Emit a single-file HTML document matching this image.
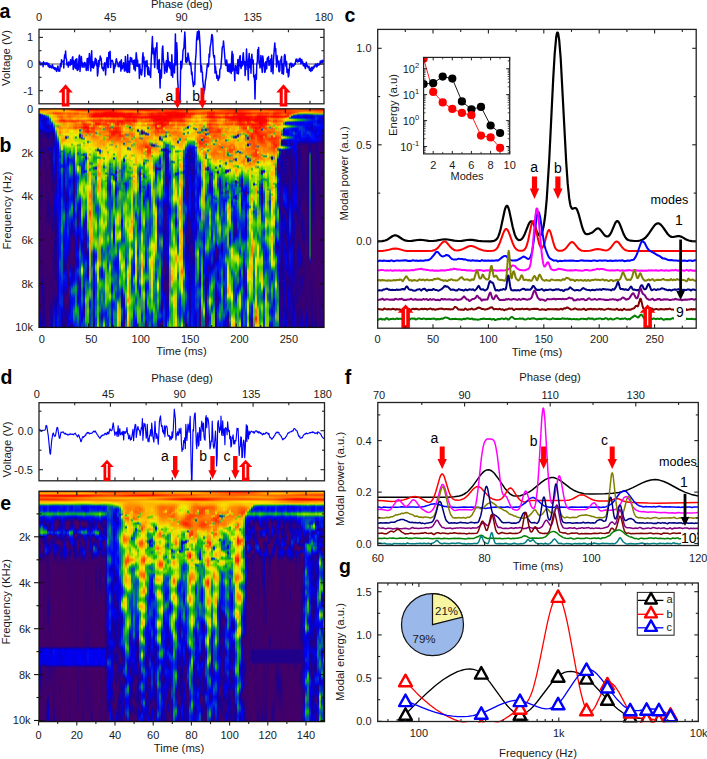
<!DOCTYPE html>
<html><head><meta charset="utf-8"><style>
html,body{margin:0;padding:0;background:#fff;width:707px;height:759px;overflow:hidden}
svg{position:absolute;left:0;top:0;font-family:"Liberation Sans", sans-serif}
.sb i{position:absolute;top:109px;height:218px;display:block}
.se i{position:absolute;top:491px;height:231px;display:block}
</style></head><body>
<div class="sb"><i style="left:39px;width:2px;background:linear-gradient(#ff7300 0,#ff6a00 1px,#fdca00 3px,#b2e200 4px,#011ddb 5px,#0e00b1 6px,#0300e2 7px,#0100f6 11px,#0018e9 14px,#000af3 19px,#0206ea 22px,#0500d8 23px,#240086 25px,#2f007b 34px,#30007a 38px,#150098 41px,#16009b 45px,#19009a 53px,#3f006b 66px,#310079 91px,#3a0070 107px,#3d006d 120px,#3a0070 147px,#3d006d 182px,#370073 197px,#0d00b4 212px,#0c00b8 218px)"></i><i style="left:41px;width:2px;background:linear-gradient(#ff7200 0,#ff6c00 1px,#fec500 3px,#febf00 4px,#50c80b 5px,#0205e6 6px,#0400e0 7px,#0100f2 9px,#0800c9 12px,#000af3 18px,#0200ef 20px,#12009d 23px,#260084 25px,#2f007b 33px,#190091 35px,#390071 37px,#3b006f 39px,#1a0092 41px,#3f006b 46px,#3e006c 73px,#2b007f 86px,#3f006b 110px,#370073 124px,#3d006d 140px,#340076 165px,#0f00aa 175px,#17009b 184px,#330077 197px,#170093 218px)"></i><i style="left:43px;width:2px;background:linear-gradient(#ff7100 0,#ff7100 1px,#fec500 3px,#ffb500 4px,#f0e200 5px,#006d91 6px,#0208e7 7px,#0e00b1 12px,#0b00bf 15px,#0c00b9 16px,#0005f6 19px,#0000fa 20px,#1b008f 24px,#3f006b 30px,#250085 43px,#460064 64px,#3f006b 135px,#3a0070 165px,#1e008c 202px,#0f00ae 218px)"></i><i style="left:45px;width:2px;background:linear-gradient(#ff6f00 0,#ff7800 1px,#fec200 3px,#ffa500 4px,#ffbb00 5px,#57cf00 6px,#0062a2 7px,#000eef 8px,#0a00bf 10px,#0104ef 13px,#0200ea 15px,#0b00be 18px,#0400e0 21px,#0900c4 23px,#1e008d 25px,#280082 29px,#3d006d 32px,#270083 40px,#370073 44px,#310079 95px,#330077 118px,#3d006d 129px,#380072 209px,#310079 218px)"></i><i style="left:47px;width:2px;background:linear-gradient(#ff6d00 0,#ff8000 1px,#ffa800 2px,#ffbb00 3px,#ff9700 4px,#ffae00 5px,#9fe000 6px,#12ad2a 7px,#006996 8px,#011ce3 9px,#0300e6 10px,#000ef0 12px,#0022e2 13px,#0108ef 15px,#0500db 16px,#0e00ae 17px,#170099 18px,#1200a2 19px,#0600d1 21px,#0b00bd 23px,#12009e 25px,#0f00ac 28px,#310079 32px,#330077 37px,#0d00b4 39px,#0d00b4 40px,#330077 43px,#3d006d 50px,#3e006c 82px,#170099 101px,#410069 119px,#3b006f 174px,#3e006c 209px,#350075 218px)"></i><i style="left:49px;width:2px;background:linear-gradient(#ff6c00 0,#ffad00 2px,#ffb000 3px,#ff8100 4px,#ff9000 5px,#f4ea00 6px,#b4e400 7px,#96dc00 8px,#4bbe23 9px,#098464 10px,#0048bb 12px,#0034d5 13px,#0027de 15px,#000cf1 16px,#0200eb 19px,#0300e4 21px,#12009e 24px,#190092 27px,#2f007b 31px,#30007a 37px,#0e00ae 39px,#0c00b8 40px,#290081 45px,#390071 81px,#3a0070 92px,#270083 102px,#3e006c 122px,#40006a 139px,#340076 186px,#21008e 200px,#1700b2 218px)"></i><i style="left:51px;width:2px;background:linear-gradient(#ff6b00 0,#ffb600 2px,#ffa500 3px,#ff6d00 4px,#ff8100 5px,#fad500 6px,#f8e100 7px,#fcce00 8px,#fad700 9px,#b9e400 11px,#7ad600 12px,#1a9e43 13px,#0057a9 14px,#0023e1 15px,#0002f6 16px,#0200ec 18px,#0200eb 21px,#0400db 22px,#150096 24px,#290081 26px,#230087 38px,#13009b 41px,#170093 56px,#380072 95px,#240089 111px,#1e008e 119px,#3e006c 131px,#310079 146px,#350075 187px,#0c00b7 211px,#0b00c0 218px)"></i><i style="left:53px;width:2px;background:linear-gradient(#ff6a00 0,#ffb900 2px,#ff8e00 3px,#ff4200 4px,#ff5c00 5px,#ffb700 6px,#fec000 7px,#ffae00 8px,#f9da00 10px,#fdbb00 12px,#d4d500 13px,#7ed600 14px,#40a448 16px,#0f7b6a 17px,#011edd 20px,#0400e4 22px,#1600b0 25px,#220088 30px,#0d00b6 34px,#0200ef 39px,#001ee5 49px,#0200e9 60px,#230087 74px,#2b007f 81px,#0700d3 93px,#0800ca 103px,#290081 120px,#3c006e 125px,#180096 136px,#2b007f 163px,#370073 182px,#200090 191px,#0805ce 201px,#0b28a7 218px)"></i><i style="left:55px;width:2px;background:linear-gradient(#ff6800 0,#ffc000 2px,#ff8f00 3px,#ff3b00 4px,#ff5100 5px,#ffa000 6px,#ffa300 8px,#f9da00 10px,#ff8c00 12px,#fdc800 14px,#dcd900 15px,#9ddd00 16px,#7ebe25 17px,#8dce00 18px,#f5c100 19px,#bad200 20px,#72d008 21px,#046989 25px,#0025df 28px,#0308df 33px,#0d00b3 43px,#1c0094 66px,#20008d 73px,#0d00b4 81px,#0200ed 88px,#0200ee 97px,#0b00be 103px,#1c008e 108px,#1a0091 135px,#240086 146px,#2a0080 156px,#230087 166px,#3b006f 179px,#0e00ae 196px,#0200ef 209px,#0003f8 218px)"></i><i style="left:57px;width:2px;background:linear-gradient(#ff6500 0,#fec400 2px,#ff9200 3px,#ff3a00 4px,#ff4600 5px,#ff8600 6px,#ff7700 8px,#febb00 10px,#ff6c00 12px,#ffb700 14px,#f3c800 15px,#a3ca00 16px,#809534 17px,#808d35 18px,#fbb200 19px,#ffac00 20px,#fbd000 21px,#fdb600 23px,#fbc600 24px,#bfdf00 26px,#89d900 27px,#50c21b 28px,#098d57 30px,#0054af 32px,#001be7 34px,#0200ee 36px,#000bf2 47px,#0900ca 192px,#0a0bc0 198px,#0c08c1 204px,#0729b2 210px,#0217d9 218px)"></i><i style="left:59px;width:2px;background:linear-gradient(#ff5f00 0,#fdc600 2px,#ff9800 3px,#ff4200 4px,#ff4c00 5px,#ff8100 6px,#ff5600 8px,#ff8500 10px,#ff4d00 11px,#ff2c00 12px,#ff9f00 14px,#dad000 15px,#d5bb00 16px,#ff9400 17px,#ff6c00 19px,#ffa800 21px,#ff7900 23px,#ff8100 24px,#ffa000 25px,#8eb700 26px,#fccc00 27px,#fdc500 28px,#f9dc00 29px,#8fd100 34px,#61a94a 37px,#367f6e 40px,#0a6579 42px,#0048af 43px,#0230c2 44px,#013cb6 45px,#0136be 46px,#061ec6 47px,#0621c2 48px,#013eb6 49px,#0043b7 52px,#0124dc 54px,#0311da 58px,#032fbe 61px,#0200ea 70px,#0400e0 77px,#0300e7 88px,#010eeb 108px,#0029d6 120px,#001ce6 133px,#0018e9 146px,#0032d1 150px,#0059a6 154px,#0037cc 163px,#0016ea 169px,#0016ea 177px,#0015eb 183px,#002dda 194px,#020be7 198px,#010ee8 218px)"></i><i style="left:61px;width:2px;background:linear-gradient(#ff5600 0,#fec500 2px,#ffa000 3px,#ff4f00 4px,#ff5800 5px,#ff8900 6px,#ff5100 8px,#ff6b00 10px,#ff2e00 11px,#ff1c00 12px,#ff9500 14px,#ecc400 15px,#a4bf00 16px,#ffbc00 17px,#ff8900 19px,#fdc100 21px,#ffa900 23px,#fccc00 25px,#a1d100 27px,#febd00 28px,#ffa800 30px,#ffa500 33px,#f8df00 36px,#d2e900 40px,#b4e400 41px,#098069 42px,#028075 43px,#26c007 44px,#07a43a 46px,#068b5e 49px,#07964d 51px,#048d5f 54px,#005bac 55px,#002bdb 56px,#0016ea 57px,#002adc 58px,#069f43 60px,#02876b 63px,#004cbb 67px,#0042cb 71px,#0037d3 77px,#0015eb 86px,#004cbd 91px,#005da9 94px,#0044c6 98px,#028a67 109px,#008a6b 115px,#09a734 120px,#059e46 122px,#0057b0 127px,#0057ac 132px,#028d64 138px,#0061a3 144px,#006498 160px,#0040cb 169px,#010de8 178px,#090ac6 183px,#012bcd 189px,#0028dd 196px,#0104ee 199px,#0d00b5 203px,#0e00b2 208px,#1b008f 212px,#1d009b 218px)"></i><i style="left:63px;width:2px;background:linear-gradient(#ff4a00 0,#ffc000 2px,#ffa200 3px,#ff5800 4px,#ff6200 5px,#ff9a00 6px,#ff7e00 8px,#ff8b00 9px,#ff8300 10px,#ff3a00 11px,#fe1800 12px,#ff4700 13px,#ff8d00 14px,#ff8e00 16px,#ffa900 17px,#ffa000 19px,#f9da00 21px,#fec300 23px,#f7e500 25px,#ffb300 28px,#fbb900 29px,#ff8d00 30px,#ff8d00 31px,#fec000 33px,#f8e000 34px,#d6ea00 35px,#a2e000 36px,#54ce00 37px,#52cd00 38px,#33c209 39px,#1aa33c 40px,#089849 41px,#0062a2 42px,#005ca6 43px,#0035d4 45px,#000cf2 51px,#0300e6 56px,#0800cd 57px,#0800d1 58px,#0918bc 60px,#050cd4 63px,#0b00c4 66px,#0b00bd 75px,#1f0097 81px,#0603d5 91px,#0026dd 99px,#00649d 103px,#049a4f 106px,#07a33c 108px,#028a67 111px,#004fb7 115px,#001de3 121px,#0100f1 129px,#0800cc 133px,#0406df 141px,#0e00b9 152px,#24008a 158px,#170098 161px,#0300e7 164px,#0106f2 165px,#0025df 168px,#0108ed 172px,#0900cb 180px,#3f006b 191px,#2e007c 197px,#1900aa 202px,#1b009c 207px,#280082 210px,#1b0092 218px)"></i><i style="left:65px;width:2px;background:linear-gradient(#ff3a00 0,#ff6f00 1px,#ffbd00 2px,#ffb000 3px,#ff7000 4px,#ff7300 5px,#ff9a00 6px,#ff7f00 8px,#ffa100 10px,#ff2900 12px,#ff5600 13px,#ff9d00 14px,#ff9900 16px,#ffaf00 17px,#ff9c00 19px,#fcce00 21px,#ffb300 23px,#f6e900 25px,#f6ec00 26px,#7c7d74 27px,#281998 28px,#2200a0 29px,#1db127 30px,#fdc300 31px,#f7e700 35px,#8bdb00 38px,#38c700 40px,#0aa731 43px,#00876f 47px,#0041ca 52px,#0014eb 57px,#031dd0 60px,#002dd0 62px,#013abb 66px,#0036c6 76px,#0418d3 79px,#0e00bc 83px,#1c008e 89px,#13009c 92px,#0600d2 95px,#0600d4 98px,#0c00bb 101px,#021bd7 107px,#0300e7 116px,#0007f3 121px,#0100f0 146px,#190099 157px,#1500a4 160px,#0406dd 164px,#0611ce 169px,#0303e3 177px,#2d007d 185px,#460064 191px,#370073 197px,#1800a6 202px,#15009e 207px,#270083 213px,#1c0098 218px)"></i><i style="left:67px;width:2px;background:linear-gradient(#ff2700 0,#ff5b00 1px,#ffb400 2px,#ffaa00 3px,#ff5f00 4px,#ff5700 5px,#ff7e00 6px,#ff6700 8px,#ffa900 10px,#ff3b00 12px,#ff6a00 13px,#ffb700 14px,#ffbe00 15px,#ffb200 16px,#ffc000 17px,#ffb200 18px,#ff8a00 19px,#ffbc00 21px,#feb700 23px,#f7e800 25px,#f6e900 26px,#7fc51c 27px,#33685a 28px,#749369 29px,#b2e300 30px,#f9de00 31px,#fbd000 33px,#eaee00 36px,#aae200 38px,#3cc702 40px,#46ca00 42px,#2ec205 43px,#0db11e 44px,#0050b4 45px,#0048c0 47px,#0021e2 48px,#0200ee 49px,#0900c5 51px,#0201ea 55px,#0026df 58px,#003fc9 60px,#011be1 70px,#0218db 76px,#0008f4 82px,#0200ed 84px,#0b00be 88px,#0800cc 91px,#0206e9 94px,#0318d6 101px,#003dbc 106px,#0028dc 116px,#0042c9 122px,#0105f2 132px,#0600d2 140px,#2d007d 149px,#440066 156px,#350075 164px,#280082 171px,#3f006b 188px,#2c007e 195px,#2e007c 200px,#1000a9 204px,#0500d9 208px,#0500db 218px)"></i><i style="left:69px;width:2px;background:linear-gradient(#fe1800 0,#ff4500 1px,#ffa500 2px,#ffa300 3px,#ff5a00 4px,#ff4c00 5px,#ff7400 6px,#ff5900 8px,#ff8f00 10px,#ff2600 12px,#ffa800 14px,#ffab00 15px,#ff9700 16px,#ffa000 17px,#ff7c00 19px,#fad800 21px,#ebe800 23px,#cde800 25px,#f8e300 27px,#fccf00 29px,#e0d800 31px,#fccc00 32px,#f7e800 36px,#c6e700 38px,#64d200 39px,#31c500 41px,#0dae24 42px,#026c8b 43px,#0060a4 44px,#048c60 45px,#006e92 46px,#0058b0 47px,#027f76 48px,#0027dc 50px,#0116e6 51px,#0040cc 54px,#039a4f 57px,#0fb416 59px,#0eab2c 62px,#005ba5 67px,#0025e0 69px,#0300e7 72px,#0115e4 77px,#0043c3 83px,#0017ea 90px,#0037d3 98px,#006d92 101px,#009062 103px,#018c66 105px,#002dd2 110px,#0f03c1 121px,#2000aa 127px,#1c009a 139px,#30007a 144px,#380072 153px,#1f0090 156px,#0402e0 160px,#0020e3 166px,#0000f8 169px,#0a00c0 174px,#0710ca 178px,#0520c8 182px,#0700d7 192px,#0900cd 197px,#0109ef 206px,#0017ea 210px,#0000f9 212px,#1700a0 216px,#1d0096 218px)"></i><i style="left:71px;width:2px;background:linear-gradient(#fc0d00 0,#ff2e00 1px,#ff9600 2px,#ffa800 3px,#ff6d00 4px,#ff5d00 5px,#ff8400 6px,#ff7300 8px,#ffa800 10px,#ff1e00 12px,#ff4b00 13px,#ff9b00 14px,#ffa000 15px,#ff9200 16px,#ff9f00 17px,#ff8100 19px,#f9db00 21px,#f1ed00 22px,#d7ea00 25px,#f7e700 27px,#fad600 33px,#f0e600 34px,#5fd100 35px,#3fc900 36px,#b6e400 37px,#7fd800 42px,#4bcb02 44px,#09885d 47px,#0045b6 49px,#0220d6 51px,#0124db 54px,#05747e 58px,#0a865f 60px,#077677 64px,#0030cf 68px,#0113e5 71px,#001de3 75px,#0137c0 80px,#010aeb 89px,#0019e6 92px,#002adc 93px,#017f77 96px,#08a636 98px,#0eb021 100px,#07994a 103px,#003bcf 108px,#0008f1 111px,#0900c6 115px,#160095 121px,#1d009e 125px,#3e006c 131px,#3e006c 155px,#1700a2 161px,#0800cb 166px,#0d00b5 171px,#000af3 176px,#0056b2 179px,#007883 181px,#007883 183px,#0028de 187px,#010aee 189px,#000bf2 196px,#0020e3 201px,#020ae3 212px,#250094 218px)"></i><i style="left:73px;width:2px;background:linear-gradient(#fa0200 0,#fe1b00 1px,#ff8700 2px,#ffa000 3px,#ff6400 4px,#ff4c00 5px,#ff7b00 6px,#ff8100 8px,#ffae00 9px,#fdc700 10px,#ff8000 11px,#ff2600 12px,#ff4600 13px,#ff8a00 14px,#ff7500 16px,#ff7e00 17px,#ff5600 19px,#ff8400 20px,#fdc500 21px,#f8e000 22px,#fad900 24px,#ebee00 26px,#b5e400 28px,#b4e400 30px,#f5ee00 34px,#efed00 35px,#a7e100 37px,#5fd100 39px,#29c008 42px,#09a13b 44px,#005aa7 46px,#052eb4 49px,#0f13b5 53px,#0202ee 59px,#0300e2 64px,#0a00c3 66px,#0700d0 68px,#250085 74px,#3e006c 84px,#17009c 92px,#0200ec 96px,#0104f1 100px,#0700cc 107px,#070ecb 111px,#0f19b1 115px,#0900c8 122px,#0a00c3 124px,#2b007f 128px,#310079 133px,#380072 154px,#260084 160px,#0c00ba 166px,#0107ee 172px,#0036d2 175px,#03866a 179px,#058e5c 181px,#006f90 184px,#0021e0 188px,#0118e0 194px,#0028dd 196px,#028969 202px,#03905d 205px,#007587 210px,#001be7 215px,#0003f8 218px)"></i><i style="left:75px;width:2px;background:linear-gradient(#fa0000 0,#fd1000 1px,#ff7900 2px,#ff9700 3px,#ff5800 4px,#ff4100 5px,#ff8000 6px,#ff9000 7px,#ff8900 8px,#febe00 10px,#ff2d00 12px,#ff8100 14px,#ff5b00 16px,#ff7000 17px,#ff3d00 19px,#ff6c00 20px,#ffb400 21px,#fbd300 22px,#fbd100 24px,#f3ed00 26px,#e2ec00 27px,#0ba337 28px,#0d8a59 29px,#a9e100 30px,#bae500 32px,#f1ef00 34px,#f8df00 36px,#a7e100 37px,#ece800 38px,#d6ea00 41px,#cce800 43px,#a1e000 46px,#b6e400 48px,#99de00 51px,#42c902 55px,#36ba1f 56px,#299a4e 60px,#0a8264 62px,#0047bc 65px,#0028dd 66px,#010dec 70px,#0128d1 85px,#006797 90px,#005ca9 95px,#00738b 100px,#0031d7 105px,#001ee3 107px,#045090 112px,#045198 115px,#0026df 120px,#0109ee 124px,#0100f3 131px,#0200eb 137px,#0006f5 143px,#0209e7 148px,#1300b1 153px,#1000ba 156px,#030edb 159px,#0025de 164px,#0017ea 170px,#0046c6 174px,#059f45 178px,#0aaa2d 180px,#027b7c 186px,#037a7b 193px,#05994c 196px,#16bb09 199px,#1ebf03 202px,#0cae24 204px,#0062a2 208px,#0039d1 212px,#0029dd 218px)"></i><i style="left:77px;width:2px;background:linear-gradient(#fa0000 0,#fb0700 1px,#ff6d00 2px,#ff9700 3px,#ff5d00 4px,#ff4500 5px,#ff8600 6px,#ff9500 7px,#ff8700 8px,#ffac00 10px,#ff2300 12px,#ff7800 13px,#fea200 14px,#ff6e00 15px,#ff6c00 16px,#ff8000 17px,#ff4d00 19px,#fea400 20px,#f3d700 21px,#fbd200 23px,#e1e300 24px,#eaee00 25px,#d4ea00 26px,#c6e700 28px,#aae200 30px,#d4ea00 34px,#d6ea00 35px,#259b4b 36px,#47c216 37px,#8ada00 38px,#4bcc00 40px,#25b12d 43px,#004db5 44px,#0059ad 45px,#008374 46px,#17b124 47px,#2ec303 50px,#24bf08 53px,#2b9851 55px,#38a740 56px,#92dd00 57px,#cfe900 58px,#eaec00 59px,#e1eb00 61px,#b7e400 62px,#71d500 63px,#26bb12 64px,#059355 65px,#00649f 66px,#002dd9 68px,#002cd8 70px,#067c73 76px,#1ba638 82px,#0aa92e 86px,#029754 89px,#0057b1 92px,#0021e2 94px,#0009f3 95px,#1000bf 101px,#15009e 106px,#2b007f 110px,#24008e 115px,#0300e7 120px,#0200e9 123px,#0700cd 125px,#140098 127px,#350075 133px,#26008c 137px,#0a04c6 141px,#0219db 146px,#0202e7 150px,#0800cb 154px,#0001f8 158px,#0044c3 161px,#0048ba 163px,#0124d8 165px,#1a00b4 169px,#200aab 174px,#191fa3 178px,#0208e5 185px,#0500dd 187px,#0d00b3 190px,#0a00c0 192px,#0200ee 194px,#000fef 195px,#017f79 199px,#079d45 202px,#049e48 206px,#007784 212px,#003dce 216px,#0037d2 218px)"></i><i style="left:79px;width:2px;background:linear-gradient(#fa0000 0,#fa0100 1px,#ff6900 2px,#ffaa00 3px,#ff6f00 5px,#ff9d00 6px,#ff9a00 7px,#ff8200 8px,#ffbf00 10px,#ff3c00 12px,#ff9a00 13px,#fdac00 14px,#ff7200 15px,#ff7600 17px,#ff4e00 18px,#ff4000 19px,#b1e300 20px,#0224d1 21px,#00896c 22px,#91db00 23px,#60d000 24px,#0056a7 25px,#281c96 26px,#2802a9 27px,#211f9a 28px,#2f687d 29px,#9fe000 30px,#9cdf00 31px,#c6e700 33px,#c9e800 34px,#83d900 35px,#619664 36px,#58be29 37px,#7ad700 38px,#23bf06 41px,#0eb21b 42px,#02915d 44px,#018f62 45px,#08a538 48px,#01896a 52px,#007f7a 54px,#004db1 55px,#0048b5 56px,#049c4b 57px,#40b82c 58px,#68c61d 61px,#4ac01d 64px,#09a536 67px,#049a4d 69px,#08a636 71px,#1dbf03 73px,#a1e000 77px,#c2e600 80px,#abe200 82px,#6ad400 84px,#39c700 85px,#10b514 86px,#004fb8 89px,#001ce6 91px,#0300e4 95px,#0b00c2 100px,#0715c5 106px,#010fe6 111px,#0021e2 116px,#0106ec 124px,#0104ed 131px,#0037c8 138px,#047e74 144px,#007c7e 147px,#0047c5 152px,#0049b8 156px,#097a6d 162px,#086c79 165px,#0621c2 170px,#1c00b1 173px,#1e00a4 181px,#0403de 186px,#0213dd 193px,#0101f2 204px,#0117e5 209px,#010ded 214px,#0212de 218px)"></i><i style="left:81px;width:2px;background:linear-gradient(#fa0000 0,#fa0000 1px,#ff6000 2px,#ffa600 3px,#ff5400 5px,#ff8500 6px,#ff8c00 7px,#ff7e00 8px,#fccb00 10px,#ff3b00 12px,#ff6800 14px,#ff4e00 15px,#ff6400 17px,#ff3300 18px,#ff2600 19px,#ff7200 20px,#769965 21px,#fbaa00 22px,#ff6d00 23px,#ff8500 24px,#c2bd00 25px,#81536f 26px,#855360 27px,#7c737a 28px,#0213e1 29px,#219b4a 30px,#a6e100 31px,#a2e000 32px,#f6e900 35px,#f4e900 37px,#70d500 44px,#0eb31a 45px,#024fa2 46px,#30c500 47px,#4fcd00 48px,#14b80f 50px,#02718a 53px,#002cd4 57px,#001fe4 61px,#0039d1 65px,#049357 69px,#0aaa2c 70px,#47cb00 72px,#94dd00 74px,#c2e600 77px,#cae800 84px,#a2e000 86px,#53cd00 88px,#199b47 91px,#1e9255 94px,#64c912 100px,#7bd600 103px,#76d500 106px,#0db020 113px,#008a6b 116px,#0054b2 118px,#0021e0 121px,#0022e2 129px,#0400e3 133px,#0c00b7 136px,#0b00bb 138px,#0100f5 142px,#0031d7 147px,#0040cd 152px,#0050ba 153px,#009062 155px,#0caf22 156px,#35c600 157px,#a7e100 159px,#d8ea00 161px,#c6e700 163px,#53ce00 166px,#26c300 167px,#09a831 169px,#069a4a 171px,#0ba13a 177px,#0061a3 182px,#00649f 185px,#007b7f 189px,#00659e 193px,#0027de 198px,#0401e3 205px,#0a00c1 209px,#0407db 212px,#0124d7 214px,#004cac 218px)"></i><i style="left:83px;width:2px;background:linear-gradient(#fa0000 0,#fa0000 1px,#ffa500 3px,#ff5d00 5px,#ff8900 6px,#ff8900 8px,#ffba00 9px,#fccd00 10px,#ff7b00 11px,#ff4300 12px,#ff6800 13px,#ff1f00 15px,#ff2b00 17px,#fc0d00 18px,#fb0800 19px,#ff5100 21px,#ff4e00 23px,#ff9200 25px,#ff8f00 27px,#ffa100 28px,#88c104 29px,#035998 30px,#bae500 31px,#ade200 32px,#bde500 33px,#35c600 34px,#9ddd00 35px,#cae000 36px,#97d700 37px,#eeef00 38px,#b9e500 41px,#7dd800 43px,#47b138 44px,#0041bf 45px,#0206ea 46px,#038f5f 47px,#09a733 48px,#0047c6 51px,#001ae5 54px,#0034cf 61px,#0700d0 62px,#0600d4 63px,#003ac8 64px,#017685 65px,#03915c 66px,#01955a 67px,#059f45 68px,#12ba08 69px,#6fd500 73px,#83da00 75px,#61d100 78px,#38c700 81px,#4dcc00 83px,#93dd00 86px,#93dd00 88px,#21bd0b 92px,#1fb61c 95px,#3bbd1b 99px,#279a4c 106px,#0b7e67 108px,#0048ab 110px,#0a20b2 112px,#1d00b5 115px,#1802b9 127px,#1e009a 133px,#270083 138px,#2000a3 143px,#0307e1 149px,#001ae7 154px,#004eb5 158px,#006c92 161px,#005da2 164px,#002cd4 167px,#0326c9 173px,#0222d6 177px,#0600d9 180px,#0f00ac 183px,#0b00be 185px,#0105ec 188px,#0022e2 192px,#0001f8 195px,#0700cf 197px,#1d008d 199px,#30007a 201px,#25008f 204px,#0a05c5 207px,#0424c7 209px,#014ca3 212px,#0040b9 215px,#002ecf 218px)"></i><i style="left:85px;width:2px;background:linear-gradient(#fa0000 0,#fa0000 1px,#ffa400 3px,#ff6700 5px,#ff9400 6px,#ff8800 8px,#ffb800 9px,#fdc700 10px,#ff7e00 11px,#ff5b00 12px,#ff9900 13px,#ff3000 15px,#ff1f00 17px,#fa0100 18px,#fa0000 19px,#fe3800 20px,#ff2600 22px,#ff2b00 23px,#ff5500 24px,#a7d500 25px,#57866e 26px,#caca00 27px,#ffb300 28px,#fbd400 29px,#f8e000 31px,#cde600 32px,#dceb00 33px,#f9dc00 34px,#fad500 37px,#f4ef00 39px,#cee900 42px,#b0e300 43px,#47c60e 44px,#004baf 45px,#07707a 46px,#004caf 47px,#0c00be 48px,#2d008d 49px,#0a00c4 50px,#005bac 51px,#008374 53px,#14b21f 55px,#35c504 57px,#17ba0d 60px,#05a043 61px,#0112e5 62px,#002fd2 63px,#049e49 64px,#059651 66px,#008572 67px,#028174 70px,#089d44 72px,#36c503 74px,#b0e300 77px,#c0e600 79px,#7ad700 84px,#67d300 87px,#31c404 89px,#08a13c 91px,#038370 93px,#048b62 95px,#0aaa2e 98px,#06a042 100px,#0051b4 104px,#001ce6 107px,#060ad3 110px,#2001b1 114px,#1513b0 121px,#0800ce 127px,#1f00a1 138px,#2e007c 141px,#1a0091 145px,#0200ea 149px,#0005f4 150px,#004ebc 154px,#0051b2 157px,#012ad4 164px,#0017ea 167px,#0030d1 170px,#086e79 174px,#0a8560 180px,#098463 184px,#21ab33 187px,#5dd000 190px,#6dd300 192px,#3c9d51 197px,#469e53 201px,#2dbb17 207px,#38c700 210px,#23c200 212px,#11b80e 213px,#007982 216px,#006a96 218px)"></i><i style="left:87px;width:2px;background:linear-gradient(#fa0000 0,#fa0000 1px,#ff9500 3px,#ff3f00 5px,#ff6f00 6px,#ff6b00 8px,#ffaa00 9px,#ffb800 10px,#ff6e00 11px,#ff5100 12px,#fdb400 13px,#fda400 14px,#ff4400 15px,#ff4000 17px,#fd1000 18px,#fb0500 19px,#ff1e00 21px,#fc0f00 22px,#fd1100 23px,#ff6500 25px,#ffa200 26px,#ff9700 27px,#ffb800 28px,#fdc700 29px,#ffb500 31px,#4ecd00 32px,#046689 33px,#56bc2c 34px,#fad600 35px,#f9dd00 38px,#e6ec00 41px,#eadf00 44px,#d3cc00 48px,#809247 49px,#80a630 50px,#9ade00 51px,#dde800 52px,#fad500 55px,#fcb300 59px,#fad900 60px,#92dc00 61px,#9adb00 62px,#cab400 63px,#9fab00 66px,#84be13 70px,#85cc06 72px,#a0de00 75px,#ede700 77px,#fdc800 83px,#f1c900 93px,#c4d600 99px,#add000 102px,#bdc400 107px,#8fda00 111px,#5ed000 114px,#5fd100 118px,#45c708 120px,#067975 125px,#0033ce 129px,#002bd9 131px,#016a91 136px,#005aa1 138px,#022acc 140px,#0800d0 143px,#0b00bc 149px,#0300e6 153px,#0700cf 156px,#170094 158px,#30007a 164px,#20008a 166px,#1100a3 167px,#0200ed 169px,#0011ee 170px,#0052b3 173px,#0061a2 178px,#0bac28 182px,#2fc00d 185px,#5ec223 190px,#64a550 194px,#5ba64c 197px,#71ce0d 202px,#16954e 218px)"></i><i style="left:89px;width:2px;background:linear-gradient(#fa0000 0,#fa0000 1px,#ff5000 2px,#ff8a00 3px,#ff4b00 4px,#ff2800 5px,#ff4500 6px,#ff2c00 7px,#ff3c00 8px,#ff9000 9px,#ff9e00 10px,#ff5500 11px,#ff4a00 12px,#fcb700 13px,#fbb800 14px,#ff3200 15px,#ff5b00 16px,#caa200 17px,#fa8c00 18px,#ff3f00 19px,#fe8800 21px,#ff3a00 22px,#ff3500 23px,#ff6d00 24px,#87a10b 25px,#7e9557 26px,#ffb300 27px,#ffa200 28px,#fdc600 32px,#5dc026 33px,#f5e700 34px,#f8e100 36px,#e5ed00 39px,#96de00 40px,#e3ed00 41px,#ebe600 44px,#65d200 45px,#49a050 46px,#d7e000 47px,#c7e400 49px,#54ce00 53px,#2d7a70 54px,#2e7c6f 55px,#56cf00 56px,#a1df00 58px,#76c623 59px,#08944f 60px,#00935e 61px,#26c202 62px,#c7dd00 63px,#e5bd00 64px,#debb00 65px,#fac200 66px,#e1ec00 74px,#bfe600 75px,#e9ec00 77px,#f9da00 80px,#ff7600 86px,#ff7b00 88px,#ffad00 92px,#ff8500 95px,#feb700 99px,#ffac00 100px,#ff4700 103px,#ff3a00 104px,#ff5900 106px,#ff7800 108px,#ff8700 110px,#ffb000 112px,#feb600 123px,#fba800 127px,#e3aa00 130px,#d89800 132px,#e6b400 137px,#d0ad00 141px,#89b502 147px,#7ab93b 155px,#6d9963 160px,#7db532 168px,#7cc426 170px,#40ad3b 173px,#0d8a5b 176px,#2c9c4b 179px,#5fbd2e 183px,#51ad40 187px,#0d776c 190px,#013eb6 192px,#061dc5 194px,#061cc6 197px,#0131c5 199px,#0056a3 202px,#023bb0 207px,#0639a0 214px,#04429e 218px)"></i><i style="left:91px;width:2px;background:linear-gradient(#fa0000 0,#fa0000 1px,#ff5000 2px,#ff8800 3px,#ff4700 4px,#ff2200 5px,#ff2400 6px,#fc0a00 7px,#fe1b00 8px,#ff8600 9px,#ff9c00 10px,#ff5700 11px,#ff3500 12px,#fcb800 14px,#ff8e00 16px,#f39f00 17px,#fe7500 18px,#fe1500 19px,#ff5600 21px,#ff3c00 22px,#ff3900 23px,#fe9c00 25px,#fba400 26px,#ff7300 27px,#febe00 32px,#e6d600 33px,#e4da00 34px,#fbd300 35px,#f9da00 37px,#e4ed00 39px,#b8e400 45px,#86da00 46px,#86d900 47px,#47ca03 51px,#42c804 53px,#0a934d 54px,#00679a 55px,#4ecc00 56px,#4bcc00 58px,#039a4e 59px,#10b612 60px,#4fcd00 61px,#52c90b 64px,#29b12f 65px,#45b92c 66px,#82d700 67px,#61ad44 71px,#609d5a 73px,#4a8f66 74px,#6ea750 78px,#80973e 85px,#809040 88px,#80a22f 92px,#98b100 95px,#b4b100 98px,#a2b900 103px,#c7c200 109px,#a9c700 115px,#e1ca00 121px,#dcbf00 125px,#f0a400 129px,#debb00 132px,#86d000 136px,#75ae49 140px,#4e7877 142px,#346972 143px,#155c50 145px,#0c5c6d 155px,#27687b 158px,#457875 161px,#326e79 169px,#096878 172px,#0048ac 175px,#034f9a 178px,#11617c 180px,#4c7579 184px,#437776 188px,#0e6d74 191px,#026393 194px,#045994 199px,#074c85 205px,#085a87 210px,#11617d 216px,#11617c 218px)"></i><i style="left:93px;width:2px;background:linear-gradient(#fa0000 0,#fa0000 1px,#ff4800 2px,#ff7000 3px,#ff2400 4px,#fc0b00 5px,#fa0000 7px,#fd0f00 8px,#ff7700 9px,#ff8200 10px,#ff3900 11px,#ff2000 12px,#ff8400 14px,#ff6a00 15px,#ff3400 16px,#ff5500 17px,#ff2300 19px,#ff5900 21px,#ff3f00 23px,#ff6b00 25px,#ff5f00 27px,#ff7c00 28px,#ffbc00 34px,#fec400 37px,#f4eb00 39px,#b8e400 42px,#2ec500 46px,#0aaa2d 48px,#049d49 50px,#0bac28 52px,#1fbb0d 53px,#86d900 56px,#83da00 57px,#098f55 58px,#031fd1 59px,#0148a6 60px,#08954d 61px,#3fc212 62px,#33c209 63px,#26b327 64px,#048071 65px,#0e9847 66px,#38bd1a 67px,#61c51b 69px,#65c129 70px,#56a44e 71px,#5cab46 72px,#379c50 74px,#0a796b 76px,#056589 79px,#14776d 83px,#096a79 87px,#056388 91px,#078467 94px,#0bac2a 97px,#0bac29 100px,#09a930 103px,#1dc000 106px,#80d800 110px,#81d800 113px,#23c005 124px,#2ec402 127px,#72d500 131px,#63d200 134px,#3ec705 136px,#16ad2d 138px,#079450 139px,#004fb2 141px,#002bd8 142px,#0800ce 146px,#0a00c0 150px,#0205e7 154px,#002bda 159px,#0205e7 163px,#0500da 166px,#0105f1 170px,#0104ed 175px,#0700d0 182px,#0b00bd 186px,#0204e9 191px,#0110e9 198px,#130bb7 203px,#090ec2 207px,#0500db 210px,#0c00ba 216px,#0d00ba 218px)"></i><i style="left:95px;width:2px;background:linear-gradient(#fa0000 0,#fa0000 1px,#ff4300 2px,#ff5a00 3px,#fc0d00 4px,#fa0000 7px,#fc0b00 8px,#ff7700 9px,#ff8500 10px,#ff4400 11px,#ff2700 12px,#ff3b00 13px,#fd1300 15px,#ff1c00 16px,#ff6200 17px,#ff7100 18px,#ff5d00 19px,#fda400 22px,#73b53f 23px,#206475 24px,#7aa555 25px,#fdba00 26px,#ff8d00 27px,#ff7e00 28px,#ffbb00 34px,#ffb300 36px,#fcce00 38px,#f6ea00 39px,#79cd12 40px,#658a6d 41px,#43aa41 42px,#a0e000 43px,#24c004 48px,#07717a 49px,#0eb21b 50px,#26c203 53px,#86da00 56px,#2dc400 57px,#004ea9 58px,#2102b0 59px,#2109ab 60px,#489164 61px,#3ac110 62px,#0fab2d 64px,#08a635 66px,#079a48 67px,#006c93 68px,#0061a0 69px,#027188 70px,#0eb31a 72px,#09a930 75px,#24b61e 78px,#44ca00 81px,#38c700 83px,#0bad26 86px,#049e47 89px,#049f46 92px,#007981 95px,#003ccb 98px,#0035d4 101px,#0056b3 103px,#0bac29 107px,#14ba0a 108px,#9cdf00 113px,#bbe500 116px,#ace200 119px,#6bd400 122px,#1fc100 125px,#18bd04 127px,#4ecc00 130px,#96dd00 133px,#a7e100 135px,#8fdc00 137px,#41c900 139px,#12b90a 140px,#0050ba 143px,#001ae8 145px,#020ce5 148px,#0130ca 151px,#076d7b 153px,#5bb834 156px,#76c91d 158px,#5ab636 161px,#086e78 165px,#0250a0 167px,#0224d4 177px,#004eae 187px,#005da6 191px,#0051b4 195px,#008572 204px,#006a96 207px,#003ac9 210px,#0039c5 213px,#00619a 218px)"></i><i style="left:97px;width:2px;background:linear-gradient(#fa0300 0,#fa0000 1px,#ff4000 2px,#ff5900 3px,#fd1100 4px,#fa0000 6px,#fc0a00 8px,#ff6d00 9px,#ff7900 10px,#ff4000 11px,#ff2f00 12px,#ff4600 13px,#fe1800 15px,#ff3000 16px,#ff7900 17px,#ff8800 18px,#ff6a00 19px,#ff7400 20px,#ffac00 22px,#c8b400 24px,#9fa500 25px,#c3e600 26px,#fbad00 27px,#ff7a00 28px,#ff9f00 30px,#ffab00 38px,#95bd00 39px,#175755 40px,#2d007d 41px,#00718d 42px,#f9dc00 43px,#f9dc00 46px,#ecec00 47px,#08a438 48px,#089849 49px,#d3ea00 50px,#ebdd00 52px,#fcc800 54px,#ff8d00 57px,#ff9700 59px,#ffb300 60px,#ff7c00 65px,#ff9b00 67px,#ffb900 68px,#e3dd00 69px,#eae500 70px,#fec100 71px,#ff8400 77px,#ff9c00 81px,#ffa300 82px,#f7e600 85px,#c3e600 87px,#1dbc0a 92px,#008374 95px,#004fb9 97px,#0036d3 99px,#004bbf 103px,#0060a2 107px,#006898 111px,#0aaa2e 117px,#07a539 119px,#007982 123px,#04767f 125px,#1a8565 127px,#5c9b5c 130px,#7bc32d 135px,#8aca00 139px,#88b708 143px,#84b01a 147px,#89b304 149px,#cec100 152px,#f5e000 154px,#f0e600 158px,#ade200 163px,#afe300 166px,#cee800 170px,#ade200 172px,#47c808 175px,#2cb030 178px,#4ccc00 184px,#4ccc00 187px,#17b027 193px,#43c313 199px,#2ec10a 207px,#6bd200 213px,#93db00 218px)"></i><i style="left:99px;width:2px;background:linear-gradient(#fb0700 0,#fa0100 1px,#ff4400 2px,#ff5d00 3px,#fe1500 4px,#fa0000 7px,#fc0b00 8px,#ff6500 9px,#ff6700 10px,#ff2500 11px,#ff1f00 12px,#ff3f00 13px,#ff3a00 14px,#ff1e00 15px,#ff3900 16px,#e7d700 17px,#edde00 18px,#ff6300 19px,#ff6700 20px,#ff8d00 21px,#ff8f00 22px,#ff7b00 23px,#ff7600 25px,#4ac414 26px,#e5b700 27px,#ff9b00 28px,#ffae00 29px,#ff9400 34px,#ffa700 37px,#fbd200 40px,#0025df 41px,#0800ce 42px,#045193 43px,#07598b 44px,#50c90a 45px,#ffb300 46px,#fec300 47px,#7cd800 48px,#039c4d 49px,#89db00 50px,#ffb100 51px,#febf00 54px,#ffac00 57px,#fbd000 61px,#ffb700 63px,#ff8500 65px,#ff9c00 67px,#fccf00 70px,#ffb800 71px,#fcb600 77px,#f7c300 80px,#b4e200 85px,#9fde00 89px,#98de00 93px,#4ccb03 96px,#088b5b 100px,#038172 102px,#049751 105px,#0db11d 107px,#36c600 109px,#7fd800 112px,#8ddb00 115px,#49cb00 119px,#2fc00d 121px,#40be1c 124px,#6cd007 126px,#a7d200 128px,#d7bf00 131px,#d1bf00 134px,#afd000 136px,#89bc00 138px,#83a51b 141px,#96a600 151px,#9abf00 154px,#8ac900 155px,#7ece14 156px,#097671 159px,#02579d 160px,#0236bc 162px,#0234bd 166px,#0046b2 168px,#06747c 170px,#1aa835 172px,#4acb03 175px,#47c01d 178px,#0a7c6a 182px,#03638f 185px,#026194 191px,#005d9c 194px,#138464 199px,#167a6c 202px,#0a6c74 203px,#034e97 205px,#093b91 209px,#156c76 218px)"></i><i style="left:101px;width:2px;background:linear-gradient(#fc0a00 0,#fb0300 1px,#ff4200 2px,#ff4e00 3px,#fc0b00 4px,#fa0000 7px,#fc0b00 8px,#ff7400 9px,#ff7800 10px,#ff3300 11px,#ff3200 12px,#ff6200 13px,#ff6600 14px,#ff3e00 15px,#ff5500 16px,#fea100 17px,#ffa000 18px,#fbb100 19px,#7cac44 20px,#82d10c 21px,#ff9500 22px,#ff7600 23px,#ff9c00 27px,#ffb400 28px,#ffa300 30px,#ff9300 32px,#ffb300 37px,#fad600 40px,#bdda00 41px,#7da940 42px,#83c114 43px,#b5d600 44px,#fcc400 45px,#fad100 47px,#d0e900 48px,#65d200 49px,#f6ec00 50px,#fbcf00 51px,#eddc00 53px,#b7e400 56px,#87d800 57px,#6dd300 60px,#aee200 66px,#98de00 69px,#3ac800 71px,#44ca00 72px,#1db61a 74px,#10a930 76px,#0caa2d 77px,#45ca00 80px,#7ed800 83px,#77d600 86px,#46ca00 91px,#62d100 93px,#ace200 96px,#bde500 98px,#8ada00 102px,#6ed400 105px,#8fdb00 108px,#cfe900 111px,#d7e100 115px,#87d500 121px,#6ec918 124px,#75d400 127px,#c4e600 130px,#d5e800 132px,#cee900 133px,#b3e300 134px,#47cb00 136px,#15b31c 137px,#006f8f 139px,#0055b0 140px,#0048c0 142px,#0063a0 146px,#0062a2 150px,#049f46 154px,#06a23e 155px,#059b4b 156px,#0062a1 158px,#0015eb 160px,#0500db 162px,#0a00c3 164px,#0300e5 167px,#0001f8 168px,#0044c8 170px,#029459 172px,#10b611 174px,#12b90b 176px,#007489 181px,#006e91 183px,#0c9051 187px,#169153 191px,#067c74 194px,#0123dd 202px,#1100c0 207px,#0c11b9 211px,#023db2 214px,#066386 218px)"></i><i style="left:103px;width:2px;background:linear-gradient(#fc0c00 0,#fb0500 1px,#ff3d00 2px,#ff3900 3px,#fa0000 4px,#fa0000 7px,#fe1c00 8px,#ff9800 9px,#ff9a00 10px,#ff4900 11px,#ff3800 12px,#ff6b00 13px,#ff2a00 15px,#ff4000 16px,#ff7d00 17px,#ff8800 18px,#d39c00 19px,#326979 20px,#7eaf2e 21px,#ff8000 22px,#ff6c00 23px,#ff8800 25px,#ff8500 27px,#86da00 28px,#24bf08 29px,#9dc600 30px,#899e01 31px,#fcb200 32px,#ff9900 33px,#ff9300 36px,#fdca00 39px,#eceb00 47px,#ddea00 48px,#42bc23 49px,#11b70f 50px,#d4ea00 51px,#a4e100 53px,#1dbf02 56px,#028272 57px,#0025df 58px,#038869 59px,#19b41e 60px,#55ce00 63px,#b7e400 67px,#c3e700 69px,#aae200 71px,#5bd000 72px,#47cb00 73px,#5dd000 74px,#54c711 76px,#67d005 78px,#b6e400 81px,#cfe900 86px,#9ddf00 90px,#69d300 93px,#70d500 95px,#cfe900 100px,#bbe500 103px,#53cb06 107px,#3cba25 110px,#60d000 113px,#bce500 116px,#c3e200 118px,#a0de00 120px,#5ecb0c 122px,#2aa83a 125px,#31b32f 129px,#45c60c 133px,#19bf00 137px,#079353 141px,#00659c 144px,#0058a8 147px,#07806c 150px,#5dc910 154px,#7bd500 156px,#6fce0d 158px,#137d69 162px,#0043b4 165px,#003ac3 168px,#049e48 176px,#06a33d 179px,#005ca9 184px,#004cb3 189px,#007883 197px,#0050af 201px,#0020e3 204px,#0022e2 207px,#0046c6 209px,#08a636 212px,#20bb0e 213px,#6dd400 215px,#94dc00 218px)"></i><i style="left:105px;width:2px;background:linear-gradient(#fc0d00 0,#fb0800 1px,#ff3800 2px,#fa0000 4px,#fa0000 7px,#fd1300 8px,#ff8a00 9px,#ff8f00 10px,#ff3b00 11px,#fe1a00 12px,#ff4300 13px,#ff4a00 14px,#ff3600 15px,#ff3600 16px,#ff6800 17px,#ff6a00 18px,#ff4300 19px,#ff4a00 20px,#ff6e00 21px,#ff6a00 23px,#ff8600 24px,#ff8d00 25px,#ff6800 27px,#cdcf00 28px,#ff9f00 29px,#ff8800 30px,#fea700 31px,#ff9700 32px,#fec300 37px,#d5d400 38px,#76d500 39px,#d6e700 40px,#fccc00 41px,#f7e600 48px,#ecee00 53px,#a1df00 57px,#6aa257 58px,#679b5f 59px,#83d800 60px,#a4e000 62px,#a0de00 63px,#0e924f 64px,#088b5c 65px,#ace200 66px,#a4e000 67px,#82d900 68px,#3bc409 69px,#83d900 70px,#52cd00 71px,#0fab2d 72px,#62d200 73px,#6fd500 74px,#3ec508 79px,#41c900 81px,#89db00 85px,#8cdb00 87px,#66d300 89px,#21be09 91px,#049e47 93px,#018d65 95px,#039458 96px,#1cb816 98px,#42c900 99px,#a2e000 101px,#c9e800 103px,#b6e400 105px,#76d600 108px,#79d600 110px,#b6e400 114px,#9ddf00 116px,#2ac300 119px,#10b514 120px,#029a51 122px,#058668 125px,#17a33a 131px,#0aa92f 134px,#017685 140px,#007982 144px,#049d49 148px,#10b21d 150px,#4dc219 154px,#50c611 158px,#36c700 162px,#60c814 167px,#85d800 173px,#aade00 178px,#9dda00 181px,#6ecb12 184px,#56c023 187px,#57cf00 192px,#4fcd00 194px,#20c100 196px,#0eb21b 197px,#003fcd 201px,#000af2 204px,#0121d8 210px,#0047b1 216px,#0047b0 218px)"></i><i style="left:107px;width:2px;background:linear-gradient(#fc0e00 0,#fc0a00 1px,#ff3700 2px,#fa0000 4px,#fb0900 8px,#ff7900 9px,#ff8e00 10px,#ff4900 11px,#ff2600 12px,#ff7900 14px,#ff7800 15px,#fe1e00 16px,#ff4800 17px,#ff4800 18px,#ff2a00 19px,#ff5b00 21px,#ff6000 23px,#ff8700 24px,#ff8d00 25px,#ff6900 26px,#ff5f00 27px,#aaab00 28px,#feac00 29px,#ff5b00 30px,#ffa700 33px,#fad600 35px,#f9dc00 40px,#fbd000 42px,#43ca00 43px,#79d600 44px,#fdc600 45px,#fbd200 48px,#dfec00 51px,#8fdb00 55px,#74d009 58px,#5c995e 63px,#448c67 64px,#0a766e 65px,#407d71 66px,#0a5f7c 69px,#0246a3 72px,#02469f 74px,#0927ac 79px,#0b5d71 86px,#05618c 91px,#0044bd 95px,#00619d 98px,#098660 100px,#3bb134 103px,#3bb927 106px,#1e9057 111px,#0d786c 116px,#005f9f 121px,#016d8e 123px,#0c924e 125px,#55cb07 128px,#72d500 130px,#4dcc00 132px,#12b024 134px,#005da7 137px,#0039d1 139px,#0042c9 142px,#027288 147px,#006e91 151px,#003fcb 156px,#0057b1 159px,#0ea535 163px,#46bb27 166px,#4bc415 173px,#72d400 176px,#99dc00 179px,#6cd300 185px,#5fd100 188px,#17ba0d 192px,#007785 197px,#0057b0 200px,#005e9f 205px,#0123da 211px,#031fcf 218px)"></i><i style="left:109px;width:2px;background:linear-gradient(#fc0e00 0,#fc0d00 1px,#ff3600 2px,#fa0000 4px,#fa0000 7px,#ff1c00 8px,#ff8600 9px,#ff8c00 10px,#ff3d00 11px,#fe1700 12px,#ff2900 13px,#ff6900 14px,#ff6a00 15px,#fe4e00 16px,#f39400 17px,#807e3e 18px,#80692b 19px,#ff3400 20px,#ff4600 21px,#ff2c00 22px,#ff2900 23px,#ff4d00 24px,#ff5b00 25px,#ff3400 28px,#ff3200 29px,#ff7100 31px,#fbca00 33px,#febe00 34px,#c3d400 35px,#7d9c4f 36px,#d1dd00 37px,#f8e000 38px,#f4ee00 39px,#d4ea00 40px,#c6e700 41px,#f6e900 43px,#fbd300 45px,#f7e300 47px,#d2e900 49px,#59cf00 52px,#0daf21 54px,#057e73 55px,#026592 56px,#00886d 57px,#004cbd 61px,#0044bc 65px,#0151a3 69px,#0234be 73px,#0412d4 76px,#0708d1 79px,#070ecc 83px,#0028db 87px,#0043ca 92px,#0040cc 102px,#00619e 110px,#025e97 119px,#037781 127px,#008a6a 131px,#0059ac 137px,#017487 140px,#068e5b 142px,#05905a 144px,#0052b8 148px,#0056b2 150px,#008473 152px,#0fb319 154px,#2ac302 155px,#72d500 157px,#91dc00 159px,#81d900 161px,#37c700 165px,#4ccc00 168px,#6ed400 171px,#3cc606 177px,#21ba12 181px,#38c700 183px,#9fe000 186px,#ace200 188px,#74d600 190px,#44ca00 191px,#09a239 193px,#027386 195px,#00639a 197px,#037a7b 200px,#088e57 203px,#00718c 210px,#037f75 213px,#149b45 216px,#1c9f42 218px)"></i><i style="left:111px;width:2px;background:linear-gradient(#fd1000 0,#fd1100 1px,#ff3200 2px,#fc0a00 3px,#fa0000 7px,#fc0900 8px,#ff6600 9px,#ff7800 10px,#ff3400 11px,#fe1500 12px,#ff2f00 13px,#fad800 15px,#b6e400 16px,#72d500 17px,#2f7f6d 18px,#467e72 19px,#ff7d00 20px,#ff6500 21px,#ff3200 22px,#fd1300 23px,#fe1a00 26px,#ff4a00 28px,#ff5f00 30px,#ff7a00 31px,#81b81f 32px,#91b100 33px,#fbc900 34px,#89b702 35px,#807f66 36px,#e8d700 37px,#fbd200 38px,#e3ed00 42px,#f0ef00 44px,#71d500 51px,#51cd00 54px,#1f9650 55px,#2f8e60 56px,#1db322 57px,#048d60 59px,#007587 61px,#007d7c 63px,#016b8f 64px,#040cd9 65px,#0033d6 66px,#11b70f 67px,#44ca00 68px,#29bc12 69px,#3bc800 70px,#9add00 71px,#93dc00 72px,#57ca0c 74px,#149351 77px,#16895f 80px,#1f9157 83px,#088268 86px,#0026db 94px,#0031d1 97px,#0a9051 102px,#1ca23e 106px,#0db11e 112px,#0d9d40 116px,#1c8c5d 119px,#42b433 122px,#63d100 124px,#8ddb00 126px,#85da00 128px,#25c104 132px,#05a043 136px,#068c5e 140px,#0cad26 146px,#058a62 149px,#006c94 151px,#00659d 153px,#047e75 157px,#005da6 161px,#0048c0 164px,#0058b0 166px,#029953 170px,#019160 172px,#003dce 175px,#0009f3 177px,#0200eb 181px,#0014eb 183px,#0050b9 185px,#008176 187px,#018570 188px,#00659d 190px,#002cdb 192px,#0208e4 195px,#011edc 203px,#0200e9 209px,#0500da 216px,#0500dc 218px)"></i><i style="left:113px;width:2px;background:linear-gradient(#fd1200 0,#fe1500 1px,#ff3d00 2px,#fd1300 3px,#fa0000 4px,#fb0500 8px,#ff6000 9px,#ff7900 10px,#ff3500 11px,#fe1500 12px,#ff5600 14px,#ff6800 15px,#fe8c00 16px,#ff8d00 17px,#ff2400 19px,#ff3d00 21px,#fe1800 22px,#fb0900 23px,#fe1900 26px,#ff5700 28px,#ff7100 32px,#fdc700 38px,#fbd400 42px,#f1ed00 44px,#12ba09 45px,#12ba09 46px,#deec00 47px,#94dd00 48px,#0017ea 49px,#0126d6 50px,#59ac44 51px,#a4e100 52px,#74d600 56px,#2dc109 59px,#16b123 61px,#029a52 62px,#059d49 63px,#029557 64px,#00708f 65px,#0012ed 66px,#0022e2 67px,#004cac 68px,#0146a7 70px,#097770 71px,#6fd300 72px,#cee900 73px,#c9e800 75px,#63d100 80px,#43ac3e 84px,#0f9e40 89px,#1fc100 95px,#63d200 102px,#4fcd00 104px,#16ba0c 106px,#008078 109px,#003dcc 114px,#010fea 116px,#0700d2 118px,#0a00c3 120px,#0001f7 125px,#000df0 133px,#003fcd 136px,#079253 140px,#139f3f 143px,#06984c 145px,#005aac 149px,#0023e1 152px,#0008f3 155px,#0028dd 160px,#02787f 170px,#00619c 176px,#078367 181px,#12bb07 186px,#20bb10 188px,#15b31d 189px,#07a33c 190px,#003dcf 193px,#0017e9 195px,#0024e0 198px,#00896c 204px,#018c67 207px,#037780 211px,#0ea337 218px)"></i><i style="left:115px;width:2px;background:linear-gradient(#fd1400 0,#fe1900 1px,#ff5100 2px,#ff3300 3px,#fa0000 4px,#fb0600 8px,#ff6700 9px,#ff8e00 10px,#ff2400 12px,#ff3a00 13px,#ff3800 14px,#fe1b00 15px,#ff5e00 17px,#ff4d00 18px,#ff1c00 19px,#ff1f00 21px,#fb0500 23px,#ff3100 25px,#ff5d00 29px,#ff5600 31px,#ffa500 34px,#ffaa00 36px,#51b239 37px,#4ac218 38px,#fdc700 39px,#f8df00 43px,#daeb00 45px,#a1e000 48px,#5fd100 50px,#42ca00 52px,#25a43e 56px,#036390 59px,#004baf 61px,#0100f2 62px,#330077 63px,#2c007e 64px,#0010ef 65px,#0040c1 66px,#003ec4 67px,#0111e6 68px,#23009d 69px,#2a0085 70px,#0800cd 71px,#0115e7 72px,#0043b6 73px,#005fa2 74px,#0036cc 77px,#0022e0 78px,#0500de 81px,#0700cf 82px,#0100f3 85px,#0026df 87px,#0058b0 90px,#0044c1 95px,#00619f 98px,#16b027 102px,#35c600 104px,#ade200 112px,#a9e100 114px,#57cd04 118px,#64cf03 121px,#93d900 124px,#7fd309 130px,#0eb21b 135px,#0caf22 137px,#41c707 142px,#2bb91c 144px,#13a832 145px,#0044bd 148px,#0022e1 149px,#0400e1 153px,#0109ec 160px,#0030d3 163px,#026d8b 166px,#056e83 169px,#014ea4 173px,#066187 176px,#118364 179px,#098167 181px,#003ebd 185px,#0041bc 188px,#006e91 192px,#004cba 199px,#005ea7 201px,#05984f 205px,#049456 208px,#008a6a 211px,#06a141 218px)"></i><i style="left:117px;width:2px;background:linear-gradient(#fe1700 0,#ff1e00 1px,#ff6000 2px,#ff5100 3px,#fb0500 4px,#fb0700 8px,#ff5600 9px,#ff7a00 10px,#ff3700 11px,#fd0f00 12px,#ff2200 14px,#fd1500 15px,#ff1b00 16px,#ff4c00 17px,#ff4d00 18px,#ff2200 19px,#ff3600 21px,#fd1400 23px,#ff4700 26px,#ff3400 27px,#ff5100 29px,#ff4f00 31px,#ff8a00 33px,#fec100 35px,#fccc00 42px,#fcb800 44px,#f2c500 48px,#dcc600 50px,#cde500 51px,#bbe200 52px,#a5cd00 53px,#82ca11 55px,#5b9663 59px,#5c9d5a 62px,#597779 63px,#577170 64px,#61a74d 65px,#43ae3b 71px,#34a345 72px,#248467 73px,#09796c 75px,#055793 78px,#003fba 79px,#022bc9 80px,#023caf 81px,#095d81 82px,#37915e 88px,#299752 92px,#128b5a 97px,#25a73b 100px,#66d200 103px,#b7e400 105px,#e9d600 108px,#efd100 112px,#d9e300 114px,#95de00 116px,#4ccc00 118px,#38c700 119px,#3dc605 121px,#6ad300 123px,#c1e600 126px,#cfe900 128px,#a0e000 130px,#2bc400 132px,#09a831 133px,#005fa6 135px,#0048c1 136px,#0042c6 138px,#0061a2 142px,#003cc8 145px,#0026dd 146px,#0911c0 151px,#000dee 157px,#0116e3 164px,#0032ce 167px,#044d92 173px,#0042ba 179px,#003cc6 182px,#0124d9 184px,#0227cb 187px,#0040b7 189px,#077972 191px,#39b72b 193px,#5cca0c 194px,#a6d900 196px,#eebe00 203px,#f9d000 209px,#c3d600 218px)"></i><i style="left:119px;width:2px;background:linear-gradient(#fe1a00 0,#ff2400 1px,#ff6400 2px,#ff5900 3px,#fb0600 4px,#fc0900 7px,#fe1800 8px,#ff7600 9px,#ff9000 10px,#ff3800 11px,#fb0500 12px,#fc0c00 13px,#ff4700 14px,#ff4d00 15px,#ff7200 16px,#ff7b00 17px,#ff6c00 18px,#ff4600 19px,#ff4400 20px,#ff5700 21px,#ff1f00 23px,#ff2a00 25px,#ff1b00 26px,#ff2200 27px,#ff4e00 29px,#ff8900 34px,#ffb000 37px,#fdbb00 43px,#fead00 47px,#f1d200 51px,#b6d800 55px,#9ad700 58px,#6eab4b 60px,#538e68 61px,#1e647d 62px,#508f67 63px,#478a69 67px,#378a66 68px,#38925e 70px,#30925b 71px,#27816a 72px,#1f8863 73px,#0a796b 74px,#08657f 75px,#14756f 76px,#0d8264 77px,#046f85 78px,#027188 79px,#098c57 81px,#3cab3c 82px,#52c31a 83px,#5dc31f 87px,#249356 93px,#29a046 97px,#67c818 104px,#94d100 107px,#9ebe00 110px,#88b806 112px,#6fb242 115px,#399f4c 117px,#22af2e 119px,#30be11 120px,#56ce00 121px,#c3e600 123px,#eaea00 124px,#f9dc00 127px,#c9e200 129px,#4fc909 131px,#1fb02c 132px,#079451 133px,#018076 134px,#007982 135px,#00935e 137px,#11b80d 139px,#7ed900 142px,#cee800 145px,#d6e700 148px,#b5e400 150px,#60d100 153px,#4dc219 155px,#3fa447 159px,#0a8f53 162px,#058b60 164px,#09a930 167px,#1cc000 169px,#54ce00 172px,#4bcc00 174px,#26bc11 176px,#089f40 178px,#006499 181px,#003fb9 184px,#035499 187px,#157570 189px,#77a259 196px,#85bd10 199px,#abbf00 201px,#c0c100 204px,#a6d300 211px,#85d103 213px,#72b242 216px,#6fab4c 218px)"></i><i style="left:121px;width:2px;background:linear-gradient(#ff1c00 0,#ff2a00 1px,#ff6900 2px,#ff6600 3px,#fc0a00 4px,#fb0400 6px,#fe1500 8px,#ff6b00 9px,#ff8800 10px,#ff3300 11px,#fb0400 12px,#ff1e00 14px,#ff3d00 15px,#ff4700 16px,#ff7b00 17px,#ff9a00 18px,#ff7f00 19px,#ff8200 20px,#ff9e00 21px,#ff6900 23px,#c69900 24px,#fc9600 25px,#ff4100 26px,#ff3900 27px,#ff4b00 28px,#fd9800 29px,#63c61b 30px,#fcaa00 31px,#ff8100 32px,#ff8300 34px,#fcb600 35px,#fad700 38px,#fccf00 39px,#efe600 42px,#b6e400 43px,#f0e800 44px,#f7e600 48px,#e6eb00 49px,#82d900 51px,#43ca00 52px,#1cb912 53px,#059454 55px,#004fb9 62px,#003fc5 66px,#0058ac 69px,#007a80 71px,#046c88 72px,#07964d 73px,#15a834 75px,#1baf2b 78px,#0e934f 81px,#119c42 82px,#28b71f 83px,#25b12d 87px,#179055 92px,#098561 97px,#01708c 101px,#006e91 106px,#0030d8 110px,#0006f6 112px,#0107eb 117px,#001ce6 119px,#0051aa 124px,#0050a8 127px,#0030d7 131px,#0040cc 133px,#079f41 137px,#13b41a 139px,#2dc400 143px,#60d100 147px,#6cd400 152px,#e7ed00 157px,#dceb00 159px,#3fc900 164px,#14b90c 168px,#0cad26 174px,#01876d 177px,#0027de 180px,#0600da 182px,#1000a8 185px,#1e0095 194px,#0e00ba 196px,#0602d9 197px,#002cd6 199px,#006399 201px,#036d89 203px,#012acf 211px,#0a02c8 214px,#1e00a3 218px)"></i><i style="left:123px;width:2px;background:linear-gradient(#ff1d00 0,#ff2d00 1px,#ff7200 2px,#ff8300 3px,#ff2200 4px,#fa0100 5px,#fc0a00 6px,#fa0100 8px,#ff6500 10px,#ff2c00 11px,#fe1700 12px,#ff3b00 13px,#ff4300 14px,#ff3400 15px,#ff7100 16px,#ff9b00 17px,#fbd300 20px,#fad900 21px,#ff9e00 23px,#fead00 24px,#ff6100 26px,#ff4f00 27px,#ff6100 28px,#ff6400 30px,#ff7900 32px,#fab800 33px,#148166 34px,#0046af 35px,#82ac20 36px,#ffb900 37px,#f7e800 39px,#e5ed00 41px,#e8ea00 44px,#d6ea00 46px,#98dd00 47px,#63c225 48px,#0cae24 49px,#0028de 50px,#0900c8 51px,#0800cf 52px,#0044b7 53px,#09a03d 54px,#00669c 56px,#003ec8 58px,#0043c4 60px,#068d5c 65px,#09a338 70px,#07a43a 72px,#06994b 73px,#045397 74px,#042fb9 75px,#03678e 76px,#0c8363 77px,#198b5d 82px,#28ac35 85px,#0b895a 90px,#29a73b 93px,#5acf00 96px,#80d800 99px,#7ad800 102px,#1bbc09 107px,#1db127 110px,#39b331 115px,#09934f 121px,#037284 126px,#0040c6 130px,#0045c5 132px,#006e90 134px,#0eb21c 137px,#1dbe06 140px,#0aab2b 143px,#069b48 146px,#23b12b 149px,#6ad200 152px,#9ede00 154px,#aae000 156px,#5fd000 161px,#96dd00 166px,#7ed800 169px,#32c208 173px,#17bc08 178px,#15bb08 180px,#09954b 183px,#003dba 186px,#071bc4 188px,#1e00b2 192px,#1800b9 196px,#0300e8 200px,#0600d5 203px,#190097 208px,#320078 216px,#330077 218px)"></i><i style="left:125px;width:2px;background:linear-gradient(#ff1c00 0,#ff2c00 1px,#ff7800 2px,#ff9300 3px,#ff3500 4px,#fb0700 5px,#fe1900 6px,#fa0000 8px,#ff3600 10px,#fd1400 11px,#fc0b00 12px,#ff5900 14px,#ff5f00 15px,#f7e200 16px,#57c810 17px,#aae000 18px,#ffaa00 19px,#ff9f00 20px,#fec500 21px,#ffba00 22px,#ff9100 23px,#f3b900 24px,#707677 25px,#7c7777 26px,#649863 27px,#aee200 28px,#ff6600 29px,#ff9700 36px,#f8df00 39px,#f7e600 42px,#eaec00 45px,#79d208 46px,#79a25a 47px,#8cd900 48px,#f2e600 49px,#c1e600 50px,#5fc912 51px,#5bd000 52px,#73d600 53px,#28c105 55px,#0bac28 57px,#09a831 58px,#11b70f 60px,#27c300 61px,#26c007 62px,#38c10f 63px,#69d300 64px,#7ed800 65px,#5fce05 68px,#19a13e 71px,#00639d 73px,#001ae8 74px,#0109ed 75px,#001be7 79px,#0058aa 82px,#059159 84px,#11a733 88px,#26b12c 91px,#5ed000 94px,#8bda00 96px,#8cda00 99px,#6cd300 104px,#d1e900 115px,#bce500 118px,#16bd03 125px,#09a733 130px,#018f62 136px,#00659a 141px,#0054b4 147px,#002adc 151px,#0040ba 155px,#007a80 161px,#0aab2b 165px,#0aab2b 167px,#006d92 172px,#017a7e 175px,#17b220 180px,#4acc00 183px,#62c912 186px,#63b13f 190px,#3aae39 196px,#0c8560 199px,#004ba9 202px,#0b2e9f 207px,#0f6679 213px,#278964 218px)"></i><i style="left:127px;width:2px;background:linear-gradient(#fe1a00 0,#ff2900 1px,#ff7500 2px,#ff8a00 3px,#ff2000 4px,#fa0000 5px,#fd1200 6px,#fa0000 8px,#ff2d00 10px,#fc0f00 11px,#fb0500 12px,#ff5300 14px,#ff4f00 15px,#ff8600 16px,#70d202 17px,#64d200 18px,#ff9a00 19px,#ff9d00 20px,#fec400 21px,#ffbe00 22px,#ff9700 23px,#fdad00 24px,#808834 25px,#818a24 26px,#818a27 27px,#d5cf00 28px,#ff7800 29px,#ff7c00 32px,#829320 33px,#d3bb00 34px,#ffaa00 35px,#febc00 37px,#79d600 38px,#0042c0 39px,#0f5c5f 40px,#7cad3f 41px,#f9de00 42px,#f8e100 48px,#f8e000 49px,#a5e000 50px,#cde200 51px,#cfe500 52px,#b7e400 53px,#88d900 54px,#58cf00 58px,#61d100 61px,#2cac36 62px,#079a49 63px,#17b90f 64px,#3bc800 65px,#089351 70px,#0054ad 73px,#003dc6 76px,#0056ad 78px,#028b65 80px,#16bc07 82px,#80d900 85px,#8cdc00 87px,#63d200 89px,#25c103 91px,#1fb02a 94px,#4dbf20 98px,#2eb32d 104px,#62d100 107px,#97dd00 109px,#9bde00 111px,#60d100 115px,#77d600 117px,#bfe600 120px,#cbe800 122px,#44ca00 131px,#0cae23 134px,#049258 137px,#037f74 142px,#0ba534 147px,#0c9051 151px,#1a8c5c 154px,#56bd2b 157px,#8fd800 159px,#eee500 163px,#fdbe00 166px,#f5e400 171px,#d2e900 175px,#fbcc00 181px,#fdbe00 182px,#f8e300 185px,#fccf00 188px,#ff8c00 191px,#ff8800 192px,#f9db00 195px,#e7eb00 196px,#a1e000 198px,#8fdd00 200px,#e6e400 205px,#fbd400 210px,#ffad00 216px,#ffb500 218px)"></i><i style="left:129px;width:2px;background:linear-gradient(#fe1600 0,#ff2200 1px,#ff7200 2px,#ff8400 3px,#fe1600 4px,#fa0000 5px,#fc0e00 6px,#fa0000 8px,#fd1000 9px,#ff3300 10px,#fc0a00 12px,#ff4e00 14px,#ff4600 16px,#e2d300 17px,#004fb2 18px,#005da2 19px,#9aae00 20px,#b1bc00 22px,#ff8700 23px,#ff6a00 24px,#ff8000 27px,#fcb500 30px,#ff9800 31px,#bfc100 32px,#807866 33px,#ffac00 34px,#fcc700 38px,#7f9253 39px,#676d2f 40px,#64735c 41px,#d7ea00 42px,#f6eb00 43px,#fbd100 47px,#fec500 49px,#fccc00 50px,#c4d900 51px,#97d200 52px,#e8e900 53px,#97dd00 57px,#5ac519 58px,#357a72 59px,#51ca09 60px,#5dd000 61px,#4ccc00 62px,#0aaa2d 63px,#26c104 64px,#3ac604 66px,#3dc800 67px,#0eb319 68px,#026292 69px,#199f41 71px,#11b417 72px,#06a23e 75px,#16b617 78px,#4dcc00 81px,#6fd500 83px,#3ec800 90px,#16bc05 93px,#039c4c 97px,#06a33e 99px,#20be08 102px,#bae500 112px,#d2de00 117px,#fbc900 120px,#ffb200 122px,#f3ef00 126px,#f7e600 127px,#fdc600 128px,#f7e500 130px,#b3e300 132px,#67d300 134px,#4ccc00 136px,#6bd400 138px,#d1e900 142px,#e3ec00 148px,#8edb00 153px,#98dd00 155px,#c8da00 158px,#ccd100 162px,#a3c200 166px,#84c80a 168px,#67c02c 170px,#3dad3b 173px,#4bbc27 177px,#5fa84b 184px,#7cc329 187px,#8bcb00 189px,#b6d700 192px,#a3df00 194px,#4bcc00 197px,#41c804 199px,#68d200 204px,#4ac60d 210px,#499165 216px,#498e67 218px)"></i><i style="left:131px;width:2px;background:linear-gradient(#fd1100 0,#ff1b00 1px,#ff7200 2px,#ff8d00 3px,#ff1e00 4px,#fa0200 5px,#fe1a00 6px,#fa0000 8px,#fe1700 9px,#ff4300 10px,#ff2000 11px,#fd1100 12px,#ff6600 14px,#ff6d00 15px,#ff5400 16px,#ffa100 18px,#bea700 19px,#88ab06 21px,#88b009 22px,#fda600 23px,#ff6800 24px,#ff5e00 27px,#ff7300 28px,#c3cf00 29px,#0aa13a 30px,#ffa900 31px,#ffa000 32px,#ffbd00 34px,#c3c900 35px,#7d856c 36px,#48b730 37px,#ffb400 38px,#fccf00 42px,#f8e000 45px,#7dc721 46px,#7dbf27 47px,#f8e100 48px,#f5ef00 51px,#a6e000 52px,#b4e300 53px,#dde900 54px,#b0e200 58px,#83d406 59px,#7bbd35 60px,#75ca19 61px,#73be32 62px,#479d54 63px,#2cb12f 64px,#59cf00 65px,#c9e400 66px,#d4ac00 67px,#bea900 68px,#64a64f 69px,#3c9c51 70px,#9cbd00 71px,#baad00 72px,#8bb700 76px,#afc100 80px,#d2d100 84px,#b7de00 93px,#8ada00 97px,#9fde00 100px,#c7db00 104px,#e7c900 108px,#fcbc00 110px,#ff8b00 113px,#ffb700 115px,#febd00 116px,#ff9d00 118px,#f6bd00 122px,#e4e500 126px,#e8da00 128px,#c5e700 130px,#4ecc00 132px,#15b90e 133px,#01876e 135px,#007a81 136px,#007d7b 137px,#0aa830 139px,#56ce00 141px,#81d900 142px,#9ade00 143px,#9edf00 144px,#6ad300 146px,#45c60b 147px,#129a46 149px,#005aa4 152px,#003ec5 155px,#0031d7 165px,#0025e0 175px,#0043c4 180px,#037185 184px,#1dae2e 187px,#3ec900 189px,#5ad000 191px,#3dc607 194px,#1ab028 198px,#2cc204 202px,#4acb00 205px,#31bd16 208px,#079353 211px,#007a81 213px,#007489 218px)"></i><i style="left:133px;width:2px;background:linear-gradient(#fc0c00 0,#fe1600 1px,#ff6d00 2px,#ff9400 3px,#ff3200 4px,#fd0f00 5px,#ff2c00 6px,#fa0000 8px,#ff2200 10px,#fb0300 12px,#ff2200 13px,#ff7000 14px,#ff8a00 15px,#ff6800 16px,#ffb400 18px,#ff9500 19px,#ff8b00 20px,#ffb300 21px,#feba00 22px,#ff9600 24px,#ff9600 25px,#ff8200 26px,#83b11d 27px,#53a947 28px,#4ac80a 29px,#b7d100 30px,#ff8c00 31px,#ff9600 32px,#fcc700 33px,#7dcc18 34px,#3fb136 35px,#84b418 36px,#8ccf00 37px,#a0d100 38px,#fdc200 39px,#ffb600 40px,#fdc700 44px,#fad900 45px,#8dd800 46px,#73cc14 47px,#deec00 48px,#ebec00 54px,#7fc31e 55px,#7eba29 56px,#fad700 57px,#feb900 62px,#fdbb00 63px,#fad600 64px,#e2dc00 65px,#febc00 66px,#ff9900 67px,#ff8e00 68px,#febe00 69px,#e8ec00 70px,#f0ba00 71px,#fba300 72px,#e0c900 74px,#b1e000 80px,#7bd600 82px,#3e8a67 86px,#0e607c 90px,#035b95 94px,#07826a 97px,#139d42 99px,#2a9851 102px,#4a8a69 105px,#669c5e 108px,#6fc91a 112px,#4bc219 115px,#089f40 118px,#007a81 121px,#007389 124px,#049f47 131px,#058b61 134px,#016b91 138px,#006d92 143px,#0040cc 147px,#0035d0 152px,#0106ee 156px,#0400df 160px,#0100f6 163px,#0028dd 165px,#0047c6 166px,#049a4e 168px,#13b31c 169px,#3bc508 171px,#2ab81d 173px,#069156 175px,#0060a4 177px,#0046c7 179px,#0059aa 182px,#0b954a 186px,#1eb225 190px,#0daf21 192px,#006899 198px,#001fe4 206px,#000af3 213px,#0300e6 218px)"></i><i style="left:135px;width:2px;background:linear-gradient(#fb0600 0,#fd1000 1px,#ff6900 2px,#ff9c00 3px,#ff3c00 4px,#fd1000 5px,#ff2e00 6px,#fb0400 8px,#fe1600 9px,#ff4200 10px,#fd1300 12px,#ff4800 13px,#ffa000 14px,#ffaf00 15px,#ff9f00 16px,#f8e300 18px,#fec100 20px,#c0d800 21px,#94d600 22px,#fbd200 23px,#fbd000 25px,#fec100 26px,#fad000 27px,#fcbe00 28px,#ff8a00 29px,#ff7400 32px,#ff7f00 33px,#e7b400 34px,#ff8600 35px,#ff9000 37px,#fbb100 38px,#ff9400 39px,#ffbb00 42px,#fec100 45px,#fccd00 47px,#ffa300 51px,#ffad00 54px,#d2c800 55px,#88c003 56px,#fad700 57px,#f7e500 58px,#a2e000 62px,#b8e400 64px,#f4ee00 66px,#fdc700 69px,#fccd00 71px,#fec300 74px,#f9da00 80px,#f6e500 81px,#dde900 82px,#4aca04 85px,#25a938 88px,#30b821 95px,#37c012 98px,#1bb223 100px,#09a03c 101px,#006799 103px,#002ed5 106px,#003acd 108px,#00659e 110px,#06a33d 113px,#15b122 115px,#30bf10 120px,#27c300 125px,#50cd00 128px,#c7e700 133px,#d9eb00 137px,#bee600 145px,#f6e200 149px,#eee000 153px,#a7d700 157px,#b4c500 161px,#d7da00 166px,#e4ed00 168px,#b1e300 171px,#59cf00 175px,#57cf00 179px,#56ce00 182px,#27b620 185px,#0aaa2e 186px,#0062a1 189px,#0048bd 191px,#0056af 194px,#07a43a 198px,#0bac27 200px,#008374 204px,#0033d6 209px,#0000f7 212px,#0400dc 218px)"></i><i style="left:137px;width:2px;background:linear-gradient(#fa0100 0,#fc0a00 1px,#ff5f00 2px,#ff9600 3px,#ff2f00 4px,#fb0500 5px,#ff2900 6px,#ff2a00 7px,#fc0d00 8px,#ff2000 9px,#ff6d00 10px,#ff7000 11px,#ff5a00 12px,#ff9200 13px,#e6de00 14px,#d0dd00 15px,#ffbd00 16px,#f2ed00 18px,#f8df00 19px,#9acd00 20px,#0900c7 21px,#1000a7 22px,#4bbd25 23px,#f9dc00 24px,#fccb00 26px,#ff9c00 29px,#ff7900 37px,#ff8500 38px,#ff7400 39px,#ffa900 42px,#f9db00 48px,#f3e200 51px,#ead700 53px,#9bdd00 56px,#6cd300 57px,#4bc315 58px,#2d9654 59px,#0a8f52 62px,#0e627c 63px,#1d625c 64px,#27667d 66px,#2c905d 67px,#389856 70px,#49b03a 72px,#53aa46 73px,#61c718 74px,#73d203 77px,#51bc2c 79px,#3dbb21 80px,#40b432 81px,#088760 84px,#04767f 85px,#057b76 87px,#0059aa 94px,#006d92 96px,#0db020 100px,#16ba0c 102px,#0eb21b 104px,#008177 107px,#005aac 109px,#004eb9 112px,#0046c2 116px,#002bda 121px,#006d92 127px,#038074 130px,#005ba3 139px,#002cd4 143px,#0043b9 146px,#087971 150px,#20786f 155px,#426d77 160px,#176158 164px,#012ecc 172px,#0123d9 176px,#003bbf 179px,#128760 183px,#0ba337 186px,#099f3e 190px,#24b12d 195px,#58ce00 200px,#63cd09 205px,#4dc414 211px,#08a03d 216px,#079a49 218px)"></i><i style="left:139px;width:2px;background:linear-gradient(#fa0000 0,#fb0500 1px,#ff8f00 3px,#ff3600 4px,#fc0d00 5px,#ff4200 6px,#ff4500 7px,#fd1000 8px,#fe1600 9px,#ff6100 10px,#ff7b00 11px,#ff6f00 12px,#ff9f00 13px,#f7e600 14px,#f7e700 15px,#ffb800 16px,#fec200 17px,#f7e600 18px,#fdca00 20px,#f8e300 21px,#4dbc29 22px,#5b7b77 23px,#788672 24px,#2b677d 25px,#57bf26 26px,#cbd200 27px,#83c112 28px,#72754e 29px,#927736 30px,#e6bd00 31px,#ff9300 32px,#ff6400 38px,#ffb000 44px,#f9dc00 47px,#dee800 53px,#b7e400 54px,#38c700 56px,#0db020 57px,#006899 59px,#004cbe 60px,#021cd8 63px,#3f006b 64px,#50005a 65px,#4f005b 66px,#1a00aa 67px,#010de8 68px,#0117e5 70px,#0200ee 74px,#0600d8 76px,#0e00b0 78px,#0800cb 80px,#0a00c6 81px,#0100f5 83px,#0039cb 88px,#005d9f 91px,#006d93 99px,#0027dd 106px,#0300e7 116px,#0001f7 119px,#003fc2 123px,#017a7e 129px,#058a62 134px,#189d44 137px,#46a647 143px,#4cc21a 150px,#48b336 153px,#2c7e6d 157px,#286679 163px,#2d6f78 167px,#5ea54f 172px,#459958 174px,#087176 176px,#0032ce 178px,#0109ec 181px,#0003f8 183px,#0031d5 186px,#077a73 189px,#279455 191px,#31925b 194px,#33925c 197px,#6cc02e 202px,#49b435 212px,#0b8f53 218px)"></i><i style="left:141px;width:2px;background:linear-gradient(#fa0000 0,#fa0100 1px,#ff9a00 3px,#ff2700 5px,#ff5900 6px,#ff4700 7px,#fc0c00 8px,#fd1100 9px,#ff5700 10px,#ff7200 11px,#ff5800 12px,#ff7800 13px,#febd00 14px,#febe00 15px,#ff8c00 16px,#ffa400 17px,#fad600 18px,#fec100 20px,#567e74 21px,#50005a 22px,#50005a 24px,#230099 25px,#7ec221 26px,#eec800 27px,#c6c400 28px,#807261 29px,#805e69 30px,#ff8400 31px,#ff9a00 33px,#ff7300 35px,#ff5800 36px,#ff6900 41px,#ff9c00 45px,#fdc900 46px,#ffb000 47px,#f3db00 53px,#d3e900 55px,#90dc00 57px,#06a33d 58px,#008078 59px,#16b122 60px,#57cf00 61px,#69d300 63px,#5bcf00 64px,#307376 65px,#62cb0e 66px,#a7e100 67px,#59cb09 68px,#40b234 69px,#52cd00 70px,#56ce00 71px,#11b121 72px,#099946 73px,#0db020 74px,#058a62 77px,#00728c 78px,#068c5d 79px,#08974a 80px,#0e8e54 81px,#077b73 82px,#08964c 83px,#21b61c 84px,#30c207 85px,#18be02 88px,#33bc1a 93px,#28c300 100px,#68d003 106px,#4ab336 114px,#179b46 118px,#0aa92f 120px,#21c100 122px,#92dd00 125px,#c4e700 128px,#abe200 132px,#60d100 140px,#6cd400 142px,#f6ec00 147px,#ff9700 157px,#fbd200 163px,#cbe800 167px,#d5ea00 169px,#f7e600 172px,#e9ee00 174px,#37c700 178px,#39bc1e 180px,#67bd30 184px,#398e64 193px,#398967 199px,#0f7a6a 202px,#0037c9 206px,#0030d3 209px,#09796d 215px,#148067 218px)"></i><i style="left:143px;width:2px;background:linear-gradient(#fa0000 0,#fa0000 1px,#ffa400 3px,#ff3500 5px,#ff5e00 6px,#ff4800 7px,#fd0f00 8px,#fe1b00 9px,#ff7100 10px,#ff8400 11px,#ff6000 12px,#ff7300 13px,#ffaf00 14px,#ffaa00 15px,#ff7d00 16px,#ffa300 17px,#f8df00 18px,#fbd100 20px,#bfe500 21px,#a2762e 22px,#2a5050 23px,#2900a0 24px,#006a96 25px,#ffa200 26px,#ffa300 28px,#ff7e00 30px,#ff8400 31px,#ff4e00 36px,#ff5600 38px,#ff7000 39px,#fca100 40px,#fda200 41px,#faba00 42px,#b8c700 43px,#7cb535 44px,#83c013 45px,#fcce00 46px,#ebee00 48px,#46ca00 51px,#0eb11c 53px,#06558d 54px,#0534ab 55px,#05a044 56px,#0fb415 58px,#10b710 59px,#07a539 60px,#0db01f 61px,#0aa534 64px,#00649f 65px,#0053b3 66px,#0014ec 67px,#0027de 68px,#007d7c 69px,#06a141 70px,#07a43b 71px,#048767 73px,#029853 74px,#008473 76px,#0026df 78px,#002fd8 79px,#00659c 80px,#00728b 81px,#005ea0 83px,#03688d 85px,#0135c1 88px,#0616ca 92px,#002fd2 96px,#006a97 98px,#10b31b 101px,#47cb00 104px,#a0e000 111px,#b7e400 113px,#a3e000 115px,#12bb07 119px,#02925b 122px,#018f62 125px,#029a51 129px,#038769 133px,#14b025 136px,#3ec900 138px,#60d100 140px,#3fc900 143px,#30bf0f 145px,#5eca0e 149px,#83d505 153px,#75c428 156px,#428e65 159px,#117d69 162px,#19ae2d 165px,#38c505 167px,#63d100 170px,#59cb0a 173px,#1aa934 177px,#1baa32 179px,#5fcf03 182px,#a6df00 184px,#b1dc00 187px,#78d403 190px,#51a848 194px,#3f9c53 199px,#068f58 204px,#039d4b 207px,#0bab2a 210px,#08a439 212px,#086c79 215px,#07588a 218px)"></i><i style="left:145px;width:2px;background:linear-gradient(#fa0000 0,#fa0000 1px,#ff3f00 2px,#ff9500 3px,#ff3300 5px,#ff5a00 6px,#fb0400 8px,#fd1200 9px,#ff5f00 10px,#ff6a00 11px,#ff4800 12px,#ff6e00 13px,#fec300 14px,#f7e700 15px,#ff8900 16px,#ffa000 17px,#f9de00 18px,#fccb00 20px,#f8df00 21px,#f9da00 22px,#febe00 23px,#0031d5 24px,#3d006d 25px,#23657d 26px,#ff9d00 27px,#ff8c00 29px,#ff9d00 32px,#ff2600 37px,#ff2700 39px,#f6ed00 40px,#fccf00 41px,#ff5a00 42px,#ff6500 43px,#fca300 44px,#cea900 45px,#ff8300 46px,#fdb100 49px,#f0ef00 50px,#005ca2 51px,#019658 52px,#6bc229 53px,#548270 54px,#7ece13 55px,#d3ea00 56px,#bde500 58px,#31c500 62px,#1abe03 63px,#1cba10 65px,#25bf09 66px,#0db020 67px,#00896c 68px,#00876f 69px,#019855 70px,#41c900 71px,#0da03c 75px,#0060a0 79px,#001fe4 83px,#000cf0 87px,#012dce 90px,#035b94 94px,#006d92 98px,#059d49 104px,#05846b 108px,#0033c8 117px,#0047b8 120px,#036390 125px,#04628d 129px,#0047b8 134px,#0053a7 139px,#0124d6 145px,#0025dc 151px,#000af1 157px,#0029d5 162px,#00629b 164px,#0f9b44 166px,#2db22e 168px,#21a53b 170px,#0b944b 171px,#0037cf 174px,#0109f0 176px,#0100f6 180px,#004ac1 186px,#0040c4 189px,#021fd7 192px,#0707d2 196px,#0400df 201px,#0206e8 205px,#0029da 209px,#0404e0 212px,#1f0091 214px,#360074 215px,#410069 218px)"></i><i style="left:147px;width:2px;background:linear-gradient(#fb0600 0,#fa0200 1px,#ff3700 2px,#ff8100 3px,#ff4300 4px,#ff1f00 5px,#ff4f00 6px,#fb0600 8px,#ff1d00 9px,#ff6c00 10px,#ff6300 11px,#ff4300 12px,#ffa800 14px,#ff5200 16px,#fdab00 17px,#4bbf21 18px,#055b90 19px,#25be0a 20px,#ffb800 21px,#ffb400 22px,#ff9900 23px,#76d109 24px,#2800aa 25px,#014ca3 26px,#ffa900 27px,#ff8900 29px,#ffba00 32px,#ff9100 34px,#ff2600 38px,#fe1900 39px,#fe4000 40px,#fe2200 41px,#ff3100 44px,#ff8200 49px,#ffa300 50px,#6c9268 51px,#0f954b 52px,#91dc00 53px,#98de00 54px,#f7e500 55px,#e2d800 56px,#83d800 59px,#5fcf03 61px,#65d200 65px,#59cf00 66px,#27b91a 67px,#40ba28 68px,#34c502 70px,#0aaa2e 72px,#004bbe 75px,#010ceb 76px,#0100f1 78px,#0800cb 80px,#0700d1 83px,#0600d9 86px,#001fe4 89px,#0a9d3e 93px,#1eb719 96px,#12ba0a 101px,#0bac2a 107px,#006a96 113px,#0056b2 116px,#0060a4 121px,#002bdb 127px,#003bce 135px,#027289 138px,#088564 139px,#229453 141px,#05727e 146px,#1b8a5f 152px,#078c5c 155px,#006995 161px,#067b74 164px,#1d9a4a 166px,#3da348 169px,#248268 171px,#0a6d73 172px,#03529b 173px,#021fd4 176px,#0019e8 179px,#0060a4 183px,#0db020 189px,#2fc500 192px,#3bc800 194px,#23bd0c 196px,#08984a 198px,#005f9e 200px,#0032ca 202px,#0024df 207px,#0236b7 214px,#08369c 218px)"></i><i style="left:149px;width:2px;background:linear-gradient(#fc0e00 0,#fb0700 1px,#ff3900 2px,#ff7f00 3px,#ff3600 4px,#fd1100 5px,#ff2500 6px,#fa0000 8px,#fd1100 9px,#ff5b00 10px,#ff3200 12px,#ff9c00 14px,#ff8900 15px,#ff4300 16px,#ff7d00 17px,#ff9f00 18px,#ff7500 19px,#ff8200 20px,#bcba00 21px,#e9d000 22px,#ff9300 23px,#ffa400 25px,#ff9600 29px,#feb000 30px,#a6e100 31px,#a5e000 32px,#86cf00 33px,#66a94b 34px,#3b6b70 35px,#83871c 37px,#ff4b00 38px,#fd1b00 42px,#fd1b00 43px,#ff5000 45px,#fe9e00 48px,#e8c400 52px,#fcc600 55px,#fdca00 60px,#f0ee00 64px,#d7ea00 65px,#76d600 66px,#86da00 68px,#21c100 71px,#05a044 73px,#0050b7 76px,#0029db 79px,#002ed2 84px,#000ef0 91px,#002ed7 98px,#006898 104px,#00649d 107px,#0035d4 113px,#0033d6 124px,#004dba 126px,#159a46 130px,#5ec714 135px,#7fd700 137px,#94dd00 139px,#74d600 141px,#1ebd08 144px,#16be03 146px,#30c500 147px,#bfe600 150px,#dfe700 151px,#f0d700 154px,#aed600 158px,#85d500 160px,#69c51f 164px,#58bd2d 169px,#7b9f59 173px,#7b9367 176px,#509165 179px,#319458 182px,#43ac3d 187px,#089d42 191px,#05a043 193px,#1cb814 196px,#29bd10 199px,#0db01f 201px,#0062a1 205px,#0034cf 208px,#0038cc 211px,#04767f 216px,#057a77 218px)"></i><i style="left:151px;width:2px;background:linear-gradient(#fe1800 0,#fc0d00 1px,#ff7000 3px,#ff2400 4px,#fc0b00 5px,#fd1400 6px,#fa0000 7px,#fa0000 9px,#ff2a00 10px,#fe1f00 12px,#ff7100 13px,#ff9b00 14px,#ff8900 15px,#ff3c00 16px,#ff7200 18px,#ff4d00 19px,#ff9300 21px,#ff9600 22px,#ff7c00 23px,#ffa800 29px,#ffa700 31px,#e7ed00 32px,#d6c600 33px,#85a916 34px,#276246 35px,#330077 36px,#002dd9 37px,#ff5f00 38px,#ff6600 39px,#ffa900 40px,#81d900 41px,#fad000 42px,#ff8d00 43px,#fcc800 45px,#beda00 46px,#1da23e 47px,#7ad600 48px,#a6e100 49px,#9edf00 51px,#c7e700 53px,#edef00 54px,#fec400 58px,#f9da00 61px,#e1e400 62px,#f6ec00 63px,#e8e700 70px,#c2e600 73px,#a7e000 75px,#91db00 78px,#aade00 81px,#94d600 84px,#7dcc18 86px,#46945f 91px,#208467 97px,#219f44 103px,#099152 106px,#0061a1 111px,#00619d 115px,#038965 120px,#04905b 124px,#1ac000 128px,#deec00 135px,#f0e800 137px,#cfe500 140px,#8ada00 143px,#90dc00 145px,#f0e800 148px,#ddeb00 150px,#f7e500 151px,#ffbc00 153px,#f8e000 161px,#fad800 168px,#f1db00 172px,#ddd800 177px,#b8e400 180px,#a7e100 182px,#bce500 186px,#94de00 189px,#5bd000 192px,#5fd100 197px,#34c600 199px,#14ba09 200px,#008571 202px,#005ca9 203px,#001fe4 205px,#0224ce 209px,#0131c7 212px,#0106f0 218px)"></i><i style="left:153px;width:2px;background:linear-gradient(#ff2700 0,#fd1400 1px,#ff6c00 3px,#ff2d00 4px,#fe1a00 5px,#ff2200 6px,#fa0000 7px,#fa0000 9px,#fd1200 10px,#fa0300 12px,#ff6700 14px,#ff3200 15px,#fe2b00 16px,#fc9000 20px,#ff5d00 23px,#fbd000 28px,#fad700 29px,#fad000 31px,#81d504 32px,#f0e500 33px,#ebc500 34px,#6e9368 35px,#2100ac 36px,#2300a6 37px,#378768 38px,#ffa300 39px,#ff9500 40px,#f7e400 45px,#deec00 46px,#91dc00 48px,#55ce00 51px,#36a740 54px,#37816d 56px,#3d8b67 57px,#476e7c 58px,#617046 59px,#5d7271 60px,#33ac38 61px,#1abd07 62px,#77d500 63px,#97dc00 64px,#91da00 66px,#74ce0e 68px,#3a9c51 72px,#1e8c5d 74px,#2f9655 78px,#7ac821 82px,#8dc600 85px,#88d900 93px,#d4e800 98px,#d2d700 102px,#a3db00 105px,#6bcf08 107px,#5dbf28 110px,#72ca18 114px,#51c11e 120px,#5bd000 130px,#70d500 132px,#e9e600 136px,#fbd100 138px,#fccc00 141px,#e7eb00 145px,#aee300 148px,#87d900 153px,#5cce03 156px,#5bc41b 161px,#469e52 165px,#41a842 169px,#13a03e 172px,#058a62 176px,#059356 181px,#026b8e 188px,#087971 192px,#42c804 198px,#5ed100 200px,#50cd00 202px,#0caf22 206px,#1cb41e 211px,#09a438 213px,#00649e 216px,#0058af 218px)"></i><i style="left:155px;width:2px;background:linear-gradient(#ff3d00 0,#fe1b00 1px,#ff6500 3px,#ff2e00 4px,#ff1e00 6px,#fa0000 7px,#fa0000 12px,#ff3100 14px,#fc0d00 15px,#fb0700 16px,#ff2100 17px,#fc0c00 19px,#fe1f00 20px,#ff4f00 21px,#ff3e00 23px,#ff6c00 26px,#ffb100 28px,#fdc400 29px,#ffb100 31px,#ff9c00 32px,#fad500 33px,#6dd300 34px,#7e8a63 35px,#7d7370 36px,#175953 37px,#5ca54f 38px,#ff9500 39px,#ff9b00 41px,#fad900 45px,#a8e100 48px,#53ce00 50px,#14a932 52px,#016d8f 54px,#0034ce 56px,#011ddb 57px,#1b0fac 58px,#4d005d 59px,#50005a 60px,#0a00c4 61px,#0004f5 62px,#003acb 68px,#0040bf 72px,#036d89 75px,#1a8d5a 77px,#52a34f 81px,#42a14c 85px,#0a8e55 88px,#005caa 91px,#0052b5 92px,#006299 94px,#1d8c5c 96px,#8ed600 99px,#cdce00 101px,#ddc900 102px,#e8e300 105px,#eec500 113px,#aad800 119px,#f6dc00 125px,#ece500 129px,#b4e300 133px,#bcd100 139px,#85d500 142px,#37ae37 146px,#0a954a 149px,#026394 153px,#0053ab 156px,#00718c 161px,#0032d6 165px,#0027de 168px,#003fcd 170px,#048c61 174px,#079c46 177px,#018472 181px,#004bc0 186px,#005da8 190px,#006f90 194px,#00669b 198px,#15954e 203px,#28b622 207px,#12af25 210px,#005aac 216px,#0053b4 218px)"></i><i style="left:157px;width:2px;background:linear-gradient(#ff5000 0,#ff2400 1px,#ff5000 3px,#fe1700 4px,#fe1600 6px,#fa0000 7px,#fa0000 12px,#ff2900 13px,#ff2900 14px,#fa0200 15px,#fe4f00 16px,#fab600 17px,#fda800 18px,#fd1500 19px,#fd1300 20px,#ff3b00 21px,#ff3600 23px,#ff6500 25px,#ff7e00 27px,#ffa100 28px,#c5c800 29px,#c9d000 30px,#fccd00 31px,#ffb200 35px,#ffba00 36px,#15895e 37px,#4fa846 38px,#ffae00 39px,#feb300 43px,#f4d700 45px,#b0e100 47px,#71d400 48px,#0f8a5b 51px,#016595 53px,#0056b3 57px,#0058b0 58px,#0900c9 59px,#2e007c 60px,#001ae7 61px,#00649f 62px,#0060a0 63px,#06a23f 66px,#1cbf02 68px,#43ca00 70px,#3cc800 75px,#7ad700 80px,#5bcc09 83px,#0f8b59 87px,#002dd2 90px,#0409db 92px,#0c00bf 95px,#0612ce 98px,#012ec7 100px,#0047af 104px,#071ec2 111px,#191aa6 122px,#093a93 127px,#0335b3 134px,#023baf 139px,#0045b9 142px,#00649f 144px,#009062 147px,#008571 149px,#004fb8 152px,#004fb4 155px,#049358 160px,#15a637 167px,#3dc801 170px,#ebec00 175px,#f4e700 178px,#d2e900 180px,#2ac300 184px,#16b615 186px,#4fcd00 192px,#09a536 199px,#0059ad 204px,#003dcf 209px,#0007f2 212px,#0300e8 213px,#1a00a2 216px,#1b009c 218px)"></i><i style="left:159px;width:2px;background:linear-gradient(#ff5e00 0,#ff2f00 1px,#ff4700 2px,#ff4300 3px,#fc0b00 4px,#fc0e00 6px,#fa0000 8px,#fa0000 12px,#fe1c00 13px,#fa0000 15px,#fe4d00 16px,#fe7300 17px,#ff5600 18px,#fd1400 19px,#ff3800 20px,#ff7400 21px,#ff5400 23px,#ff8300 25px,#e9b600 26px,#808148 27px,#1d446f 28px,#430067 29px,#27008b 30px,#0146ab 31px,#b7d900 32px,#fbd400 33px,#fbd100 36px,#b1d400 37px,#5bc519 38px,#c5e700 39px,#d9d500 40px,#94c700 41px,#63b836 42px,#8ad000 43px,#bbe500 44px,#76d600 45px,#38bf13 46px,#0aa03b 47px,#017585 48px,#002adc 50px,#010eec 52px,#0010ef 54px,#0052b1 58px,#0900c7 59px,#180092 60px,#000af1 61px,#005f9f 62px,#007d7d 64px,#007687 67px,#02925c 69px,#10b710 71px,#54ce00 73px,#8cdc00 75px,#9ddf00 78px,#7bd700 86px,#42c50c 88px,#079253 90px,#006e91 91px,#0037cd 93px,#002bd8 95px,#026d8a 101px,#005aa5 104px,#0038ca 107px,#0053a7 113px,#0225d0 117px,#090bc3 121px,#0231bf 125px,#096979 128px,#3a816e 132px,#357078 136px,#0a5e7e 139px,#004fab 142px,#0055b3 145px,#05984e 154px,#0db020 160px,#22ba13 163px,#10a438 167px,#037483 171px,#0e796b 177px,#006d93 183px,#057a79 189px,#04618d 193px,#023ead 196px,#081bbf 200px,#001de5 203px,#0057af 206px,#0055b1 208px,#000bf2 211px,#0200ea 212px,#230087 215px,#2e007c 218px)"></i><i style="left:161px;width:2px;background:linear-gradient(#ff6700 0,#ff3500 1px,#ff4f00 2px,#ff4800 3px,#fc0f00 4px,#fe1900 6px,#fa0000 7px,#fc0b00 14px,#fa0000 16px,#ff2300 18px,#fe1b00 19px,#ff6000 21px,#ff3c00 23px,#ff7900 25px,#f3c500 26px,#71c620 27px,#7cac40 28px,#759965 29px,#2e6765 30px,#106064 31px,#2baf32 32px,#afdd00 33px,#f6ea00 34px,#b9e500 37px,#b6e400 38px,#96de00 39px,#0049c0 40px,#0214dd 41px,#007587 42px,#5ed000 43px,#6bd300 44px,#51cd01 45px,#41945e 49px,#469164 53px,#499959 54px,#4c9461 55px,#356c7b 56px,#3e6c79 59px,#4d7976 60px,#5c9e58 61px,#68b936 63px,#7cd501 64px,#5cc714 67px,#5dcc09 68px,#c2e600 72px,#bce500 74px,#4ccb04 78px,#1ab124 84px,#099a44 86px,#0045be 90px,#0025e0 92px,#0024e0 98px,#0042c4 106px,#001be5 111px,#0413d6 118px,#0b0bbf 122px,#023bb2 126px,#066286 128px,#258963 130px,#4aa34c 133px,#479361 136px,#0f6778 139px,#052bb8 143px,#0a13ba 147px,#0634aa 154px,#1f13a5 161px,#0600db 170px,#1200b5 180px,#020ae6 184px,#0105f1 188px,#0600d3 190px,#240086 194px,#310079 198px,#1e00a1 201px,#0207ea 204px,#0025e0 207px,#0005f3 209px,#0400e0 210px,#24008b 212px,#410069 215px,#430067 218px)"></i><i style="left:163px;width:2px;background:linear-gradient(#ff6900 0,#ff3800 1px,#ff4f00 2px,#ff3f00 3px,#fc0f00 4px,#ff2d00 6px,#fa0100 7px,#fa0000 12px,#ff2900 14px,#fc0c00 15px,#fc0a00 16px,#ff2e00 17px,#ff3900 18px,#cad900 19px,#fcc200 20px,#ff6c00 21px,#ff4a00 23px,#ff8f00 25px,#ff9f00 26px,#80c01d 27px,#4f707c 28px,#a3df00 29px,#e5e900 30px,#c9e800 32px,#1dbc0a 33px,#1c974e 34px,#4da24e 35px,#3dbd1e 36px,#25aa37 38px,#1a964d 39px,#0116e4 40px,#270083 41px,#090cc5 42px,#0249a2 43px,#05409f 47px,#065690 50px,#177e69 53px,#328966 60px,#186e75 64px,#045395 67px,#065d8a 73px,#0024df 79px,#004abe 85px,#0006f2 91px,#0500dc 93px,#1e009a 97px,#240094 101px,#2100a5 108px,#350075 115px,#0f00ad 125px,#0500d8 133px,#0900c5 141px,#2d007d 152px,#410069 164px,#20008a 170px,#390071 176px,#250085 182px,#190094 183px,#0200ea 186px,#0006f3 191px,#0016ea 198px,#0039d0 203px,#0025df 212px,#0036d3 218px)"></i><i style="left:165px;width:2px;background:linear-gradient(#ff6400 0,#ff3600 1px,#ff4900 2px,#fa0000 4px,#ff1c00 6px,#fa0000 7px,#fa0000 12px,#ff4000 14px,#fe1800 15px,#fd1500 16px,#ff4f00 17px,#ff6600 18px,#ff5a00 19px,#fccb00 22px,#095a80 23px,#5d7978 24px,#81c418 25px,#28c300 26px,#024b9a 27px,#18545b 28px,#d7e300 29px,#e3ec00 30px,#a7e100 32px,#7bd800 33px,#3ac700 34px,#078466 35px,#004dbf 36px,#00679a 37px,#0044c9 38px,#001fe4 39px,#0a00c2 40px,#2e007c 41px,#1b0092 42px,#0800cc 43px,#1a009a 46px,#1d008d 50px,#1000b6 56px,#0c00b8 63px,#320078 70px,#290081 74px,#0400df 80px,#010eec 87px,#0300e7 91px,#1a009b 97px,#250092 110px,#1a00aa 115px,#1700a5 122px,#0a00c5 134px,#0b00c0 141px,#0900ca 146px,#2d007d 159px,#1c008e 164px,#140099 168px,#340076 173px,#24008a 185px,#1300b3 192px,#0b00bd 200px,#0200e9 216px,#0200ea 218px)"></i><i style="left:167px;width:2px;background:linear-gradient(#ff5900 0,#ff3000 1px,#ff4b00 2px,#fa0000 4px,#fc0c00 6px,#fa0000 9px,#fd1400 10px,#fa0000 12px,#ff3f00 14px,#ff1d00 15px,#ff3000 16px,#ff6800 17px,#ff7d00 18px,#ff6300 19px,#ff9600 20px,#ff9200 22px,#858f15 23px,#8d9f00 24px,#fbd100 25px,#e7c300 26px,#fdc200 27px,#edeb00 31px,#d8ea00 32px,#79d700 34px,#37c700 35px,#0020e3 36px,#0053b2 37px,#006f8f 38px,#0032d2 40px,#021adb 41px,#0700ce 42px,#0800cc 43px,#0300e5 44px,#0018e6 46px,#050bd7 48px,#1100b4 49px,#0402e0 51px,#0d00b9 55px,#0800cd 59px,#0207e9 62px,#0300e7 67px,#1000b5 71px,#0b00bd 78px,#0300e5 85px,#0800cb 95px,#0900c7 98px,#0000f9 103px,#000af3 107px,#0400df 123px,#0a00c4 130px,#0205ea 142px,#0200ed 151px,#0b00bc 156px,#1f008b 160px,#30007a 171px,#40006a 178px,#230091 185px,#1d00a1 191px,#0200ea 201px,#0009f4 208px,#0034d5 211px,#058f5b 215px,#0aa238 218px)"></i><i style="left:169px;width:2px;background:linear-gradient(#ff4900 0,#ff2700 1px,#ff4600 2px,#fe1900 3px,#fa0000 4px,#fa0000 9px,#fe1600 10px,#fc0900 12px,#feb500 14px,#ff9900 15px,#ff3400 16px,#ff6400 17px,#ff7c00 18px,#ff5600 19px,#fe9800 20px,#ff8900 22px,#ff6e00 23px,#ff6e00 24px,#edb600 25px,#7e9b4f 26px,#87a50d 27px,#fec500 28px,#e9ec00 30px,#8adb00 33px,#43ca00 35px,#0cae23 38px,#04905a 41px,#0035ca 42px,#0228cd 43px,#2c7b6f 44px,#45bc25 45px,#5fc224 47px,#46a24d 50px,#0a7171 53px,#04618e 56px,#016794 60px,#0015eb 65px,#0104ed 68px,#0132c3 76px,#045299 80px,#0049b2 86px,#016198 91px,#0121dd 95px,#0200ea 100px,#0007f5 104px,#035799 114px,#02559c 118px,#0048ad 122px,#0b607c 129px,#076680 134px,#148166 136px,#7cca1c 140px,#82c911 143px,#7eca1d 144px,#2a9259 148px,#2b905c 150px,#64ac46 155px,#719269 160px,#807559 167px,#806e64 171px,#74777d 176px,#377d70 181px,#57ba30 188px,#2bba19 196px,#09a733 199px,#007981 203px,#04777d 206px,#2eb723 212px,#44c901 214px,#74d600 218px)"></i><i style="left:171px;width:2px;background:linear-gradient(#ff3700 0,#ff1d00 1px,#ff3c00 2px,#fc0c00 3px,#fa0000 7px,#fc0a00 9px,#ff2600 10px,#fd1500 12px,#ff6400 13px,#ff9800 14px,#ff3700 16px,#ff6c00 17px,#ff8400 18px,#ff6500 19px,#ff7500 20px,#ffa300 21px,#ffa000 22px,#ff7900 23px,#ff7000 24px,#ff9c00 27px,#febf00 29px,#fccc00 32px,#e6e300 34px,#dde200 35px,#9fe000 36px,#326e79 37px,#3ca04b 38px,#4dcc00 39px,#39c700 40px,#59cf00 41px,#4ccc00 42px,#67d300 44px,#a2e000 47px,#a5e100 50px,#96de00 51px,#116e73 52px,#064297 53px,#04836e 54px,#18ba0c 55px,#07a539 56px,#049e47 58px,#007b7f 61px,#067976 68px,#08a735 76px,#039a4f 79px,#00738a 82px,#00728c 84px,#08a635 87px,#15b31e 88px,#2eba1c 90px,#098c59 96px,#004eb0 101px,#0058a6 104px,#10b611 110px,#38c700 112px,#90dc00 115px,#a6e100 117px,#7cd800 120px,#39c700 124px,#32bd15 130px,#08a538 134px,#09a92f 136px,#10b513 137px,#2bc400 138px,#bae500 141px,#d7ea00 142px,#e5eb00 144px,#c5e700 146px,#70d500 149px,#61d100 151px,#a8e000 156px,#f9db00 160px,#fdb600 162px,#fdc800 164px,#ff9c00 168px,#fd9d00 171px,#eac500 173px,#7ed600 177px,#149849 181px,#08895e 183px,#15a636 185px,#52cd00 187px,#a0e000 189px,#a8e100 191px,#2ac009 196px,#0cae24 199px,#0aa92f 202px,#1abd06 206px,#1db129 210px,#1cac30 213px,#3ec802 218px)"></i><i style="left:173px;width:2px;background:linear-gradient(#ff2300 0,#fe1800 1px,#ff3900 2px,#fc0c00 3px,#fa0000 7px,#fc0d00 9px,#ff3500 10px,#ff1d00 12px,#ff9700 14px,#ff4c00 16px,#ff8a00 17px,#ffac00 18px,#ff8900 19px,#ff8600 20px,#ffa000 21px,#ff8e00 22px,#ff6500 23px,#ff8000 26px,#fabf00 28px,#ff9a00 29px,#ff8d00 30px,#fccd00 34px,#fdc900 36px,#7eac36 37px,#659b5f 38px,#7eca1e 39px,#addc00 40px,#f6ec00 41px,#e7ec00 44px,#f7e800 47px,#fbd200 51px,#8dcf00 52px,#0059a2 53px,#0fb318 54px,#cee900 55px,#cde800 57px,#50cd00 64px,#2daa39 65px,#328668 66px,#3ba348 67px,#2fbb1a 68px,#50cd00 69px,#b7e400 70px,#eaeb00 72px,#dad500 77px,#c1e300 79px,#97dc00 83px,#abe100 85px,#f0ec00 88px,#f5e600 90px,#b6e000 93px,#8eda00 94px,#52b634 96px,#278765 98px,#086e77 100px,#056e82 102px,#067978 103px,#13af26 106px,#1ab41c 108px,#079154 112px,#14a23b 115px,#48c50e 119px,#48ca04 124px,#a6e100 129px,#a2e000 132px,#71d500 137px,#83da00 140px,#d7ea00 144px,#d3de00 147px,#8ad800 153px,#8dda00 156px,#cfe900 161px,#bfe600 167px,#c0e600 170px,#7fd900 173px,#4bcc00 175px,#40c900 178px,#68d200 183px,#e6de00 188px,#fbd200 190px,#fcc500 194px,#fad700 196px,#98dd00 201px,#94db00 204px,#a0d400 209px,#98d900 215px,#9fda00 218px)"></i><i style="left:175px;width:2px;background:linear-gradient(#fe1700 0,#fd1300 1px,#ff3a00 2px,#fd1200 3px,#fa0000 5px,#fc0900 9px,#ff3400 10px,#ff2d00 12px,#ffaf00 14px,#ff7b00 16px,#ffae00 17px,#fec000 18px,#ff9300 19px,#ffa500 21px,#ff6100 23px,#ff8000 25px,#ff7800 26px,#fe9900 27px,#e7c000 28px,#ff7c00 29px,#ffb300 33px,#b2c400 34px,#ffb100 35px,#f6ed00 39px,#d1e900 41px,#1fa43c 42px,#079351 43px,#c8e700 44px,#aae200 47px,#bae500 52px,#56cc06 60px,#2abc12 63px,#0056a6 64px,#0100f0 65px,#012bce 66px,#057a78 67px,#07a539 68px,#0daf21 69px,#6ccc10 75px,#bbd700 79px,#fad700 83px,#fbd000 88px,#f4e200 90px,#b5e300 92px,#76d500 93px,#0f7f67 96px,#0046af 98px,#021fd8 101px,#001ee4 103px,#0046c7 106px,#0033d6 108px,#0106ed 110px,#0c00b9 113px,#0700d0 115px,#000cf2 117px,#006d93 120px,#008373 122px,#028969 126px,#0a9747 128px,#27a63c 132px,#3ec606 135px,#ade200 139px,#f3e900 143px,#ff8a00 149px,#ffa000 152px,#f6ed00 157px,#f1ee00 167px,#bce500 170px,#4ccc01 174px,#39c700 177px,#ace200 186px,#cbd800 193px,#b3e300 198px,#91dc00 201px,#a0df00 204px,#e1e500 211px,#fbcb00 216px,#fbc600 218px)"></i><i style="left:177px;width:2px;background:linear-gradient(#fc0f00 0,#fd0f00 1px,#ff4200 2px,#fa0000 4px,#fa0000 8px,#ff3700 10px,#fe1700 12px,#ff8800 14px,#ff5200 16px,#feb100 18px,#ff6700 19px,#ff6800 20px,#ff9300 21px,#ff9500 22px,#ff7800 23px,#ff8500 25px,#ff6c00 27px,#ff9600 28px,#c0bb00 29px,#d8bf00 30px,#a6e000 31px,#03668d 32px,#0109eb 33px,#0049b3 34px,#fcc200 35px,#ffb000 36px,#f6ed00 39px,#b6e400 41px,#029b4f 42px,#14b613 43px,#98de00 44px,#4acb00 50px,#31c306 51px,#1db127 52px,#2fc500 53px,#34c503 54px,#40b929 56px,#42bc22 57px,#148d59 60px,#05767c 61px,#027584 62px,#00649e 63px,#030fdd 64px,#0704d1 65px,#0047c4 66px,#005aac 69px,#13944f 73px,#3cae39 77px,#1cbe06 84px,#42ca00 86px,#ace200 90px,#bce500 93px,#8bda00 96px,#5dcf02 98px,#4fb733 102px,#5fb33c 107px,#317e6e 111px,#0a637b 114px,#178b5d 118px,#28a242 121px,#097a6d 124px,#003bbf 127px,#011cde 131px,#0028de 134px,#0060a4 139px,#007982 142px,#09a831 144px,#1ec000 145px,#90dc00 147px,#b7e400 148px,#cae200 150px,#bce400 152px,#67d200 156px,#3aba22 162px,#088a5c 165px,#036e88 167px,#047281 169px,#24b229 173px,#22b71a 176px,#069c47 179px,#02866d 182px,#027584 187px,#003bc3 194px,#0040bd 204px,#097172 208px,#2e9a50 212px,#2bb71f 216px,#29b91b 218px)"></i><i style="left:179px;width:2px;background:linear-gradient(#fb0900 0,#fc0d00 1px,#ff4900 2px,#ff3600 3px,#fa0000 4px,#fa0000 8px,#ff2e00 10px,#fd0f00 12px,#ff8100 14px,#ff5200 16px,#fdb400 18px,#ff8d00 20px,#ffb500 21px,#ffb000 22px,#ff8700 23px,#ff7f00 24px,#ff8a00 26px,#ff8500 28px,#81b422 29px,#016d8f 30px,#008078 31px,#96be00 32px,#febd00 33px,#ffa300 35px,#ffb400 38px,#f8e000 41px,#15b712 42px,#a8e000 43px,#edda00 44px,#e2d000 46px,#eae600 49px,#e0ec00 50px,#36c600 51px,#f8df00 52px,#fe9200 57px,#ecce00 60px,#d0d700 61px,#75d400 62px,#35c600 63px,#22c004 64px,#7ad500 66px,#f0c300 72px,#fdb900 74px,#ff9c00 76px,#ede700 81px,#e3e600 84px,#fdc500 87px,#ff8600 92px,#ff7d00 94px,#ff9f00 96px,#fec500 98px,#fdc100 100px,#ff9f00 103px,#ffa400 109px,#f3e500 114px,#f4e400 117px,#ffa900 122px,#fcc000 126px,#e1c600 129px,#d8bb00 133px,#fbd000 137px,#ffb000 142px,#fccc00 145px,#ffa500 149px,#ffb800 151px,#f7e700 155px,#f6c800 161px,#debd00 165px,#d6d100 166px,#c5d300 169px,#b0e300 173px,#7dd700 179px,#29bf0c 182px,#0caf22 183px,#005aac 186px,#0041cc 187px,#0013ed 191px,#0014ec 197px,#0015eb 206px,#0037d2 209px,#049357 215px,#059d47 218px)"></i><i style="left:181px;width:2px;background:linear-gradient(#fb0500 0,#fc0d00 1px,#ff4d00 2px,#ff3e00 3px,#fa0000 4px,#fa0000 8px,#fd1200 9px,#ff3a00 10px,#fd1000 12px,#ff8700 14px,#ff5600 16px,#ff9100 17px,#ffb700 18px,#ddc900 19px,#fbd000 20px,#fccb00 22px,#ffa700 23px,#ceb600 24px,#9bab00 25px,#fea800 26px,#ff8800 27px,#ff9c00 32px,#ffa600 34px,#9ade00 35px,#ffa500 36px,#fbd200 40px,#fccb00 41px,#8cdc00 42px,#a9d800 43px,#f8d000 44px,#b5d400 48px,#abde00 50px,#96dd00 51px,#c2d800 52px,#fabb00 56px,#fba800 58px,#e0bc00 61px,#8cb500 62px,#467b74 63px,#237274 64px,#5bb23c 65px,#9cc900 66px,#b3b300 69px,#e4c300 73px,#dab600 76px,#c8aa00 77px,#90bb00 79px,#7bb73b 82px,#7fa737 86px,#809b36 91px,#7c8f67 97px,#7e9650 102px,#82cf0c 110px,#87c801 118px,#e6a300 123px,#fbac00 125px,#fbbf00 132px,#f3b000 135px,#b2ca00 144px,#cfb800 149px,#efdb00 154px,#fcc000 157px,#ff5600 163px,#ffa500 166px,#f6c900 171px,#e1da00 174px,#f7e800 181px,#efef00 182px,#45c805 187px,#18ae2b 190px,#0aa633 194px,#017e79 197px,#0058ac 199px,#0045bf 202px,#005da9 206px,#008c68 209px,#0daf21 211px,#22bf06 212px,#97de00 215px,#bbe500 218px)"></i><i style="left:183px;width:2px;background:linear-gradient(#fb0300 0,#fc0e00 1px,#ff5300 2px,#ff4900 3px,#fb0400 4px,#fb0600 8px,#ff6300 10px,#fe2100 12px,#ff9000 14px,#ff4700 16px,#ffb600 18px,#ffb000 19px,#7ba951 20px,#33c20a 21px,#f9db00 22px,#fec400 23px,#56bf25 24px,#0132c4 25px,#86d500 26px,#ffa600 27px,#ff9e00 29px,#ff8900 31px,#f9da00 36px,#cfe200 39px,#a8db00 40px,#60876f 41px,#1b796e 42px,#058667 43px,#027088 44px,#116c75 45px,#087870 46px,#027189 47px,#0046bc 49px,#0043c0 52px,#0033d6 53px,#003dcd 54px,#00649b 55px,#0032ce 56px,#081dbe 57px,#0048ad 58px,#0056a9 59px,#0037cc 61px,#0017ea 62px,#0205e7 63px,#000af3 64px,#002bda 65px,#0042b4 68px,#087177 72px,#05707f 75px,#0031d2 79px,#0019e6 81px,#0009f4 91px,#003cca 95px,#0059a4 98px,#0055b3 103px,#06984d 108px,#059355 110px,#003cc9 115px,#001ae5 117px,#0213dd 121px,#0130c5 124px,#06548d 129px,#02579d 135px,#0021e2 141px,#041ecc 148px,#0a6678 156px,#449064 160px,#77c91c 164px,#6dd006 167px,#2cae33 170px,#098463 172px,#056885 174px,#07677f 177px,#45a548 184px,#33b52a 189px,#099a45 195px,#00649c 202px,#0128d1 205px,#100abb 209px,#122c9a 213px,#185061 216px,#1a5459 218px)"></i><i style="left:185px;width:2px;background:linear-gradient(#fb0400 0,#fd1200 1px,#ff5b00 2px,#ff5500 3px,#fc0e00 4px,#fb0400 5px,#ff2400 6px,#fe1900 8px,#ff8c00 10px,#ff7b00 11px,#ff5100 12px,#febb00 14px,#ff7800 16px,#ffae00 17px,#97cb00 18px,#289b4c 19px,#55c810 20px,#fcce00 21px,#fbd400 22px,#fec300 23px,#d4e100 24px,#f5da00 25px,#ffa200 27px,#ffaa00 29px,#49c907 30px,#3fc30f 31px,#fad800 32px,#bfe600 34px,#36c30a 37px,#1b8f58 38px,#002ed9 39px,#0046bd 40px,#002ed9 41px,#002ed9 42px,#003fbe 43px,#0126d8 44px,#0200ea 46px,#0900cc 47px,#0b00c3 48px,#0300e5 49px,#0100f0 56px,#0800cb 57px,#0500da 60px,#0b00be 66px,#310079 72px,#20008a 79px,#3e006c 84px,#280082 89px,#0405df 94px,#0020e0 96px,#0057a9 99px,#0047be 102px,#0018e6 105px,#0801d1 112px,#0800cc 118px,#290081 129px,#19009b 133px,#0d00b6 137px,#17009b 144px,#0f00ab 149px,#0300e6 155px,#0108ed 161px,#0124d7 168px,#0004f7 177px,#0042c9 182px,#007d7c 186px,#007686 189px,#0027de 195px,#0005f4 203px,#0615cb 209px,#1e00ae 213px,#260094 218px)"></i><i style="left:187px;width:2px;background:linear-gradient(#fb0800 0,#fe1700 1px,#ff6600 2px,#ff6a00 3px,#ff1e00 4px,#fc0e00 5px,#ff3500 6px,#ff3700 7px,#ff1f00 8px,#ff5400 9px,#ff9c00 10px,#ff9700 11px,#ff6700 12px,#ff8500 13px,#febe00 14px,#ffa200 15px,#fbb100 16px,#729965 17px,#0600d7 18px,#090ac6 19px,#8bd300 20px,#efe800 21px,#e5ea00 22px,#4fbf21 23px,#00669c 24px,#93db00 25px,#fec300 26px,#febf00 27px,#e8ec00 30px,#44ca00 33px,#099f3e 35px,#005caa 36px,#004db6 37px,#002cd8 38px,#0500df 41px,#0c00b7 44px,#0e00af 46px,#170096 47px,#190091 48px,#0d00b4 51px,#0b00bd 55px,#1200a1 62px,#0600d2 69px,#1200a9 76px,#1e009f 88px,#0800cb 94px,#0200e9 98px,#0600d8 102px,#1c008e 108px,#250085 113px,#1f008b 119px,#270083 125px,#12009d 137px,#0e00b1 144px,#0101ef 157px,#0700cf 165px,#0105ee 172px,#0400e0 180px,#050dd4 187px,#0015ea 200px,#0039cb 203px,#005aa5 206px,#0046b9 210px,#0022e0 215px,#011fe0 218px)"></i><i style="left:189px;width:2px;background:linear-gradient(#fc0d00 0,#ff1e00 1px,#ff6e00 2px,#ff7300 3px,#ff2a00 4px,#fd0f00 5px,#ff2e00 6px,#ff3500 7px,#fe1d00 8px,#ff4d00 9px,#ffa600 10px,#ffb000 11px,#ff7b00 12px,#ff9b00 13px,#f9dc00 14px,#fccb00 15px,#b3e300 16px,#5a9e58 17px,#c6d200 18px,#fec500 19px,#fbd300 20px,#e1ec00 21px,#cbe800 22px,#f6e900 23px,#fec400 27px,#fad700 29px,#eeec00 30px,#2bc108 33px,#0aa92f 34px,#004eb7 36px,#001be7 37px,#0200ed 38px,#1500a1 41px,#180099 44px,#1100a9 50px,#0c00b9 62px,#0200ed 68px,#000fef 92px,#0011ee 99px,#0300e3 106px,#1300a4 112px,#320078 122px,#12009d 129px,#270085 140px,#1200a5 148px,#1200a0 154px,#0f00ae 160px,#1400a1 169px,#0d00b4 178px,#160096 184px,#13009c 191px,#1200a0 200px,#0400de 208px,#0b00be 218px)"></i><i style="left:191px;width:2px;background:linear-gradient(#fd1300 0,#ff2c00 1px,#ff7500 2px,#ff7100 3px,#ff2800 4px,#fd1100 5px,#ff7700 7px,#ff6500 8px,#ff8300 9px,#fdc700 10px,#fdc700 11px,#ff8b00 12px,#ffb400 13px,#dfeb00 14px,#d1e600 15px,#f8e300 16px,#ffb400 17px,#fbd400 18px,#fbd000 20px,#f6ec00 21px,#e3ed00 22px,#f6e100 23px,#feba00 24px,#fdc600 28px,#eaee00 30px,#b5e400 31px,#5acf00 32px,#349f4a 33px,#0aa534 34px,#069d47 35px,#0062a0 36px,#002fd9 37px,#0000f7 39px,#0a00c3 43px,#0a00c1 54px,#22008c 61px,#0d00b7 71px,#0700cf 79px,#180099 86px,#0e00b0 92px,#0800ca 98px,#0c00b9 109px,#0500dd 117px,#0e00ae 125px,#1200a0 131px,#30007a 141px,#13009f 150px,#0c00b9 155px,#0800cb 160px,#0900c6 168px,#0300e6 176px,#020ee3 185px,#020ae2 197px,#0020e3 211px,#001fe4 218px)"></i><i style="left:193px;width:2px;background:linear-gradient(#fe1b00 0,#ff3c00 1px,#ff7b00 2px,#ff7100 3px,#ff2e00 4px,#fe1900 5px,#ff6e00 6px,#ffa400 7px,#ff8d00 8px,#ff9900 9px,#fad800 10px,#f9de00 11px,#ffa000 12px,#ffb500 13px,#d1e600 14px,#a1cd00 15px,#e3c100 16px,#fdc600 17px,#e3e500 18px,#09a437 19px,#108e56 20px,#fad500 21px,#fbd000 22px,#ffb600 23px,#ffb300 24px,#fccf00 27px,#f1ea00 30px,#d2e900 31px,#63c323 32px,#067d72 33px,#07a43c 34px,#08a734 35px,#016e8f 36px,#000bf0 38px,#0100f5 39px,#0110e8 40px,#0900c9 46px,#0a00c2 49px,#0c00bb 57px,#0b00c3 67px,#0108ea 77px,#0400e2 81px,#0800d1 86px,#0300e4 93px,#0e00af 107px,#0000f7 117px,#0800ce 126px,#0d00c4 142px,#220088 150px,#13009a 154px,#0800c9 159px,#010bef 188px,#0207e8 201px,#0403df 211px,#010bec 218px)"></i><i style="left:195px;width:2px;background:linear-gradient(#ff2700 0,#ff4c00 1px,#ff8400 2px,#ff7d00 3px,#ff4600 4px,#ff3b00 5px,#ff9f00 6px,#fbd300 7px,#ff8900 9px,#ffb700 10px,#fec100 11px,#ff8500 12px,#ff9700 13px,#fccf00 14px,#ff9200 16px,#ffbc00 17px,#fad500 18px,#d0c700 19px,#001ee5 20px,#678d6b 21px,#ffa300 22px,#ff9500 23px,#fdca00 25px,#ffb200 28px,#ffa300 30px,#fbc900 33px,#84d007 34px,#3bb62d 35px,#a8e100 36px,#7dd700 37px,#048072 38px,#0130cb 39px,#327972 40px,#0d8165 41px,#003dc1 44px,#002bd8 47px,#0049bd 52px,#0033d3 53px,#0041c8 55px,#000cf1 63px,#0036d3 72px,#0015eb 78px,#003dcf 84px,#000df1 90px,#002adc 96px,#0007f5 102px,#001ae7 108px,#0100f5 112px,#0d00bf 119px,#0c00be 125px,#0213e2 129px,#001de5 130px,#00718d 134px,#018470 139px,#10a339 142px,#2ca63e 145px,#0f6f72 150px,#046788 163px,#078367 171px,#0057a8 175px,#002adc 178px,#0029d9 182px,#0045b8 187px,#0130c9 192px,#013cb7 197px,#0212dd 202px,#1100bc 207px,#0800d1 214px,#0503dc 218px)"></i><i style="left:197px;width:2px;background:linear-gradient(#ff3700 0,#ff8a00 2px,#ff8000 3px,#ff4d00 4px,#ff4400 5px,#ffa500 6px,#fad800 7px,#ff9f00 9px,#fccc00 10px,#fccd00 11px,#ff9e00 12px,#ffa000 13px,#f9da00 14px,#ffa100 16px,#fec300 17px,#fbd000 18px,#ffac00 19px,#ff9d00 20px,#d5c200 21px,#d0b900 22px,#278f5c 23px,#48727b 24px,#ffae00 25px,#ff6b00 30px,#ff6700 33px,#ff7800 35px,#feb400 36px,#f0a600 37px,#ff8100 38px,#fad400 41px,#a6e000 44px,#56cb09 46px,#46c216 47px,#13b31c 48px,#31b822 49px,#089f40 51px,#006998 53px,#004ac0 55px,#0059ad 58px,#00708e 61px,#0058ad 64px,#003dce 65px,#0006f4 70px,#0015eb 75px,#0100f4 78px,#0600d8 81px,#0005f5 91px,#0103f2 99px,#002adb 105px,#00649e 109px,#0063a1 111px,#011ee0 115px,#0217dd 119px,#0039c3 123px,#01896b 134px,#008f63 137px,#09a930 139px,#1aba0d 140px,#8edc00 143px,#a0e000 145px,#3fc607 150px,#43c311 154px,#3ac507 159px,#0e934e 166px,#098464 169px,#002fce 175px,#0026de 177px,#0053b6 180px,#007d7c 183px,#0060a0 187px,#003fc0 191px,#00629d 197px,#001fe2 201px,#021cd8 206px,#082aad 218px)"></i><i style="left:199px;width:2px;background:linear-gradient(#ff4500 0,#ff8f00 2px,#ff8400 3px,#ff5400 4px,#ff4b00 5px,#ffa200 6px,#fccc00 7px,#ffaa00 8px,#ffa900 9px,#f7e400 10px,#f6ea00 11px,#ffad00 12px,#f9de00 14px,#ff7a00 16px,#ffb600 18px,#ff9600 19px,#ff8f00 20px,#ff9b00 21px,#ff9100 22px,#1ba934 23px,#077774 24px,#ff9000 25px,#ff6d00 26px,#ff6100 27px,#ff6e00 29px,#858a13 30px,#b99400 31px,#ff2c00 32px,#ff2500 34px,#ff7200 39px,#fbb700 40px,#ff9000 41px,#f1ee00 45px,#aee200 47px,#80d900 49px,#22c101 51px,#07a43b 52px,#0047c7 54px,#0018e9 56px,#0019e8 59px,#004abe 63px,#0034d5 66px,#0004f4 69px,#0500d5 77px,#0c00ba 79px,#050bd6 82px,#0026db 85px,#037582 88px,#088d58 89px,#2bb22d 92px,#23b521 95px,#09a92f 97px,#005aad 100px,#003bd0 101px,#0007f5 104px,#000fef 107px,#0042c5 110px,#049751 114px,#06a33d 117px,#018a69 120px,#0041ba 124px,#0139bc 129px,#0055a8 131px,#009160 134px,#008d66 136px,#004ebd 139px,#002cd9 142px,#0040c7 150px,#0035d0 156px,#003ac9 160px,#011cdc 163px,#0b00c2 167px,#1e009c 172px,#0f00c2 176px,#012ad1 179px,#016991 182px,#026692 185px,#0130c9 189px,#0201eb 196px,#0500db 197px,#1f008b 199px,#390071 200px,#450065 218px)"></i><i style="left:201px;width:2px;background:linear-gradient(#ff5100 0,#ff8d00 2px,#ff7800 3px,#ff4200 4px,#ff3d00 5px,#ff9000 6px,#ffae00 7px,#ff7f00 8px,#ff8200 9px,#fec000 10px,#febb00 11px,#ff8800 12px,#febd00 13px,#fbd100 14px,#ff9400 15px,#ff8400 16px,#fbb700 17px,#bac000 18px,#829c23 19px,#778970 20px,#074290 21px,#006f8f 22px,#89c500 23px,#8a9600 24px,#fba700 25px,#ff5600 26px,#ff6000 28px,#edd300 29px,#0a5776 30px,#062cb3 31px,#048964 32px,#ff8400 33px,#fd1400 34px,#ff5400 37px,#ff5c00 38px,#f8e000 39px,#38a445 40px,#98de00 41px,#e8e600 42px,#e7ed00 43px,#ffa700 44px,#fad300 46px,#cae000 50px,#99d600 51px,#9fd700 52px,#74cf0d 53px,#46ca00 54px,#84d007 55px,#7bbe2d 60px,#7fce13 66px,#32a93c 70px,#18895f 72px,#07677f 73px,#107e68 74px,#0b8165 76px,#1f8169 77px,#49ae3d 79px,#80cb16 83px,#90cb00 86px,#dfd100 91px,#d6d400 94px,#83d308 98px,#5cad43 101px,#7ca252 107px,#7aa25a 109px,#2d8d61 113px,#1f9f44 117px,#0a8a5a 120px,#0040bb 124px,#0025e0 130px,#0052b7 133px,#007d7d 136px,#006c94 139px,#0051b7 142px,#0058af 144px,#09a03b 149px,#43be1e 160px,#2dbc14 164px,#28c300 167px,#35c405 171px,#1fc100 175px,#66d300 181px,#53ce00 187px,#7cd700 192px,#66d101 195px,#589266 200px,#356a7a 204px,#09677a 209px,#066f7f 214px,#026094 218px)"></i><i style="left:203px;width:2px;background:linear-gradient(#ff5c00 0,#ff8700 2px,#ff6900 3px,#ff3600 4px,#ff3f00 5px,#ff9100 6px,#ff9c00 7px,#ff6d00 8px,#ff8200 9px,#ffba00 10px,#ff9800 11px,#ff6400 12px,#fccb00 13px,#d7ea00 14px,#d9eb00 15px,#75d600 16px,#5dc026 17px,#639665 18px,#7bab4a 19px,#69c02c 20px,#003ccf 21px,#64d100 22px,#ff5c00 23px,#ff5a00 24px,#ff8b00 26px,#ff4b00 27px,#ff2800 30px,#ff5700 31px,#ff4800 32px,#fe1800 33px,#fe4500 34px,#ad7400 35px,#f78c00 36px,#ff3d00 37px,#ff6700 39px,#fec300 40px,#e9ee00 41px,#ff9000 42px,#ff7700 43px,#ff8800 46px,#ffaa00 47px,#d1c100 48px,#8ab700 49px,#f9d300 50px,#ffb100 52px,#ffa700 53px,#eeca00 54px,#ff9600 56px,#fbbb00 63px,#e6ce00 66px,#dfe100 72px,#bfd900 76px,#f1c800 82px,#cebe00 86px,#a6bc00 90px,#c2c600 96px,#88d200 99px,#54a54c 102px,#56886c 105px,#6a8373 109px,#296c79 113px,#06578d 116px,#021cd7 123px,#0400e0 129px,#0300e8 134px,#0005f5 136px,#001be7 139px,#0205e7 142px,#0f00bb 145px,#0c00c3 148px,#0111e9 153px,#0206ea 163px,#0026df 166px,#003bc3 168px,#090ec2 175px,#0221d4 178px,#0041bb 184px,#01559f 189px,#13786d 192px,#43ad3d 195px,#6ed300 198px,#b2e000 201px,#b8e200 203px,#8ad900 205px,#60cf01 206px,#159153 209px,#056985 212px,#05608c 218px)"></i><i style="left:205px;width:2px;background:linear-gradient(#ff6300 0,#ff7d00 1px,#ff8400 2px,#ff3700 4px,#ff4d00 5px,#ff9500 6px,#ff7b00 7px,#ff3600 8px,#ff6200 9px,#ffad00 10px,#ff9a00 11px,#ff7000 12px,#febd00 13px,#f2da00 14px,#fcac00 15px,#feb400 18px,#63b140 19px,#284563 20px,#2f007e 21px,#036f86 22px,#fbc400 23px,#7fa439 24px,#024b99 25px,#0023e1 26px,#fbbc00 27px,#ff3f00 28px,#ff3d00 29px,#ff7d00 30px,#ff4700 32px,#ff3f00 33px,#fa9f00 34px,#338e62 35px,#22ba15 36px,#ff6000 37px,#ff7a00 38px,#fcc000 39px,#f8e000 40px,#fbd200 41px,#f5af00 42px,#b0a500 43px,#808b33 44px,#7a9e60 45px,#00708e 46px,#0c9f3d 47px,#0a954a 48px,#0052af 49px,#4ccc00 50px,#d8e900 51px,#c2e500 57px,#779b64 58px,#5d6a2e 59px,#24179d 60px,#00599f 61px,#55ce00 62px,#13bb08 65px,#18bd04 68px,#43ca00 72px,#35b923 76px,#0fb318 81px,#029b50 84px,#0054b5 87px,#003fc8 89px,#004eb6 91px,#069354 95px,#099c41 98px,#068369 105px,#0052b1 110px,#0044bf 116px,#006797 123px,#006b95 129px,#078664 133px,#19a23d 135px,#4fc610 138px,#4ec319 140px,#087376 144px,#0038c1 147px,#0106ee 152px,#0200ee 165px,#0900c7 167px,#12009e 168px,#290081 178px,#1100a1 183px,#390071 189px,#270083 192px,#0500db 196px,#0507d9 198px,#23009d 205px,#370073 208px,#380072 218px)"></i><i style="left:207px;width:2px;background:linear-gradient(#ff6900 0,#ff7e00 1px,#ff7900 2px,#fe1500 4px,#fe1b00 5px,#ff4d00 6px,#fb0600 8px,#ff3600 9px,#ff9200 10px,#ff8200 11px,#ff5d00 12px,#ff8a00 13px,#ff8600 14px,#ff3c00 15px,#ff3700 16px,#ff6800 17px,#ff6600 18px,#8e7b00 19px,#984e3c 20px,#803f70 21px,#ff7600 22px,#fc9400 23px,#2d6f78 24px,#296672 25px,#7fb328 26px,#febc00 27px,#ff7000 28px,#ff6200 30px,#ff5c00 34px,#cce600 35px,#d6ae00 36px,#ff8100 37px,#ff9d00 39px,#e3eb00 40px,#06777a 41px,#0aa92e 42px,#b4ba00 43px,#d3c300 44px,#ded100 46px,#fccf00 47px,#f9dc00 48px,#d2e500 49px,#3ac111 50px,#3eac3c 51px,#48cb00 52px,#2ac300 53px,#1eb815 57px,#0a2fa0 58px,#380072 59px,#40006a 60px,#0800d1 61px,#005aad 62px,#058f5b 63px,#07a33c 66px,#12ba08 67px,#37c407 71px,#23a739 74px,#0d8166 75px,#003fbf 76px,#04688a 77px,#0135c3 80px,#0024df 83px,#004dbb 86px,#029b50 90px,#0fb318 93px,#0daf21 97px,#007d7c 103px,#0039d0 108px,#002adc 112px,#0054ae 118px,#03846d 122px,#059158 127px,#1eb815 130px,#41c900 132px,#61d100 136px,#57cf00 139px,#2ac00b 141px,#07974d 143px,#005ea1 145px,#0024e0 148px,#0100f3 153px,#0b00be 156px,#25008b 159px,#1d009d 162px,#0400e0 166px,#0600d7 169px,#0d00b8 171px,#0900cb 177px,#0014e9 182px,#0029d8 185px,#0a5e7e 189px,#347178 192px,#1a6c77 195px,#03509a 198px,#1113b3 205px,#2100a8 208px,#2000a9 212px,#130ab8 214px,#082aaf 218px)"></i><i style="left:209px;width:2px;background:linear-gradient(#ff6c00 0,#ff7b00 1px,#ff7200 2px,#fc0e00 4px,#fd1200 5px,#ff3200 6px,#fc0c00 7px,#fa0000 8px,#ff1f00 9px,#ff7500 10px,#ff3000 12px,#ff6600 13px,#ff6700 14px,#ff2100 15px,#ff2000 16px,#ff4900 17px,#ff3f00 18px,#ff1f00 19px,#ff4700 21px,#ff2300 23px,#ff6b00 25px,#ff7000 26px,#ffb500 27px,#ddeb00 28px,#ff8f00 29px,#ff6e00 32px,#ff9600 33px,#bfae00 34px,#ff9e00 35px,#ff8500 39px,#ff8600 40px,#93a700 41px,#fbbc00 42px,#ff9500 43px,#ff9200 45px,#ff9e00 46px,#f8df00 47px,#e3e000 48px,#fad800 49px,#87bc0a 50px,#82c413 51px,#b3e300 52px,#5fd100 54px,#40c900 55px,#0cae25 56px,#07a439 57px,#07a43a 58px,#00649f 61px,#0027db 64px,#0411d6 65px,#1d00b3 66px,#22298f 68px,#1a1ea2 70px,#0819bd 71px,#1500b6 74px,#200093 75px,#260088 76px,#21009f 77px,#1500aa 80px,#0108ea 83px,#0018e9 84px,#006b95 87px,#027f75 89px,#0052a9 94px,#0059a3 96px,#057f72 98px,#1eb420 100px,#38c604 101px,#6fd500 103px,#6ed500 105px,#46ca00 108px,#5dd000 111px,#75d600 113px,#62d200 115px,#29c300 117px,#1fb323 119px,#32bf12 122px,#47cb00 124px,#46ca00 126px,#1fc002 128px,#049652 132px,#038d61 138px,#0061a2 141px,#0031d7 143px,#0113e5 145px,#0713c8 149px,#0800d2 156px,#0d00bf 160px,#0012ea 166px,#0023e1 171px,#0055b2 174px,#07a13f 178px,#10af25 181px,#09a832 185px,#1abc0a 187px,#a8e100 190px,#c5e200 191px,#cadd00 193px,#a4df00 195px,#76d500 196px,#2ba440 199px,#06826b 202px,#003ecd 206px,#001de5 209px,#003ecc 213px,#006f90 218px)"></i><i style="left:211px;width:2px;background:linear-gradient(#ff6e00 0,#ff7700 1px,#ff6b00 2px,#fb0500 4px,#fc0d00 5px,#ff3500 6px,#fc0d00 7px,#fa0000 8px,#fd1300 9px,#ff5b00 10px,#ff2800 12px,#ff6a00 13px,#ff7500 14px,#ff3c00 15px,#ff4200 16px,#ff6c00 17px,#ff5e00 18px,#ff3400 19px,#ff4d00 21px,#ff3a00 23px,#ff7600 25px,#ff6900 27px,#ff8200 30px,#9fda00 31px,#56aa45 32px,#c6d900 33px,#b8bf00 34px,#dce100 35px,#ff9c00 36px,#ff8d00 42px,#ff6400 45px,#f7e800 53px,#abe200 55px,#81d800 58px,#37c408 60px,#16b024 61px,#079352 62px,#012ecd 64px,#021bdb 65px,#0516ce 66px,#0433b2 67px,#0431b4 68px,#0d3692 70px,#0138bb 71px,#051fc8 76px,#0b00c3 80px,#000fed 86px,#001de5 90px,#001fe4 95px,#0056b1 102px,#0047ba 108px,#03658f 114px,#0052b5 118px,#0036d4 122px,#001de5 129px,#004dbb 133px,#00679a 136px,#0039d1 141px,#0022e0 144px,#014aa6 150px,#0428c2 154px,#0e00c4 157px,#0e00ba 159px,#0008f4 163px,#0063a1 168px,#06984c 172px,#20b51f 174px,#57cf00 177px,#58cf00 179px,#16b617 182px,#009062 185px,#019856 187px,#1fc100 190px,#36c700 191px,#3ac700 192px,#10b612 194px,#0057b0 197px,#0031d7 199px,#0041c1 201px,#067d73 203px,#199d44 204px,#53c417 206px,#65ce06 208px,#5cca0e 212px,#8bd200 216px,#8ecf00 218px)"></i><i style="left:213px;width:2px;background:linear-gradient(#ff6f00 0,#ff6900 2px,#fc0a00 4px,#fc0f00 5px,#ff3d00 6px,#fa0000 8px,#fd1500 9px,#ff5a00 10px,#ff2700 12px,#ff6e00 13px,#ff8400 14px,#ff4d00 15px,#ff4f00 16px,#ff7c00 17px,#ff7800 18px,#ff5000 19px,#ff6200 21px,#ff3e00 23px,#ff6400 25px,#ff4700 27px,#ff7d00 30px,#ff8100 31px,#cee900 32px,#feae00 33px,#e7d300 34px,#005ca2 35px,#3fb136 36px,#ff9600 37px,#ff5d00 44px,#ff6d00 45px,#ff6000 46px,#fcc700 53px,#e3e600 55px,#c2e600 56px,#64d100 57px,#85da00 58px,#46ca01 60px,#1fb915 63px,#27b919 66px,#09a338 67px,#11b710 68px,#18b812 70px,#79d600 71px,#97dc00 72px,#95db00 74px,#6cce0b 76px,#09895c 81px,#039c4c 85px,#006299 87px,#0028dd 88px,#0025df 89px,#005aac 90px,#006b95 91px,#0044c6 94px,#0129d2 98px,#003ad1 105px,#0033d3 110px,#007e7a 119px,#069157 124px,#27a83a 127px,#3fb432 130px,#0fa733 133px,#005aac 137px,#0003f8 143px,#1100aa 151px,#1102bf 158px,#012ad2 162px,#004bbf 166px,#0063a0 169px,#079d44 173px,#1a9f41 175px,#1e8268 178px,#014ba3 182px,#0038c2 186px,#00669b 196px,#07a43b 200px,#1dbb0e 202px,#51c21c 205px,#62bc31 209px,#81c915 213px,#86b70f 218px)"></i><i style="left:215px;width:2px;background:linear-gradient(#ff6e00 0,#ff6c00 2px,#ff5500 3px,#ff2100 4px,#ff3300 5px,#ff7a00 6px,#ff4e00 7px,#fc0d00 8px,#ff2400 9px,#ff7000 10px,#ff3c00 12px,#ff7b00 13px,#ff9000 14px,#ff5000 15px,#ff3f00 16px,#ff7100 17px,#ff7e00 18px,#ff5800 19px,#ff4c00 20px,#ff5700 21px,#ff3700 23px,#ff6200 25px,#ff5900 27px,#ff7a00 30px,#2fbd15 31px,#075f87 32px,#b2bb00 33px,#e0c600 34px,#829e22 35px,#c8b300 36px,#ff8700 37px,#ff6400 44px,#ff8d00 47px,#ff9300 51px,#feb200 52px,#f9da00 55px,#e3e500 56px,#adde00 57px,#1f9c48 58px,#0020e3 59px,#4dcc00 60px,#c2e600 61px,#5dc715 62px,#3f7875 63px,#5ed000 64px,#98de00 65px,#d7ea00 69px,#cfe900 70px,#dbd900 72px,#bad200 75px,#8ecd00 76px,#aadd00 77px,#50cd00 81px,#49cb00 84px,#4fcc01 85px,#369a52 86px,#2b8667 87px,#2e8568 88px,#0155a0 89px,#0025e0 90px,#00708e 91px,#008275 92px,#0039d2 94px,#0011eb 96px,#0119e0 100px,#0022e2 101px,#0060a4 103px,#07a13f 105px,#16b31d 106px,#37c20c 109px,#10ae26 112px,#0063a0 116px,#004ac3 119px,#0047b9 125px,#026193 130px,#004faf 132px,#001ce6 134px,#0104f1 135px,#0400dd 136px,#1f008b 138px,#3b006f 140px,#30007a 148px,#13009c 151px,#0200ee 155px,#0021e3 158px,#0036d1 161px,#0118e3 168px,#0023e1 173px,#0002f5 176px,#2a0080 186px,#330077 192px,#1f0096 197px,#0700d3 201px,#0c00b9 204px,#2d007d 208px,#1c0091 212px,#0b00bc 216px,#0b00be 218px)"></i><i style="left:217px;width:2px;background:linear-gradient(#ff6c00 0,#ff5c00 1px,#ff6900 2px,#ff6000 3px,#ff2500 4px,#ff2d00 5px,#ff7c00 6px,#ff5f00 7px,#fe1600 8px,#ff3a00 9px,#ff9600 10px,#ff9300 11px,#ff7000 12px,#ffa100 13px,#ffb200 14px,#ff6b00 15px,#ff4c00 16px,#ff7f00 17px,#ff9400 18px,#ff3a00 20px,#ff2800 23px,#ff6e00 25px,#ff6300 27px,#ff7400 29px,#ffaf00 30px,#fdab00 31px,#ff8f00 32px,#ff9b00 34px,#ff6e00 37px,#ff8000 42px,#feab00 43px,#ff6500 44px,#ff8b00 48px,#ff9500 50px,#f7e600 51px,#f8df00 55px,#ebeb00 56px,#91db00 57px,#abe200 58px,#68d300 60px,#59cf00 61px,#088268 62px,#2100a4 63px,#0100f0 64px,#1b9e43 65px,#1fb323 66px,#23a838 68px,#217571 69px,#1e6369 70px,#117370 71px,#004ea8 75px,#0146a9 76px,#006499 78px,#069255 80px,#0eab2c 81px,#43c806 83px,#5dd000 85px,#34bc1b 88px,#1cb029 89px,#039852 90px,#008a6b 93px,#029952 95px,#11b80e 98px,#14bc04 99px,#68d300 105px,#99df00 107px,#a1e000 109px,#68d300 112px,#3fc704 114px,#4fb436 121px,#158266 126px,#098363 129px,#0ba03c 133px,#079450 134px,#005da6 136px,#0037ce 137px,#0119e3 138px,#1600b4 141px,#240097 144px,#0c00b7 149px,#0200ed 153px,#0016eb 159px,#0003f8 161px,#0700cd 164px,#1000a6 166px,#0f00ae 168px,#0105ec 171px,#0028dd 173px,#004abe 176px,#0027de 180px,#0100f3 184px,#0800ce 188px,#1100ab 191px,#0a00c6 195px,#0203ec 197px,#0017e9 199px,#0050b2 205px,#0041bc 209px,#0025df 213px,#001be7 218px)"></i><i style="left:219px;width:2px;background:linear-gradient(#ff6a00 0,#ff5100 1px,#ff6200 2px,#ff5e00 3px,#ff2700 4px,#ff3600 5px,#ff8c00 6px,#ff7200 7px,#fe1a00 8px,#ff3300 9px,#ff9200 10px,#ff9b00 11px,#ff7d00 12px,#ffa800 13px,#ffbe00 14px,#ff8400 15px,#ff7200 16px,#feb200 17px,#bed100 18px,#ff9700 19px,#ff4b00 20px,#ff2e00 23px,#ff7300 25px,#ff6600 29px,#ff9400 33px,#ff9000 34px,#fda800 35px,#ffa900 36px,#ff4d00 37px,#ff7200 41px,#ff9d00 42px,#a6e100 43px,#ff7c00 44px,#ff9200 50px,#f9dd00 51px,#48cb00 52px,#f1e400 54px,#f6eb00 55px,#32a049 56px,#0823b6 57px,#026a8d 58px,#9edf00 59px,#70d500 61px,#5ed100 63px,#1cbd07 65px,#008a6b 67px,#003bd0 69px,#0211e2 70px,#0007f5 71px,#0b00bc 75px,#220088 76px,#1e008c 77px,#1400b7 78px,#0134c5 87px,#0026de 96px,#003fbe 105px,#0d8066 109px,#35b32f 114px,#6ad200 117px,#97dc00 120px,#7bd402 123px,#16974b 129px,#036e88 133px,#002dd3 136px,#020fdf 141px,#0015eb 144px,#0034d5 148px,#0012ed 156px,#0034ca 164px,#041bcf 170px,#001ae8 173px,#0054af 177px,#004cac 180px,#0116e7 187px,#0111e5 191px,#0026dd 193px,#046c86 196px,#097e68 199px,#0a8f52 202px,#19b716 206px,#0eb11d 208px,#007687 211px,#003eca 213px,#0018e9 215px,#0110e8 218px)"></i><i style="left:221px;width:2px;background:linear-gradient(#ff6800 0,#ff4700 1px,#ff5800 3px,#ff2500 4px,#ff3700 5px,#ff9300 6px,#ff8000 7px,#ff2e00 8px,#ff5400 9px,#ffb200 10px,#ffb600 11px,#ff8b00 12px,#ffb600 14px,#ff8300 15px,#ff7000 16px,#ff9e00 17px,#ffac00 18px,#ff7800 19px,#ff6500 20px,#ff8400 21px,#ff8c00 22px,#ff7f00 23px,#ff9b00 25px,#5db834 26px,#bcae00 27px,#ff8200 28px,#ff8c00 30px,#ffa400 32px,#ff6e00 36px,#fda200 37px,#00659e 38px,#08a636 39px,#ff8000 40px,#ff6e00 41px,#ff9a00 43px,#ff8000 45px,#ff9f00 51px,#dacb00 52px,#fad500 53px,#f8e200 54px,#e0ec00 55px,#2cc400 60px,#1ec100 61px,#07a43b 66px,#077676 71px,#024c9e 75px,#073e97 80px,#054893 82px,#0a1ab6 83px,#0605d5 84px,#022fc3 85px,#0145a7 86px,#002fcd 89px,#0219d8 90px,#0030d7 93px,#0051b1 99px,#0c7b69 104px,#09786f 106px,#003dc8 111px,#003ccd 114px,#00718d 119px,#0047bc 125px,#016794 130px,#0056a9 132px,#001fe4 134px,#0109ec 135px,#0500dd 136px,#1700a0 138px,#1e0093 140px,#0e00b1 142px,#0100f6 145px,#0024e1 149px,#002dda 157px,#005da9 160px,#009161 163px,#028d63 165px,#006d93 169px,#007785 173px,#029a51 176px,#10b21d 178px,#3fc509 181px,#3ec800 184px,#1cbf02 186px,#007f7a 191px,#008276 194px,#099f3e 198px,#059d47 201px,#0052b7 209px,#0027de 214px,#0024e0 218px)"></i><i style="left:223px;width:2px;background:linear-gradient(#ff6500 0,#ff3d00 1px,#ff6400 3px,#ff3000 4px,#ff3100 5px,#ff7d00 6px,#ff5e00 7px,#fe1800 8px,#ff4200 9px,#ffa300 10px,#ffa100 11px,#ff7300 12px,#ff9100 14px,#ff6300 15px,#ff6100 16px,#ff9900 17px,#ffb200 18px,#ff9100 19px,#fbbf00 21px,#ff9700 22px,#ff8900 23px,#fdb300 24px,#8ddb00 25px,#a3b500 26px,#ff8700 27px,#ff8100 29px,#ff8e00 30px,#ffb300 31px,#ff6200 38px,#ff6300 39px,#ff8700 40px,#ff7000 41px,#ff6f00 48px,#ffa200 52px,#e8cd00 53px,#99c400 54px,#a1d000 55px,#e6ec00 57px,#66d300 60px,#3dc800 62px,#26b71d 63px,#037e76 64px,#15bd04 65px,#29c009 66px,#13a635 70px,#099053 76px,#077378 78px,#10a339 82px,#039557 83px,#006e92 84px,#04836e 86px,#0039ce 89px,#0015ea 91px,#040ed9 92px,#0003f8 94px,#0104f2 99px,#003eba 105px,#001fe4 110px,#0039d1 113px,#008473 117px,#08a538 126px,#078763 129px,#0039ce 134px,#0027de 140px,#0025df 147px,#0051b9 152px,#0018e9 156px,#0b00c0 167px,#000fee 171px,#0045c4 174px,#0039cd 176px,#0027de 177px,#0817be 182px,#0519cc 190px,#0011ee 199px,#0040c6 202px,#007685 206px,#0062a0 208px,#002cdb 210px,#0205ea 212px,#0a00c1 218px)"></i><i style="left:225px;width:2px;background:linear-gradient(#ff6200 0,#ff3400 1px,#ff5a00 3px,#fe1b00 4px,#fe1900 5px,#ff5f00 6px,#fa0000 8px,#fc0e00 9px,#ff6200 10px,#ff6400 11px,#ff4500 12px,#ff6600 13px,#ff6e00 14px,#ff3d00 15px,#ff5100 16px,#ff9d00 17px,#febd00 18px,#ffa800 19px,#90ab00 20px,#e7b600 21px,#ff7f00 22px,#ff7700 23px,#ffb200 25px,#ffa900 27px,#ff9400 28px,#ff9d00 29px,#9fdf00 30px,#006a97 31px,#239158 32px,#ff8800 33px,#ff8c00 35px,#ff7000 38px,#83c710 39px,#e5de00 40px,#ff8000 41px,#feb200 42px,#83c711 43px,#c3b000 44px,#cbb200 45px,#97ba00 46px,#fba600 47px,#ff7500 48px,#ffb600 51px,#ffbc00 52px,#4cc11b 53px,#004cae 54px,#127172 55px,#87bb09 56px,#fbd300 57px,#e0e600 60px,#0231c0 61px,#2800a9 62px,#2b007f 63px,#0423cb 64px,#7bc12e 65px,#8edb00 66px,#2fbf10 68px,#0caf23 69px,#018c66 71px,#0060a4 73px,#0417d2 74px,#061bc8 75px,#0203e8 76px,#020ee5 77px,#0041c5 78px,#0060a4 80px,#00689a 81px,#053ca4 82px,#281c96 83px,#271e96 84px,#003bbe 85px,#0047be 86px,#0034d5 89px,#002dda 90px,#0100f4 91px,#020ae3 92px,#0043c5 93px,#007588 95px,#149c44 98px,#289b4c 100px,#076e7a 104px,#066d80 110px,#005ea1 114px,#03787d 116px,#1da23e 118px,#55c21f 121px,#4abb2b 124px,#09766f 128px,#03549a 130px,#055791 136px,#012ad2 142px,#003ac5 144px,#026b8e 146px,#1a9f42 148px,#40bc21 150px,#39b828 152px,#0c9052 154px,#005d9d 156px,#0036c5 159px,#023dad 167px,#003ec4 172px,#0140b3 177px,#0b3e89 180px,#0d3f86 184px,#0f6078 188px,#17657b 190px,#06588d 192px,#0131c5 196px,#003ac2 198px,#005aa4 201px,#0028dd 206px,#0007f5 208px,#0b00bf 212px,#0401df 218px)"></i><i style="left:227px;width:2px;background:linear-gradient(#ff5f00 0,#ff2c00 1px,#ff4400 2px,#ff4900 3px,#fd1000 4px,#fd1500 5px,#ff6d00 6px,#fa0000 8px,#fc0b00 9px,#ff4a00 10px,#ff5b00 12px,#ff7900 13px,#ff7400 14px,#ff3c00 15px,#ff4900 16px,#ff8e00 17px,#ffa700 18px,#ff8400 19px,#ff7300 20px,#e7b800 21px,#e7bb00 22px,#ff8d00 23px,#ffa800 25px,#ffa200 26px,#e8db00 27px,#ff9d00 29px,#f4ec00 30px,#2ac300 31px,#add700 32px,#ffa200 33px,#ff9800 35px,#ff7500 37px,#ff7200 38px,#ff8700 39px,#ff5c00 42px,#a49700 43px,#369d4f 44px,#027b7b 45px,#007c7e 46px,#0fb318 47px,#ff7b00 48px,#ff9300 50px,#ffb300 51px,#ffb300 53px,#f0ea00 59px,#e8e900 60px,#0200ee 61px,#50005a 62px,#0800cf 63px,#cce000 64px,#b8e200 65px,#58cf00 67px,#21b915 69px,#16bc07 73px,#128166 74px,#0061a2 75px,#13bb08 76px,#13b613 78px,#099a46 81px,#0b3a8f 82px,#283d6d 83px,#1b5457 84px,#03678e 85px,#015f9a 87px,#0036d4 88px,#003fc5 89px,#06767a 90px,#1ea738 92px,#62d000 94px,#a3df00 95px,#f0d600 97px,#fead00 100px,#ece000 106px,#ddeb00 109px,#5cd000 114px,#56ce00 116px,#77d500 120px,#63aa4a 125px,#71b63c 133px,#6aad47 136px,#219255 139px,#088367 140px,#005ca5 142px,#004db6 144px,#006599 146px,#098f54 148px,#45c709 152px,#c7e700 159px,#e6e500 167px,#cfe900 172px,#fbd000 176px,#fec300 178px,#ff9700 181px,#ffa800 184px,#f6ec00 187px,#4ecc00 190px,#11ab2e 192px,#038f60 195px,#02866d 199px,#0058ad 201px,#0011ee 203px,#0200ec 204px,#1b008f 207px,#390071 211px,#330077 218px)"></i><i style="left:229px;width:2px;background:linear-gradient(#ff5c00 0,#ff2600 1px,#ff5200 3px,#fe1d00 4px,#ff3400 5px,#ff9000 6px,#fa0100 8px,#fc0c00 9px,#ff3600 10px,#ff3100 12px,#ff6a00 13px,#ff7000 14px,#ff4300 15px,#ff5b00 16px,#ff9f00 17px,#ffb300 18px,#ff9000 19px,#e6e100 20px,#ddc000 21px,#fcbc00 22px,#ffa400 24px,#ffb700 25px,#ffb700 26px,#89d900 27px,#e4d900 28px,#fec500 29px,#b9e500 30px,#d3cc00 31px,#ffae00 32px,#ff8500 35px,#ff6b00 37px,#ff4e00 40px,#ff3a00 42px,#ff4c00 44px,#f3ef00 45px,#178564 46px,#50b03d 47px,#ff7200 48px,#ff7e00 50px,#57cf00 51px,#436d74 52px,#87b50b 53px,#feb900 54px,#fccd00 58px,#fad800 59px,#4ecc00 60px,#0f637b 61px,#79764a 62px,#7fc51d 63px,#c7e500 64px,#4ccc00 71px,#12b90b 73px,#08a734 74px,#0043c7 76px,#006c94 77px,#006796 79px,#067f6f 81px,#16a13d 83px,#37c308 87px,#11b90c 88px,#10af24 89px,#3fc608 90px,#48c11a 92px,#4db632 93px,#7fc81a 97px,#7ebc26 98px,#87c602 99px,#b9cb00 101px,#cbcd00 105px,#add000 108px,#bee400 113px,#a2e000 115px,#3cc800 118px,#1cb814 119px,#008572 121px,#003bd0 123px,#000ef0 125px,#0111e6 134px,#001ce3 135px,#0037cb 136px,#098365 138px,#4bb633 140px,#65c129 142px,#4fab42 146px,#48c218 152px,#0daf21 156px,#079d44 159px,#28ae31 162px,#58cf00 166px,#64d200 172px,#d5e800 180px,#e2ec00 185px,#a6e100 188px,#37c20c 191px,#06a141 193px,#007e7a 195px,#007c7e 197px,#089c45 201px,#06707e 205px,#147172 208px,#3f7f70 211px,#286a7b 213px,#0c5f74 214px,#0c3692 218px)"></i><i style="left:231px;width:2px;background:linear-gradient(#ff5900 0,#ff2000 1px,#ff5000 3px,#fe1c00 4px,#ff3100 5px,#ff7d00 6px,#ff2c00 7px,#fa0000 8px,#fa0100 9px,#ff1b00 10px,#ff1d00 11px,#ff3200 12px,#ff6d00 13px,#ff6800 14px,#ff3500 15px,#ff5200 16px,#ffa200 17px,#fec500 18px,#ffa800 20px,#ffba00 21px,#ffb500 22px,#ff9d00 23px,#ff9e00 24px,#fad700 26px,#49b238 27px,#6eab4b 28px,#bdd400 29px,#fec500 30px,#ff9f00 34px,#ff6600 36px,#ff8100 38px,#ffa300 39px,#ff5000 40px,#ff3f00 42px,#ff7100 44px,#fabd00 45px,#807f4c 46px,#849e19 47px,#ff8300 48px,#ff8d00 51px,#80755b 52px,#7f9e3f 53px,#d7ea00 54px,#ffac00 55px,#fec300 59px,#fad800 60px,#f7e400 62px,#b5e400 66px,#52cc04 69px,#089c43 72px,#0061a3 74px,#0033d6 76px,#0033d5 80px,#006a96 86px,#0041cc 90px,#002adc 92px,#0208e3 93px,#0019e8 95px,#0038d1 98px,#007982 100px,#048669 101px,#028075 102px,#0046be 103px,#004abe 105px,#002fd8 108px,#0039ce 111px,#007884 114px,#05984e 116px,#06a041 118px,#006899 124px,#00669c 129px,#0050ba 132px,#00679a 134px,#07a43b 136px,#1abf00 137px,#97de00 139px,#eaeb00 141px,#fbd400 144px,#f7e400 147px,#abe200 150px,#79d600 152px,#56ce00 157px,#20ba11 159px,#038d61 161px,#0060a4 163px,#005aad 164px,#007389 166px,#0eb21b 169px,#36c601 172px,#39be17 178px,#42ca00 181px,#f1ef00 186px,#f6eb00 189px,#e6ed00 190px,#61d100 194px,#53ce00 197px,#41c900 200px,#1ec000 203px,#34c600 205px,#e8ee00 210px,#f7e400 213px,#d8d900 218px)"></i><i style="left:233px;width:2px;background:linear-gradient(#ff5500 0,#ff1d00 1px,#ff4700 3px,#fc0d00 4px,#fc0e00 5px,#ff3e00 6px,#fc0a00 7px,#fa0000 9px,#fd1500 10px,#fe1700 11px,#ff3600 12px,#ff7800 13px,#ff7c00 14px,#ff6700 15px,#ff8c00 16px,#fcb400 19px,#ff9400 20px,#ffb200 21px,#ffb500 22px,#ff9e00 23px,#ff9900 24px,#ffae00 26px,#14ae29 27px,#0331bc 28px,#045498 29px,#ffbe00 30px,#ff9b00 32px,#ffa000 35px,#ff5c00 38px,#ff6200 41px,#fcac00 42px,#ccbb00 43px,#ff9d00 44px,#ff9100 45px,#feba00 48px,#b1c200 49px,#805879 50px,#806a6d 51px,#ffac00 52px,#fec200 54px,#f6e700 55px,#accf00 56px,#86c704 57px,#8ecd00 58px,#f9da00 59px,#ece200 62px,#97dd00 65px,#53cc03 67px,#3bb42f 71px,#007b80 72px,#005ea5 73px,#058e5c 74px,#038171 75px,#0044c0 76px,#016f8c 77px,#002fd8 81px,#0020e3 85px,#002adc 86px,#010bee 87px,#0900c6 88px,#0300e4 89px,#0054b5 90px,#00728c 91px,#0063a0 93px,#0020e3 97px,#0100f2 98px,#0014eb 99px,#0501de 111px,#1b0baf 118px,#20009e 126px,#0800cc 129px,#0000f7 131px,#0051b9 134px,#09a930 137px,#3ebd1d 140px,#5bc90e 144px,#81d800 146px,#afe300 148px,#b6e400 150px,#74d600 153px,#42c900 155px,#24bb13 160px,#11b419 161px,#007488 165px,#005f9f 168px,#022ac7 177px,#0234ba 181px,#0a5979 186px,#026691 194px,#04777e 196px,#13bd03 201px,#66d200 207px,#c7e700 211px,#eaee00 212px,#ffac00 216px,#ffa200 218px)"></i><i style="left:235px;width:2px;background:linear-gradient(#ff5100 0,#ff1c00 1px,#ff4a00 3px,#fd1100 4px,#fe1500 5px,#ff5100 6px,#fd1200 7px,#fa0000 8px,#ff1d00 10px,#fe1a00 11px,#ff3200 12px,#ff6c00 13px,#ff6600 14px,#ff3600 15px,#ff4e00 16px,#ff9600 17px,#feb900 18px,#feb400 20px,#fccb00 21px,#fdc600 22px,#ffab00 23px,#ffaa00 26px,#0216df 27px,#480062 28px,#1310b3 29px,#f9dd00 30px,#ffb800 31px,#fec300 36px,#ff8900 40px,#ff8300 41px,#fdae00 42px,#07816c 43px,#41c311 44px,#ff9900 45px,#ffbf00 47px,#c5e100 48px,#6b9d5d 49px,#20456a 50px,#2100ad 51px,#0cae23 52px,#fec300 53px,#fec300 55px,#c9d000 56px,#36c700 57px,#87da00 58px,#fccc00 59px,#ffa900 60px,#ff9900 62px,#f8df00 67px,#89d400 68px,#7ed208 69px,#a8e100 70px,#51cd00 71px,#1300b2 72px,#4e005c 73px,#2103af 74px,#003dba 75px,#021bdc 76px,#0115e4 77px,#0061a3 78px,#008c68 84px,#008a6a 85px,#0044c1 86px,#0700d1 87px,#0e00af 89px,#0e00bd 90px,#0046b8 91px,#005da9 92px,#020ee5 94px,#003dce 95px,#010cea 109px,#1a00b4 115px,#2a0083 123px,#1000b7 126px,#020de3 128px,#001ce6 129px,#006997 132px,#00876f 135px,#07a33d 140px,#15b518 142px,#45ca02 144px,#bee400 147px,#d7de00 149px,#cbe200 151px,#afe200 152px,#46ca01 154px,#0bab2a 156px,#069f44 158px,#1bb814 161px,#32c10b 164px,#129e41 167px,#09786e 169px,#0c5f7a 173px,#03519e 176px,#0022e2 181px,#0214dc 189px,#0024e0 192px,#005caa 196px,#09a733 200px,#0aab2b 202px,#057e73 206px,#077a74 208px,#309d4c 212px,#58bd2d 218px)"></i><i style="left:237px;width:2px;background:linear-gradient(#ff4d00 0,#ff1b00 1px,#ff4000 3px,#fb0600 4px,#fb0500 5px,#fe2200 6px,#fa0000 7px,#fa0000 9px,#fc0e00 10px,#fd1300 12px,#ff4100 13px,#ff4200 14px,#fe1f00 15px,#ff3b00 16px,#ff9200 17px,#fdca00 18px,#a0de00 19px,#d8d800 20px,#fdc700 21px,#ff8800 23px,#ff8500 24px,#88a608 25px,#2800aa 26px,#50005a 27px,#0a5f7d 28px,#ffbc00 29px,#f7d800 30px,#59b438 31px,#69d300 32px,#fec300 33px,#ffbc00 36px,#ffbf00 39px,#ff9f00 41px,#038d61 42px,#0030d6 43px,#facf00 44px,#ffaf00 45px,#fdbb00 47px,#c5df00 48px,#ffa500 49px,#fec300 53px,#fbd200 56px,#22b12b 57px,#00955c 58px,#82d800 59px,#b0e300 60px,#fdc700 61px,#f0e100 64px,#b0e300 67px,#4fcd00 68px,#1ca041 69px,#2cb429 70px,#35c600 71px,#25c005 72px,#0b5971 73px,#055d8e 74px,#06a23f 75px,#019060 78px,#00955c 82px,#007587 84px,#007c7e 85px,#006b93 86px,#03678e 87px,#067e70 88px,#10607a 90px,#149c44 91px,#14ab2f 92px,#07a33b 96px,#0045c8 104px,#002bdb 111px,#0050b3 115px,#0041c9 118px,#0015e8 122px,#0014ec 127px,#0042cb 130px,#00738a 133px,#007b7f 136px,#006e90 140px,#078368 142px,#31b22f 144px,#58ca0c 145px,#c4de00 147px,#f5d500 149px,#f9d700 151px,#c5e700 154px,#62d200 157px,#37c505 159px,#0c8066 164px,#077675 167px,#188860 171px,#08687e 174px,#0224cf 177px,#0503db 180px,#0105f0 182px,#0037d3 184px,#06816c 186px,#3aac3b 188px,#5bc617 191px,#2bb91b 198px,#33c600 202px,#26bd0e 205px,#34a542 211px,#5bbe2c 218px)"></i><i style="left:239px;width:2px;background:linear-gradient(#ff4900 0,#ff1c00 1px,#ff3c00 3px,#fa0100 4px,#fa0000 5px,#fe1700 6px,#fa0000 7px,#fa0000 12px,#fe3100 14px,#fe1700 15px,#fe1800 16px,#ff6000 17px,#ff8300 18px,#ff7b00 19px,#ff9a00 21px,#ff8800 23px,#ff9700 24px,#4fa847 25px,#80716e 26px,#94ba00 27px,#ffb500 28px,#ffbf00 29px,#b1d200 30px,#cad700 31px,#fdca00 32px,#ffa500 35px,#ffb000 38px,#ff9000 41px,#e4e800 42px,#0119e4 43px,#28655f 44px,#9cb800 45px,#ff9c00 46px,#ffa200 49px,#febc00 52px,#ffb000 54px,#f6e900 57px,#aae000 58px,#95d800 59px,#f8df00 60px,#ede800 62px,#93dc00 64px,#58cf00 65px,#0b9f3c 67px,#0046bb 70px,#004dac 71px,#0045b3 74px,#054696 75px,#0e22ac 76px,#0714c5 77px,#06727d 78px,#0d954b 80px,#138265 81px,#056588 82px,#01718c 83px,#1ab124 84px,#6fcf0b 90px,#77d108 93px,#61bb31 96px,#5bcb0a 98px,#38c309 102px,#0aa830 105px,#005fa5 109px,#0037d3 112px,#001ee2 117px,#02698e 126px,#037d78 129px,#089f3f 133px,#059c4a 135px,#005aac 139px,#002dda 142px,#0032d6 144px,#0044c6 145px,#038a65 147px,#0bab2a 148px,#47cb00 150px,#5ad000 151px,#4ccc00 153px,#1aba0e 155px,#008276 158px,#0046c7 160px,#0013ed 162px,#0200ea 165px,#0000f9 167px,#002adc 170px,#001ce6 173px,#0104f3 176px,#001fe1 179px,#005ba3 181px,#0aa92f 183px,#26c201 184px,#84d900 186px,#b6e300 188px,#d0e900 194px,#b2e300 198px,#71d500 200px,#38c700 201px,#0eb11c 202px,#00738a 204px,#0060a1 205px,#006696 207px,#05777c 208px,#0b9051 209px,#5fcf01 212px,#abe100 214px,#c2d800 218px)"></i><i style="left:241px;width:2px;background:linear-gradient(#ff4500 0,#ff1c00 1px,#ff3a00 2px,#ff4500 3px,#fb0500 4px,#fa0000 5px,#fe1a00 6px,#fa0000 7px,#fb0700 12px,#ff2f00 13px,#ff3200 14px,#fc0c00 15px,#fd1400 16px,#ff4700 17px,#ff6600 18px,#ff4500 19px,#ff8500 21px,#ff9800 23px,#ead900 24px,#53a34f 25px,#fccd00 26px,#fec500 32px,#ffac00 34px,#febe00 37px,#ff9c00 40px,#ff9d00 41px,#feb600 42px,#9db300 43px,#80814e 44px,#829e21 45px,#f5e200 46px,#ffac00 47px,#ffae00 50px,#ff7800 53px,#f4d500 55px,#fccc00 56px,#efef00 57px,#bae500 58px,#81d900 61px,#1fbe08 63px,#019757 65px,#0051b9 67px,#0015eb 69px,#0102f4 70px,#0a00c1 73px,#22009d 74px,#470063 75px,#480062 76px,#310079 77px,#0500d7 78px,#0200eb 79px,#0301e6 80px,#0f00ab 81px,#0700cf 82px,#0119e3 83px,#002cd4 84px,#0128d1 86px,#0100f2 94px,#0009f3 97px,#0059ae 103px,#003ecd 104px,#005da8 106px,#004eb6 110px,#001ee5 115px,#0300e6 125px,#0006f6 128px,#0047c6 132px,#0cae25 138px,#1cb41e 140px,#058a62 145px,#049652 147px,#11b80e 150px,#14bb09 152px,#09a733 154px,#02797f 157px,#03787f 159px,#08a23b 163px,#059c48 165px,#004eba 170px,#0031d7 173px,#0041ca 176px,#03925a 180px,#049e49 182px,#005aad 187px,#005ca7 190px,#027583 194px,#005ca0 198px,#0128d3 201px,#0600db 204px,#0800cc 207px,#0201ec 211px,#0203ea 218px)"></i><i style="left:243px;width:2px;background:linear-gradient(#ff4200 0,#ff1f00 1px,#ff3e00 2px,#ff4700 3px,#fb0700 4px,#fa0000 5px,#ff2000 6px,#fb0400 7px,#fd0f00 12px,#ff3d00 13px,#ff4500 14px,#fe1900 15px,#ff1c00 16px,#ff4400 17px,#ff3f00 18px,#ff2100 19px,#ff3500 20px,#ff6500 21px,#ff9e00 24px,#2cbd12 25px,#c3cc00 26px,#f1d200 27px,#fbcf00 28px,#ffa700 29px,#ffb300 33px,#fccb00 38px,#ff9000 43px,#ffb500 47px,#ff7a00 52px,#ff8100 54px,#fbd400 58px,#d7e500 61px,#43ca00 67px,#0da732 70px,#008078 75px,#0050af 76px,#0050ba 77px,#000bf2 80px,#0200ed 82px,#0400e1 83px,#190095 84px,#1000a8 85px,#0200eb 86px,#0020e3 94px,#0031d7 99px,#007488 105px,#006a97 108px,#0025e0 114px,#030fdd 120px,#0200eb 128px,#000af3 130px,#0053b6 133px,#029755 136px,#079c46 138px,#058469 140px,#0026de 145px,#0026df 149px,#002dd8 152px,#0207e9 155px,#1400ae 159px,#2200a2 167px,#0800ce 172px,#110aba 178px,#0921b5 182px,#010fea 188px,#0025df 195px,#004ab6 202px,#017487 209px,#0051b3 216px,#0050b4 218px)"></i><i style="left:245px;width:2px;background:linear-gradient(#ff3e00 0,#ff2300 1px,#ff4900 2px,#ff5400 3px,#fd1100 4px,#fc0e00 5px,#ff4800 6px,#fe1700 7px,#fa0000 8px,#fc0f00 12px,#ff7200 13px,#ff8000 14px,#ff2000 15px,#ff3100 16px,#ff5c00 17px,#ff4b00 18px,#ff2200 19px,#ff3100 20px,#ff5b00 21px,#ff7d00 24px,#edb700 25px,#0aaa2d 26px,#0a8066 27px,#5a8470 28px,#7c7975 29px,#747d78 30px,#56a947 31px,#ff9a00 32px,#ffb800 34px,#ffb500 35px,#88b507 36px,#b3c000 37px,#ff9700 38px,#ff8200 41px,#ff9d00 45px,#a6bf00 46px,#3d7874 47px,#0a6d74 48px,#55bd2b 49px,#aeb900 50px,#d7b200 51px,#deb200 52px,#fbb100 53px,#fbb600 54px,#f9db00 55px,#ff9900 56px,#fad800 61px,#f5ee00 62px,#28c300 68px,#0cae25 70px,#006f90 74px,#0038d2 76px,#0007f3 78px,#0b00bd 82px,#1a0090 83px,#50005a 84px,#4a0060 85px,#0e00b0 86px,#0401e1 87px,#000ff0 93px,#0300e7 97px,#0500d6 100px,#0102f4 104px,#0018e9 106px,#0000f7 109px,#0f00ad 116px,#1600a8 122px,#0800cb 127px,#0200ef 129px,#000af2 130px,#0061a2 134px,#00689a 138px,#00639c 144px,#005aaa 148px,#088b5a 153px,#076e7c 156px,#014aa4 158px,#2015a3 163px,#1418ad 169px,#080cca 174px,#1c00a8 180px,#1600b0 184px,#0308e0 187px,#0022df 189px,#066e7f 193px,#098265 196px,#006598 200px,#0035d3 204px,#002cdb 218px)"></i><i style="left:247px;width:2px;background:linear-gradient(#ff3b00 0,#ff2800 1px,#ff5500 2px,#ff5f00 3px,#fe1600 4px,#fe1600 5px,#ff6300 6px,#fa0000 8px,#fa0000 12px,#fe1e00 13px,#ff2800 14px,#fd1200 15px,#ff2300 16px,#ff8100 17px,#fccd00 18px,#eee200 19px,#9ecb00 20px,#d2a000 21px,#ff5100 22px,#ff4200 23px,#ff6900 25px,#dca400 26px,#84801a 27px,#3e6a58 28px,#480062 29px,#490061 30px,#4fa052 31px,#ff7000 32px,#ff7800 33px,#ff9f00 34px,#2a009c 35px,#50005a 36px,#190093 37px,#cfe900 38px,#ff6f00 39px,#ff7000 41px,#ff8e00 45px,#ff8d00 46px,#8fda00 48px,#003fbb 49px,#330077 50px,#50005a 51px,#30007a 52px,#01886c 53px,#e2b700 54px,#ff8600 55px,#fbd300 59px,#a7e000 61px,#76d600 62px,#a4e100 63px,#34c503 68px,#0aaa2d 70px,#007884 73px,#002fd9 79px,#0028dd 82px,#0308df 83px,#101ead 84px,#022bca 85px,#00659e 86px,#029756 89px,#00925f 91px,#008078 92px,#005baa 93px,#0037d2 95px,#0011ee 97px,#0015eb 98px,#006399 101px,#1d9352 103px,#109250 104px,#39ad39 106px,#48a04f 108px,#197d6a 111px,#0a7b69 114px,#268865 119px,#077476 123px,#036b8b 126px,#057c76 128px,#0da437 130px,#33c503 132px,#64d200 134px,#6ad300 136px,#20c003 141px,#0bad27 143px,#019954 145px,#03925a 147px,#18b025 150px,#2fc208 153px,#34c600 156px,#74d600 159px,#d0e800 162px,#fbc800 166px,#f7e000 169px,#bbe500 172px,#61d100 174px,#40be1d 176px,#289b4c 182px,#088563 186px,#23b12a 189px,#64d200 191px,#aae200 193px,#c5e700 196px,#d2e900 202px,#9bdf00 205px,#5bd000 208px,#5acf00 210px,#bde500 216px,#c4e700 218px)"></i><i style="left:249px;width:2px;background:linear-gradient(#ff3700 0,#ff2d00 1px,#ff6000 2px,#ff6d00 3px,#ff1e00 4px,#fe1800 5px,#ff5600 6px,#fb0400 8px,#fd1100 10px,#fb0400 11px,#fd1500 12px,#ff4600 13px,#fd1200 15px,#fe1800 16px,#ff5700 17px,#ff6000 18px,#ff4500 19px,#c1b400 20px,#45ca00 21px,#92bf00 22px,#fd8900 23px,#ff4600 24px,#ff5200 25px,#ff3700 27px,#ff3f00 28px,#a17b00 29px,#9f8a00 30px,#ff6100 31px,#ff5500 34px,#824969 35px,#865e5b 36px,#cbb200 37px,#ff8300 38px,#ff6d00 40px,#ff8900 44px,#ff8700 45px,#87a30b 46px,#6fcb14 47px,#bcd600 48px,#807f43 49px,#6d6f32 50px,#282f80 51px,#043aa9 52px,#bae500 53px,#ff5b00 54px,#ffb500 58px,#b1c900 59px,#dbd600 60px,#fec400 61px,#eee100 68px,#c2e600 70px,#82d800 72px,#4dcc00 76px,#2eb42b 82px,#129947 83px,#3ab72a 84px,#7dd600 87px,#a6d100 89px,#99c900 92px,#7fc91a 95px,#7bc821 96px,#348967 97px,#056d83 98px,#27b12e 99px,#b8d900 100px,#f3d800 102px,#f9dc00 103px,#e0ec00 104px,#f8e300 107px,#f6e900 108px,#ffb700 110px,#fbd000 112px,#e6ed00 114px,#bfe600 116px,#d7ea00 121px,#73d400 126px,#52c418 135px,#78d109 142px,#8ad200 146px,#dfc700 150px,#f7e000 153px,#efbf00 157px,#fdca00 165px,#fbd100 168px,#f6ed00 170px,#ade200 173px,#b6e400 176px,#d8ea00 180px,#b8e400 183px,#3dc800 190px,#14ab30 193px,#016a92 196px,#0054a8 198px,#04608f 202px,#042dbc 206px,#200da9 210px,#242c88 218px)"></i><i style="left:251px;width:2px;background:linear-gradient(#ff3300 0,#ff3200 1px,#ff6d00 2px,#ff7900 3px,#ff2e00 4px,#ff3200 5px,#ff7600 6px,#ff3700 7px,#fc0b00 8px,#ff1c00 10px,#fc0e00 11px,#ff2c00 12px,#ff8800 13px,#fd1100 15px,#fc0e00 16px,#ff2d00 17px,#ff3900 18px,#ff2a00 19px,#ff5e00 20px,#b8cc00 21px,#82ac21 22px,#d1d800 23px,#ff3000 24px,#fc0e00 28px,#ff3000 30px,#ff5000 32px,#ff5900 35px,#ff6000 38px,#ff5e00 40px,#ff7c00 42px,#ff6100 44px,#ff4b00 45px,#ff4d00 46px,#ff8200 48px,#ff8500 49px,#ff7600 50px,#fca000 51px,#cba200 53px,#fda400 54px,#ff8700 55px,#fccc00 58px,#7ad600 59px,#0bab2a 60px,#6cd400 61px,#d8de00 63px,#c3e000 65px,#7fd900 66px,#2bb622 67px,#64d200 68px,#8eda00 69px,#b5e400 76px,#a4e000 79px,#92dc00 80px,#42c803 82px,#68d200 83px,#78d600 84px,#c5e400 86px,#eede00 87px,#feae00 89px,#ffa100 91px,#fad800 94px,#dbe600 97px,#ace200 98px,#cee900 99px,#dcde00 100px,#c0d600 101px,#5bcc07 103px,#6dd400 105px,#b6e400 107px,#b5e400 113px,#57cf00 117px,#52cd00 119px,#a9e100 122px,#e8ee00 124px,#fad600 127px,#fccd00 130px,#ffaf00 132px,#ffbc00 134px,#ff7f00 138px,#ff7400 141px,#ff8b00 146px,#f5ca00 150px,#dbdb00 153px,#f4cb00 156px,#fab500 158px,#ddc300 161px,#b3d400 164px,#c7e500 172px,#81d800 180px,#44c50d 186px,#24bb13 190px,#12b31a 191px,#009061 193px,#004ebd 195px,#0010ee 198px,#0012eb 203px,#0218d8 207px,#1700b3 210px,#200093 212px,#1f0098 218px)"></i><i style="left:253px;width:2px;background:linear-gradient(#ff2e00 0,#ff3600 1px,#ff7400 2px,#ff7c00 3px,#ff2e00 4px,#ff3900 5px,#ff8400 6px,#fd1500 8px,#ff2700 9px,#fa0200 11px,#fb0500 12px,#ff5400 13px,#ff7500 14px,#fe1800 15px,#fb0800 16px,#ff2800 17px,#ff2f00 18px,#fe1900 19px,#ff3f00 20px,#ff2700 23px,#ff4400 26px,#ff3800 30px,#ff5400 31px,#ff4600 40px,#ff8a00 42px,#ff5200 43px,#ff3200 46px,#ff5600 48px,#c1a500 49px,#d5dc00 50px,#ff6800 51px,#ff6e00 53px,#f9dd00 59px,#d0e400 60px,#f7e400 61px,#cae600 65px,#a3df00 67px,#81d800 68px,#99dc00 69px,#8bd900 73px,#0ba731 74px,#0200e9 75px,#0211e3 76px,#84d800 77px,#9ddb00 78px,#83d209 84px,#99dc00 86px,#b9e400 88px,#a9e200 90px,#5cd000 92px,#29c300 93px,#0eb31a 94px,#008473 97px,#0061a2 98px,#02866d 100px,#007785 101px,#004dbd 102px,#002ed9 103px,#006c93 105px,#0e8d56 108px,#51c611 112px,#59cf00 115px,#25bc11 119px,#08954d 126px,#0e9f3e 128px,#45c01b 130px,#6dd300 131px,#a4da00 132px,#d7d000 134px,#dcbe00 137px,#9abe00 140px,#6cb838 143px,#2a9f47 146px,#039a50 149px,#048f5d 152px,#0eb21c 158px,#09a930 160px,#006d92 164px,#005fa5 167px,#006e91 173px,#00659d 177px,#018c65 182px,#006a96 188px,#017a7f 190px,#169a47 192px,#66c51f 195px,#7ace12 198px,#5eb933 202px,#83c212 206px,#87a70a 209px,#807959 215px,#807860 218px)"></i><i style="left:255px;width:2px;background:linear-gradient(#ff2900 0,#ff3800 1px,#ff7800 2px,#ff7900 3px,#ff2d00 4px,#ff3f00 5px,#ff7a00 6px,#fe2800 7px,#fb0500 8px,#fd0f00 9px,#fa0000 12px,#fe1500 13px,#ff4000 14px,#fd1000 15px,#fd1100 16px,#ff3400 17px,#fc0a00 19px,#fe1a00 21px,#fb0800 23px,#ff3900 26px,#ff7600 29px,#ff5e00 30px,#ff7500 33px,#ff5b00 36px,#827524 37px,#806b73 38px,#f39b00 39px,#ff4600 40px,#ff2f00 42px,#ff3500 45px,#ff2a00 47px,#ff4600 48px,#fc8a00 49px,#ff5700 50px,#ff8800 52px,#87a109 53px,#b7c700 54px,#fcc900 55px,#e0d700 56px,#80ba21 57px,#7d8f65 58px,#89d000 59px,#f8e300 60px,#ebed00 63px,#90da00 64px,#e5ec00 65px,#c5e700 69px,#dde600 74px,#70c81c 75px,#19a23d 76px,#daeb00 77px,#fdbe00 78px,#ff8c00 81px,#ff8e00 82px,#fcaa00 83px,#ffa400 84px,#edd200 87px,#d1da00 90px,#d6ea00 93px,#9edf00 95px,#32c306 97px,#12ac2d 98px,#037285 100px,#0045bc 104px,#004abd 106px,#007a80 109px,#10b611 112px,#36c600 114px,#37c700 116px,#0cae25 119px,#059d47 121px,#07a43b 123px,#20c100 127px,#7cd800 133px,#65d200 137px,#4fc610 141px,#43bb25 144px,#4cc511 146px,#60d100 147px,#e2ec00 150px,#f7e600 152px,#e8ed00 155px,#cfe900 157px,#f6ea00 161px,#f0e400 164px,#d5ea00 166px,#92dd00 169px,#91dc00 175px,#56ce00 180px,#58cf00 184px,#9bde00 188px,#c2e300 190px,#fcc700 197px,#ffae00 199px,#ff6f00 202px,#ff8b00 205px,#ff7100 207px,#fe2a00 209px,#fe2400 210px,#ff5400 212px,#fcc900 216px,#fbd200 218px)"></i><i style="left:257px;width:2px;background:linear-gradient(#ff2400 0,#ff3900 1px,#ff7b00 2px,#ff7800 3px,#ff2600 4px,#ff2e00 5px,#ff4a00 6px,#fa0100 7px,#fa0000 12px,#ff3300 14px,#fc0e00 15px,#fd1400 16px,#ff4200 17px,#fc0c00 19px,#fe1b00 20px,#ff4000 21px,#ff3400 22px,#fe1700 23px,#ff2200 27px,#ff4300 32px,#ff6a00 35px,#fd9b00 36px,#804e6c 37px,#804376 38px,#c5a900 39px,#ff6b00 40px,#ff6b00 42px,#fad300 43px,#efdd00 44px,#ff5000 45px,#ff5500 49px,#ff8700 51px,#f7cb00 52px,#003bc1 53px,#1cb029 54px,#fccc00 55px,#fbd400 56px,#90d500 57px,#2d7573 58px,#3abe1a 59px,#d9e600 60px,#c2e600 63px,#bee500 66px,#8fdc00 68px,#9cdf00 71px,#4ec416 72px,#48c411 73px,#71d500 74px,#5fd100 77px,#7fd800 81px,#0fb417 82px,#006e92 83px,#018c66 84px,#4ecd00 85px,#7fd800 86px,#40c900 92px,#3ec608 96px,#56a153 100px,#6ea454 103px,#619366 105px,#6aac49 106px,#80c818 107px,#87c900 108px,#98d900 113px,#71cd0f 118px,#55bf24 121px,#0d9e3f 124px,#006b95 127px,#006b95 129px,#00925f 131px,#1abd06 133px,#ade200 136px,#e4e800 138px,#f7e800 141px,#c6e700 150px,#bae500 153px,#8edc00 155px,#1abd06 158px,#0ba03b 161px,#179f40 164px,#19bf01 170px,#2ec205 174px,#08a538 178px,#008177 181px,#007883 185px,#00718e 191px,#009160 194px,#0db11e 196px,#84d800 200px,#a4d500 202px,#f1ac00 213px,#e7ed00 218px)"></i><i style="left:259px;width:2px;background:linear-gradient(#ff1f00 0,#ff3700 1px,#ff7b00 2px,#ff7000 3px,#fe1a00 4px,#ff3d00 6px,#fa0000 7px,#fa0000 16px,#fe1900 17px,#fc0a00 19px,#ff4200 20px,#ff4400 22px,#ff3000 23px,#ff2c00 25px,#fe1600 27px,#ff2e00 32px,#ff6100 35px,#ff9300 39px,#ff9700 41px,#ff7e00 42px,#ff9200 43px,#ff7d00 44px,#ff7300 49px,#ffa500 51px,#f3d200 52px,#77d700 53px,#fbd200 54px,#f7e600 56px,#e4ed00 57px,#58cf00 60px,#44c40e 62px,#43a14d 63px,#4a876c 64px,#48b92e 66px,#42c312 67px,#3abd1a 70px,#3ebd1d 71px,#049e48 72px,#00896c 73px,#069157 74px,#084b82 75px,#285449 76px,#254b5e 77px,#1d2d8d 78px,#0135c3 79px,#011ddd 83px,#0102ef 84px,#022dc4 86px,#0235bd 93px,#0633a8 94px,#0045b3 95px,#0a786c 98px,#569e56 102px,#7ac42b 107px,#86d000 110px,#93db00 113px,#6cd201 115px,#3bb134 119px,#33bc19 122px,#32c600 124px,#24bd0e 126px,#059158 129px,#008472 131px,#019559 133px,#0fad29 135px,#36ba1f 138px,#09a733 143px,#09a930 145px,#16be02 147px,#7ed800 150px,#9cdf00 152px,#80d900 155px,#4ccc00 159px,#69cf06 162px,#c5c500 168px,#b9d700 171px,#a5df00 172px,#45c708 174px,#0aaa2d 176px,#049950 178px,#049d4a 183px,#007b7f 188px,#01955b 191px,#0caf23 193px,#39bc1c 196px,#23ac33 199px,#068f59 202px,#00886d 206px,#059e46 211px,#16be01 214px,#4ecd00 218px)"></i><i style="left:261px;width:2px;background:linear-gradient(#ff1c00 0,#ff3400 1px,#ff7c00 2px,#ff7100 3px,#fe1a00 4px,#ff2b00 5px,#ff5000 6px,#fa0000 7px,#fb0400 16px,#fe1b00 17px,#fe1b00 18px,#ff6e00 19px,#003fcd 20px,#002ed9 21px,#ff6600 22px,#ff4800 23px,#ff3b00 25px,#ff1d00 26px,#fe1b00 28px,#ff2a00 33px,#ff8d00 39px,#ff8a00 40px,#fbb300 41px,#ff9100 42px,#ffad00 44px,#ffab00 45px,#3fa546 46px,#78c32d 47px,#fab700 48px,#ff7900 49px,#ff7f00 50px,#ff9900 51px,#fcc900 52px,#f6ed00 55px,#b1e300 57px,#1bbb0d 60px,#0cae23 61px,#0e00b0 62px,#4f005b 63px,#360074 64px,#010de7 65px,#06806e 66px,#13b121 67px,#0fae25 69px,#019658 70px,#0052b6 71px,#0048be 72px,#006d92 73px,#0228cd 75px,#161aa9 76px,#280fa0 77px,#420068 78px,#1000a9 79px,#0700d4 80px,#0600d2 83px,#260084 88px,#240086 91px,#1100a6 93px,#1000a7 94px,#0200ea 96px,#0009f4 98px,#0023e1 104px,#002adc 110px,#0049be 112px,#008374 114px,#0bad27 116px,#1bb028 118px,#0da930 119px,#005fa4 123px,#005e9e 127px,#005da3 131px,#0035c8 136px,#00619f 140px,#15b220 144px,#4ecc00 146px,#9bdd00 148px,#bdd700 150px,#bed600 153px,#9ddd00 155px,#5fcb0d 157px,#4dbf22 159px,#74d00a 162px,#d1c800 167px,#fbd100 171px,#f6de00 175px,#d0e700 178px,#86da00 180px,#22bf07 182px,#0aaa2c 183px,#017b7e 185px,#005fa3 187px,#006a96 190px,#13a13c 193px,#64d100 196px,#95dc00 198px,#8edb00 200px,#30c00d 205px,#0db020 209px,#30c403 212px,#a2e000 215px,#c8e700 218px)"></i><i style="left:263px;width:2px;background:linear-gradient(#fe1900 0,#ff2f00 1px,#ff7c00 2px,#ff7b00 3px,#ff2500 4px,#ff5b00 6px,#fb0600 7px,#fb0300 13px,#fe1a00 14px,#fd1400 16px,#ff3600 17px,#ff3000 18px,#fe1500 19px,#ff6e00 20px,#fe8f00 21px,#ff5800 23px,#ff2300 26px,#ff4e00 27px,#f29000 28px,#ff4300 30px,#ff4200 33px,#ff7a00 39px,#ff7600 40px,#ff8600 41px,#ff7800 42px,#ffa600 45px,#fbc600 46px,#007588 47px,#56cf00 48px,#ffa000 49px,#ff9800 51px,#f0eb00 56px,#9fdf00 59px,#97dd00 60px,#09a03d 61px,#0100f2 62px,#0213dd 63px,#3b9062 64px,#9cdd00 65px,#a8e100 66px,#51cd00 69px,#006f8f 70px,#08a537 71px,#33c600 72px,#51c90a 77px,#51c31a 78px,#4bac40 79px,#43b136 80px,#0b746e 83px,#014ca3 85px,#023ab2 89px,#004ba9 93px,#13a439 100px,#09a833 102px,#00708e 106px,#0058af 107px,#004abb 112px,#007686 114px,#049a4e 116px,#069e44 117px,#06974e 118px,#0035d4 122px,#0022e2 124px,#004ac0 127px,#00728b 129px,#007687 131px,#0026df 135px,#0012ed 138px,#002bd7 144px,#0034cd 149px,#005aa5 153px,#0030d8 159px,#0041c9 164px,#00718d 167px,#09a635 170px,#34b628 173px,#34a247 176px,#097770 178px,#0032cc 180px,#0207e5 182px,#0600d1 186px,#0101f3 189px,#002adc 191px,#006d92 194px,#007d7c 197px,#0057b1 206px,#002cda 210px,#0038cf 214px,#004aba 218px)"></i><i style="left:265px;width:2px;background:linear-gradient(#fe1700 0,#ff2900 1px,#ff7500 2px,#ff7400 3px,#ff1c00 4px,#ff2b00 5px,#ff5e00 6px,#fd1500 7px,#fb0300 8px,#fe2000 9px,#fd1f00 10px,#fb0300 11px,#fc0900 13px,#ff2f00 14px,#fe2100 15px,#ff2800 16px,#ff6600 17px,#ff6f00 18px,#ff3e00 19px,#ff3b00 20px,#ff6b00 21px,#ff7d00 22px,#ff4b00 24px,#ff3200 27px,#ff6600 32px,#ff6500 37px,#ff8e00 40px,#ff8000 43px,#ff9f00 45px,#fdbe00 46px,#067777 47px,#34bd17 48px,#fdc600 49px,#ffb400 50px,#fdc700 52px,#d3e000 53px,#f7e400 54px,#bbe500 58px,#d4ea00 61px,#7ed406 62px,#97dc00 63px,#f3e400 64px,#edec00 66px,#b7e400 68px,#94dd00 69px,#44aa40 70px,#087574 71px,#2fbb18 72px,#75d600 73px,#99de00 78px,#9edf00 83px,#a5d500 86px,#93d400 92px,#c4da00 97px,#aadc00 100px,#68cf06 102px,#2aaf30 105px,#30b42d 107px,#48c411 108px,#a8e000 110px,#e1d300 113px,#dae000 116px,#c9e800 117px,#41c902 120px,#23b12a 122px,#36b133 125px,#5cc811 128px,#54cc05 130px,#21ba13 132px,#09a930 133px,#0055b3 136px,#0033d5 138px,#0101f5 145px,#000af3 149px,#002ed9 153px,#0022e2 158px,#004dbc 161px,#0bab2b 166px,#18b714 169px,#0ead29 174px,#5aab46 180px,#85d201 187px,#bdd900 193px,#9ddd00 197px,#6dd300 200px,#6bd200 208px,#75d302 212px,#b0ce00 218px)"></i><i style="left:267px;width:2px;background:linear-gradient(#fe1600 0,#ff2200 1px,#ff6f00 2px,#ff7500 3px,#ff2200 4px,#ff2e00 5px,#ff6200 6px,#ff2200 7px,#fd1300 8px,#ff5700 9px,#ff6c00 10px,#ff3300 11px,#fe2800 12px,#ff7900 13px,#feab00 14px,#ff6400 15px,#ff4a00 16px,#fbd100 17px,#57ba30 18px,#f6ac00 19px,#ff5c00 20px,#ff7200 21px,#ff6c00 22px,#ff4300 23px,#ff7100 25px,#e49800 26px,#a88900 27px,#ff7300 28px,#ff4400 29px,#ff4600 31px,#ff8800 34px,#ff8900 36px,#ff7d00 40px,#ff8400 43px,#f9de00 45px,#dae500 47px,#f7e000 48px,#ffab00 49px,#ff9b00 50px,#f8e000 53px,#f3ee00 55px,#bce500 58px,#95de00 63px,#4dcc00 68px,#1abf00 70px,#09a831 73px,#0eb21b 75px,#18be02 76px,#1cb127 77px,#39c700 78px,#7ed800 79px,#3b9d50 80px,#5f9663 81px,#a3df00 82px,#86c606 86px,#84c011 87px,#7db132 88px,#7fbc24 89px,#69bd31 91px,#45b236 92px,#41a24c 93px,#5d9366 94px,#5a9662 95px,#5cb637 96px,#70cc11 101px,#23b424 106px,#3ec40c 109px,#82d700 112px,#7dd600 114px,#33bc1a 117px,#079b47 119px,#017f78 121px,#02836f 123px,#09a535 125px,#46ca00 128px,#62d100 130px,#4ccc00 133px,#179f40 137px,#027c7a 139px,#003bd0 142px,#0023e1 145px,#0049bf 152px,#002bdb 158px,#0051b8 163px,#016a90 168px,#077b72 174px,#3ea743 181px,#278666 184px,#0d607b 186px,#12606d 190px,#307474 192px,#4ea946 194px,#5dc519 196px,#4cc11d 199px,#3eb530 202px,#7cd600 209px,#93cc00 214px,#9ebd00 218px)"></i><i style="left:269px;width:2px;background:linear-gradient(#fe1600 0,#ff1d00 1px,#ff6b00 2px,#ff8500 3px,#ff4300 4px,#ff5000 5px,#ff7200 6px,#ff2700 7px,#fe1500 8px,#ff6900 9px,#ff9d00 10px,#ff6700 12px,#f9da00 14px,#fdbe00 15px,#ff6f00 16px,#ff8c00 17px,#71d302 18px,#004bb2 19px,#fcb800 20px,#ff6600 21px,#ff6300 22px,#ff4200 23px,#ff4c00 24px,#fe9d00 26px,#808f4f 27px,#fb9800 28px,#ff3500 29px,#ff3300 31px,#ff9a00 35px,#ff7800 38px,#ff6600 40px,#ffb400 46px,#d3d800 47px,#7ea043 48px,#809d30 49px,#e6c900 50px,#fdc400 51px,#f6e900 55px,#ade200 59px,#b1e300 60px,#c9e800 61px,#a7e100 62px,#e4df00 63px,#dcbf00 70px,#d3d200 71px,#b2e300 72px,#ade100 73px,#abc600 74px,#88d800 79px,#69c61c 80px,#517e73 81px,#3ca545 82px,#269d48 83px,#0e7b6a 85px,#17657b 88px,#147271 90px,#096f74 91px,#0028dd 92px,#001de4 93px,#0234be 94px,#0337b1 95px,#0043bc 96px,#078860 103px,#15a933 107px,#5bd000 111px,#8edb00 114px,#82d800 117px,#52c80c 120px,#4bc11c 123px,#72d400 126px,#a9dc00 129px,#b1e200 132px,#70d400 137px,#4ec01f 139px,#269455 142px,#1f984d 145px,#47bc25 149px,#37a741 152px,#046d85 156px,#0055a9 159px,#004db2 165px,#002dd7 171px,#0035c9 177px,#026592 182px,#0241a6 186px,#0a3c8f 189px,#0149a5 192px,#018076 196px,#006c93 198px,#0040cc 200px,#0020e3 203px,#0035d4 205px,#04856a 208px,#089252 209px,#099251 210px,#016b91 212px,#0021e3 214px,#0500dd 218px)"></i><i style="left:271px;width:2px;background:linear-gradient(#fe1600 0,#fe1a00 1px,#ff6400 2px,#ff8400 3px,#ff4300 4px,#ff4900 5px,#ff6100 6px,#fe1800 7px,#fc0a00 8px,#ff9400 10px,#ff7300 12px,#ff8600 13px,#ffac00 14px,#ffb100 15px,#d9c800 16px,#afbc00 17px,#ff9b00 18px,#ff4a00 20px,#ff6d00 22px,#ff5a00 23px,#ff7200 24px,#fbb300 25px,#ff8500 26px,#ff3600 27px,#ff2300 28px,#ff3e00 31px,#ff3f00 34px,#ff5e00 36px,#ff5400 40px,#ffac00 45px,#ffb200 46px,#73bb36 47px,#2e007d 48px,#50005a 49px,#1100a7 50px,#0eb21a 51px,#ffb700 52px,#ffa600 53px,#fbd000 54px,#f1d400 55px,#feb800 56px,#f8e100 58px,#dcea00 60px,#f6e700 61px,#ffb400 63px,#ffb100 66px,#ffbb00 67px,#e7e700 68px,#b2e300 69px,#fad500 70px,#ebd000 72px,#fdc900 74px,#dbc600 75px,#e3c900 76px,#ffb500 77px,#ffa200 78px,#ffa100 80px,#fbd400 83px,#fad700 84px,#81d900 85px,#24c200 86px,#fcce00 87px,#ffab00 89px,#ffa800 91px,#fad500 93px,#e5de00 96px,#f7e200 103px,#c7e700 106px,#a9e200 108px,#bce500 110px,#f1ed00 113px,#f0ef00 115px,#62d200 120px,#5dd000 121px,#8ddb00 123px,#e7e900 125px,#fdc500 127px,#ffab00 129px,#fdc200 132px,#e7dd00 135px,#e4dc00 139px,#f6e900 144px,#e5ed00 149px,#f7e400 153px,#d8e800 156px,#afe300 157px,#28c300 159px,#07a539 160px,#007982 161px,#0029d8 163px,#050ad8 167px,#0015e9 170px,#0042c7 172px,#07a539 176px,#10b11e 177px,#3ac111 181px,#0c9051 189px,#014ba6 194px,#0614cb 199px,#0800d0 203px,#0216df 206px,#0042b8 210px,#041bd0 214px,#0905c7 218px)"></i><i style="left:273px;width:2px;background:linear-gradient(#fe1800 0,#fe1800 1px,#ff5400 2px,#ff6400 3px,#fe1500 4px,#fe1700 5px,#ff3700 6px,#fc0b00 7px,#fa0300 8px,#ff8000 10px,#ff3b00 12px,#ff5200 13px,#ff8200 14px,#ff9d00 15px,#a7ab00 16px,#60c027 17px,#cbe100 18px,#ff9c00 19px,#ff6d00 20px,#ff7000 22px,#ff5400 23px,#56bd2b 24px,#36a740 25px,#fad900 26px,#ffab00 27px,#fec200 28px,#fe1a00 29px,#ff3700 31px,#ff2300 34px,#ff4a00 41px,#ff8b00 45px,#ff9500 47px,#87ab0c 48px,#7d7775 49px,#7c886c 50px,#d2c300 51px,#ffa300 52px,#ffa400 53px,#e0cb00 54px,#87b90b 55px,#a1d600 56px,#fccc00 57px,#fdc800 62px,#fdb900 64px,#fcca00 66px,#f8e100 73px,#83da00 74px,#0fb515 75px,#b6e400 76px,#e5eb00 77px,#7cd800 78px,#94dd00 79px,#f6e400 80px,#f3e600 85px,#fac700 92px,#aee100 98px,#66cc0d 101px,#57c31b 103px,#63d001 105px,#d6e500 108px,#fad800 110px,#fbcd00 113px,#e2de00 115px,#cae600 116px,#30c305 119px,#0cae25 121px,#14a735 123px,#58af40 127px,#69c61d 131px,#3bb62d 134px,#0f9250 136px,#047282 138px,#026d8c 140px,#05816e 142px,#11ad29 145px,#3ac800 149px,#b5e400 153px,#c4e700 155px,#90dc00 157px,#25c200 159px,#0bac29 160px,#037484 162px,#0151a1 166px,#016099 171px,#038171 176px,#0042c9 181px,#0035d4 185px,#0030d8 188px,#0001f8 191px,#0400e2 194px,#0128d4 200px,#0021e3 204px,#0058af 210px,#0059a7 215px,#005e9d 218px)"></i><i style="left:275px;width:2px;background:linear-gradient(#fe1b00 0,#fe1700 1px,#ff4500 2px,#ff4c00 3px,#fc0d00 4px,#fe1700 5px,#ff4200 6px,#fc0a00 7px,#fa0000 8px,#ff7200 10px,#ff2c00 12px,#ff4a00 13px,#ff7e00 14px,#ff7900 16px,#ffbc00 17px,#b3e300 18px,#4bcc00 19px,#aec700 20px,#c9b600 21px,#feac00 22px,#ff7400 23px,#fe9100 25px,#ff6500 26px,#ff2a00 29px,#ff4d00 33px,#ff1b00 36px,#ff2800 38px,#ff5000 39px,#f3a600 40px,#ff8200 42px,#fdb300 46px,#eed400 48px,#88cf00 53px,#76bd34 55px,#677d77 56px,#5a9663 57px,#3c6b6a 59px,#0e4879 60px,#2a6e78 61px,#1e7f69 64px,#047d76 65px,#07974c 66px,#44bc23 67px,#7ad600 69px,#a7e000 71px,#a9e000 73px,#9cdd00 74px,#078b5c 75px,#097e6a 77px,#0a934d 78px,#55c21f 79px,#6cd300 84px,#84d800 87px,#63d100 90px,#0aa436 94px,#00886d 97px,#00728b 103px,#069354 108px,#05707e 111px,#0037c2 114px,#001fe2 118px,#004cbf 121px,#00669c 123px,#0048b9 127px,#0004f5 132px,#0600d5 134px,#1c009e 137px,#22009c 140px,#1001c2 143px,#0220d6 145px,#0039c6 146px,#0eab2c 149px,#2dbf0e 151px,#1dad30 154px,#087972 158px,#087f6b 162px,#39c110 170px,#4ecc00 171px,#bde500 174px,#d1e900 176px,#9fdf00 178px,#4cca06 180px,#1fa63a 183px,#09954b 188px,#026b8c 192px,#026b8d 196px,#07826a 201px,#0f8b5a 202px,#7bb83c 206px,#7bb73b 209px,#0a8265 214px,#027a7d 218px)"></i><i style="left:277px;width:2px;background:linear-gradient(#ff2000 0,#fe1700 1px,#ff4100 2px,#ff4d00 3px,#fd1100 4px,#ff2200 5px,#ff5700 6px,#fc0d00 7px,#fa0000 8px,#ff7c00 10px,#ff5a00 12px,#ff8f00 14px,#ff7500 16px,#ffb600 17px,#fbd000 18px,#ffa500 19px,#fdae00 20px,#c1c200 21px,#ffae00 22px,#ff7b00 23px,#ff8700 25px,#ff4800 29px,#ff4d00 35px,#ff4e00 37px,#ff8000 38px,#49cb02 39px,#055494 40px,#7f9a48 42px,#c0d900 43px,#6acd0c 45px,#087673 49px,#0202e9 50px,#0800ca 51px,#0808cb 53px,#1a00a2 55px,#460064 56px,#370073 58px,#3c006e 62px,#1b0092 64px,#0600d7 66px,#010de8 67px,#0031d3 69px,#0049b7 71px,#0128d5 74px,#0109ed 75px,#0108ed 80px,#012ad1 86px,#0610cd 93px,#021ed7 95px,#012ece 96px,#148760 99px,#4aba2d 102px,#41c705 107px,#14b90c 110px,#006d93 114px,#004fba 116px,#0052b8 119px,#08974b 125px,#08934f 127px,#0061a0 130px,#000df0 133px,#0300e2 135px,#0c00bd 138px,#0112e3 145px,#011ce2 152px,#0201ea 159px,#002cd6 168px,#0047b0 172px,#0a6878 175px,#1d8267 179px,#1d9255 187px,#0a8264 192px,#4ab03b 199px,#60af42 203px,#7cb03c 206px,#7ab83c 210px,#178d59 214px,#016894 218px)"></i><i style="left:279px;width:2px;background:linear-gradient(#ff2b00 0,#fe1900 1px,#ff5800 3px,#fe1600 4px,#ff2500 5px,#ff6200 6px,#fe1800 7px,#fb0700 8px,#ff9d00 10px,#ff6400 12px,#ff7600 13px,#fea900 14px,#ff8800 15px,#ff8000 16px,#fccd00 17px,#f8e100 18px,#ffad00 20px,#fdca00 21px,#b3c700 22px,#ff9b00 23px,#ff8e00 24px,#ff8e00 26px,#ff6500 29px,#ff7200 30px,#fc9c00 31px,#9eac00 33px,#84ab18 34px,#7fa03f 35px,#7da641 36px,#aad300 37px,#fcce00 38px,#d0e200 39px,#0045b3 40px,#0400dc 41px,#124676 43px,#161ea7 45px,#1500ba 48px,#1c0097 57px,#18009f 62px,#1000c2 66px,#1600b6 77px,#1900b0 84px,#260088 91px,#1d009e 100px,#1300bf 104px,#0f14b5 109px,#150cb5 118px,#1708b5 127px,#1606b7 140px,#1609b5 146px,#21008b 164px,#2a0082 179px,#260092 193px,#1700ba 212px,#1c00af 218px)"></i><i style="left:281px;width:2px;background:linear-gradient(#ff3800 0,#ff1d00 1px,#ff5a00 3px,#ff2400 4px,#ff4200 5px,#ff7c00 6px,#ff1e00 7px,#fb0700 8px,#ffad00 10px,#ff7600 12px,#ff8900 13px,#fdc300 14px,#fdbd00 15px,#face00 16px,#bce300 17px,#f0e100 19px,#cad000 20px,#74cc14 21px,#179f41 22px,#7c9465 23px,#797e78 24px,#266561 25px,#296675 26px,#7fc51d 27px,#facf00 28px,#fad300 29px,#4dbb2a 30px,#0424ca 31px,#240099 32px,#320078 34px,#370073 35px,#0600d2 36px,#02935b 37px,#dceb00 38px,#dceb00 39px,#01925e 40px,#0600d1 41px,#270083 42px,#0a00bf 54px,#22008a 69px,#1d00b5 88px,#230097 96px,#310079 102px,#1200a0 109px,#0800cc 116px,#0900ca 126px,#260084 140px,#1e008c 155px,#1b009a 172px,#2f007b 193px,#1700ad 218px)"></i><i style="left:283px;width:2px;background:linear-gradient(#ff4700 0,#ff2600 1px,#ff3400 2px,#ff5700 3px,#ff2d00 4px,#ff4f00 5px,#ff8900 6px,#ff2600 7px,#fd1100 8px,#ff7e00 9px,#fcce00 10px,#fcbd00 12px,#87c205 13px,#5c8471 14px,#416d7c 15px,#5ac026 16px,#f0ee00 17px,#eeef00 18px,#08a636 19px,#0200ed 20px,#0600d6 21px,#0600d7 25px,#0300e3 26px,#008e64 27px,#cfe900 28px,#cfe900 29px,#008e64 30px,#0700cf 31px,#16009a 32px,#220088 35px,#0c00b9 36px,#0062a2 37px,#77d600 38px,#77d600 39px,#0062a2 40px,#0c00b9 41px,#2b007f 42px,#1e009b 61px,#1f008b 71px,#1000b5 76px,#0204e6 80px,#0027de 88px,#0100f2 94px,#0a00c0 97px,#290081 100px,#340076 102px,#0a00c2 107px,#0300e3 113px,#0c00bb 120px,#290081 126px,#200090 130px,#0600da 137px,#0602da 143px,#1c00a4 152px,#1c009d 159px,#0800cf 174px,#1000ba 199px,#0709cc 218px)"></i><i style="left:285px;width:2px;background:linear-gradient(#ff5500 0,#ff3200 1px,#ff3400 2px,#ff5000 3px,#ff2300 4px,#ff3600 5px,#ff6600 6px,#fd1300 7px,#fd0f00 8px,#ffa700 9px,#f7e800 10px,#fccb00 11px,#e3ed00 12px,#0061a2 13px,#0400dd 14px,#0200ea 15px,#00876f 16px,#bce500 17px,#bbe500 18px,#008571 19px,#0031d7 20px,#0100f1 22px,#0700d1 24px,#0102ef 26px,#00649f 27px,#7ad700 28px,#7ad700 29px,#00649f 30px,#0400de 31px,#170094 34px,#12009d 36px,#002fd8 37px,#10b21d 38px,#10b21d 39px,#002fd8 40px,#13009c 41px,#200093 50px,#19009b 64px,#310079 72px,#1200a0 77px,#0300e5 82px,#0009f4 86px,#0017e9 92px,#0100f2 97px,#0900c5 101px,#260084 105px,#350075 108px,#0f00ad 115px,#0d00b3 122px,#380072 135px,#1200a1 141px,#0300e3 146px,#010ae9 153px,#0500da 158px,#2c007e 165px,#2e007c 169px,#210089 177px,#3b006f 192px,#150096 204px,#0500da 214px,#0400dd 218px)"></i><i style="left:287px;width:2px;background:linear-gradient(#ff6300 0,#ff3e00 1px,#ff3700 2px,#ff4e00 3px,#ff1e00 4px,#ff2300 5px,#ff4100 6px,#fc0a00 7px,#ff4c00 8px,#b7dd00 9px,#d0e900 10px,#fccd00 11px,#9ddf00 12px,#0029dd 13px,#0500da 14px,#0102f3 15px,#00679a 16px,#82d900 17px,#83da00 18px,#00689a 19px,#0029dd 20px,#0200ef 22px,#0300e6 26px,#003ad1 27px,#20bd0b 28px,#20bd0b 29px,#003ad1 30px,#0103ef 31px,#0007f2 37px,#006d93 38px,#006d93 39px,#0007f2 40px,#0900c7 41px,#270083 48px,#2d007d 67px,#1400a5 77px,#0f00ba 118px,#0300e3 130px,#0a00c3 137px,#1e00a2 144px,#1a00a0 153px,#1200b4 159px,#0b00bd 165px,#230087 171px,#2a0080 175px,#0700d3 183px,#0501db 193px,#250085 208px,#1e008c 218px)"></i><i style="left:289px;width:2px;background:linear-gradient(#ff6d00 0,#ff4900 1px,#ff3c00 2px,#ff4e00 3px,#ff2300 4px,#ff3100 5px,#ff7700 6px,#eba800 7px,#6cab4b 8px,#005ca1 9px,#7dd800 10px,#f8df00 11px,#7bd800 12px,#0029dd 13px,#0e00af 14px,#0900c7 15px,#0048c4 16px,#3cc800 17px,#3cc800 18px,#0048c4 19px,#001fe4 20px,#0010ee 25px,#0029dd 27px,#02905e 28px,#02905e 29px,#0017ea 30px,#0200e9 31px,#0600d2 32px,#1000a8 33px,#20008d 35px,#1f008f 36px,#0400dc 37px,#0028de 38px,#0028de 39px,#0400dc 40px,#210089 41px,#290081 68px,#2c007e 82px,#1100a3 89px,#0200eb 96px,#003ccd 113px,#002dda 121px,#010eeb 125px,#0202e7 127px,#220090 132px,#1d0097 135px,#0607d4 140px,#0017e7 148px,#0300e4 160px,#1f009c 170px,#1700a4 176px,#1a00b3 190px,#260084 218px)"></i><i style="left:291px;width:2px;background:linear-gradient(#ff7500 0,#ff5200 1px,#ff4300 2px,#ff5300 3px,#ff3300 4px,#ff7700 5px,#b0e100 6px,#026592 7px,#0013ec 8px,#001de5 9px,#53ce00 10px,#eced00 11px,#53ce00 12px,#001de5 13px,#0207e5 14px,#0206e5 15px,#002dda 16px,#0daf21 17px,#0daf21 18px,#002dda 19px,#0100f2 20px,#0024e0 24px,#0102f4 26px,#0108ee 27px,#0054b4 28px,#0054b4 29px,#0027de 30px,#0004f5 31px,#0c00b8 33px,#20009d 36px,#0100f0 38px,#0100f0 39px,#21009a 41px,#19009a 62px,#1000ac 84px,#0700d3 109px,#1d00a6 121px,#2b007f 127px,#13009a 131px,#0600d5 136px,#050bd6 144px,#1500af 166px,#19009a 185px,#1a00ad 201px,#1200af 218px)"></i><i style="left:293px;width:2px;background:linear-gradient(#ff7800 0,#ff4a00 2px,#ff5a00 3px,#ff3c00 4px,#feb600 5px,#0a9945 6px,#0107f0 7px,#0011ee 9px,#29c300 10px,#c2e600 11px,#29c300 12px,#0011ee 13px,#0014ec 16px,#008c67 17px,#008c67 18px,#0014ec 19px,#0300e8 20px,#0011ee 22px,#0061a3 24px,#0054b5 25px,#0022e2 26px,#0103f4 27px,#0024e1 28px,#0024e1 29px,#0006f6 31px,#0300e4 41px,#2b007f 52px,#2e007c 66px,#0700cf 79px,#0100f1 92px,#0500d5 99px,#2b007f 105px,#2d007d 108px,#0a00c1 116px,#0b00be 123px,#2b007f 141px,#1e008c 156px,#1200b0 168px,#360074 182px,#1100a3 193px,#0500dc 218px)"></i><i style="left:295px;width:2px;background:linear-gradient(#ff7800 0,#ff5100 2px,#ff6600 3px,#ff6400 4px,#c8e700 5px,#004ebb 6px,#0013ed 7px,#0005f7 9px,#0fb515 10px,#95de00 11px,#0fb515 12px,#0004f7 13px,#0101f6 16px,#005fa6 17px,#005fa6 18px,#0101f6 19px,#0400df 20px,#0400dc 22px,#0200ea 23px,#0022e2 25px,#0103f3 27px,#0306e2 33px,#0807cd 35px,#0300e5 58px,#0800cf 71px,#0201ea 93px,#0900c4 99px,#290081 105px,#330077 109px,#320078 120px,#330077 132px,#360074 151px,#1d0099 163px,#270089 179px,#19009b 186px,#360074 196px,#210092 208px,#200096 218px)"></i><i style="left:297px;width:2px;background:linear-gradient(#ff7500 0,#ff5900 2px,#ff7300 3px,#ffa100 4px,#39c20c 5px,#002bdb 6px,#0100f2 7px,#0001f8 9px,#06a23f 10px,#64d200 11px,#06a23f 12px,#0100f4 13px,#0200ec 16px,#0038d2 17px,#0038d2 18px,#0013ed 19px,#0012ed 21px,#0200ef 25px,#0400dd 27px,#0004f4 29px,#001ae8 30px,#001be7 31px,#0000f7 32px,#190091 35px,#380072 37px,#2b007f 39px,#290081 59px,#330077 69px,#270088 80px,#320078 92px,#14009f 103px,#3b006f 127px,#1d008d 136px,#0900ca 144px,#0e00bd 152px,#340076 164px,#2e007c 173px,#250089 187px,#310079 198px,#1f0090 218px)"></i><i style="left:299px;width:2px;background:linear-gradient(#ff7000 0,#ff5e00 1px,#ff5f00 2px,#ff7f00 3px,#fbd300 4px,#0fb318 5px,#0049c3 6px,#0007f5 7px,#0200ef 9px,#008c68 10px,#31c500 11px,#008c68 12px,#0200eb 13px,#0400dd 14px,#0107f0 16px,#0042c6 18px,#004ebc 19px,#000df1 23px,#0300e7 28px,#0102f0 31px,#0500d8 32px,#1000a7 33px,#2c007e 35px,#1b0094 51px,#370073 72px,#1f008d 87px,#1800a7 99px,#370073 119px,#330077 134px,#0800cb 145px,#0800cf 151px,#1b009c 157px,#360074 161px,#2d007d 166px,#1c009f 173px,#390071 187px,#2a0080 204px,#1200b3 218px)"></i><i style="left:301px;width:2px;background:linear-gradient(#ff6800 0,#ff5a00 1px,#ff6500 2px,#ff8900 3px,#f8e200 4px,#0bad27 5px,#003dce 6px,#0001f9 7px,#0107f0 9px,#00708e 10px,#0fb515 11px,#00708e 12px,#0300e4 13px,#0500da 14px,#0007f5 16px,#0039cf 18px,#0036d3 25px,#0100f6 30px,#0400df 32px,#220088 35px,#3c006e 37px,#2a0080 67px,#2a0080 85px,#3d006d 99px,#12009f 115px,#1d0092 126px,#410069 139px,#220088 152px,#3c006e 162px,#19009c 172px,#3d006d 196px,#1e008c 205px,#0900c8 215px,#0800cb 218px)"></i><i style="left:303px;width:2px;background:linear-gradient(#ff5f00 0,#ff5500 1px,#ff9000 3px,#f7e400 4px,#029b4f 5px,#001ae8 6px,#0500dd 7px,#0204e6 9px,#0055b3 10px,#049f46 11px,#0055b3 12px,#0004f5 13px,#000bf2 18px,#0031d7 20px,#002bdb 22px,#000cf1 25px,#001de6 28px,#000af3 29px,#0700d2 31px,#1b008f 35px,#3d006d 37px,#350075 56px,#270083 81px,#40006a 100px,#14009e 126px,#360074 139px,#3d006d 147px,#280082 160px,#2f007b 169px,#3b006f 205px,#1a0095 218px)"></i><i style="left:305px;width:2px;background:linear-gradient(#ff5700 0,#ff4e00 1px,#ff9300 3px,#f9dc00 4px,#0aaa2d 5px,#0016eb 6px,#0c00bb 7px,#0f00ac 8px,#0800ca 9px,#003ece 10px,#008473 11px,#003ece 12px,#0010ef 13px,#0200e9 17px,#0400df 19px,#000cf2 22px,#0020e3 24px,#0200ee 30px,#13009b 34px,#360074 36px,#3d006d 49px,#290081 70px,#380072 98px,#3b006f 146px,#340076 195px,#0800cc 210px,#0400dc 218px)"></i><i style="left:307px;width:2px;background:linear-gradient(#ff4f00 0,#ff4500 1px,#ff9300 3px,#fbd300 4px,#0db01e 5px,#0029dd 6px,#0400db 7px,#0500db 9px,#002adc 10px,#00659d 11px,#002adc 12px,#0200ea 13px,#0200e9 17px,#0500d7 19px,#0100f0 21px,#003fcc 23px,#0041cb 24px,#0002f7 26px,#0300e3 28px,#0400df 32px,#0800ca 33px,#270083 35px,#270083 44px,#22009a 47px,#1800a4 67px,#1900a2 88px,#230090 148px,#340076 154px,#3c006e 170px,#2f007b 199px,#20008a 218px)"></i><i style="left:309px;width:2px;background:linear-gradient(#ff4900 0,#ff3c00 1px,#fdc700 4px,#16bd05 5px,#002ed9 6px,#0600d4 7px,#0400dc 9px,#0017ea 10px,#0048c3 11px,#0017ea 12px,#0200ea 13px,#0100f1 17px,#0900c5 19px,#0a00c2 20px,#010de9 22px,#0036d4 24px,#002ed9 26px,#0105ee 29px,#0200eb 31px,#0b00bc 33px,#160094 34px,#1e008c 38px,#1a0090 41px,#0e00b4 42px,#0b0dbd 43px,#105463 45px,#1c6049 46px,#236246 98px,#1d624f 117px,#266141 146px,#1e5d44 147px,#1d2994 150px,#2100ad 152px,#3b006f 155px,#350075 178px,#390071 209px,#310079 218px)"></i><i style="left:311px;width:2px;background:linear-gradient(#ff4500 0,#ff3200 1px,#ff6a00 2px,#ffb900 4px,#38c700 5px,#002fd9 6px,#0a00c1 7px,#1100a4 8px,#1000a7 9px,#0005f7 10px,#0032d7 11px,#0005f7 12px,#0400dc 14px,#0500d6 16px,#1000a6 18px,#0d00b4 21px,#0100f5 23px,#001ae8 27px,#0100f6 32px,#0400dc 33px,#1100a4 34px,#290081 35px,#260084 79px,#1a0098 90px,#2c007e 103px,#3e006c 137px,#3a0070 161px,#290081 195px,#270083 204px,#1100a7 218px)"></i><i style="left:313px;width:2px;background:linear-gradient(#ff4200 0,#ff2900 1px,#ff6600 2px,#ffad00 4px,#46cb00 5px,#0058b0 6px,#010fea 7px,#0307e1 9px,#0009f1 10px,#001de5 11px,#000af0 12px,#0026df 15px,#0201e9 18px,#0300e7 22px,#0007f5 27px,#0009f4 30px,#0100f2 32px,#0500d9 33px,#20008a 35px,#370073 36px,#2f007b 67px,#180097 88px,#3e006c 122px,#380072 198px,#220088 218px)"></i><i style="left:315px;width:2px;background:linear-gradient(#ff4100 0,#ff2000 1px,#ff6200 2px,#ffa200 4px,#5ed100 5px,#005ea7 6px,#001ae8 7px,#0044c9 10px,#0018e9 12px,#0011ee 13px,#002dda 15px,#001ce6 17px,#0005f7 18px,#0b00bb 21px,#0c00ba 22px,#0300e4 24px,#0300e8 28px,#0003f7 31px,#0300e3 32px,#1e008c 34px,#20008a 41px,#360074 60px,#3b006f 105px,#370073 138px,#410069 175px,#330077 190px,#2e007c 210px,#1200a0 218px)"></i><i style="left:317px;width:2px;background:linear-gradient(#ff4000 0,#fe1b00 1px,#ff5d00 2px,#ff8300 3px,#ff9400 4px,#6bd400 5px,#0053b6 6px,#0003f7 7px,#0020e3 9px,#0100f3 11px,#0d00b6 13px,#0400df 14px,#000af3 15px,#001de6 16px,#0002f9 18px,#0200ec 22px,#0013ed 25px,#0100f4 26px,#0a00c1 28px,#0200ef 30px,#0200ee 31px,#0700ce 32px,#1a0090 33px,#2a0080 35px,#1e0090 45px,#20008a 59px,#40006a 99px,#410069 143px,#3a0070 208px,#30007a 218px)"></i><i style="left:319px;width:2px;background:linear-gradient(#ff4000 0,#fe1800 1px,#ff5900 2px,#ff8000 3px,#ff8e00 4px,#78d700 5px,#005aad 6px,#0005f6 7px,#0700cf 10px,#0300e6 11px,#1100a8 13px,#0001f9 15px,#0014ec 16px,#0000f7 18px,#0200ee 21px,#0500d9 27px,#0800cc 28px,#0500dc 30px,#0600d4 31px,#1f008b 33px,#3b006f 36px,#30007a 57px,#2e007c 80px,#2e007c 104px,#3a0070 120px,#3b006f 145px,#3a0070 182px,#2c007e 198px,#290081 218px)"></i><i style="left:321px;width:2px;background:linear-gradient(#ff4000 0,#fe1600 1px,#ff5700 2px,#ff7f00 3px,#ff8200 4px,#83da00 5px,#004ac2 6px,#0300e7 7px,#0a00c2 8px,#0a00c0 10px,#0500da 11px,#0400e0 13px,#0002f9 16px,#0300e7 22px,#150097 24px,#210089 29px,#1e008c 33px,#370073 36px,#3c006e 80px,#370073 144px,#380072 173px,#330077 186px,#3b006f 200px,#330077 218px)"></i><i style="left:323px;width:1px;background:linear-gradient(#ff4100 0,#fe1500 1px,#ff5600 2px,#ff7e00 3px,#ff7900 4px,#a0e000 5px,#0043ca 6px,#0900c4 7px,#1e008c 8px,#1a0090 9px,#0400e0 12px,#0001f9 15px,#000df0 17px,#0000f8 18px,#0200ea 20px,#0100f0 22px,#0400db 23px,#1f008b 25px,#3e006c 27px,#320078 31px,#220088 33px,#3a0070 37px,#3c006e 47px,#340076 78px,#3c006e 90px,#3a0070 110px,#330077 151px,#0e00af 167px,#0900c5 177px,#1e008c 189px,#3d006d 197px,#320078 206px,#2c007e 218px)"></i></div><div class="se"><i style="left:39px;width:2px;background:linear-gradient(#ff5300 0,#ff4d00 1px,#fec300 2px,#ff9300 3px,#ff2200 4px,#fc0d00 5px,#ff5300 6px,#ff6c00 7px,#ff2c00 8px,#ff2e00 9px,#ff9b00 10px,#fec200 11px,#fdc800 12px,#91dd00 13px,#008e64 14px,#0024e1 15px,#0011ee 16px,#0016ea 19px,#0025e0 20px,#0053b6 21px,#049e48 22px,#11b90c 23px,#049d4a 24px,#004cbf 25px,#0017ea 26px,#0102f3 27px,#19009f 31px,#1b009c 32px,#1100af 33px,#0500db 34px,#000bf2 35px,#003bcc 36px,#0b885c 38px,#249455 39px,#18954e 40px,#28bf0a 42px,#00728c 43px,#010fe8 44px,#2d0085 46px,#410069 49px,#2c007e 55px,#29008f 59px,#320078 61px,#290081 62px,#1000b0 63px,#0800c9 64px,#1f008b 67px,#3f006b 70px,#430067 130px,#3d006d 155px,#360074 156px,#0a00c2 158px,#0400dc 159px,#0300e8 173px,#0600d4 174px,#13009e 175px,#170093 177px,#12009d 187px,#420068 207px,#410069 231px)"></i><i style="left:41px;width:2px;background:linear-gradient(#ff5400 0,#ff4d00 1px,#fec200 2px,#ff9400 3px,#ff2200 4px,#fc0c00 5px,#ff5200 6px,#ff6c00 7px,#ff2c00 8px,#ff2e00 9px,#ff9b00 10px,#fec200 11px,#fdc700 12px,#94de00 13px,#008d66 14px,#0020e3 15px,#0010ef 16px,#0036d3 20px,#00659e 21px,#07a43a 22px,#11b80d 23px,#019659 24px,#003ece 25px,#0007f5 26px,#0c00ba 30px,#0800cc 32px,#0200ec 33px,#0016ea 34px,#0041cb 35px,#008a6a 37px,#06a23e 38px,#2eb91e 40px,#51cd00 41px,#68d300 42px,#0bac28 43px,#0056b3 44px,#0014eb 45px,#0200e9 46px,#1e008c 49px,#440066 53px,#4b005f 57px,#470063 61px,#180093 64px,#330077 69px,#440066 76px,#440066 155px,#370073 156px,#160095 157px,#0800c9 158px,#0300e3 159px,#0300e6 169px,#0500d8 173px,#1e008c 175px,#330077 176px,#420068 222px,#3f006b 231px)"></i><i style="left:43px;width:2px;background:linear-gradient(#ff5500 0,#ff4d00 1px,#fec100 2px,#ff9400 3px,#ff2100 4px,#fc0b00 5px,#ff5100 6px,#ff6d00 7px,#ff2b00 8px,#ff2e00 9px,#ff9a00 10px,#fec200 11px,#fec500 12px,#a5e100 13px,#019658 14px,#0010ee 15px,#0300e8 17px,#0100f3 19px,#000ef0 20px,#003fcd 21px,#008c67 22px,#09a734 23px,#007f7a 24px,#002bdb 25px,#0100f1 26px,#1b008f 30px,#350075 33px,#270084 34px,#0800cc 35px,#0207e6 36px,#0016ea 37px,#003fca 38px,#007a80 39px,#0eb21c 40px,#36c700 41px,#1cbb0e 42px,#007b7f 43px,#0021e2 44px,#0300e5 45px,#0b00bf 46px,#1c008e 50px,#1100a4 51px,#2a009a 59px,#1e008c 66px,#420068 73px,#370073 127px,#440066 155px,#330077 156px,#13009b 157px,#0600d1 158px,#0300e8 160px,#0200ef 167px,#0700cf 173px,#210089 175px,#3d006d 176px,#420068 231px)"></i><i style="left:45px;width:2px;background:linear-gradient(#ff5700 0,#ff4d00 1px,#ffbf00 2px,#ff9600 3px,#ff2100 4px,#fb0900 5px,#ff4f00 6px,#ff6e00 7px,#ff2b00 8px,#ff2d00 9px,#ff9800 10px,#fec300 11px,#fdc800 12px,#9cdf00 13px,#00955a 14px,#0021e3 15px,#0004f7 16px,#0008f3 19px,#001be7 20px,#004ebb 21px,#059b4b 22px,#19b618 23px,#06994b 24px,#004db8 25px,#0017e9 26px,#0300e4 29px,#0900c6 31px,#1f008d 33px,#16009b 34px,#0700d0 35px,#0108ea 37px,#0020e3 38px,#005ca3 39px,#0d9b43 40px,#32bb1a 41px,#1cb51d 42px,#007a81 43px,#0024e0 44px,#0200ea 45px,#0a00c3 46px,#16009d 49px,#17009d 52px,#0201ea 56px,#0030d6 60px,#0202ea 63px,#2f007b 65px,#3a0070 67px,#440066 155px,#2d007d 156px,#0d00b2 157px,#0300e6 158px,#0001f9 159px,#0300e2 173px,#0800cb 174px,#160095 175px,#350075 176px,#3e006c 207px,#1e008f 231px)"></i><i style="left:47px;width:2px;background:linear-gradient(#ff5900 0,#ff4e00 1px,#ffbc00 2px,#ff9700 3px,#ff2000 4px,#fb0600 5px,#ff4c00 6px,#ff6f00 7px,#ff2b00 8px,#ff2d00 9px,#ff9600 10px,#fec400 11px,#fdc900 12px,#a3e000 13px,#059f45 14px,#0037d3 15px,#0024e1 16px,#0029dd 19px,#0039d1 20px,#00708e 21px,#0eb21b 22px,#35c600 23px,#0db01e 24px,#006899 25px,#002cda 26px,#0000f7 28px,#0500d7 30px,#270083 33px,#290081 37px,#1b0091 38px,#0800cb 39px,#000ff0 40px,#0049c0 41px,#0052b7 42px,#0019e8 43px,#19009e 44px,#460064 45px,#30007a 51px,#0a00c6 55px,#0306e1 59px,#0c00b8 62px,#290081 64px,#320078 66px,#390071 102px,#180093 117px,#420068 141px,#420068 155px,#350075 156px,#150099 157px,#0700ce 158px,#0300e5 159px,#0200e9 173px,#0600d1 174px,#150096 175px,#2a0080 176px,#410069 200px,#13009c 211px,#0700cf 219px,#0600d3 231px)"></i><i style="left:49px;width:2px;background:linear-gradient(#ff5c00 0,#ff4e00 1px,#ffb900 2px,#ff9900 3px,#ff1f00 4px,#fa0300 5px,#ff4a00 6px,#ff7100 7px,#ff2c00 8px,#ff2d00 9px,#ff9400 10px,#fec500 11px,#fccf00 12px,#91dd00 13px,#008c68 14px,#0018e9 15px,#0103f2 16px,#0002f5 19px,#0012ed 20px,#0044c9 21px,#029b4f 22px,#15bc06 23px,#09a832 24px,#00679a 25px,#0033d5 26px,#0005f6 29px,#0400de 31px,#1000ab 33px,#150097 37px,#12009f 38px,#0204e6 40px,#0119e4 41px,#0019e5 42px,#0900c7 43px,#3f006b 44px,#50005a 46px,#360074 48px,#1b00ae 54px,#1300a5 60px,#410069 64px,#40006a 93px,#3b006f 156px,#0d00b4 158px,#0600d5 159px,#0300e2 168px,#0300e5 173px,#0700cf 174px,#140099 175px,#340076 176px,#420068 201px,#3b006f 231px)"></i><i style="left:51px;width:2px;background:linear-gradient(#ff5f00 0,#ff4f00 1px,#ffb500 2px,#ff9c00 3px,#ff1e00 4px,#fa0000 5px,#ff4700 6px,#ff7300 7px,#ff2d00 8px,#ff2d00 9px,#ff9200 10px,#fdc700 11px,#fad600 12px,#84da00 13px,#008275 14px,#0012ed 15px,#0000f7 17px,#0004f7 19px,#001ae7 20px,#004ebb 21px,#059e48 22px,#18b811 23px,#059d48 24px,#004dbb 25px,#0017e9 26px,#0100f0 28px,#0200e9 33px,#0007f3 36px,#0200ea 39px,#0115e6 40px,#003eca 41px,#003ecd 42px,#0104f3 43px,#260084 45px,#350075 46px,#30007a 47px,#1c00a0 49px,#250085 51px,#180097 54px,#420068 62px,#440066 155px,#360074 156px,#150099 157px,#0700d1 158px,#0200e9 159px,#0100f1 171px,#0100f4 173px,#0300e2 174px,#0e00af 175px,#2d007d 176px,#430067 200px,#40006a 231px)"></i><i style="left:53px;width:2px;background:linear-gradient(#ff6200 0,#ff5000 1px,#ffb200 2px,#ff9e00 3px,#ff1e00 4px,#fa0000 5px,#ff4400 6px,#ff7600 7px,#ff2f00 8px,#ff2d00 9px,#ff9100 10px,#fdca00 11px,#f9dd00 12px,#78d700 13px,#007c7e 14px,#0011ee 15px,#0000f7 16px,#0000fa 19px,#0011ee 20px,#003dce 21px,#008a6b 22px,#08a636 23px,#007e7b 24px,#002adc 25px,#0200ef 26px,#210092 30px,#2e0081 33px,#2b0095 36px,#3b006f 38px,#3c006e 39px,#170097 40px,#0006f5 41px,#0019e8 42px,#0400e1 43px,#170097 44px,#320078 45px,#2b007f 48px,#0f00aa 51px,#17009a 52px,#0400e1 54px,#0301e7 60px,#220088 67px,#430067 72px,#440066 155px,#30007a 156px,#0e00b1 157px,#0200eb 158px,#0013ec 160px,#0100f1 165px,#0200eb 173px,#0500d8 174px,#1200a0 175px,#320078 176px,#3e006c 182px,#3a0070 215px,#13009c 231px)"></i><i style="left:55px;width:2px;background:linear-gradient(#ff6600 0,#ff5100 1px,#ffb000 2px,#ffa100 3px,#ff1d00 4px,#fa0000 5px,#ff7900 7px,#ff3100 8px,#ff2f00 9px,#ff8f00 10px,#fccc00 11px,#f8e300 12px,#73d600 13px,#007b7f 14px,#000fef 15px,#0100f6 17px,#0010ee 20px,#003ece 21px,#008a6a 22px,#08a636 23px,#007d7c 24px,#0028dd 25px,#0200ec 26px,#1f008b 29px,#490061 32px,#410069 37px,#240093 39px,#0600db 40px,#0033d5 41px,#0031d7 42px,#010fe6 43px,#1c009c 45px,#2e007c 47px,#3b006f 52px,#2b007f 53px,#0e00b0 54px,#0700cf 56px,#0700cf 60px,#260084 64px,#430067 73px,#440066 155px,#340076 156px,#12009e 157px,#0400db 158px,#0100f3 159px,#0200eb 173px,#0500da 174px,#1100a3 175px,#320078 176px,#420068 178px,#3b006f 223px,#330077 231px)"></i><i style="left:57px;width:2px;background:linear-gradient(#ff6900 0,#ff5100 1px,#ffae00 2px,#ffa400 3px,#ff1d00 4px,#fa0000 5px,#ff7c00 7px,#ff3400 8px,#ff3100 9px,#ff8e00 10px,#fcce00 11px,#f7e700 12px,#74d600 13px,#007e7b 14px,#0013ec 15px,#0001f8 16px,#0018e9 19px,#0032d6 20px,#00708f 21px,#0fb418 22px,#2fc500 23px,#07a43b 24px,#0042ca 25px,#0101f5 26px,#1200a0 28px,#3e006c 30px,#430067 34px,#150095 37px,#0200ed 39px,#001fe4 40px,#00649f 41px,#006e91 42px,#003ece 43px,#000af3 44px,#1c0095 48px,#3e006c 49px,#50005a 51px,#450065 53px,#1d008d 54px,#0e00b1 57px,#330077 61px,#430067 76px,#440066 155px,#380072 156px,#170094 157px,#0800cc 158px,#0300e5 159px,#0300e3 173px,#0800cc 174px,#150095 175px,#360074 176px,#440066 179px,#440066 231px)"></i><i style="left:59px;width:2px;background:linear-gradient(#ff6c00 0,#ff5200 1px,#ffad00 2px,#ffa700 3px,#ff1c00 4px,#fa0000 5px,#ff8000 7px,#ff3800 8px,#ff3400 9px,#ff8e00 10px,#fcce00 11px,#f6e900 12px,#79d700 13px,#00876e 14px,#0022e2 15px,#000ef0 16px,#000ef0 19px,#001fe4 20px,#004fba 21px,#049750 22px,#10b11f 23px,#028b65 24px,#0034d5 25px,#0102f2 26px,#170093 30px,#1e008c 34px,#0e00b2 37px,#0201ee 39px,#0127d5 42px,#0215df 43px,#0a00c3 44px,#190096 45px,#150097 46px,#1100ab 47px,#29008c 49px,#4b005f 51px,#370073 55px,#1b008f 57px,#2d007d 59px,#1500b7 61px,#1300b1 64px,#360074 69px,#430067 81px,#440066 155px,#390071 156px,#0900c4 158px,#0400df 159px,#0500da 168px,#0300e4 173px,#0700ce 174px,#150096 175px,#360074 176px,#410069 179px,#390071 201px,#440066 231px)"></i><i style="left:61px;width:2px;background:linear-gradient(#ff6e00 0,#ff5300 1px,#ffac00 2px,#ffaa00 3px,#ff1c00 4px,#fa0000 5px,#ff8500 7px,#ff3c00 8px,#ff3700 9px,#ff8f00 10px,#fcce00 11px,#f6ea00 12px,#7ed900 13px,#008b69 14px,#0028dd 15px,#0008f4 19px,#0011ee 20px,#003ad1 21px,#008670 22px,#09a831 23px,#028e63 24px,#0046c3 25px,#0018e9 26px,#0200ef 29px,#0b00bb 34px,#0900cb 38px,#050bd6 39px,#0909c8 41px,#0805cd 43px,#1200bb 45px,#0900c7 46px,#14009c 49px,#380072 52px,#310079 56px,#1a0090 59px,#18009a 62px,#240086 67px,#420068 72px,#440066 155px,#30007a 156px,#0f00ab 157px,#0400e1 158px,#0100f4 159px,#0500d9 168px,#0200e9 173px,#0500d8 174px,#1100a3 175px,#310079 176px,#440066 177px,#440066 231px)"></i><i style="left:63px;width:2px;background:linear-gradient(#ff7000 0,#ff5400 1px,#ffad00 2px,#ffad00 3px,#ff1c00 4px,#fa0000 5px,#ff3900 6px,#ff8900 7px,#ff4000 8px,#ff3c00 9px,#ff9000 10px,#fcce00 11px,#f6e900 12px,#85da00 13px,#00866f 14px,#0015eb 15px,#0103f3 16px,#0005f4 19px,#0014ec 20px,#0040cc 21px,#008c68 22px,#09a833 23px,#008472 24px,#0035d4 25px,#010beb 26px,#0700d4 28px,#1e00a1 32px,#1600b0 35px,#0e07bf 38px,#021cd9 40px,#0033cc 42px,#0221d4 43px,#0903ca 44px,#24008a 47px,#170096 50px,#0600d4 52px,#0200ef 54px,#0500da 61px,#0400dc 65px,#0d00b6 67px,#360074 70px,#440066 81px,#440066 155px,#340076 156px,#13009c 157px,#0500d6 158px,#0200ec 160px,#0300e8 173px,#0600d3 174px,#13009d 175px,#340076 176px,#440066 178px,#430067 231px)"></i><i style="left:65px;width:2px;background:linear-gradient(#ff7100 0,#ff5400 1px,#ffae00 2px,#ffb000 3px,#ff1b00 4px,#fa0000 5px,#ff3800 6px,#ff8d00 7px,#ff4500 8px,#ff4000 9px,#ff9200 10px,#fcce00 11px,#f6e900 12px,#8ddc00 13px,#009161 14px,#0023e1 15px,#000fef 16px,#0014eb 19px,#002bdc 20px,#0063a0 21px,#0aaa2d 22px,#1ebf04 23px,#039c4b 24px,#003dcf 25px,#0102f4 26px,#180093 29px,#430067 32px,#440066 37px,#380072 38px,#170094 39px,#0500dc 40px,#0110ea 42px,#0300e6 43px,#1e008c 45px,#28008d 50px,#360074 51px,#3c006e 55px,#2d007d 56px,#0d00b3 57px,#0600d3 59px,#0600d4 62px,#270083 67px,#40006a 75px,#440066 155px,#340076 156px,#13009a 157px,#0600d2 158px,#0300e6 159px,#0102f5 173px,#0300e3 174px,#0f00ab 175px,#30007a 176px,#440066 177px,#440066 231px)"></i><i style="left:67px;width:2px;background:linear-gradient(#ff7100 0,#ff5400 1px,#ffb000 2px,#ffb200 3px,#fe1b00 4px,#fa0000 5px,#ff3800 6px,#ff9100 7px,#ff4a00 8px,#ff4600 9px,#ff9500 10px,#fccf00 11px,#f6ea00 12px,#91dd00 13px,#00925f 14px,#0028de 15px,#002adc 17px,#0039d2 20px,#00659d 21px,#06a33d 22px,#0fb416 23px,#008c68 24px,#0031d7 25px,#0100f1 26px,#210089 29px,#4b005f 31px,#4a0060 37px,#380072 38px,#1100aa 39px,#0107ee 40px,#003bcd 41px,#0049bd 42px,#0022e2 43px,#0308e0 44px,#21009d 46px,#1c00a8 47px,#2d0081 50px,#490061 51px,#490061 56px,#240086 64px,#420068 69px,#40006a 92px,#440066 155px,#340076 156px,#12009f 157px,#0400db 158px,#0100f1 159px,#0400e0 168px,#0000f8 173px,#0300e4 174px,#0f00ad 175px,#2f007b 176px,#440066 177px,#440066 231px)"></i><i style="left:69px;width:2px;background:linear-gradient(#ff7000 0,#ff5400 1px,#ffb300 2px,#ffb400 3px,#fe1a00 4px,#fa0000 5px,#ff3800 6px,#ff9400 7px,#ff4f00 8px,#ff4b00 9px,#ff9900 10px,#fbd100 11px,#f6ec00 12px,#93dd00 13px,#01955b 14px,#0023e1 15px,#000ef0 16px,#0011ee 19px,#0021e2 20px,#004ebc 21px,#029656 22px,#0bac28 23px,#008374 24px,#002cdb 25px,#0200ee 26px,#1b008f 29px,#3c006e 32px,#270083 35px,#0e00b1 37px,#0400dd 38px,#0011ee 39px,#00649f 40px,#0cad25 41px,#23be0a 42px,#0aab2b 43px,#007982 44px,#0045c3 45px,#000fef 46px,#0100f2 48px,#0d00b6 52px,#1800a2 53px,#440066 55px,#2a0081 58px,#1100a4 61px,#390071 69px,#440066 155px,#360074 156px,#13009a 157px,#0500d9 158px,#0100f0 159px,#0200ee 170px,#0100f5 173px,#0400e1 174px,#1000a9 175px,#30007a 176px,#440066 177px,#350075 231px)"></i><i style="left:71px;width:2px;background:linear-gradient(#ff6e00 0,#ff5300 1px,#ffb500 2px,#ffb500 3px,#fe1a00 4px,#fa0000 5px,#ff3900 6px,#ff9700 7px,#ff5400 8px,#ff5100 9px,#ff9d00 10px,#fbd400 11px,#f3ef00 12px,#87db00 13px,#008670 14px,#000fef 15px,#0002f9 17px,#000ef0 19px,#0022e2 20px,#0051b8 21px,#039654 22px,#0aaa2d 23px,#007b7f 24px,#0023e1 25px,#0300e8 26px,#13009b 29px,#180094 32px,#0102f0 38px,#0022e1 39px,#00669c 40px,#06a23f 41px,#09a930 42px,#018273 43px,#0046c1 44px,#001ee5 45px,#0002f6 47px,#000df0 52px,#0304e4 54px,#250092 55px,#370073 56px,#2b007f 61px,#3d006d 63px,#3b006f 134px,#420068 155px,#350075 156px,#13009b 157px,#0500d7 158px,#0100f3 160px,#0300e7 172px,#0300e7 173px,#0600d4 174px,#13009c 175px,#340076 176px,#440066 178px,#420068 231px)"></i><i style="left:73px;width:2px;background:linear-gradient(#ff6a00 0,#ff5100 1px,#ffb700 2px,#ffb500 3px,#fe1a00 4px,#fa0000 5px,#ff3b00 6px,#ff9900 7px,#ff5900 8px,#ff5600 9px,#ffa200 10px,#fad800 11px,#eaee00 12px,#83da00 13px,#029756 14px,#0037d2 15px,#0026df 19px,#0030d8 20px,#0059ae 21px,#039951 22px,#0aa92f 23px,#007785 24px,#001de5 25px,#0400e0 26px,#180092 28px,#3f006b 31px,#30007a 33px,#2400a2 35px,#2300a6 37px,#040cdb 41px,#0603d5 42px,#350075 44px,#460064 45px,#0e00ae 50px,#0e00b2 53px,#12009f 57px,#0e00ae 61px,#2e007c 62px,#2d007d 63px,#180094 64px,#420068 72px,#440066 155px,#380072 156px,#170093 157px,#0900c6 158px,#0400e1 159px,#0300e2 173px,#0800cb 174px,#360074 176px,#440066 178px,#420068 231px)"></i><i style="left:75px;width:2px;background:linear-gradient(#ff6600 0,#ff5000 1px,#ffba00 2px,#ffb400 3px,#fe1900 4px,#fa0000 5px,#ff3e00 6px,#ff9a00 7px,#ff5e00 8px,#ff5c00 9px,#ffa600 10px,#f9db00 11px,#e1ec00 12px,#78d700 13px,#00925f 14px,#002ed9 15px,#0011ee 19px,#001be7 20px,#0043ca 21px,#008a6a 22px,#07a43b 23px,#007883 24px,#0023e1 25px,#0300e7 26px,#170094 28px,#460064 30px,#50005a 36px,#440066 37px,#0e00af 39px,#0400e2 40px,#0600d5 41px,#1d008d 42px,#440066 43px,#4b005f 45px,#1d008d 48px,#1500ae 52px,#1d0097 59px,#1000ab 64px,#410069 71px,#3a0070 154px,#330077 156px,#1100a1 157px,#0400db 158px,#0100f1 160px,#0300e6 173px,#0700ce 174px,#15009b 175px,#350075 176px,#440066 179px,#440066 231px)"></i><i style="left:77px;width:2px;background:linear-gradient(#ff6100 0,#ff4d00 1px,#ffbb00 2px,#ffb300 3px,#fe1900 4px,#fa0000 5px,#ff4100 6px,#ff9c00 7px,#ff6200 8px,#ff6000 9px,#ffab00 10px,#f9dd00 11px,#ddeb00 12px,#71d500 13px,#00935e 14px,#0034d5 15px,#0014ec 19px,#001ee5 20px,#0048c6 21px,#00965a 22px,#0db11e 23px,#00935e 24px,#003dce 25px,#0004f6 26px,#0400de 27px,#250085 29px,#4c005e 31px,#470063 36px,#2e007c 38px,#0204e9 40px,#011fde 41px,#070bcd 42px,#260089 44px,#0900c7 46px,#1c0096 48px,#430067 49px,#50005a 54px,#230087 63px,#3f006b 70px,#410069 155px,#340076 156px,#13009c 157px,#0500d7 158px,#0200ed 160px,#0100f4 173px,#0400dc 174px,#12009f 175px,#350075 176px,#3a0070 182px,#2c007e 206px,#440066 224px,#440066 231px)"></i><i style="left:79px;width:2px;background:linear-gradient(#ff5b00 0,#ff4b00 1px,#ffbc00 2px,#ffb000 3px,#fe1900 4px,#fa0200 5px,#ff4500 6px,#ff9c00 7px,#ff6700 8px,#ff6500 9px,#ffae00 10px,#f8df00 11px,#deec00 12px,#6bd400 13px,#008f64 14px,#0033d6 15px,#001be7 19px,#0025df 20px,#0052b6 21px,#049a4d 22px,#0fb515 23px,#029658 24px,#0040cc 25px,#0007f5 26px,#0700d0 28px,#1a0090 30px,#2d007d 32px,#1c0093 34px,#0600d6 36px,#0009f3 39px,#0040cd 41px,#0033d5 42px,#0300e3 43px,#2a0080 44px,#30007a 45px,#250095 46px,#22009c 47px,#350075 49px,#1c0090 52px,#1c00a0 56px,#0c00b7 60px,#390071 67px,#410069 96px,#440066 155px,#340076 156px,#12009f 157px,#0400db 158px,#0100f4 160px,#0005f6 170px,#0000f8 173px,#0400e1 174px,#1000a7 175px,#320078 176px,#3e006c 178px,#440066 231px)"></i><i style="left:81px;width:2px;background:linear-gradient(#ff5500 0,#ff4700 1px,#ffbc00 2px,#ffad00 3px,#fe1900 4px,#fb0700 5px,#ff9d00 7px,#ff6c00 8px,#ff6800 9px,#ffb200 10px,#f8df00 11px,#e2ec00 12px,#62d200 13px,#00718c 14px,#0103f0 15px,#0400e1 16px,#0015ea 20px,#0049be 21px,#049652 22px,#11b417 23px,#039656 24px,#0041ca 25px,#0008f4 26px,#0900c8 28px,#2f007b 30px,#50005a 32px,#50005a 34px,#2c007e 36px,#0300e5 38px,#0021e3 39px,#006a96 40px,#049e48 41px,#019756 42px,#0051b9 43px,#0b00bc 44px,#2f007b 45px,#350075 47px,#4e005c 49px,#370073 54px,#0400e2 58px,#0200ec 60px,#1400ba 63px,#20008a 68px,#420068 72px,#440066 155px,#360074 156px,#0900c6 158px,#0400df 159px,#0100f0 167px,#0200ec 173px,#0500d9 174px,#1100a1 175px,#320078 176px,#440066 178px,#380072 231px)"></i><i style="left:83px;width:2px;background:linear-gradient(#ff4e00 0,#ff4400 1px,#ffba00 2px,#ffa900 3px,#fe1900 4px,#fc0c00 5px,#ff9d00 7px,#ff7100 8px,#ff6b00 9px,#ffb400 10px,#f8df00 11px,#e9ee00 12px,#63d200 13px,#00718e 14px,#0100f2 15px,#0400de 16px,#0100f1 19px,#0010ee 20px,#0049c3 21px,#05a142 22px,#1bc000 23px,#09a930 24px,#005ea7 25px,#0022e2 26px,#0003f5 27px,#0300e3 28px,#210089 30px,#410069 31px,#4e005c 34px,#2f007b 36px,#13009a 37px,#0600d4 38px,#0006f6 39px,#0045c8 40px,#008177 41px,#00866f 42px,#0058af 43px,#0210e4 44px,#0305e4 47px,#0700d5 48px,#1d00ac 49px,#3a0070 53px,#360074 56px,#240086 57px,#0400e2 59px,#001ae4 61px,#0209e3 64px,#0c00ba 66px,#2f007b 69px,#440066 74px,#3c006e 156px,#0d00b4 158px,#0700d0 159px,#0100f4 173px,#0400de 174px,#1100a5 175px,#310079 176px,#410069 178px,#390071 225px,#350075 231px)"></i><i style="left:85px;width:2px;background:linear-gradient(#ff4600 0,#ff4000 1px,#ffb800 2px,#ffa500 3px,#fe1900 4px,#fd1000 5px,#ff9d00 7px,#ff7500 8px,#ff6e00 9px,#ffb600 10px,#f8df00 11px,#f0ef00 12px,#66d200 13px,#007784 14px,#0000f8 15px,#0400e1 16px,#0400df 19px,#0200ed 20px,#0021e2 21px,#006f8f 22px,#049e49 23px,#008374 24px,#003dcf 25px,#000fef 26px,#0100f3 27px,#0a00c3 29px,#1c0090 30px,#450065 32px,#380072 35px,#26008a 36px,#0b00c2 37px,#0112e5 38px,#003cc9 39px,#007a80 40px,#049f47 41px,#008e64 42px,#0046bf 43px,#0213e0 44px,#1200bf 46px,#0b02c6 49px,#1c00ae 51px,#0c00ba 53px,#2d0080 60px,#3f006b 76px,#290081 94px,#440066 123px,#330077 156px,#1100a3 157px,#0400df 158px,#0000f7 159px,#0400e0 173px,#0900c6 174px,#170093 175px,#350075 176px,#440066 231px)"></i><i style="left:87px;width:2px;background:linear-gradient(#ff3f00 0,#ff3d00 1px,#ffb500 2px,#ffa100 3px,#fe1a00 4px,#fe1500 5px,#ff9e00 7px,#ff7a00 8px,#ff6f00 9px,#ffb700 10px,#f9de00 11px,#f5ef00 12px,#6ad300 13px,#007f7a 14px,#000df1 15px,#0101f1 19px,#0009f3 20px,#0036d3 21px,#008473 22px,#08a734 23px,#00896c 24px,#003ccf 25px,#000bf2 26px,#0600d3 29px,#12009e 31px,#1c008e 34px,#130099 35px,#0700ce 36px,#0100f3 38px,#0205e9 40px,#002ed9 42px,#0014e9 43px,#0800cf 44px,#290086 46px,#3b006f 50px,#4a0060 52px,#320078 58px,#430067 78px,#390071 142px,#2d007d 156px,#0300e2 158px,#0005f4 159px,#0010ee 165px,#0002f6 173px,#0300e2 174px,#1000a9 175px,#310079 176px,#440066 177px,#30007a 204px,#440066 226px,#440066 231px)"></i><i style="left:89px;width:2px;background:linear-gradient(#ff3800 0,#ff3900 1px,#ffb000 2px,#ff9c00 3px,#fe1b00 4px,#fe1a00 5px,#ff9e00 7px,#ff7e00 8px,#ff7000 9px,#ffb700 10px,#f9dc00 11px,#f7e800 12px,#73d600 13px,#008473 14px,#0017ea 15px,#0010ef 16px,#0033d6 20px,#005ea7 21px,#049e49 22px,#0db01f 23px,#008c68 24px,#0039d2 25px,#0007f5 26px,#0b00be 32px,#1d008d 34px,#230088 37px,#1400a5 38px,#18009a 40px,#0206e9 42px,#0016ea 43px,#0300e7 45px,#0f00ae 48px,#0d00b4 50px,#0400dd 53px,#0700cd 55px,#0300e2 56px,#0700d2 58px,#270083 61px,#390071 64px,#3c006e 70px,#440066 155px,#350075 156px,#12009e 157px,#0400db 158px,#0100f1 159px,#0000f7 173px,#0300e2 174px,#1000a9 175px,#30007a 176px,#440066 177px,#380072 226px,#340076 231px)"></i><i style="left:91px;width:2px;background:linear-gradient(#ff3100 0,#ff3500 1px,#ffab00 2px,#ff9700 3px,#ff1c00 4px,#ff1f00 5px,#ff6b00 6px,#ff9f00 7px,#ff7100 9px,#ffb600 10px,#fad700 11px,#f9dc00 12px,#93dd00 13px,#01935e 14px,#0010ef 15px,#0000f8 16px,#0035d4 20px,#00689a 21px,#09a831 22px,#18bd06 23px,#039c4c 24px,#0045c8 25px,#000fef 26px,#0300e5 28px,#12009f 34px,#0a00c1 37px,#0000f7 39px,#0005f6 40px,#0031d7 42px,#001de5 43px,#0600d8 44px,#1800a5 45px,#270085 46px,#310079 51px,#230087 58px,#1100a3 63px,#1500a1 67px,#3e006c 71px,#440066 155px,#330077 156px,#12009f 157px,#0500d9 158px,#0200ee 160px,#0100f5 173px,#0300e2 174px,#0f00ad 175px,#2e007c 176px,#440066 177px,#370073 218px,#210089 231px)"></i><i style="left:93px;width:2px;background:linear-gradient(#ff2b00 0,#ff3100 1px,#ffa400 2px,#ff9300 3px,#ff1e00 4px,#ff2700 5px,#ff7100 6px,#ffa000 7px,#ff7100 9px,#ffb400 10px,#fbd200 11px,#fbd100 12px,#a0e000 13px,#019856 14px,#0013ed 15px,#0002f6 16px,#0017e9 19px,#0030d8 20px,#006a96 21px,#0db01f 22px,#2fc500 23px,#0aaa2d 24px,#0056b2 25px,#0017ea 26px,#0202ee 27px,#23008a 31px,#290081 33px,#0d00b9 36px,#0204e9 38px,#0018e7 39px,#00718c 41px,#0061a0 42px,#0022e1 43px,#0601da 44px,#26008b 46px,#4a0060 49px,#430067 50px,#1000a7 52px,#0103ed 54px,#002cda 55px,#0059a4 56px,#02688e 57px,#005aa4 59px,#0026df 61px,#0201eb 63px,#1d008e 66px,#410069 69px,#440066 155px,#360074 156px,#150099 157px,#0600d2 158px,#0200ea 159px,#0200ee 169px,#0300e8 173px,#0600d5 174px,#12009f 175px,#320078 176px,#440066 178px,#440066 231px)"></i><i style="left:95px;width:2px;background:linear-gradient(#ff2500 0,#ff2e00 1px,#ff9e00 2px,#ff8f00 3px,#ff2200 4px,#ff2e00 5px,#ff7600 6px,#ffa200 7px,#ff7100 9px,#ffb200 10px,#fcce00 11px,#fdca00 12px,#aee200 13px,#059f46 14px,#001ee5 15px,#000af3 16px,#0018e9 19px,#0030d8 20px,#006d92 21px,#10b612 22px,#46cb00 23px,#12ba0a 24px,#007687 25px,#0033d5 26px,#0103f2 28px,#0e00b2 32px,#0209e9 37px,#0012ed 38px,#003bd0 39px,#008374 40px,#13b21f 41px,#21b61e 42px,#079550 43px,#0042ca 44px,#0006f5 45px,#0000f7 46px,#0900c6 48px,#2b007f 49px,#3d006d 50px,#240091 52px,#1800ac 53px,#1700ba 55px,#081fba 57px,#0036ca 59px,#0018e6 61px,#0201ed 63px,#0900c4 65px,#240086 67px,#3f006b 69px,#220088 89px,#420068 117px,#440066 155px,#360074 156px,#140099 157px,#0500d6 158px,#0200ee 159px,#0100f0 173px,#0400dc 174px,#1100a2 175px,#320078 176px,#440066 178px,#440066 231px)"></i><i style="left:97px;width:2px;background:linear-gradient(#ff2100 0,#ff2a00 1px,#ff9600 2px,#ff8c00 3px,#ff2700 4px,#ff3400 5px,#ff7a00 6px,#ffa300 7px,#ff7100 9px,#ffb000 10px,#fccc00 11px,#fccb00 12px,#a9e100 13px,#029a51 14px,#000cf1 15px,#0001f7 18px,#000bf2 19px,#0029dd 20px,#006a97 21px,#10b612 22px,#48cb00 23px,#13bb08 24px,#007686 25px,#0033d6 26px,#0011ee 27px,#0101f2 28px,#0500dc 29px,#260084 31px,#4b005f 33px,#4b005f 36px,#40006a 37px,#1a0090 38px,#0200eb 39px,#004eb7 40px,#0ca337 41px,#2ab623 42px,#0a9f3d 43px,#004fb9 44px,#0002f9 45px,#0c00bf 48px,#320078 50px,#250095 53px,#3d006d 56px,#1d008e 58px,#0d00b5 59px,#0900c7 62px,#3d006d 68px,#430067 155px,#320078 156px,#1000a8 157px,#0300e2 158px,#0000f8 159px,#0300e7 173px,#0600d3 174px,#12009e 175px,#330077 176px,#430067 178px,#420068 231px)"></i><i style="left:99px;width:2px;background:linear-gradient(#ff1e00 0,#ff2800 1px,#ff8f00 2px,#ff8900 3px,#ff2b00 4px,#ff3900 5px,#ff7d00 6px,#ffa500 7px,#ff7100 9px,#ffad00 10px,#fcce00 11px,#fad500 12px,#93dd00 13px,#00945c 14px,#000fef 15px,#0003f8 17px,#001fe4 19px,#0042cb 20px,#00925f 21px,#49cb00 22px,#95de00 23px,#5dd000 24px,#07a43b 25px,#005fa6 26px,#0037d3 27px,#000bf2 29px,#0500da 31px,#190091 33px,#3b006f 36px,#2b0084 39px,#080bc8 41px,#0400dd 45px,#0100f2 46px,#002bdb 48px,#000cf1 49px,#0200ee 51px,#0100f2 55px,#0f00ac 59px,#220088 61px,#3e006c 65px,#2e007c 80px,#1f008b 93px,#430067 108px,#420068 155px,#390071 156px,#160095 157px,#0600d2 158px,#0200eb 159px,#0200ea 173px,#0600d3 174px,#13009c 175px,#340076 176px,#430067 178px,#410069 231px)"></i><i style="left:101px;width:2px;background:linear-gradient(#ff1c00 0,#ff2500 1px,#ff8800 2px,#ff8700 3px,#ff3000 4px,#ff3d00 5px,#ff8000 6px,#ffa800 7px,#ff7100 9px,#ffaa00 10px,#fbd100 11px,#f8e000 12px,#85da00 13px,#049d4a 14px,#002bdb 15px,#0010ee 16px,#001be7 19px,#0031d7 20px,#006c94 21px,#0db11e 22px,#31c403 23px,#0aa92f 24px,#0056af 25px,#0018e9 26px,#0300e4 28px,#1500a7 30px,#1d0098 31px,#14009e 33px,#40006a 39px,#0d00b6 45px,#0200ee 47px,#0100f3 48px,#220097 51px,#29008a 52px,#270093 53px,#0902ca 55px,#0a01c9 57px,#200099 59px,#1a0099 60px,#0300e3 62px,#14009a 65px,#3b006f 67px,#390071 86px,#430067 155px,#390071 156px,#190091 157px,#0900c4 158px,#0400df 159px,#0100f6 171px,#0100f0 173px,#0400db 174px,#1100a2 175px,#320078 176px,#430067 178px,#390071 216px,#360074 231px)"></i><i style="left:103px;width:2px;background:linear-gradient(#ff1c00 0,#ff2400 1px,#ff8100 2px,#ff8600 3px,#ff3500 4px,#ff3f00 5px,#ff8100 6px,#ffaa00 7px,#ff9800 8px,#ff7100 9px,#fbd400 11px,#f6ec00 12px,#73d600 13px,#049f46 14px,#0031d7 15px,#0006f5 16px,#0106f2 19px,#0018e9 20px,#004fbb 21px,#05a044 22px,#14bc06 23px,#049e48 24px,#0046c6 25px,#000af3 26px,#0700cc 28px,#150098 29px,#310079 30px,#3e006c 31px,#1d008f 35px,#0800c9 39px,#0900cb 44px,#0201eb 47px,#0200ea 48px,#0f00ad 49px,#3f006b 50px,#50005a 51px,#330077 59px,#13009c 61px,#1000aa 62px,#370073 68px,#420068 155px,#310079 156px,#1000a6 157px,#0400de 158px,#0100f1 159px,#0100f0 173px,#0400dd 174px,#1000a6 175px,#30007a 176px,#3f006b 178px,#430067 231px)"></i><i style="left:105px;width:2px;background:linear-gradient(#ff1c00 0,#ff2300 1px,#ff7b00 2px,#ff8600 3px,#ff3a00 4px,#ff4000 5px,#ff8200 6px,#ffac00 7px,#ff9b00 8px,#ff7100 9px,#fad500 11px,#f2ef00 12px,#78d700 13px,#0bac29 14px,#0046c1 15px,#0115e3 16px,#002fd5 20px,#0048be 21px,#006d93 22px,#007d7d 23px,#0061a3 24px,#0033d6 25px,#0010ee 26px,#0200e9 28px,#1a00a1 32px,#1900a0 35px,#0c00bd 39px,#1500a5 43px,#0207e3 48px,#0212e2 49px,#0817c0 51px,#021ed9 53px,#0a00c5 61px,#1b00a8 66px,#1200b2 72px,#1800ae 78px,#0b00c1 87px,#0f00b7 100px,#220088 105px,#1b009f 111px,#2b007f 117px,#1900ac 130px,#1200ba 135px,#20008c 141px,#2d007d 148px,#280082 154px,#150099 158px,#1400a4 160px,#1e0091 166px,#0b00bb 173px,#310079 181px,#26008c 196px,#2d007d 209px,#380072 231px)"></i><i style="left:107px;width:2px;background:linear-gradient(#ff1d00 0,#ff2300 1px,#ff7500 2px,#ff8600 3px,#ff3e00 4px,#ff4000 5px,#ff8200 6px,#ffaf00 7px,#ff9e00 8px,#ff7200 9px,#fbd300 11px,#f2ef00 12px,#25c200 14px,#008571 15px,#007588 16px,#00728b 19px,#004abf 23px,#0026df 30px,#0045bd 34px,#00718d 40px,#0061a1 44px,#017a7e 47px,#06a23e 50px,#039c4b 52px,#003dc8 56px,#001fe3 58px,#0023e1 62px,#0040cc 64px,#017782 67px,#017389 69px,#0031d7 74px,#0019e8 80px,#0045c8 85px,#026a8e 89px,#005ba1 91px,#0024e1 94px,#000cf1 97px,#020ce3 106px,#0107ee 121px,#0100f3 136px,#0900c7 142px,#0500d7 150px,#15009e 157px,#1200ae 164px,#0306e2 167px,#0025df 169px,#004fb4 171px,#0049bd 173px,#0005f6 176px,#0900c5 181px,#0100f3 195px,#0700cd 201px,#0500de 206px,#0e00af 212px,#17009c 217px,#450065 225px,#480062 231px)"></i><i style="left:109px;width:2px;background:linear-gradient(#ff2000 0,#ff2400 1px,#ff6f00 2px,#ff8700 3px,#ff4100 4px,#ff3f00 5px,#ff8200 6px,#ffb200 7px,#ffa000 8px,#ff7200 9px,#fcce00 11px,#f5ee00 12px,#36c600 14px,#02925b 15px,#0040c8 17px,#0041c5 18px,#005da9 19px,#006998 23px,#004ac1 27px,#0023e1 29px,#00629f 34px,#048867 37px,#028d63 40px,#004db2 51px,#0014eb 57px,#0007f5 61px,#0031d7 64px,#008473 68px,#008079 70px,#002dda 74px,#0101f0 76px,#0900c4 79px,#0002f9 84px,#0051b2 88px,#004bb5 90px,#001fe1 92px,#0400df 95px,#0300e5 98px,#0012ed 101px,#0057b1 106px,#0051b3 110px,#0012ed 115px,#0017e9 118px,#003ad0 122px,#0011ee 131px,#0026df 138px,#0001f6 141px,#0e00b2 145px,#0800cc 148px,#020ae2 151px,#0300e2 157px,#0a00c1 162px,#0105ec 167px,#0037cd 171px,#0023e1 175px,#0201ea 179px,#0800c8 183px,#0500db 191px,#0b00be 198px,#0400e0 203px,#0b00bf 207px,#1f008b 210px,#190091 213px,#0500d9 217px,#0307e0 222px,#051cc8 231px)"></i><i style="left:111px;width:2px;background:linear-gradient(#ff2500 0,#ff2600 1px,#ff6a00 2px,#ff8800 3px,#ff4300 4px,#ff3c00 5px,#ff8200 6px,#ffb400 7px,#ffa200 8px,#ff7300 9px,#f7e800 12px,#b2e300 13px,#46cb00 14px,#028969 15px,#004cb9 16px,#0038d0 17px,#0037d3 22px,#0012ea 31px,#0029dd 38px,#0037ce 43px,#0049be 47px,#002bdb 53px,#002ed9 57px,#0000fa 62px,#001be5 71px,#0200ed 74px,#0e00b1 77px,#0e00b2 79px,#0101f0 83px,#0206e7 88px,#0b00bd 92px,#1200a0 95px,#0c00b8 99px,#0600d5 103px,#080fc6 109px,#0400df 114px,#0400e0 117px,#0007f3 120px,#0201eb 124px,#1100aa 128px,#20008a 136px,#18009e 143px,#1100b6 147px,#020ce2 151px,#0200ed 154px,#0d00b3 159px,#0600d5 166px,#0800cc 174px,#0304e5 179px,#0800ce 188px,#2c0085 195px,#1f009e 198px,#0a00c2 201px,#0e00b0 204px,#3c006e 212px,#2e007e 218px,#1000c2 226px,#0c00c0 231px)"></i><i style="left:113px;width:2px;background:linear-gradient(#ff2c00 0,#ff2900 1px,#ff6600 2px,#ff8900 3px,#ff4400 4px,#ff3900 5px,#ff8200 6px,#ffb700 7px,#ffa400 8px,#ff7400 9px,#f8e100 12px,#d8ea00 13px,#8fdc00 14px,#12b90a 15px,#008670 16px,#0055b4 17px,#0024df 19px,#0202ea 22px,#1000a6 26px,#0f00ab 28px,#0100f2 32px,#0007f2 36px,#0600d7 39px,#1000a9 43px,#0800c9 46px,#0000f9 50px,#0201ee 57px,#0300e5 73px,#0f00ad 79px,#12009d 86px,#1a0095 90px,#0200e9 96px,#0400e0 99px,#210089 105px,#220088 111px,#190097 115px,#0200ef 120px,#0100f1 124px,#1100a2 133px,#1100a2 139px,#260084 146px,#170098 149px,#0500d6 152px,#0800cd 155px,#210089 160px,#220088 170px,#430067 176px,#290081 183px,#480062 192px,#3a0070 202px,#21008a 208px,#430067 214px,#2d007d 231px)"></i><i style="left:115px;width:2px;background:linear-gradient(#ff3400 0,#ff2c00 1px,#ff8a00 3px,#ff4400 4px,#ff3500 5px,#ff8100 6px,#ffba00 7px,#ffa600 8px,#ff7500 9px,#f9db00 12px,#f2ee00 13px,#b5e400 14px,#28c300 15px,#008176 16px,#0033d6 17px,#0300e6 18px,#0f00bd 19px,#0300e5 20px,#0300e5 26px,#0b00be 31px,#0100f1 37px,#0214de 43px,#0034d2 48px,#0108ec 52px,#0106ed 57px,#001ae7 71px,#0102f5 79px,#0400e0 83px,#0f00aa 87px,#0400dd 94px,#0600d2 101px,#210095 112px,#1b00a0 116px,#0400e0 122px,#0600d2 129px,#0f00ac 134px,#0a00c2 144px,#220088 156px,#320078 160px,#1000a8 164px,#0e00b0 168px,#270083 172px,#410069 176px,#2c007e 183px,#22008d 190px,#460064 201px,#430067 215px,#1c00a1 221px,#0700d6 231px)"></i><i style="left:117px;width:2px;background:linear-gradient(#ff3d00 0,#ff3100 1px,#ff8a00 3px,#ff4200 4px,#ff3100 5px,#ff8100 6px,#ffbc00 7px,#ffa700 8px,#ff7600 9px,#ffbc00 11px,#f8e200 13px,#e2ec00 14px,#63d200 15px,#069d45 16px,#004cba 17px,#0015eb 18px,#0018e9 20px,#0047c2 24px,#0043c8 25px,#001ce6 26px,#0600d6 27px,#0c00b9 28px,#0300e4 30px,#0300e3 34px,#0015eb 37px,#007e7c 44px,#018373 47px,#0025df 53px,#0017ea 58px,#0039d1 62px,#0100f5 67px,#0003f8 71px,#0024e0 75px,#0108ec 82px,#0600d6 89px,#0700d4 102px,#0100f5 107px,#0600d7 110px,#0e00af 113px,#0b00bc 126px,#21008d 136px,#22008b 145px,#1300a3 152px,#360074 159px,#1d0092 166px,#1b0094 174px,#1900a6 179px,#290081 186px,#3f006b 193px,#3e006c 199px,#30007a 204px,#19009d 211px,#150096 216px,#1c0096 220px,#0d00b9 225px,#260090 231px)"></i><i style="left:119px;width:2px;background:linear-gradient(#ff4600 0,#ff3600 1px,#ff8a00 3px,#ff3f00 4px,#ff2d00 5px,#ff8200 6px,#ffbe00 7px,#ffa800 8px,#ff7700 9px,#ffb800 11px,#f9dd00 14px,#cee900 15px,#6ed400 16px,#27ae31 17px,#067d71 18px,#00639a 19px,#01718a 21px,#006a97 22px,#0033d6 23px,#000fef 24px,#015f99 26px,#0025df 30px,#001ce6 33px,#003fc7 36px,#019160 41px,#20c100 44px,#7cd800 47px,#91dc00 49px,#79d700 51px,#33c502 53px,#08a734 55px,#018e64 57px,#005ba7 64px,#0041bc 72px,#058568 81px,#007e7b 83px,#0034d5 87px,#0003f6 93px,#0400e1 98px,#0102f1 105px,#0426c4 114px,#0213e1 118px,#0400e1 121px,#1400b0 129px,#0900c5 136px,#1000af 140px,#0306e4 150px,#0215dc 154px,#0900c9 157px,#2f007b 161px,#470063 168px,#3e006c 171px,#0c00b9 175px,#0a00c4 178px,#2a0080 184px,#2c007e 189px,#15009e 194px,#230089 199px,#0e00b1 206px,#1300a4 212px,#260084 217px,#1200a1 225px,#290081 231px)"></i><i style="left:121px;width:2px;background:linear-gradient(#ff5000 0,#ff3c00 1px,#ff8900 3px,#ff3a00 4px,#ff2800 5px,#ff8200 6px,#ffbf00 7px,#ffa900 8px,#ff7900 9px,#ffa200 10px,#fec300 12px,#fbd200 16px,#d2e100 18px,#a2e000 19px,#56ce00 20px,#83cb0d 21px,#7ebe26 22px,#24806a 23px,#2c915b 24px,#dce800 25px,#b3e400 27px,#37ac39 28px,#1f9f43 29px,#09a437 30px,#048b62 31px,#00925f 33px,#008e65 35px,#19bc07 39px,#a8e000 43px,#e5d000 47px,#e3d600 50px,#a8e000 53px,#3ac013 56px,#0aab2b 58px,#019855 61px,#049b4b 65px,#0aa92e 69px,#08a635 72px,#2fc500 77px,#19bf01 79px,#019659 83px,#079451 86px,#12964c 89px,#067876 92px,#001ce6 97px,#0009f3 101px,#0032d6 105px,#0048c2 106px,#028b65 108px,#0aab2b 109px,#5cd000 111px,#a1e000 113px,#a9e200 114px,#9bdf00 115px,#76d700 116px,#3bc800 117px,#0daf21 118px,#0059ad 120px,#0033d6 121px,#0107ed 123px,#0700cf 125px,#1900a2 128px,#0f00b5 132px,#0300e5 135px,#0113e6 140px,#0011ee 144px,#0049c3 151px,#002ed9 154px,#0003f6 156px,#0f00ab 160px,#1a0095 165px,#360074 169px,#1b0091 173px,#0e00b4 177px,#30007a 187px,#13009e 197px,#0e00b6 202px,#0a00c2 207px,#0700d1 212px,#0900c7 218px,#0500d5 222px,#22008f 231px)"></i><i style="left:123px;width:2px;background:linear-gradient(#ff5a00 0,#ff4200 1px,#ff5800 2px,#ff8800 3px,#ff3400 4px,#ff2300 5px,#ff8300 6px,#ffc000 7px,#ffa900 8px,#ff7a00 9px,#ffa400 10px,#ffb800 12px,#ff9c00 16px,#ffba00 21px,#ffa800 23px,#f0cf00 24px,#edcf00 25px,#ff9700 26px,#ff9f00 27px,#e9bb00 28px,#c0bf00 29px,#b4ca00 30px,#80be1f 31px,#6abe2f 32px,#78d500 33px,#5ed000 35px,#71d500 37px,#a2e000 39px,#ace200 40px,#d6e800 41px,#fbd200 42px,#ff6f00 46px,#ff6300 49px,#ff9e00 52px,#fad900 54px,#e8ee00 55px,#45ca00 58px,#29c008 59px,#1fb61c 61px,#51c418 64px,#83d008 66px,#c2aa00 71px,#cdcb00 75px,#9ede00 78px,#78d500 80px,#7fd700 82px,#c1cf00 87px,#bcd500 91px,#a5de00 93px,#59cd05 95px,#16a636 97px,#027584 99px,#005ea3 101px,#00629e 102px,#017487 103px,#1bb127 105px,#4bcb01 106px,#d0e300 108px,#efdb00 109px,#fdc000 112px,#fad700 114px,#cce300 116px,#4ec80c 119px,#0da337 121px,#005ca9 124px,#0041c5 127px,#0036c7 133px,#0e885d 138px,#219651 142px,#088f55 145px,#00708f 150px,#0043c4 154px,#0016e7 157px,#0700d2 163px,#1900a5 168px,#0e00be 173px,#020ee0 176px,#0022e0 178px,#003fc2 180px,#0034cd 182px,#020de4 184px,#0600d6 185px,#1c008f 187px,#30007a 190px,#1500a1 194px,#0800ce 197px,#0a0dc0 201px,#1e00a2 208px,#2d007d 212px,#1c0095 217px,#19009c 220px,#3b006f 225px,#3d006d 231px)"></i><i style="left:125px;width:2px;background:linear-gradient(#ff6300 0,#ff4800 1px,#ff5700 2px,#ff8600 3px,#ff2d00 4px,#ff1f00 5px,#ff8400 6px,#ffc000 7px,#ffa900 8px,#ff7b00 9px,#ffa700 10px,#ffad00 12px,#ff8500 17px,#ff9e00 20px,#ff8400 22px,#ff9900 23px,#30c500 24px,#14b711 25px,#fad600 26px,#ff5400 27px,#f8e200 32px,#d6e700 34px,#84da00 35px,#006d93 36px,#048d5f 37px,#85d900 38px,#c9d900 39px,#97de00 41px,#d7ea00 42px,#f7e500 43px,#ff6f00 48px,#ff7200 50px,#f8df00 54px,#eeef00 55px,#aae200 58px,#a6e100 61px,#d2e900 63px,#f5ee00 64px,#ff5600 69px,#ff4300 71px,#ff7a00 74px,#fccd00 77px,#f7e700 80px,#ff9c00 88px,#ffaa00 91px,#efea00 95px,#29c302 99px,#0cae23 101px,#0cae23 102px,#26c300 104px,#b5e400 107px,#d4e600 108px,#f0dc00 113px,#e4eb00 117px,#ade200 119px,#28c300 122px,#0aab2c 124px,#0aaa2e 126px,#3bc801 131px,#3bc800 135px,#4fcd00 138px,#1fb719 143px,#08a636 145px,#039852 147px,#079c45 149px,#45c314 154px,#40b928 157px,#0a9648 160px,#00669d 163px,#0037d3 167px,#0036d3 170px,#007e7b 176px,#00728c 180px,#003fcd 184px,#0014eb 186px,#0600da 188px,#0e00b9 190px,#0b00c0 192px,#030edb 194px,#0031ce 196px,#005d9e 198px,#00649d 201px,#0001f8 208px,#0300e4 212px,#0113e4 217px,#0135c3 222px,#140eb4 226px,#2400a6 228px,#270097 231px)"></i><i style="left:127px;width:2px;background:linear-gradient(#ff6c00 0,#ff4d00 1px,#ff5700 2px,#ff8300 3px,#ff2500 4px,#ff1c00 5px,#ff8600 6px,#ffc000 7px,#ffa900 8px,#ff7d00 9px,#ffaa00 10px,#ff7f00 17px,#ff8800 23px,#bfe000 24px,#bee000 25px,#ff8d00 26px,#ff5a00 27px,#ffa600 31px,#fad800 34px,#f1ec00 38px,#f6e200 41px,#ede600 43px,#f9da00 44px,#ff9c00 46px,#ff8400 48px,#fd9d00 50px,#fab800 51px,#c9d300 53px,#cbe000 54px,#bce500 55px,#99dc00 56px,#ade100 58px,#f0df00 61px,#ff7200 66px,#ff4500 69px,#ff5f00 71px,#fcc800 74px,#b6df00 76px,#67ce08 78px,#59c811 80px,#73d400 82px,#e3ec00 85px,#fad500 87px,#ffba00 90px,#f7e500 97px,#e4ed00 98px,#6ed400 100px,#27c300 101px,#0aab2c 102px,#02945a 103px,#008373 104px,#038271 106px,#1aaf2a 110px,#20b226 114px,#039d4b 120px,#0bac29 123px,#79d600 128px,#bee500 132px,#c3e700 134px,#a1e000 136px,#29c106 139px,#08a03f 142px,#036f86 147px,#07717b 151px,#19954f 154px,#3cba24 157px,#29b426 159px,#069a4a 161px,#0040cc 166px,#0014ec 168px,#0301e7 170px,#0b00c5 173px,#0600d6 180px,#0005f6 185px,#000af3 191px,#004fbb 194px,#038868 196px,#0c9c41 198px,#09934f 200px,#0052b4 203px,#001ee4 205px,#0107ee 207px,#0500dc 212px,#0016e9 216px,#015a9c 222px,#004dae 225px,#0126d5 227px,#0a03c7 231px)"></i><i style="left:129px;width:2px;background:linear-gradient(#ff7300 0,#ff5300 1px,#ff5700 2px,#ff7f00 3px,#ff1d00 4px,#fe1b00 5px,#ff8700 6px,#ffc000 7px,#ffa900 8px,#ff7f00 9px,#ffae00 10px,#ff8400 16px,#ff7f00 19px,#fccb00 24px,#fbcd00 27px,#c8c600 28px,#c6c600 29px,#fdc700 30px,#fdc300 32px,#fbd200 38px,#febe00 40px,#f7e500 43px,#9edc00 46px,#73cf0b 47px,#54c711 49px,#1fc002 51px,#8fdc00 54px,#97de00 55px,#48c905 58px,#44c904 59px,#74d600 62px,#7bd600 63px,#e4c900 66px,#fdb000 67px,#ff9000 68px,#ff8f00 70px,#fdc000 72px,#efe100 73px,#b0e300 74px,#54ce00 75px,#11b514 76px,#049c4c 77px,#008c67 78px,#039754 80px,#1dbc0c 82px,#b4e300 85px,#d6d300 87px,#decf00 91px,#d4e400 96px,#c6e700 97px,#3fc703 100px,#06a33d 102px,#008177 104px,#003ec7 113px,#004eb6 117px,#017e78 121px,#0b9f3c 124px,#4fc318 130px,#3dba24 133px,#129c43 135px,#0052b0 138px,#0022e1 140px,#0604d7 143px,#1a00ab 147px,#1000b9 152px,#0212de 156px,#0114e5 164px,#0200ef 167px,#1000a9 175px,#350075 179px,#2a0080 182px,#0200e9 187px,#0200ea 190px,#1100bd 194px,#0b00c1 200px,#0f00bb 204px,#2c007e 209px,#270083 213px,#1000b0 217px,#1c0096 220px,#380072 224px,#470063 231px)"></i><i style="left:131px;width:2px;background:linear-gradient(#ff7900 0,#ff5800 1px,#ff5700 2px,#ff7c00 3px,#fe1900 4px,#fe1900 5px,#ff8900 6px,#ffbf00 7px,#ff8000 9px,#ffb300 10px,#ff9100 14px,#ff8800 19px,#fbd400 21px,#ffb000 23px,#feb300 26px,#fbc100 27px,#9bbc00 28px,#38a346 29px,#31c10c 30px,#aede00 31px,#9eda00 32px,#a6de00 34px,#f3e700 36px,#fdc600 38px,#fbd000 40px,#c1e300 42px,#4dcc02 44px,#23b71a 45px,#07994a 46px,#0029dc 47px,#0027de 48px,#007687 49px,#039b4d 50px,#10b613 52px,#39c700 54px,#a3e000 56px,#c3e600 57px,#d4ea00 61px,#8fdc00 64px,#abe200 65px,#f2ec00 66px,#ff9300 68px,#ff8800 69px,#ffa200 70px,#fbd200 71px,#cee900 72px,#6dd400 73px,#23bd0c 74px,#07a33c 75px,#0060a4 77px,#0045c6 78px,#0036d3 79px,#04787d 83px,#047f73 85px,#037186 89px,#088169 91px,#2cb32d 95px,#0db01f 98px,#005da9 103px,#0041cc 105px,#002fd8 110px,#0037d0 115px,#0010ef 121px,#003fcd 134px,#011fdd 141px,#0d1bb2 145px,#1000c2 153px,#0300e2 166px,#1200a9 178px,#0f00ad 183px,#0e00b0 188px,#0f00ab 191px,#20008a 197px,#1f008b 203px,#3d006d 211px,#160099 215px,#0d00b4 217px,#1a0095 220px,#3b006f 223px,#430067 231px)"></i><i style="left:133px;width:2px;background:linear-gradient(#ff7f00 0,#ff5d00 1px,#ff5900 2px,#ff7800 3px,#fd1500 4px,#fe1800 5px,#ff8a00 6px,#ffbe00 7px,#ff8200 9px,#ffb700 10px,#ff9400 14px,#ff7000 21px,#ff9600 24px,#ff6200 27px,#ff6600 28px,#fad600 30px,#a7e100 31px,#3bc800 32px,#14bd02 33px,#2bc400 34px,#96dd00 36px,#73d302 38px,#78d600 39px,#42be1d 40px,#12944d 41px,#03797d 42px,#00649f 44px,#00689a 46px,#0051b6 47px,#005aa9 48px,#079352 50px,#0fa437 51px,#18b715 54px,#1dbe05 55px,#43ca00 56px,#90dc00 57px,#c5e700 58px,#f3ee00 60px,#f7e600 62px,#daeb00 65px,#f9dd00 67px,#fdbf00 69px,#f8e100 71px,#cae800 72px,#22bf07 74px,#05a044 75px,#0053b6 77px,#0056a8 79px,#07826a 82px,#059454 87px,#038172 90px,#0051af 94px,#005da6 97px,#03846f 101px,#00896b 112px,#0057b0 118px,#0048c5 121px,#00896b 126px,#007488 134px,#005ca7 139px,#038867 144px,#006e90 146px,#0032d6 148px,#0017e9 149px,#0500df 155px,#0200ee 166px,#0800cb 175px,#0600d2 180px,#2a0080 186px,#430067 198px,#270083 205px,#440066 212px,#280082 220px,#450065 229px,#450065 231px)"></i><i style="left:135px;width:2px;background:linear-gradient(#ff8300 0,#ff6100 1px,#ff5b00 2px,#ff7500 3px,#fd1100 4px,#fe1700 5px,#ff8c00 6px,#ffbc00 7px,#ff8400 9px,#ffbc00 10px,#ff6e00 18px,#ff6100 21px,#ff9c00 26px,#ff7800 27px,#ff6e00 28px,#ff8400 29px,#ffc000 30px,#d5ea00 31px,#2f7276 32px,#12a03d 33px,#28c300 34px,#4fcd00 36px,#099848 37px,#0021e3 38px,#0041cb 39px,#00679a 40px,#00669c 41px,#0bac2a 45px,#21bd0a 46px,#afe300 49px,#cbe800 50px,#d4ea00 51px,#c7e700 52px,#a5e100 53px,#6dd400 54px,#22c100 55px,#07a43b 56px,#27c300 57px,#68d300 58px,#e3e700 61px,#f8e300 62px,#ede900 64px,#9fdf00 66px,#9bde00 67px,#c5e700 69px,#bbe500 70px,#87da00 71px,#3bc800 72px,#10b612 73px,#07a33c 74px,#039457 76px,#12b21d 78px,#32c502 79px,#89db00 81px,#97de00 82px,#89db00 83px,#61d100 84px,#26c300 85px,#09a832 86px,#0061a3 88px,#0047b5 91px,#0057a8 102px,#0048c5 110px,#0053b2 114px,#0038d2 119px,#002ed9 123px,#0119e3 126px,#0400e1 147px,#1a0090 151px,#170093 154px,#0800c8 157px,#0b00be 160px,#2a0080 164px,#1c0095 167px,#0a00c3 170px,#0800d2 178px,#0800cd 181px,#2a0080 185px,#410069 189px,#260091 200px,#1300a5 208px,#360074 214px,#250085 222px,#480062 228px,#480062 231px)"></i><i style="left:137px;width:2px;background:linear-gradient(#ff8700 0,#ff6400 1px,#ff5d00 2px,#ff7200 3px,#fc0d00 4px,#fe1600 5px,#ff8d00 6px,#ffb900 7px,#ff8600 9px,#ffc000 10px,#ff8c00 15px,#ff6800 17px,#ff8c00 19px,#ff5b00 21px,#ff8e00 24px,#9ddf00 25px,#089c43 26px,#9dde00 27px,#ffae00 28px,#feb800 29px,#fad800 30px,#53ce00 31px,#004fa8 32px,#09a831 33px,#93dd00 34px,#b4e400 35px,#b0e300 37px,#76d500 38px,#12ba09 39px,#1bb814 40px,#57cd03 41px,#49c70b 43px,#51cc02 44px,#9cde00 46px,#e1de00 48px,#f8d700 49px,#fdab00 52px,#f2c500 55px,#85d800 58px,#32c403 59px,#2dc400 60px,#87da00 62px,#6fd400 65px,#c9e800 68px,#cee900 70px,#a0df00 72px,#33c600 75px,#24c004 76px,#41c900 78px,#c5e700 81px,#d5e500 82px,#bede00 84px,#9cdd00 85px,#63cd0a 86px,#119250 88px,#047382 89px,#004eb2 91px,#005fa3 94px,#048767 98px,#069f43 104px,#028e61 108px,#07a23d 110px,#54cd02 113px,#66cf05 115px,#3eb72c 117px,#068864 119px,#0053b5 121px,#0033d6 123px,#0112e7 127px,#001ee1 133px,#0034c7 137px,#0604d8 144px,#340076 149px,#2c007e 153px,#1a0091 157px,#260084 162px,#0e00af 167px,#250085 171px,#420068 175px,#280082 179px,#0d00b3 183px,#1c008e 190px,#0b00be 198px,#1e008d 203px,#190091 208px,#2c007e 213px,#0900c6 220px,#0704d1 227px,#0a0ebf 231px)"></i><i style="left:139px;width:2px;background:linear-gradient(#ff8a00 0,#ff6700 1px,#ff6000 2px,#ff6f00 3px,#fc0b00 4px,#fe1600 5px,#ff8e00 6px,#ffb600 7px,#ff8800 9px,#fec400 10px,#ff9500 15px,#ff6f00 17px,#ff5e00 20px,#fe9100 21px,#85a014 22px,#79a851 23px,#83d900 24px,#a6b800 25px,#80a52e 26px,#fad900 27px,#fccf00 30px,#f4d500 31px,#81bd1a 32px,#558e68 33px,#5a9564 34px,#7fb625 35px,#afb400 36px,#d8b800 37px,#c5c000 38px,#78bf32 39px,#238567 40px,#4ac905 41px,#bfe600 42px,#91dd00 44px,#97de00 45px,#b2e300 46px,#dfec00 47px,#f9dd00 48px,#ff6b00 51px,#ff4e00 53px,#ff7400 55px,#fbd400 58px,#c7e700 60px,#cfe900 61px,#bee500 64px,#f0e500 66px,#feb800 70px,#eae300 76px,#fbca00 79px,#ff8300 82px,#ff7c00 84px,#fbbf00 87px,#ccde00 89px,#5fd100 92px,#4ccc00 94px,#7dd700 97px,#b8e000 99px,#c9cb00 102px,#a4dd00 105px,#43c803 107px,#29be0c 108px,#24be0a 109px,#3ec900 110px,#cfe900 112px,#f9dd00 113px,#fead00 115px,#feb200 116px,#fbca00 117px,#dfdf00 118px,#9cde00 119px,#46c60d 120px,#15a537 121px,#068863 122px,#037a7a 123px,#078960 125px,#0a9945 126px,#37b133 132px,#52c90a 135px,#36c505 138px,#28bd0f 141px,#61cb0e 145px,#5dad44 148px,#2a8567 151px,#087871 153px,#0048b8 158px,#0052a6 161px,#0d746e 164px,#086f77 167px,#0125d8 171px,#050cd7 176px,#1600b0 180px,#2a0080 184px,#230087 188px,#0309e1 192px,#0044b6 196px,#021fd6 199px,#0900ca 201px,#1b009a 204px,#210095 211px,#3a0070 217px,#180092 222px,#0402e3 225px,#0015eb 229px,#000cf2 231px)"></i><i style="left:141px;width:2px;background:linear-gradient(#ff8d00 0,#ff6a00 1px,#ff6d00 3px,#fb0900 4px,#fe1600 5px,#ff9000 6px,#ffb300 7px,#ff8900 9px,#fdc700 10px,#ffa400 15px,#ff7d00 18px,#ff7800 20px,#ff9600 21px,#bdb100 22px,#d7bb00 23px,#ff9d00 24px,#fdca00 29px,#ffb700 32px,#ff4a00 37px,#ff5100 39px,#ff8d00 40px,#fdb500 41px,#ffbe00 42px,#f3eb00 44px,#f6eb00 46px,#ffb700 48px,#ff5300 51px,#ff4b00 53px,#ff9400 56px,#f8df00 59px,#f0eb00 61px,#fad700 64px,#ff7600 67px,#ff5600 69px,#ff6400 71px,#fdc900 75px,#f9da00 77px,#fec500 79px,#ff6900 83px,#ff6f00 85px,#f8e000 89px,#daeb00 90px,#7dd700 92px,#67d200 93px,#65d200 94px,#98dd00 96px,#e5e100 98px,#fbd400 99px,#ffae00 101px,#fec000 103px,#f9da00 104px,#dfea00 105px,#6ad300 107px,#4bcc00 108px,#4bcc00 109px,#6ad300 110px,#d7e800 112px,#f6de00 113px,#feb600 115px,#fec000 117px,#f7e500 119px,#c3e600 121px,#9ade00 123px,#9adf00 125px,#c6e700 127px,#e8ed00 128px,#fcb900 131px,#feaf00 133px,#f4ed00 136px,#5cd000 139px,#38c700 140px,#2bbd12 142px,#4fcd00 144px,#ade200 146px,#cee900 147px,#daeb00 148px,#cbe800 149px,#a4e100 150px,#25bf08 152px,#07a43c 153px,#008276 154px,#00659e 155px,#0057b1 156px,#005aad 157px,#006e91 158px,#009161 159px,#0eb11c 160px,#42c900 161px,#85da00 162px,#b0e300 163px,#c4e700 164px,#bde500 165px,#9ddf00 166px,#65d200 167px,#2cbd12 168px,#089e40 169px,#017a80 170px,#0058ad 171px,#003ccf 173px,#0050bb 175px,#027f77 178px,#027c7a 179px,#0055ab 181px,#0118e4 183px,#0700d2 186px,#0500d9 188px,#0007f4 190px,#0046c7 192px,#008571 194px,#03925a 196px,#007e7b 198px,#0030d8 201px,#0106f1 203px,#010aec 207px,#002cd7 211px,#0400e1 216px,#0a00c0 219px,#0600d5 221px,#0007f4 223px,#0025e0 225px,#0203e7 229px,#0600d8 231px)"></i><i style="left:143px;width:2px;background:linear-gradient(#ff9000 0,#ff6c00 1px,#ff6b00 3px,#fb0700 4px,#fe1700 5px,#ff9100 6px,#ffb100 7px,#ff8a00 9px,#fdca00 10px,#ffb600 13px,#ffb300 15px,#ff9800 19px,#ffaf00 25px,#fdca00 29px,#ffb000 32px,#ff7b00 35px,#ff7e00 37px,#ff9600 38px,#e9bd00 39px,#ffaf00 40px,#f7e600 43px,#e4e800 46px,#fccf00 49px,#ff9f00 53px,#ffb700 56px,#f0e800 59px,#d1e900 60px,#f6e900 62px,#ffba00 64px,#ff3c00 68px,#ff3700 70px,#ff9300 73px,#fbd100 75px,#f4e800 77px,#f9da00 79px,#ff6800 83px,#ff5700 85px,#ff7f00 87px,#fad700 90px,#d8e500 93px,#f2e200 95px,#ff8700 99px,#ff8100 101px,#f1d900 104px,#c9e500 105px,#4dcc00 107px,#2cc206 108px,#28c301 110px,#7ed800 112px,#e2e700 114px,#f8df00 115px,#fccd00 117px,#ecec00 120px,#54ce00 123px,#32c405 124px,#35c407 126px,#5bd000 127px,#cde400 129px,#f3d300 131px,#e1d600 133px,#c4df00 134px,#87d900 135px,#43c312 136px,#14a538 137px,#00639d 139px,#0036d1 141px,#002bdb 143px,#0036d1 144px,#026d8c 146px,#0d8c58 147px,#4cb830 149px,#57c21e 151px,#23a937 153px,#078b5d 154px,#006699 155px,#0035d1 157px,#0040c1 159px,#096e75 162px,#0d6579 164px,#0325c9 168px,#0606d6 172px,#0028d9 176px,#037286 179px,#037c78 180px,#006d92 182px,#0044c9 184px,#0017ea 189px,#0130c9 197px,#0512cf 201px,#0c00c2 205px,#030bdd 207px,#011be0 208px,#017882 211px,#028273 212px,#007c7e 213px,#0026df 216px,#0009f4 217px,#0b00c2 222px,#1800a9 226px,#2a0080 231px)"></i><i style="left:145px;width:2px;background:linear-gradient(#ff9200 0,#ff6d00 1px,#ff6a00 3px,#fb0700 4px,#fe1800 5px,#ff9200 6px,#ffad00 7px,#ff8a00 9px,#fccd00 10px,#ffb800 13px,#ffbc00 19px,#fad400 20px,#feb800 21px,#ffb800 26px,#ffbe00 29px,#ffa400 31px,#fec200 34px,#ffaf00 37px,#d9e300 38px,#7bd800 39px,#d6ea00 40px,#dce500 41px,#9ede00 43px,#92dc00 44px,#b2e300 46px,#dcdd00 48px,#83c60e 50px,#8cc600 51px,#fad100 52px,#fbd400 54px,#d7e000 56px,#bce500 57px,#74d400 58px,#18b31f 59px,#22c003 60px,#4dcc00 61px,#52cd00 62px,#76d600 63px,#c5e700 64px,#f6e200 65px,#ffab00 67px,#ffa200 68px,#fcc400 70px,#efdc00 71px,#cce500 72px,#5ed000 74px,#39c409 75px,#1cb321 77px,#3ac012 80px,#7bd600 83px,#8edb00 86px,#7dd800 88px,#13bc05 92px,#1cbe06 94px,#6bd400 96px,#c1e600 98px,#cce300 100px,#bae500 101px,#43c805 103px,#11ad2a 104px,#006998 106px,#0058ad 107px,#0062a1 109px,#13b025 113px,#43bd21 117px,#30ab39 120px,#0a9945 122px,#00886e 124px,#008e66 127px,#09944d 130px,#046988 133px,#0031d0 135px,#020ce5 137px,#0900ca 142px,#030fdd 149px,#0010ec 160px,#0300e7 162px,#1e008f 166px,#1f008b 172px,#13009c 175px,#0200ec 179px,#0018e8 183px,#0400e0 188px,#0b00bc 197px,#380072 202px,#3b006f 206px,#1000b8 211px,#0800ce 220px,#1d00a6 227px,#28008d 231px)"></i><i style="left:147px;width:2px;background:linear-gradient(#ff9300 0,#ff6f00 1px,#ff6a00 3px,#fb0800 4px,#fe1a00 5px,#ff9200 6px,#ffaa00 7px,#ff8f00 8px,#ff8a00 9px,#fccf00 10px,#ffb600 13px,#ffb900 22px,#ffb100 25px,#8dbf00 26px,#3ebb22 27px,#fccd00 28px,#fdc600 32px,#f9dd00 35px,#f9da00 37px,#9bcd00 38px,#66d200 39px,#7fd800 40px,#37ba21 41px,#15a834 42px,#048867 44px,#03905d 45px,#0cae24 47px,#1ab618 48px,#08a734 49px,#0058ad 50px,#0044be 51px,#0b7c69 52px,#59a54d 53px,#5ac31f 54px,#51cc03 55px,#0aa830 57px,#09a832 58px,#18bf00 59px,#3cc800 61px,#3ac700 62px,#25c200 63px,#33c600 64px,#d1e100 67px,#f8e200 68px,#f9dc00 70px,#d8e900 72px,#9cdf00 73px,#49cb00 74px,#0eb11d 75px,#029954 76px,#009160 77px,#0db01e 79px,#15b810 80px,#039c4d 82px,#06984c 83px,#0aa830 84px,#30b626 87px,#27a938 90px,#0a8e53 92px,#067b74 93px,#056b84 96px,#087076 100px,#0058a1 103px,#0023df 106px,#0418cf 111px,#0021e2 118px,#0018e9 122px,#0043c7 126px,#0028de 129px,#0002f8 133px,#0300e4 144px,#0200e9 149px,#0900c8 155px,#13009b 159px,#1000c0 166px,#1e0096 173px,#220088 176px,#1100a2 179px,#0800ca 182px,#0f00ad 185px,#2e007c 188px,#2d007d 194px,#0f00ab 201px,#1f008b 208px,#0f00ab 218px,#1900a6 222px,#0a00c5 225px,#0103f3 228px,#000df1 231px)"></i><i style="left:149px;width:2px;background:linear-gradient(#ff9500 0,#ff7000 1px,#ff6b00 3px,#fc0a00 4px,#ff1c00 5px,#ff9300 6px,#ffa700 7px,#ff8900 8px,#ff8900 9px,#fbd000 10px,#ffb300 13px,#ffbf00 21px,#ffb700 23px,#fad600 24px,#a7e000 25px,#28bf0b 26px,#91dc00 27px,#fdc800 28px,#f1ec00 30px,#ade200 32px,#c6e700 34px,#eeeb00 35px,#feb800 37px,#ff8b00 38px,#ffa100 39px,#fad400 40px,#b3e300 41px,#3fc50a 42px,#09a536 43px,#039457 44px,#05a142 46px,#029a50 47px,#008375 48px,#002bdb 49px,#150099 50px,#1c008e 51px,#0500de 52px,#011ade 53px,#0019e8 54px,#0026df 55px,#0050b8 56px,#08a734 57px,#10b711 58px,#1ec100 59px,#109848 61px,#20c002 63px,#61d100 65px,#cfe900 67px,#f7e600 68px,#fdc600 70px,#e9e900 72px,#81d900 73px,#15b220 74px,#007b7e 75px,#00669c 76px,#00649e 77px,#007982 78px,#0db01f 80px,#0db020 81px,#007981 83px,#0056b2 84px,#003bd0 86px,#0024e0 89px,#0024e0 94px,#0200ec 98px,#0600d3 103px,#0300e8 108px,#010eeb 113px,#004abe 119px,#0063a0 123px,#001ae7 129px,#001ee5 133px,#002bdb 137px,#0003f8 140px,#0800cc 145px,#1100a3 151px,#0c00b7 157px,#1100b7 164px,#0016ea 170px,#0039cf 173px,#0209e4 177px,#0700cf 183px,#210094 188px,#1c00a5 197px,#0400df 203px,#0700ce 208px,#210089 212px,#3e006c 216px,#210089 226px,#0900c4 231px)"></i><i style="left:151px;width:2px;background:linear-gradient(#ff9600 0,#ff7100 1px,#ff7a00 2px,#ff6c00 3px,#fc0d00 4px,#ff1f00 5px,#ff9300 6px,#ffa400 7px,#ff8300 8px,#ff8700 9px,#fbd100 10px,#ffb300 13px,#fec100 18px,#fad900 19px,#ffc000 20px,#ffb700 23px,#d8ea00 24px,#54ce00 25px,#87b40c 26px,#d1cd00 27px,#fec300 28px,#f7e800 30px,#cee900 31px,#49cb00 33px,#56cf00 34px,#8ada00 35px,#d2e800 36px,#f8e200 37px,#fdb300 38px,#fdb500 39px,#fad500 40px,#d2e900 41px,#21c100 43px,#0fb416 44px,#0fb515 45px,#0f8c59 46px,#0032cb 49px,#042ebb 50px,#022bc8 51px,#0057b1 52px,#005da9 53px,#001ce6 54px,#010ae9 55px,#005ca3 56px,#1bbc0a 57px,#31c500 58px,#29c300 59px,#07a539 60px,#03777f 61px,#037482 62px,#0bad27 63px,#2dc400 64px,#74d600 67px,#cce800 69px,#dbe900 70px,#c2e600 71px,#6ed500 72px,#0caf22 73px,#048b62 74px,#00896b 76px,#0053b6 78px,#00886e 80px,#00945d 81px,#008571 82px,#0043c7 84px,#0007f5 88px,#0400df 93px,#0200eb 99px,#0700d1 104px,#0107ed 107px,#0038cb 112px,#003ece 119px,#0046b9 123px,#0113e3 128px,#0700d1 132px,#0011ec 137px,#0048bf 141px,#0046c0 144px,#0003f8 149px,#0009f4 154px,#0011ee 157px,#0100f4 159px,#200095 165px,#220088 168px,#13009d 170px,#0303e3 173px,#002cda 181px,#0024e0 187px,#0041c7 192px,#0014e9 197px,#0700cf 204px,#250085 210px,#340076 214px,#170099 217px,#0500da 220px,#0400e0 229px,#0503db 231px)"></i><i style="left:153px;width:2px;background:linear-gradient(#ff9600 0,#ff7200 1px,#ff7f00 2px,#ff6d00 3px,#fd1000 4px,#ff2500 5px,#ff9300 6px,#ffa100 7px,#ff7b00 8px,#ff8500 9px,#fbd100 10px,#fccf00 11px,#ffb400 13px,#ffb200 17px,#fec000 24px,#fad400 25px,#ffc000 27px,#f6ec00 30px,#bfe600 31px,#21c100 33px,#08a735 34px,#06964e 35px,#12a13c 36px,#58ca0c 38px,#64d100 39px,#51cd00 40px,#0eb21b 42px,#10b711 43px,#2bc400 44px,#7ed800 45px,#bfe600 46px,#c0e000 47px,#9add00 48px,#59ca0c 49px,#33b725 50px,#029b50 51px,#005fa3 52px,#0f895b 53px,#0dac2a 54px,#31c500 55px,#5bd000 57px,#57cf00 58px,#0fb416 61px,#31c500 63px,#14b711 65px,#0db020 66px,#0eb21c 67px,#2ac300 68px,#82d900 69px,#b8e400 70px,#b2e300 71px,#4bcb01 73px,#2bb525 74px,#169c44 78px,#049d49 80px,#07a43b 81px,#01925f 82px,#005da9 83px,#0043c1 84px,#0049b7 85px,#12974a 88px,#30af34 90px,#099052 93px,#006a94 95px,#00639d 97px,#017683 100px,#0059a8 102px,#001ee5 104px,#0007f5 107px,#0049ba 112px,#0041c5 115px,#0000f7 119px,#0500d9 122px,#0202ed 128px,#0500da 133px,#0102ee 140px,#0b00bb 148px,#0c00b7 154px,#0f00ab 160px,#0b00bf 164px,#180092 170px,#1100a7 173px,#0700d0 177px,#0900c4 180px,#290081 185px,#1f008e 192px,#0c00b9 203px,#1c0091 207px,#3b006f 212px,#2b007f 217px,#1000af 221px,#23008e 224px,#390071 228px,#360074 231px)"></i><i style="left:155px;width:2px;background:linear-gradient(#ff9600 0,#ff7300 1px,#ff8300 2px,#ff6f00 3px,#fd1400 4px,#ff2b00 5px,#ff9200 6px,#ff9d00 7px,#ff7300 8px,#ff8200 9px,#fbd100 10px,#fbd000 11px,#ffb400 13px,#ff9a00 16px,#ffae00 24px,#fec200 25px,#e8eb00 26px,#fad600 27px,#e7de00 29px,#f8e200 30px,#e6eb00 31px,#8adb00 33px,#1dba10 35px,#012eca 36px,#1700bb 37px,#0917bb 38px,#004db3 39px,#0aab2b 40px,#74d500 41px,#c9e800 43px,#d2e900 45px,#d6dd00 46px,#fdc600 47px,#f8e200 49px,#ddeb00 50px,#a6e100 51px,#abe100 52px,#e9cf00 54px,#fd9e00 56px,#fe9b00 58px,#fdb000 59px,#f6ed00 60px,#a0df00 61px,#96de00 62px,#78d600 63px,#41c900 64px,#14ae2a 66px,#28ba18 67px,#7bd800 68px,#bce500 69px,#ddeb00 70px,#e3ec00 76px,#55ce00 81px,#56ce00 82px,#70d500 83px,#c8dd00 85px,#fabb00 87px,#fda300 89px,#f4d100 91px,#cde100 92px,#7cd700 93px,#2fbe12 94px,#09a23a 95px,#058b61 96px,#04856a 97px,#179e42 99px,#5ec222 102px,#5cb932 104px,#077973 108px,#0057ab 111px,#0038c9 119px,#001ee4 123px,#0035d3 126px,#07727a 131px,#087674 134px,#006695 136px,#0016ea 139px,#020be1 142px,#0037c5 145px,#005b9f 147px,#004eb2 149px,#000bf2 152px,#0400e0 154px,#1200a0 158px,#150099 163px,#0b00bf 168px,#0900c7 174px,#0203ec 179px,#0222d5 187px,#050dd4 191px,#260084 197px,#180099 203px,#0e00b6 207px,#1400a4 210px,#230087 213px,#290081 219px,#0903cc 225px,#0200ec 231px)"></i><i style="left:157px;width:2px;background:linear-gradient(#ff9500 0,#ff7500 1px,#ff8800 2px,#ff7100 3px,#fe1800 4px,#ff3100 5px,#ff9100 6px,#ff9a00 7px,#ff6a00 8px,#ff7e00 9px,#fbd000 10px,#fbd100 11px,#ff8000 16px,#ff9700 24px,#feb600 26px,#fbd200 32px,#dde500 35px,#cce800 36px,#8dda00 37px,#70cd0f 38px,#bde500 39px,#efe700 40px,#ff9900 44px,#ff9800 45px,#f4e900 49px,#c5e700 51px,#cde800 52px,#ebea00 53px,#ffb300 55px,#ff6b00 57px,#ff5b00 58px,#feb800 59px,#b9e000 60px,#73d00a 61px,#9ac600 62px,#d4c700 63px,#9cd800 66px,#d9dd00 68px,#dfc200 70px,#f7b700 71px,#fd9600 73px,#fca400 75px,#fabc00 76px,#bed800 78px,#5bcf01 80px,#38c011 82px,#4bcc00 83px,#d2e900 85px,#f9de00 86px,#ffad00 88px,#ffaa00 89px,#ecee00 92px,#54ce00 94px,#1ec003 95px,#11b80e 96px,#1cbc09 97px,#44ca00 98px,#cce800 100px,#ede100 101px,#fcce00 103px,#ecee00 106px,#2cc400 110px,#10b613 111px,#049e47 113px,#06a23f 115px,#11b80d 117px,#28c106 119px,#0db11e 121px,#006a97 124px,#0063a0 125px,#00708e 126px,#009161 127px,#0eb31a 128px,#4dcc00 129px,#9cdf00 130px,#d7ea00 131px,#f0e800 132px,#eee200 134px,#b6e400 136px,#44c312 138px,#17984a 140px,#1c964f 142px,#6cd300 146px,#83d800 148px,#56c90e 150px,#099052 152px,#002ed7 154px,#0202e8 156px,#040adc 159px,#003bbe 163px,#0126d9 166px,#0209e5 168px,#0f00b8 172px,#080fc7 175px,#012dca 177px,#00728c 181px,#008079 184px,#00728c 188px,#0d9c41 192px,#149251 194px,#0028db 199px,#0206eb 217px,#0028dd 220px,#005da6 223px,#0054b4 225px,#0004f7 229px,#0100f4 231px)"></i><i style="left:159px;width:2px;background:linear-gradient(#ff9300 0,#ff7700 1px,#ff8d00 2px,#ff7300 3px,#ff1c00 4px,#ff3700 5px,#ff9000 6px,#ff9600 7px,#ff6000 8px,#ff7a00 9px,#fccf00 10px,#fbd200 11px,#ff6b00 16px,#ff7b00 24px,#fdc700 33px,#eaee00 36px,#e4ed00 38px,#bfdf00 39px,#feb300 40px,#ff6600 42px,#ff5100 43px,#ff7800 44px,#ff6f00 45px,#ff8400 46px,#fad900 48px,#d7ea00 49px,#90dc00 50px,#7fd800 52px,#9cdf00 53px,#f8e300 55px,#fdb000 57px,#fad900 60px,#ff9b00 62px,#f8dc00 65px,#f9db00 67px,#ffae00 69px,#ff4800 72px,#ff3700 74px,#ff6a00 76px,#efe900 79px,#7ad700 81px,#62d100 82px,#6ed400 83px,#f7e600 86px,#fec000 88px,#fdc500 90px,#f1eb00 92px,#7cd800 94px,#3ac800 95px,#16ba0c 96px,#14b41a 97px,#29ba19 98px,#51ca07 99px,#bfdb00 101px,#f3d600 103px,#f5ee00 106px,#54ce00 110px,#30be13 112px,#46c805 115px,#b6e400 119px,#bae500 120px,#8dda00 122px,#63d001 123px,#33b629 125px,#25b61f 127px,#31c306 128px,#b2e300 131px,#c8e700 132px,#cce800 133px,#9dde00 135px,#4dc80a 137px,#1eab32 139px,#17a13d 141px,#5ccd07 145px,#9add00 148px,#8eda00 150px,#6dd400 151px,#3ac700 152px,#0eb21b 153px,#006e91 155px,#0056af 156px,#0059aa 158px,#038967 160px,#13b21d 162px,#15b713 164px,#0aaa2d 165px,#009062 166px,#003ad0 168px,#000cf2 170px,#0012ed 172px,#0040c6 174px,#006c92 176px,#016992 178px,#002dd3 181px,#070bcf 185px,#1006bf 188px,#024c9c 193px,#013bb8 196px,#011fde 199px,#0022e2 200px,#006f8f 205px,#005aac 210px,#0027de 217px,#0130c4 223px,#1300ba 228px,#1400b3 231px)"></i><i style="left:161px;width:2px;background:linear-gradient(#ff9000 0,#ff7800 1px,#ff9200 2px,#ff7500 3px,#ff2300 4px,#ff3c00 5px,#ff8e00 6px,#ff9100 7px,#ff5600 8px,#ff7600 9px,#fccd00 10px,#fbd300 11px,#ff6400 16px,#ff7100 25px,#fbd100 34px,#f5ee00 36px,#d8ea00 37px,#3cb52f 38px,#33b822 39px,#e3dc00 40px,#fbbd00 42px,#fdac00 43px,#6fc81a 44px,#3f9f4e 45px,#86c506 46px,#dbd200 47px,#f8e100 48px,#e8ee00 50px,#f8e100 54px,#fec500 57px,#fbd400 58px,#dede00 59px,#dcd200 60px,#fad700 61px,#eaee00 64px,#aee300 66px,#bbe500 67px,#f2e900 68px,#ff5e00 72px,#ff4800 73px,#ff4600 74px,#ff7a00 76px,#fbd400 78px,#dde800 79px,#86da00 81px,#80d900 82px,#b3e300 84px,#d3ea00 85px,#e1e000 87px,#bbe200 90px,#63d100 92px,#12ad2b 94px,#007784 96px,#00649f 97px,#0060a5 98px,#006b95 99px,#07a43b 101px,#24bb12 102px,#4fcd00 103px,#94dc00 105px,#9bde00 107px,#60d100 111px,#72d600 113px,#f6ea00 117px,#f9de00 120px,#c8e000 122px,#6ad200 124px,#30aa3b 127px,#35a148 132px,#0a8c56 135px,#0049b9 138px,#002adc 139px,#0307e1 142px,#021ad6 147px,#0020e3 155px,#004bbd 157px,#069f42 160px,#0fad28 161px,#1eb02b 163px,#08964c 165px,#0032d6 168px,#0001f9 170px,#0900c5 177px,#0d00b5 181px,#360074 187px,#240086 191px,#0900c6 195px,#0b00c3 203px,#0013ec 212px,#000df1 215px,#0200ed 217px,#0e00b1 223px,#1b0098 231px)"></i><i style="left:163px;width:2px;background:linear-gradient(#ff8d00 0,#ff7b00 1px,#ff9600 2px,#ff7700 3px,#ff2b00 4px,#ff4100 5px,#ff8c00 6px,#ff8d00 7px,#ff4c00 8px,#ff7100 9px,#fccb00 10px,#fbd300 11px,#ff6900 16px,#ff6800 19px,#fdae00 21px,#ff6a00 23px,#ff9a00 30px,#efea00 35px,#95de00 37px,#71d500 39px,#76d600 41px,#91dc00 42px,#87db00 43px,#43ad3c 44px,#35b132 45px,#60d100 46px,#96de00 48px,#d5ea00 49px,#f7e500 50px,#fad900 51px,#f8e000 52px,#b9e500 54px,#91dc00 55px,#98dd00 56px,#cfdf00 58px,#dde800 59px,#c8e700 60px,#d9e200 61px,#c5e700 62px,#5fd000 64px,#0fad27 66px,#069354 67px,#15a538 68px,#50c710 69px,#90db00 70px,#bbdd00 71px,#d1d700 72px,#b2d800 75px,#9ddd00 76px,#43ca00 78px,#4ccc00 79px,#7cd800 80px,#7dd800 81px,#4ecd00 82px,#11b21d 83px,#047d77 85px,#006899 89px,#002dda 93px,#002dda 97px,#003fbb 104px,#045d90 109px,#046c87 113px,#10875f 117px,#087c6d 119px,#0026df 123px,#0106f2 126px,#0400df 133px,#0009f3 140px,#0016ea 146px,#0300e8 153px,#0108f1 156px,#0036cc 160px,#0200ea 167px,#0b00bb 178px,#0500d5 182px,#150097 188px,#1400a3 191px,#0804cf 196px,#0e00b9 205px,#1500b0 216px,#220088 220px,#12009e 223px,#0b00be 225px,#1000a8 228px,#13009a 231px)"></i><i style="left:165px;width:2px;background:linear-gradient(#ff8800 0,#ff7d00 1px,#ff9b00 2px,#ff7900 3px,#ff3100 4px,#ff4400 5px,#ff8a00 6px,#ff8700 7px,#ff4200 8px,#ff6b00 9px,#fdc900 10px,#fbd300 11px,#ff7000 16px,#ff7000 18px,#ffa000 19px,#f7e800 20px,#f8cf00 21px,#ff8c00 22px,#ff6e00 23px,#ffa100 30px,#f7e800 34px,#7ed900 37px,#3bc800 38px,#66d200 40px,#b2e300 42px,#b0e300 43px,#8bdc00 44px,#18ba0e 46px,#0bac28 47px,#42c900 49px,#71d500 50px,#76d500 51px,#4cc80a 52px,#1dae2e 53px,#07a13f 54px,#058767 55px,#089153 56px,#1cb815 57px,#32c600 58px,#55ce00 59px,#4acb00 61px,#1dc000 64px,#008670 65px,#0050ba 66px,#02846f 67px,#2fbf10 68px,#5cd000 70px,#78d700 72px,#2dc400 74px,#32c405 77px,#6fd500 79px,#74d600 80px,#64d200 81px,#3ac800 82px,#11b514 83px,#006f8f 85px,#0044c6 86px,#0033d6 93px,#0118e4 99px,#0300e3 103px,#0600d3 106px,#010aef 109px,#0026df 110px,#07964e 113px,#0ea930 114px,#10ae26 115px,#09a831 116px,#007a81 118px,#005aad 119px,#0029db 122px,#001ce6 129px,#0100f4 132px,#0b00be 138px,#0200eb 143px,#0600d6 147px,#1200b1 151px,#0c00b9 155px,#0500d9 159px,#0700d1 164px,#0500d8 168px,#0e00b5 172px,#0600d3 175px,#0006f6 178px,#001de5 181px,#0200e9 185px,#0900c6 188px,#0300e8 194px,#0900ca 200px,#0a02c8 205px,#1700a6 207px,#360074 209px,#390071 213px,#23008a 219px,#2d007d 224px,#250085 231px)"></i><i style="left:167px;width:2px;background:linear-gradient(#ff8300 0,#ff7f00 1px,#ffa000 2px,#ff7a00 3px,#ff3700 4px,#ff4700 5px,#ff8800 6px,#ff8200 7px,#ff3900 8px,#ff6500 9px,#fdc700 10px,#fbd300 11px,#ff7100 16px,#ff7200 20px,#ff6400 22px,#ff7b00 26px,#ff9c00 27px,#e0bc00 28px,#ff9b00 29px,#f2eb00 35px,#ece400 37px,#80d700 38px,#d7e700 39px,#d7ea00 40px,#8edc00 42px,#4fc90a 43px,#2e8965 44px,#0d8264 45px,#039c4c 46px,#008c68 47px,#00935e 48px,#0fb515 50px,#0eb11d 51px,#00965a 52px,#0060a4 53px,#004eb2 54px,#0050ac 55px,#006897 56px,#039754 57px,#08a33a 58px,#5cd000 59px,#73d600 60px,#60d100 67px,#43ca00 68px,#30a93b 69px,#128b5a 71px,#09a92f 72px,#56cf00 73px,#96dd00 74px,#9cdf00 75px,#8adc00 76px,#4acb00 78px,#35c600 80px,#1cc001 81px,#00886d 84px,#0042c9 87px,#001fe4 88px,#0046bd 90px,#00639e 92px,#0048bd 95px,#0020e3 97px,#0409dd 101px,#0032d6 108px,#004eb9 110px,#06737c 112px,#0a776d 113px,#086381 115px,#011add 119px,#0008f4 121px,#0118e1 127px,#0300e6 134px,#0c00ba 138px,#1000a8 141px,#0700d1 145px,#0b00bb 148px,#1a0090 151px,#17009f 154px,#0100f0 158px,#002dda 162px,#0015eb 165px,#0004f5 166px,#0c00b7 169px,#1d008d 172px,#170098 175px,#0203ec 179px,#000fef 182px,#0200ee 185px,#0c00b7 192px,#0c00b9 197px,#220088 200px,#430067 204px,#1d008d 211px,#0900c7 215px,#0b00bd 218px,#3d006d 223px,#40006a 231px)"></i><i style="left:169px;width:2px;background:linear-gradient(#ff7e00 0,#ff8200 1px,#ffa400 2px,#ff7b00 3px,#ff3b00 4px,#ff4a00 5px,#ff8600 6px,#ff7c00 7px,#ff2f00 8px,#ff5f00 9px,#fec400 10px,#fbd300 11px,#ffa400 13px,#ff6f00 16px,#ff5400 22px,#ff6b00 23px,#fd9700 24px,#ff6100 25px,#ff6c00 26px,#fcaa00 27px,#afdc00 28px,#ff9600 29px,#efdd00 37px,#fdca00 38px,#f6eb00 40px,#65d200 42px,#3fc016 43px,#3a9955 44px,#399a53 45px,#36ae37 46px,#30b626 48px,#42c900 50px,#48cb00 51px,#36bc1b 53px,#24bc0f 54px,#3dc507 55px,#44ca00 57px,#1cba10 58px,#8edc00 59px,#c3e600 60px,#e1ec00 61px,#97dd00 62px,#9ade00 63px,#ece800 64px,#f6eb00 67px,#c8e700 68px,#6ad200 69px,#61b737 71px,#77bf31 72px,#93dc00 73px,#a0e000 74px,#1dbc0c 77px,#0dae25 78px,#0fb318 81px,#049554 86px,#099151 87px,#48c50f 90px,#4cc511 93px,#099b43 98px,#078564 101px,#19a638 106px,#119a45 108px,#016496 110px,#003bc4 111px,#011dde 112px,#0700d4 114px,#0c00b9 117px,#0105ec 121px,#0016eb 122px,#0059ab 124px,#048964 126px,#089c44 129px,#089c42 133px,#0048b5 138px,#011ede 140px,#0200e9 144px,#0900c8 155px,#0e00b2 158px,#0900c9 160px,#0400e2 161px,#001fe4 163px,#0044c7 165px,#002bdb 168px,#0202ee 171px,#0c00ba 176px,#0500dc 182px,#1c008e 193px,#3a0070 198px,#230087 205px,#2e007c 216px,#310079 222px,#480062 231px)"></i><i style="left:171px;width:2px;background:linear-gradient(#ff7800 0,#ff8400 1px,#ffa900 2px,#ff7c00 3px,#ff3e00 4px,#ff4c00 5px,#ff8400 6px,#ff7500 7px,#ff2600 8px,#ff5800 9px,#fec100 10px,#fbd400 11px,#ffa400 13px,#ff6e00 16px,#ff5d00 20px,#ff7300 21px,#fca200 22px,#ff7f00 23px,#ff5900 25px,#ff6b00 27px,#fad600 28px,#86d800 29px,#ead700 30px,#ffa400 31px,#ff9700 35px,#f9de00 36px,#e1ec00 37px,#ebe200 38px,#b8d500 39px,#cdd300 40px,#fbd100 41px,#f8e000 45px,#f6ec00 49px,#d2e900 51px,#72d500 53px,#27c300 54px,#70d500 55px,#82da00 56px,#72d600 57px,#1cbd07 58px,#0033cc 59px,#0c22ae 60px,#024a9a 61px,#198267 62px,#1ba13f 63px,#28b22b 64px,#0ba732 65px,#05994c 66px,#1fb817 67px,#77d600 68px,#d2e900 69px,#fad900 70px,#ffbe00 71px,#eeef00 75px,#33c600 80px,#1ac000 81px,#35c600 83px,#bce500 86px,#edd700 88px,#fbc100 91px,#dfe000 94px,#c7e700 95px,#55ce00 98px,#49cb00 99px,#51cd00 100px,#91dd00 102px,#e0ea00 104px,#f8e200 106px,#e6e800 108px,#bbe500 109px,#73d600 110px,#2abc13 111px,#07954f 112px,#006996 113px,#002dd5 115px,#0026dd 118px,#0048b6 120px,#087e6d 122px,#5cc617 125px,#85d800 127px,#a0df00 133px,#8fdc00 136px,#60d100 138px,#39c700 139px,#09a03d 141px,#00649b 143px,#002dd6 145px,#020fde 149px,#030be0 154px,#0900c8 156px,#1b00a4 159px,#0f00b9 161px,#020ae4 163px,#0016e9 164px,#0049c3 167px,#002cdb 170px,#000bf2 172px,#070fc9 190px,#0516ce 195px,#04439e 200px,#023fac 205px,#0519cb 208px,#0900ce 210px,#1700b3 214px,#1700b4 225px,#2100a3 231px)"></i><i style="left:173px;width:2px;background:linear-gradient(#ff7300 0,#ff8700 1px,#ffad00 2px,#ff4000 4px,#ff4d00 5px,#ff8200 6px,#ff6e00 7px,#ff1e00 8px,#ff5000 9px,#ffbd00 10px,#fad500 11px,#ffa500 13px,#ff7700 16px,#ff7d00 20px,#ffa700 21px,#ff9000 22px,#ff6500 23px,#ff6a00 27px,#e1cf00 28px,#3fb530 29px,#ffa600 30px,#ff9a00 31px,#ff9f00 35px,#fcbe00 36px,#dbd100 37px,#d7d700 39px,#f8e300 40px,#c7e700 43px,#fad300 47px,#fda700 51px,#fab900 52px,#88d100 54px,#e3d600 55px,#e0e300 56px,#86da00 58px,#39b62c 59px,#1e7372 60px,#075b89 61px,#318768 62px,#42b92a 63px,#5cca0e 64px,#12b31c 65px,#008670 66px,#049e47 67px,#5acf00 68px,#dfce00 69px,#ffa600 70px,#ff9400 72px,#ffae00 74px,#f9da00 75px,#dceb00 77px,#8fdc00 79px,#7dd700 80px,#85d900 82px,#9ede00 83px,#e9e000 85px,#ffa900 87px,#ff6800 89px,#ff5900 90px,#ff5d00 91px,#ff9b00 93px,#f4ed00 95px,#7fd900 97px,#61d100 98px,#5cd000 99px,#95de00 101px,#f1eb00 103px,#ffad00 106px,#ffaf00 108px,#ede700 111px,#8edc00 113px,#2bc400 115px,#15b714 117px,#2bc107 119px,#d0e900 124px,#deec00 125px,#bbe300 128px,#66d003 131px,#3dc40b 135px,#48cb00 138px,#9edf00 143px,#9fde00 145px,#71d202 147px,#0a9944 151px,#04846c 153px,#06836a 156px,#25bc12 164px,#0bac28 166px,#0048c3 170px,#0024e0 174px,#0035d4 177px,#038966 182px,#068e5b 185px,#007a81 194px,#047d75 198px,#004daf 204px,#005da8 209px,#003bca 214px,#005ca5 217px,#07964e 221px,#069a4a 224px,#007c7d 227px,#0049c3 231px)"></i><i style="left:175px;width:2px;background:linear-gradient(#ff6d00 0,#ffb100 2px,#ff4100 4px,#ff4e00 5px,#ff8100 6px,#ff6700 7px,#fe1a00 8px,#ff4800 9px,#ffb800 10px,#fad600 11px,#ffaa00 13px,#ff9000 16px,#ffab00 19px,#fdc600 20px,#fcc600 21px,#ff9900 22px,#ff7f00 28px,#ff9300 30px,#ffa700 35px,#f8df00 41px,#fccc00 45px,#ff6000 52px,#ff7d00 54px,#f9c500 55px,#c0ce00 56px,#bbde00 57px,#8bda00 58px,#50c11e 59px,#33b033 60px,#54ce00 61px,#98de00 64px,#b7e400 65px,#7ed700 66px,#93dc00 67px,#e6ed00 68px,#ebd200 70px,#eede00 75px,#eeec00 76px,#b7e400 78px,#afe300 79px,#d0e900 81px,#d3ea00 84px,#e7dc00 87px,#d2b900 91px,#a6d600 94px,#4dc70c 96px,#0dab2b 98px,#08a734 100px,#2bbe0f 102px,#88da00 104px,#bae500 105px,#eee300 107px,#f8e000 111px,#dae900 113px,#3ac700 117px,#25c103 118px,#40c115 121px,#5dce03 124px,#48c50e 126px,#0da13a 128px,#005da3 130px,#0027dc 132px,#0026db 136px,#0055ac 139px,#05826c 141px,#0e9a45 142px,#53c21d 145px,#4dc219 148px,#0cab2b 152px,#08a03e 156px,#0051a8 160px,#013db4 162px,#032ebe 166px,#0411d7 172px,#011ae2 177px,#0028dd 178px,#006c93 180px,#0cad28 182px,#2ec108 184px,#19b41e 187px,#038171 190px,#0026de 195px,#0803ce 198px,#270090 202px,#1e00ac 206px,#0911c0 209px,#0127d2 214px,#0031cd 215px,#089d43 219px,#09a634 220px,#059652 222px,#0029dd 226px,#0207e8 228px,#0800ce 231px)"></i><i style="left:177px;width:2px;background:linear-gradient(#ff6600 0,#ffb500 2px,#ff4100 4px,#ff5000 5px,#ff7f00 6px,#ff5f00 7px,#fe1600 8px,#ff4000 9px,#ffb300 10px,#fad700 11px,#ffb500 13px,#fec300 17px,#fbd200 19px,#e7d800 20px,#fccf00 21px,#ff8700 29px,#aede00 30px,#16b123 31px,#bee600 32px,#fad900 33px,#ffa500 34px,#f6e800 39px,#d1e900 42px,#abe200 44px,#6ac71a 45px,#7fd00f 46px,#f7e600 47px,#f2e500 49px,#fcbd00 52px,#f6cb00 54px,#e3d800 55px,#a4e100 56px,#39c111 58px,#17ae2b 59px,#74d600 60px,#e7ed00 61px,#dee400 62px,#7fd800 63px,#57cf00 64px,#9bde00 70px,#d1e900 73px,#d2e900 75px,#a7e100 78px,#8bdc00 79px,#99de00 81px,#cce800 85px,#c5e700 86px,#aae200 87px,#3bc800 89px,#0eb21b 90px,#007389 92px,#0042c4 94px,#0016ea 97px,#0021e2 101px,#0a885c 105px,#3fb52f 109px,#3cb927 112px,#18a637 114px,#006899 117px,#0046c6 119px,#004ac0 123px,#003dca 126px,#010dec 129px,#0300e5 135px,#030fdb 142px,#0027de 149px,#0045c2 153px,#0023e1 156px,#0100f2 158px,#0900c6 162px,#1000af 172px,#310079 177px,#280087 179px,#0f05c0 182px,#0a19b7 185px,#2000a5 189px,#230087 193px,#420068 212px,#250085 215px,#0700d1 218px,#0304e2 220px,#0700d2 224px,#170099 231px)"></i><i style="left:179px;width:2px;background:linear-gradient(#ff6000 0,#ffb900 2px,#ff4100 4px,#ff5200 5px,#ff7e00 6px,#ff5800 7px,#fd1300 8px,#ff3700 9px,#ffad00 10px,#fad700 11px,#fec300 12px,#f7e500 17px,#e3ed00 18px,#97de00 19px,#b5e400 20px,#f6eb00 21px,#ff9500 28px,#fdad00 29px,#ff7300 30px,#ff6200 32px,#fccf00 38px,#eee900 42px,#dbeb00 43px,#88d900 44px,#b9e500 45px,#9dde00 47px,#58c90d 49px,#34ae36 52px,#0ba03c 57px,#0a9c41 58px,#00649e 59px,#000af0 60px,#0125d8 61px,#1aac30 62px,#8ddc00 63px,#64d100 64px,#3ec900 66px,#3bc800 69px,#13bd03 71px,#2fb42b 78px,#45b532 85px,#2ca145 87px,#118e56 88px,#002cd8 91px,#020be7 94px,#0007f5 98px,#004ac3 108px,#006998 112px,#0046c2 118px,#0001f6 123px,#0b00be 131px,#20008a 136px,#2b007f 141px,#0800cb 149px,#0007f4 152px,#002cdb 155px,#0008f2 163px,#0300e3 165px,#0d00b7 168px,#0f00ab 174px,#230087 177px,#1400a0 198px,#330077 213px,#1000a9 218px,#250085 227px,#1f008c 231px)"></i><i style="left:181px;width:2px;background:linear-gradient(#ff5a00 0,#ffbc00 2px,#ff4200 4px,#ff5500 5px,#ff7e00 6px,#ff5200 7px,#fd0f00 8px,#ff2e00 9px,#ffa800 10px,#fad800 11px,#fdc700 12px,#f2ed00 16px,#d6ea00 18px,#e0ec00 20px,#f7e500 22px,#ff7300 29px,#ff4800 31px,#ff4a00 33px,#fad800 38px,#e5ed00 39px,#6cd400 41px,#48c70a 42px,#35b728 43px,#14b418 44px,#30c00c 45px,#21c100 47px,#11b80d 48px,#059e47 49px,#003ace 50px,#1000c1 51px,#1700b6 52px,#040bdc 53px,#0011ee 54px,#0016ea 59px,#002ed9 60px,#007489 61px,#1bb126 62px,#56ce00 63px,#74d600 64px,#42ca00 66px,#55ce00 68px,#1eb128 69px,#0dac29 70px,#2dc207 71px,#069353 73px,#005da8 75px,#0049c1 77px,#00679b 83px,#0052b4 88px,#0027de 92px,#005ca8 99px,#002fd8 105px,#004fba 109px,#008374 113px,#018076 115px,#0042c0 120px,#005b9f 126px,#0123da 130px,#0600da 135px,#0511d2 139px,#0033cf 144px,#0017ea 147px,#0200ed 149px,#0500d8 152px,#0200ea 158px,#1000a9 165px,#20008e 169px,#0c00ba 177px,#140098 186px,#1000a7 193px,#1b008f 201px,#1300a9 210px,#0000f8 215px,#000fef 220px,#0300e5 226px,#0b00bd 231px)"></i><i style="left:183px;width:2px;background:linear-gradient(#ff5500 0,#ffbe00 2px,#ff4300 4px,#ff7e00 6px,#fc0d00 8px,#ff2500 9px,#ffa200 10px,#fad700 11px,#fdc800 12px,#eeef00 16px,#dceb00 18px,#f8e000 21px,#ff5f00 29px,#ff5800 30px,#ff3100 31px,#ff2800 33px,#ff3600 34px,#ff6700 35px,#ff7000 36px,#fdc500 38px,#e3e300 39px,#9dde00 40px,#50c70f 41px,#26a73b 42px,#159153 43px,#0c934e 44px,#19bc07 47px,#54ce00 48px,#6dd400 49px,#088365 50px,#0600db 51px,#0900c7 52px,#005aa1 53px,#08a439 54px,#018c66 57px,#069452 60px,#19af2a 61px,#47cb00 63px,#33c600 65px,#5fd100 66px,#1bbc09 69px,#006d92 72px,#004ebd 73px,#0028dd 75px,#001be6 78px,#00649e 82px,#049751 84px,#08a637 86px,#029657 88px,#004dbd 92px,#0026df 99px,#0203e8 102px,#0b00bd 106px,#0300e6 110px,#0021e2 113px,#0063a1 117px,#0ca535 125px,#07a23d 127px,#006a97 130px,#003ad0 132px,#0009f2 136px,#0904c8 144px,#0900c8 150px,#0103ee 154px,#0017ea 160px,#0007f5 166px,#0200ed 171px,#24008b 177px,#2d007d 184px,#320078 188px,#0a00c9 194px,#0a00c0 197px,#0e00af 199px,#0203ed 204px,#0400df 208px,#180098 212px,#18009e 216px,#1700a9 221px,#0f00ac 228px,#0b00bd 231px)"></i><i style="left:185px;width:2px;background:linear-gradient(#ff4f00 0,#ffc000 2px,#ff4400 4px,#ff7e00 6px,#fc0a00 8px,#ff1d00 9px,#ff9c00 10px,#fad500 11px,#fdc600 12px,#f7e500 16px,#f0ec00 18px,#d1e900 19px,#c7dd00 20px,#ded900 21px,#ffad00 22px,#ff6100 26px,#ff4600 29px,#ff6100 30px,#ff2100 32px,#ff2700 34px,#ff5f00 36px,#ffa300 38px,#f8e000 39px,#7fd010 40px,#9edd00 41px,#e5ec00 42px,#b3e300 45px,#95dd00 48px,#238d5d 49px,#0f1ab1 50px,#210089 51px,#0239b5 52px,#70d500 53px,#79d700 57px,#19a835 58px,#099e3e 59px,#b5e400 60px,#eed700 61px,#f9d400 62px,#d2cc00 63px,#83d207 64px,#61bf2c 65px,#b1da00 66px,#c2e600 67px,#2ac400 71px,#0bac28 72px,#0056b2 73px,#0030d7 74px,#004fb9 76px,#0042c3 78px,#006d92 80px,#027089 82px,#068a60 84px,#005caa 94px,#005f9e 100px,#106e73 105px,#2c826a 108px,#148166 110px,#004bb9 114px,#002bdb 117px,#0008f4 122px,#002cdb 128px,#0201ec 140px,#0218d8 146px,#0212e0 150px,#0700d3 152px,#1c0090 155px,#1a0093 161px,#310079 165px,#1300a4 171px,#3a0070 177px,#290082 181px,#1e009d 184px,#430067 189px,#240086 211px,#1e008c 215px,#0e00b2 219px,#16009e 231px)"></i><i style="left:187px;width:2px;background:linear-gradient(#ff4a00 0,#fec100 2px,#ff4600 4px,#ff7f00 6px,#fb0800 8px,#fe1900 9px,#ff9700 10px,#fbd200 11px,#ffc000 12px,#fccc00 15px,#fdca00 18px,#edd700 19px,#55cc04 20px,#058e5d 21px,#4ccc00 22px,#ff9100 23px,#ff5c00 24px,#ff4300 27px,#ff4400 29px,#ff5500 30px,#ff3000 33px,#ff3500 35px,#ffb200 39px,#0042be 40px,#067f6e 41px,#fbca00 42px,#fcb900 47px,#cfda00 48px,#67a650 49px,#57747b 50px,#7daa40 51px,#e7db00 52px,#e0e800 56px,#a9da00 57px,#098068 58px,#057a77 59px,#c0e600 60px,#ff9900 61px,#ff5100 64px,#ff5500 66px,#ff8b00 68px,#efe000 70px,#8edb00 72px,#47cb00 73px,#16b518 74px,#02935b 76px,#018d66 77px,#06a042 79px,#12b121 80px,#4bcb02 82px,#9add00 85px,#9eda00 89px,#67d200 95px,#51cd00 101px,#76d600 103px,#dce500 106px,#e8de00 108px,#bee100 110px,#58c811 112px,#199c45 114px,#006c94 117px,#0046c0 120px,#0053ad 123px,#017487 127px,#007686 132px,#004abc 137px,#005fa3 143px,#078c5b 150px,#067a76 152px,#001ee4 156px,#0101f5 158px,#0900c7 161px,#160096 163px,#230087 167px,#0e00b1 171px,#0200e9 175px,#0025df 182px,#0040c3 185px,#0419d1 190px,#1200b7 196px,#380072 200px,#3d006d 205px,#2f007b 214px,#1000b6 225px,#0d00c0 231px)"></i><i style="left:189px;width:2px;background:linear-gradient(#ff4500 0,#fec100 2px,#ff4900 4px,#ff8000 6px,#fb0700 8px,#fe1600 9px,#ff9200 10px,#fcce00 11px,#ffb600 12px,#ffbb00 14px,#ff9e00 19px,#fe9f00 21px,#ff8900 22px,#ff5900 23px,#ff3f00 26px,#ff5400 31px,#ff4400 35px,#ff5100 36px,#b29700 37px,#929600 38px,#fe9d00 39px,#ff5800 41px,#ff3300 44px,#ff3400 45px,#ff6f00 46px,#d6c300 47px,#b4d100 48px,#fbd100 49px,#fdc800 50px,#f8df00 51px,#ece000 52px,#c0df00 53px,#81d10c 54px,#7cd600 55px,#b7e400 56px,#c7e700 58px,#e1ec00 59px,#fdca00 60px,#ff2c00 63px,#fb0400 65px,#fa0200 66px,#fe4000 67px,#f9da00 69px,#bce500 70px,#cee600 71px,#fbc300 72px,#fbcf00 73px,#c9e400 76px,#e0df00 80px,#fcc300 82px,#ff6700 87px,#ff6900 90px,#f7e400 96px,#bde500 99px,#c6e700 101px,#f7e500 103px,#ff8a00 107px,#ff8200 109px,#febc00 112px,#fad900 113px,#e1ec00 114px,#57cf00 116px,#1fbf04 117px,#09a832 119px,#21b71c 123px,#5bcf00 127px,#8bda00 130px,#7cd600 132px,#56c90e 134px,#1fad30 138px,#07a040 141px,#039b4e 144px,#0bab2a 146px,#12ba0a 147px,#6dd400 150px,#7ad800 152px,#65d200 153px,#3dc800 154px,#19b51c 155px,#00669b 157px,#0038cb 158px,#0119e2 159px,#0800cd 162px,#0608d6 165px,#0137be 170px,#004ca9 172px,#168663 175px,#2ea93b 178px,#059355 183px,#059f45 193px,#007f7a 196px,#0029d7 200px,#0405df 208px,#012ecd 214px,#00639a 218px,#0055ab 221px,#0024e1 225px,#002cdb 229px,#0034d5 231px)"></i><i style="left:191px;width:2px;background:linear-gradient(#ff4000 0,#fec100 2px,#ff4d00 4px,#ff8100 6px,#fb0700 8px,#fd1400 9px,#ff8d00 10px,#fdc900 11px,#ffaa00 12px,#ffa300 14px,#ff8700 16px,#ff7f00 21px,#fd9a00 22px,#ff4700 24px,#ff4d00 27px,#ff8c00 29px,#ff6900 30px,#ff6000 36px,#ae9d00 37px,#d9a800 38px,#ff5d00 39px,#ff2700 43px,#ff2b00 44px,#fca600 45px,#f5e900 46px,#b8d900 47px,#a2cc00 48px,#fbcf00 49px,#f2e900 51px,#d5ea00 52px,#6fd300 53px,#4cbb2a 54px,#55ce00 55px,#5cd000 57px,#36b727 58px,#4dc11d 59px,#a2e000 60px,#e6e800 61px,#fdba00 63px,#ff9400 65px,#fbd200 66px,#ade200 67px,#5bd000 70px,#dae300 71px,#fdc500 72px,#fad500 74px,#efee00 75px,#9adf00 76px,#94dd00 77px,#cfe900 78px,#f8e100 79px,#fec300 81px,#ff9000 83px,#ff8200 84px,#ff7d00 87px,#fdc000 90px,#f8dc00 91px,#ade200 93px,#53ce00 95px,#29bf0b 97px,#1ebf04 99px,#3ec800 101px,#d7e900 105px,#f7d000 109px,#dde600 113px,#50cd00 117px,#2cc400 119px,#34c600 121px,#68d300 123px,#e2ec00 126px,#f9db00 128px,#fad800 131px,#f5ee00 133px,#43c60a 139px,#0daa2e 142px,#049259 145px,#08a637 149px,#1fc100 153px,#18bf00 155px,#07a43b 157px,#00718d 159px,#004cb5 161px,#0053ad 163px,#006898 164px,#08a438 166px,#1fb913 167px,#3dc800 168px,#73d600 170px,#78d700 172px,#55ce00 174px,#2aa145 178px,#088367 181px,#0039c4 186px,#012dc9 191px,#004bb1 194px,#016e8f 198px,#006e91 201px,#0038d2 206px,#0045c7 208px,#007f7a 210px,#18b31f 212px,#32c404 214px,#11b80d 216px,#005fa3 220px,#0022e1 223px,#0104f0 226px,#0110e8 231px)"></i><i style="left:193px;width:2px;background:linear-gradient(#ff3b00 0,#ffc000 2px,#ff5100 4px,#ff7500 5px,#ff8300 6px,#fb0700 8px,#fd1200 9px,#ff8a00 10px,#fec400 11px,#ffa000 12px,#ff8f00 14px,#ff6e00 16px,#ff6800 20px,#ff6300 22px,#ff4d00 24px,#ff5300 26px,#ff7d00 27px,#a89800 28px,#939800 29px,#fab000 30px,#ff7a00 31px,#ff8000 38px,#ff8c00 44px,#ff9b00 45px,#ff9500 47px,#f4f000 53px,#c0e600 56px,#bee600 57px,#68cf06 58px,#51c90a 59px,#a7e100 60px,#b1e300 61px,#f5e900 62px,#fcce00 64px,#dde100 65px,#f7e500 66px,#ffb900 67px,#feb700 69px,#eddd00 71px,#bee500 72px,#97d700 73px,#b0dc00 74px,#e0ec00 75px,#bce500 77px,#e5e600 81px,#fdab00 84px,#ff9000 87px,#ffbc00 90px,#f4ef00 92px,#36c600 95px,#15b615 96px,#0ba830 98px,#50cd00 102px,#77d600 105px,#72d500 109px,#37c700 112px,#089d41 118px,#069651 120px,#14b024 123px,#6dd300 127px,#7ed600 130px,#51c31a 133px,#149849 135px,#002cd5 138px,#0511d3 141px,#002ad8 145px,#006399 148px,#0049b3 153px,#005fa4 158px,#0031d2 163px,#0051ac 168px,#0124d8 171px,#0b00c4 174px,#1800a2 178px,#0800c9 184px,#1b0092 190px,#1000a6 193px,#0700d2 196px,#020be1 203px,#0506d9 208px,#0329c6 213px,#1a00b3 218px,#0b00be 231px)"></i><i style="left:195px;width:2px;background:linear-gradient(#ff3600 0,#ffbe00 2px,#ff5500 4px,#ff7b00 5px,#ff8400 6px,#fb0800 8px,#fd1200 9px,#ff8700 10px,#fec100 11px,#ff9c00 12px,#ff8800 14px,#ff5e00 16px,#ff7200 19px,#ff6900 20px,#ff7b00 21px,#e69e00 22px,#d59900 23px,#ff5300 24px,#ff6100 26px,#faad00 27px,#777773 28px,#3a653f 29px,#0a5b7a 30px,#89d900 31px,#ff7b00 32px,#ff7d00 38px,#ff8700 40px,#ffa400 41px,#ff8800 42px,#ff7600 46px,#fccf00 48px,#ffbb00 49px,#fbd400 50px,#dfe400 51px,#6dd300 53px,#29b329 55px,#0aa13a 57px,#0aaa2d 58px,#12b90b 59px,#3ac800 60px,#2ac300 61px,#47ca01 62px,#52c11f 63px,#88d800 66px,#93db00 67px,#d9eb00 70px,#f9dc00 71px,#cee700 72px,#27b427 73px,#0049c0 74px,#18a539 76px,#35c407 78px,#8ddc00 81px,#b3e300 84px,#aee200 86px,#aae100 88px,#60cd08 90px,#097b6e 93px,#0034d3 96px,#001ae8 99px,#0033d6 102px,#00738a 106px,#027b7c 108px,#004fb3 116px,#0063a0 119px,#028b66 123px,#017b7e 126px,#0043c4 130px,#003dcf 133px,#003cc7 135px,#0120da 137px,#0c00c1 140px,#0f00af 143px,#0900c8 148px,#0800c9 152px,#0202ec 156px,#0600d7 160px,#0600d6 168px,#0500d9 172px,#1200ab 178px,#1000a7 184px,#1b009a 191px,#0d00b3 197px,#0303e3 201px,#0600d9 205px,#0b00be 208px,#0300e2 213px,#0a00c3 216px,#18009e 219px,#1400a1 222px,#0300e6 227px,#0207e7 231px)"></i><i style="left:197px;width:2px;background:linear-gradient(#ff3200 0,#ffbb00 2px,#ff5a00 4px,#ff8100 5px,#ff8600 6px,#fc0a00 8px,#fd1200 9px,#ff8500 10px,#fec100 11px,#ffa100 12px,#ff8d00 14px,#ff5a00 16px,#ff5b00 18px,#f7e400 20px,#9ade00 21px,#67c02c 22px,#85c709 23px,#ff5500 24px,#ff7c00 29px,#ff6500 35px,#ffae00 39px,#f8e200 40px,#bae500 41px,#d9d100 42px,#9bcb00 44px,#7fd20a 47px,#40b82b 49px,#19ae2d 50px,#07a43a 51px,#09a733 52px,#0fb416 53px,#11b80d 54px,#049d4a 57px,#049d4a 58px,#0bac2a 60px,#09a734 61px,#00708e 63px,#027f76 65px,#0a9b43 67px,#78d700 69px,#e1ec00 70px,#f1e400 71px,#bfe600 72px,#4fcd00 73px,#0058a5 74px,#0055a6 75px,#059453 76px,#069256 80px,#38c20e 82px,#61d100 84px,#66d200 85px,#3fc30d 87px,#29be0f 89px,#0eb319 90px,#06a23f 91px,#00955b 98px,#029b4f 104px,#007c7d 111px,#017585 114px,#003bcf 119px,#002fd9 125px,#0022e2 128px,#004ac2 131px,#028968 134px,#02886a 136px,#004bc1 139px,#001ae8 143px,#060bd1 149px,#0f00be 154px,#020be2 158px,#0200ea 164px,#0600d6 169px,#0011ee 174px,#0021e2 177px,#0500dd 182px,#2a0080 192px,#1a0093 195px,#0200ef 199px,#0006f6 200px,#0026df 203px,#0100f3 210px,#0112e3 216px,#0206eb 222px,#0018e9 228px,#0020e3 231px)"></i><i style="left:199px;width:2px;background:linear-gradient(#ff2d00 0,#ff6700 1px,#ffb700 2px,#ff5e00 4px,#ff8600 5px,#ff8700 6px,#fc0d00 8px,#fd1400 9px,#ff8500 10px,#fec200 11px,#ff9f00 13px,#ff9a00 14px,#ff5c00 16px,#ff4700 18px,#ff4f00 20px,#ff3600 21px,#ff7a00 28px,#ff5500 32px,#ff4a00 35px,#ff5600 36px,#ff9800 37px,#ff8d00 38px,#fccb00 40px,#e7e000 43px,#c7e700 45px,#28c104 49px,#11b80e 52px,#1abf00 55px,#11b710 56px,#006e91 59px,#002bdb 62px,#0202ed 66px,#0500dd 67px,#0000f8 68px,#005aaa 69px,#4cc908 70px,#81d900 71px,#36c503 72px,#1bac30 73px,#12974a 74px,#028f60 78px,#008c68 81px,#01925e 82px,#0058b0 87px,#005caa 90px,#007e7b 94px,#00659d 97px,#0039cf 101px,#0030d8 108px,#004db9 110px,#049851 113px,#06a240 115px,#007b80 119px,#007785 123px,#002cda 127px,#0512d0 131px,#0010ef 142px,#0034d5 147px,#0031d7 158px,#0207e6 162px,#260084 166px,#320078 169px,#1a0090 171px,#0400dc 174px,#0203eb 177px,#0402e1 184px,#0900c4 190px,#0a00c4 196px,#360074 207px,#360074 211px,#020be4 220px,#0014ea 221px,#004ebd 224px,#0058af 227px,#004fbc 231px)"></i><i style="left:201px;width:2px;background:linear-gradient(#ff2800 0,#ff5e00 1px,#ffb300 2px,#ff6100 4px,#ff8b00 5px,#ff8800 6px,#fd1000 8px,#fe1600 9px,#ff8500 10px,#fec300 11px,#ffa500 14px,#ff6000 16px,#ff2e00 20px,#ff4300 21px,#ff3900 22px,#ff6300 24px,#ff7800 28px,#ff3700 33px,#ff4d00 36px,#fad600 41px,#f9db00 45px,#f5ea00 46px,#98de00 48px,#32c500 50px,#11b80e 51px,#09a930 52px,#1abe03 55px,#2fb91e 57px,#45c117 60px,#59af40 65px,#56b438 67px,#2c9a4f 68px,#29aa38 69px,#3ac605 70px,#27c006 71px,#078368 73px,#036d88 74px,#007685 76px,#049e49 79px,#029a50 80px,#09a92f 81px,#039950 86px,#11a635 91px,#099f3c 92px,#005ea7 95px,#0024e0 97px,#0002f6 99px,#0007f5 110px,#0053a9 115px,#005baa 124px,#001ce6 128px,#0100f0 130px,#0e00b2 135px,#0c00b8 138px,#0208e7 142px,#001de5 146px,#0205e9 149px,#1000bf 152px,#1100ac 161px,#1f008b 167px,#14009b 169px,#0200ec 172px,#0003f8 173px,#000fef 175px,#0101ef 177px,#1b009f 182px,#290081 188px,#2d007d 196px,#1600a6 201px,#20008a 204px,#450065 207px,#3a0070 212px,#1c009b 215px,#0e00b1 222px,#370073 228px,#3d006d 231px)"></i><i style="left:203px;width:2px;background:linear-gradient(#ff2300 0,#ff5500 1px,#ffad00 2px,#ff6400 4px,#ff8e00 5px,#ff8800 6px,#fd1400 8px,#fe1a00 9px,#ff8600 10px,#fec400 11px,#ffa700 14px,#ff5f00 16px,#ff3f00 18px,#ff4300 19px,#ff6300 20px,#ff5400 23px,#ff7b00 26px,#ff6e00 29px,#ff4c00 32px,#ff3400 33px,#ff4900 36px,#f8df00 42px,#deec00 44px,#76d600 45px,#129251 46px,#068566 47px,#2ec500 48px,#b7e400 49px,#7cd700 51px,#2da047 52px,#3dbe1b 53px,#c1d900 54px,#c6e000 56px,#bbe500 57px,#63d200 60px,#119847 61px,#3db52f 62px,#68d300 63px,#b4e400 67px,#b3e400 70px,#87da00 72px,#39c700 74px,#0eb11c 75px,#04994f 76px,#006a96 80px,#006e91 83px,#018c66 85px,#08a735 86px,#30be11 87px,#aee100 89px,#d0d400 91px,#bed600 93px,#a1db00 94px,#6dd006 95px,#188860 98px,#066584 102px,#07895f 113px,#03638f 117px,#003fbd 120px,#005fa0 123px,#017684 125px,#00649c 127px,#002dd9 129px,#0203e8 131px,#1e008f 134px,#2e007c 137px,#0400e0 144px,#010bea 147px,#1400b3 153px,#22008a 157px,#290081 167px,#1000af 172px,#1f0093 175px,#350075 178px,#0d00b3 193px,#0f00ac 199px,#0d00b5 203px,#2d007d 210px,#21008b 217px,#330077 227px,#3d006d 231px)"></i><i style="left:205px;width:2px;background:linear-gradient(#ff1f00 0,#ff4c00 1px,#ffa700 2px,#ff9100 3px,#ff6600 4px,#ff9000 5px,#ff8800 6px,#fe1800 8px,#ff1f00 9px,#ff8700 10px,#fec300 11px,#ffa100 14px,#ff5b00 16px,#ff4f00 17px,#ff5900 18px,#feaf00 19px,#f0ca00 20px,#fc9400 21px,#fd9500 22px,#fcb000 23px,#ff7800 24px,#ff8400 27px,#ff7200 29px,#ff8000 30px,#a8cb00 31px,#fd9f00 32px,#ff4400 33px,#ff5f00 36px,#fbd000 41px,#bcdc00 42px,#d5ea00 43px,#f3e100 44px,#fdc800 45px,#91ca00 47px,#fad700 48px,#fda400 51px,#99cd00 52px,#a2df00 53px,#ffa000 54px,#ff7600 55px,#ffa400 56px,#eee800 57px,#faca00 58px,#fad700 59px,#dfde00 60px,#9ed900 61px,#8ed900 62px,#c7e700 63px,#f9db00 66px,#ff8d00 70px,#febf00 71px,#fbd300 72px,#ffa500 73px,#fdaa00 74px,#f9c500 75px,#cecf00 76px,#bddd00 77px,#67d200 79px,#4bcc00 80px,#4acc00 82px,#5bd000 83px,#dde400 86px,#fad600 87px,#ff6f00 90px,#ff5300 92px,#ff7400 94px,#f6d100 97px,#b7e400 101px,#abe100 106px,#b6dd00 113px,#99dd00 115px,#4dcc00 117px,#15b220 119px,#0aab2c 121px,#2fbe11 123px,#74d500 125px,#8bda00 126px,#8fdb00 127px,#5acf00 129px,#098b5a 132px,#0033cb 135px,#020ce2 139px,#001ae5 142px,#0030d5 143px,#037582 145px,#0b9945 146px,#47c215 148px,#5fcd07 150px,#4cbe24 152px,#077676 155px,#0023df 158px,#0400e0 161px,#0c00c0 164px,#0518cd 168px,#0245a7 174px,#0058a5 182px,#0038cd 185px,#0011ee 187px,#0300e6 189px,#20008a 196px,#1d008d 199px,#1200a0 200px,#0300e6 202px,#0009f1 203px,#0040c2 206px,#0038c3 209px,#0413d5 212px,#0b00c3 214px,#250085 218px,#30007a 225px,#28008a 231px)"></i><i style="left:207px;width:2px;background:linear-gradient(#ff1c00 0,#ff4300 1px,#ffa000 2px,#ff8f00 3px,#ff6700 4px,#ff9100 5px,#ff8700 6px,#ff1d00 8px,#ff2900 9px,#ff8a00 10px,#fec300 11px,#ff9900 14px,#ff5800 16px,#ff5300 17px,#ff6b00 18px,#ffa500 19px,#e8cb00 20px,#bcd600 21px,#bad400 22px,#fda900 23px,#ff8600 24px,#ff7f00 28px,#ff5c00 33px,#ff8700 39px,#fdb900 43px,#ff8e00 45px,#ff9900 47px,#ff2e00 52px,#ff7000 53px,#ff8d00 54px,#ff5a00 55px,#ff6b00 56px,#ff8f00 57px,#ff9900 58px,#f8df00 61px,#eee000 63px,#fbd200 65px,#ff5300 70px,#ff4900 71px,#ff6400 72px,#ff5f00 74px,#fbd400 77px,#e6ed00 78px,#7dd800 80px,#5dd000 81px,#55ce00 82px,#75d600 83px,#f6e900 85px,#ff3a00 90px,#ff1f00 92px,#ff3e00 94px,#ffbd00 98px,#f8e000 101px,#fbd100 105px,#ff8700 110px,#ff9600 113px,#edee00 117px,#70d500 120px,#4dcc00 122px,#56ce00 124px,#c9e800 128px,#dae800 129px,#c3e000 132px,#b0e200 133px,#62d100 135px,#24b12c 138px,#2eb42a 141px,#74d400 144px,#d2e900 147px,#e9ed00 150px,#d6ea00 152px,#9ddf00 154px,#44ca00 156px,#1baf2b 158px,#179450 161px,#2ea540 165px,#7ed600 169px,#9ede00 171px,#92dc00 172px,#46cb00 174px,#1cbb0d 175px,#048965 177px,#005ea3 179px,#0051b1 182px,#038272 187px,#056a83 191px,#0129cf 196px,#0003f8 202px,#0120dc 208px,#000fed 214px,#012cca 218px,#09647e 222px,#035b94 226px,#0043c1 229px,#0031d7 231px)"></i><i style="left:209px;width:2px;background:linear-gradient(#fe1900 0,#ff3a00 1px,#ff9900 2px,#ff8e00 3px,#ff6700 4px,#ff9000 5px,#ff8600 6px,#ff2500 8px,#ff3400 9px,#ff8d00 10px,#fec300 11px,#ff9300 14px,#ff5800 16px,#ff8700 24px,#ff6900 32px,#ff7800 33px,#fac400 34px,#ff8f00 35px,#ff7f00 36px,#facf00 43px,#fcc000 44px,#ff9c00 45px,#ff9d00 47px,#ff7e00 48px,#fb9c00 49px,#fc8f00 50px,#ff3a00 51px,#ff2100 52px,#ff3200 54px,#ffa700 57px,#f7e400 58px,#f9dd00 59px,#f0ef00 60px,#a2e000 61px,#81d900 62px,#89da00 64px,#c8e700 66px,#dece00 68px,#d2bc00 69px,#b4bf00 70px,#d7cf00 72px,#cdbd00 74px,#f7dd00 76px,#f9dd00 78px,#f2ee00 79px,#9dde00 81px,#8fdb00 82px,#d8ea00 85px,#edae00 92px,#c4c400 96px,#84d800 99px,#63d100 101px,#7dd600 103px,#ccd400 106px,#f7c200 108px,#fca700 110px,#fbb400 112px,#ded000 114px,#90db00 118px,#5bcf00 122px,#45c60a 124px,#65d100 126px,#c7de00 128px,#fbcd00 130px,#fcc300 132px,#f6e200 134px,#dcea00 135px,#50cd00 138px,#37c700 139px,#45bd22 144px,#066981 148px,#0148a9 150px,#076285 159px,#1b9155 163px,#50bd29 166px,#6dc12c 168px,#62a353 170px,#07588a 173px,#052bb9 175px,#0a00c9 179px,#0206e5 183px,#001ee3 185px,#047580 188px,#09885f 189px,#109251 191px,#098b59 192px,#0053af 195px,#001fe4 197px,#0200ef 199px,#240086 204px,#250088 208px,#1000af 210px,#0200ed 212px,#0009f4 213px,#0046c6 217px,#0a9b42 221px,#28a63d 223px,#198f58 225px,#087673 226px,#0133c3 228px,#080bc9 231px)"></i><i style="left:211px;width:2px;background:linear-gradient(#fe1700 0,#ff3100 1px,#ff9200 2px,#ff8c00 3px,#ff6600 4px,#ff8f00 5px,#ff8500 6px,#ff2e00 8px,#ff3f00 9px,#ff9100 10px,#fec300 11px,#ff9400 14px,#ff5d00 16px,#ff7c00 23px,#ff7800 24px,#e8b300 25px,#feaf00 26px,#ff6a00 27px,#ff5b00 30px,#ffae00 31px,#7bb639 32px,#82bf19 33px,#fad500 34px,#ffa600 35px,#ffa000 36px,#fad800 40px,#85d800 41px,#29bd11 42px,#99de00 43px,#f6ec00 44px,#e7e600 46px,#dcd400 47px,#e5e200 48px,#9adf00 49px,#91db00 51px,#b7d200 52px,#f2af00 53px,#fcb200 54px,#cbc300 55px,#7e8764 56px,#457e71 57px,#5bac44 58px,#55bd2b 59px,#0aa92f 60px,#31b032 61px,#4fcd00 62px,#7ad600 66px,#0050bb 67px,#001ce6 68px,#008f64 69px,#83d900 70px,#cfe900 71px,#f0ee00 72px,#c4dd00 73px,#7dd700 74px,#a1e000 75px,#f0e600 76px,#fad800 77px,#edea00 80px,#9add00 86px,#12ba09 90px,#02856e 94px,#005ea7 98px,#007785 101px,#15bb07 105px,#78d700 108px,#87db00 110px,#4fcd00 112px,#1fc003 113px,#03905d 116px,#00659b 119px,#00639f 126px,#049456 129px,#099749 130px,#0f885e 133px,#004bb8 139px,#0025df 141px,#0700d3 145px,#0a00c0 149px,#0800cb 156px,#1400a5 161px,#1f00a0 167px,#1c008e 172px,#22008a 180px,#0d00b6 184px,#0400de 187px,#0500d8 191px,#0800ce 195px,#0102f1 199px,#0500dd 203px,#0e00b9 206px,#0a00c5 208px,#0005f6 211px,#0026df 214px,#0115e5 222px,#0700d6 226px,#240086 231px)"></i><i style="left:213px;width:2px;background:linear-gradient(#fd1500 0,#ff2900 1px,#ff8b00 2px,#ff8900 3px,#ff6500 4px,#ff8d00 5px,#ff8300 6px,#ff3600 8px,#ff4a00 9px,#ff9500 10px,#fec500 11px,#ff9d00 14px,#ff6c00 16px,#ff7600 21px,#ff8400 22px,#ff7600 23px,#ff7d00 24px,#fad900 25px,#ff7200 26px,#ff4500 27px,#ff4200 30px,#ea9a00 31px,#7c8c69 32px,#629664 33px,#fbab00 34px,#ff7900 35px,#ff7c00 36px,#ff9d00 37px,#ff7600 38px,#ff6600 39px,#ff9900 41px,#ff8400 42px,#ff5b00 43px,#ff6300 44px,#f3d900 48px,#bee600 51px,#d8eb00 52px,#cfe900 53px,#19bf00 55px,#004cb3 56px,#0206ea 57px,#0020e3 58px,#0f9b44 59px,#c6e400 60px,#f3dc00 62px,#fcc800 65px,#d8e900 66px,#006899 67px,#002dda 68px,#0da930 69px,#bbe500 70px,#6ed400 72px,#5ed000 73px,#64d200 74px,#c7e700 77px,#efef00 78px,#ff7b00 84px,#ff7500 86px,#fbb200 89px,#ced200 91px,#87d800 93px,#47c01c 95px,#2ab22d 97px,#39bb1f 99px,#6fd300 101px,#9cdd00 102px,#d5d300 105px,#e0ce00 110px,#c0d900 114px,#5acf00 118px,#52cd00 120px,#b2db00 124px,#c0d000 128px,#a3dd00 131px,#61ce06 133px,#07944f 136px,#0055b2 138px,#003ad0 139px,#001fe4 142px,#0051b2 148px,#006f90 153px,#0043b7 161px,#0143ad 168px,#055a92 173px,#0220d3 178px,#0900c9 181px,#0b00bc 184px,#0100f1 189px,#0030d1 195px,#0060a0 199px,#0045c3 202px,#0006f6 206px,#001ce6 209px,#0041c6 212px,#001de5 215px,#0007f4 216px,#2d007d 226px,#3a0070 231px)"></i><i style="left:215px;width:2px;background:linear-gradient(#fd1300 0,#ff2200 1px,#ff8300 2px,#ff8700 3px,#ff6200 4px,#ff8900 5px,#ff8200 6px,#ff3d00 8px,#ff5400 9px,#ff9900 10px,#fdc700 11px,#ffaf00 14px,#ff8600 16px,#ff9000 19px,#fcc600 21px,#daeb00 22px,#face00 23px,#ff7400 24px,#ff6300 26px,#ff3c00 27px,#ff2a00 29px,#ff4600 32px,#ff7800 33px,#ff6d00 34px,#ff8200 37px,#ff7200 39px,#fd9d00 40px,#fbb500 41px,#ff6900 42px,#ff4e00 43px,#ff5900 44px,#ffba00 45px,#d0dd00 46px,#fac900 47px,#fec100 48px,#efeb00 50px,#afe300 52px,#9edf00 53px,#75d600 54px,#63ce07 56px,#6fcb13 57px,#bee600 58px,#f0e800 59px,#f8dc00 61px,#ffb700 62px,#ffa900 65px,#febe00 66px,#b1da00 67px,#2abf0c 68px,#29b525 69px,#6ec424 70px,#5ccf00 71px,#60d100 72px,#43ca00 73px,#3dc800 74px,#6ed400 76px,#d6ea00 79px,#f8e000 82px,#ffb000 87px,#fec100 90px,#efec00 93px,#6dd400 97px,#64d200 99px,#a1e000 101px,#f4ed00 103px,#ffa000 109px,#fea400 112px,#facf00 114px,#bee100 116px,#68d200 118px,#51cd01 119px,#56cd01 121px,#afd700 125px,#d9dd00 130px,#d6e800 132px,#a7e100 134px,#4fcd00 136px,#1aa638 138px,#0a8a5a 140px,#159b45 143px,#60d100 148px,#85d900 150px,#84d900 151px,#71d500 152px,#18bd05 154px,#006d93 157px,#0055aa 159px,#0043ba 164px,#0034c8 167px,#0048b3 169px,#047382 171px,#0fa536 173px,#21bc0e 175px,#10b513 177px,#008176 179px,#0055b4 180px,#0011ee 182px,#0300e8 186px,#000fef 189px,#005ca4 194px,#005aa2 198px,#001ee3 202px,#0300e4 206px,#011ae1 210px,#0025df 211px,#004eb5 214px,#0029d8 220px,#0129d2 224px,#0400e0 231px)"></i><i style="left:217px;width:2px;background:linear-gradient(#fd1100 0,#ff1d00 1px,#ff7c00 2px,#ff8400 3px,#ff5f00 4px,#ff8600 5px,#ff8000 6px,#ff4200 8px,#ff5c00 9px,#ff9d00 10px,#fdca00 11px,#fec400 14px,#ffa500 17px,#ffa300 18px,#ffb500 19px,#ff9d00 21px,#ff6700 23px,#ff3000 27px,#ff5d00 28px,#ff6000 29px,#ff3100 30px,#ff6200 33px,#fdbe00 38px,#fdbb00 42px,#feb400 45px,#fcce00 47px,#edea00 48px,#6dd300 49px,#93dc00 50px,#d5ea00 51px,#9ddf00 53px,#99df00 55px,#f2ec00 58px,#fccd00 62px,#fad600 66px,#f7e600 67px,#d6ea00 68px,#54bc2c 69px,#16954e 70px,#29bc13 71px,#abe200 72px,#bce500 73px,#27c202 75px,#0cad26 76px,#13ac2d 77px,#64d100 80px,#c1e100 83px,#e8c400 86px,#dcb900 89px,#9ddc00 93px,#5ed000 95px,#4bc906 97px,#86d700 103px,#6dc81a 106px,#298866 110px,#08687d 112px,#013abb 115px,#031ed2 118px,#0221d2 125px,#045f90 134px,#076b7e 138px,#06598f 143px,#166f74 148px,#085d84 151px,#0222d3 155px,#0200e9 160px,#0600d3 164px,#0007f2 169px,#003cc9 174px,#004cb3 177px,#010cea 181px,#0200ef 184px,#0200eb 190px,#0300e8 198px,#1b008f 206px,#1a0091 211px,#1c00a3 216px,#1800b5 231px)"></i><i style="left:219px;width:2px;background:linear-gradient(#fd0f00 0,#fe1a00 1px,#ff7500 2px,#ff8100 3px,#ff5c00 4px,#ff8200 5px,#ff7f00 6px,#ff4600 8px,#ff6400 9px,#ffa200 10px,#fccd00 11px,#fdca00 15px,#ffa200 20px,#ff8400 22px,#f6e600 23px,#0a8b57 24px,#0131c6 25px,#00876f 26px,#e4d300 27px,#ff7300 28px,#ff9300 29px,#3ab72b 30px,#567f73 31px,#ff8100 32px,#ff6c00 33px,#fad600 37px,#c1e600 39px,#7fd700 41px,#c3e600 46px,#bbe500 47px,#008374 48px,#0047bc 49px,#028e61 50px,#3cbd1d 51px,#4cca04 54px,#80d700 56px,#c0da00 58px,#fcbb00 62px,#fcc100 63px,#a0de00 67px,#6bd300 68px,#a9e100 69px,#e8dc00 70px,#e0e100 71px,#fbd100 72px,#fdc800 73px,#e0ec00 74px,#6ed400 75px,#33c600 76px,#11b120 78px,#007981 80px,#0aa731 85px,#0aaa2d 88px,#03876b 91px,#0061a1 93px,#004db6 97px,#0040c2 106px,#010aee 110px,#0300e5 112px,#1c008f 117px,#1e008c 121px,#1100a3 126px,#1c008e 141px,#1400a1 146px,#180092 163px,#0f00ac 165px,#0302e6 168px,#0606d7 173px,#0a00c4 179px,#1700a4 183px,#14009e 192px,#470063 200px,#390071 204px,#140097 207px,#1a0092 213px,#430067 231px)"></i><i style="left:221px;width:2px;background:linear-gradient(#fc0e00 0,#fe1800 1px,#ff6e00 2px,#ff7f00 3px,#ff5900 4px,#ff7e00 5px,#ff7f00 6px,#ff4900 8px,#ff6a00 9px,#ffa600 10px,#fccf00 11px,#f9dd00 14px,#ffaa00 20px,#ff8200 23px,#51cc04 24px,#0014eb 25px,#055291 26px,#728771 27px,#788c6e 28px,#63cd08 29px,#c8a600 30px,#fd9f00 31px,#ff6a00 32px,#ff9200 35px,#fccf00 37px,#e9e700 38px,#7fd800 40px,#61d100 41px,#5acf00 42px,#1cc000 43px,#6dd400 44px,#a0df00 46px,#a3e000 47px,#24c200 48px,#20bb11 49px,#007f7a 50px,#004cbc 51px,#00639f 56px,#00639b 58px,#028c65 59px,#3ac800 60px,#c7e700 61px,#fad600 62px,#fec400 63px,#f9da00 64px,#b2e300 65px,#30c207 66px,#08a635 67px,#12b90c 68px,#9adf00 69px,#dee800 70px,#f2eb00 71px,#fcce00 72px,#fdc700 73px,#e8eb00 74px,#87da00 75px,#50cd00 76px,#4bcc00 78px,#21c100 79px,#049c4b 80px,#0059ae 81px,#003ece 82px,#001de5 85px,#002ed9 90px,#0007f1 95px,#000ef0 103px,#0201ea 111px,#0123db 116px,#020fdf 119px,#0500df 120px,#140098 123px,#320078 131px,#1b008f 139px,#0d00b6 144px,#30007a 148px,#390071 151px,#0f00aa 157px,#2f007b 172px,#390071 180px,#1d0096 186px,#330077 196px,#290081 211px,#170095 216px,#390071 226px,#480062 231px)"></i><i style="left:223px;width:2px;background:linear-gradient(#fc0e00 0,#fe1700 1px,#ff6700 2px,#ff7c00 3px,#ff5600 4px,#ff7b00 5px,#ff7f00 6px,#ff6f00 7px,#ff4a00 8px,#ff6e00 9px,#ffab00 10px,#fbd200 11px,#f8e000 14px,#fdc800 17px,#f5e600 19px,#ff9900 21px,#ff8600 23px,#66d200 24px,#047482 25px,#819124 26px,#f2b900 27px,#ff8100 29px,#ff7600 34px,#ff8100 35px,#feaf00 36px,#a0ca00 37px,#b5d400 38px,#fad700 39px,#e4eb00 40px,#2fc500 42px,#08a636 43px,#028f5f 44px,#069651 47px,#028272 48px,#003ece 49px,#0012ed 51px,#000fef 52px,#003cc9 54px,#0058a7 55px,#00639c 56px,#003ccf 57px,#0038d0 58px,#005aad 59px,#06a240 60px,#49cb00 61px,#b0e300 62px,#deec00 63px,#ecee00 64px,#dfec00 65px,#36c600 67px,#2fc500 68px,#cde800 70px,#eae600 71px,#e9dd00 72px,#cce500 73px,#29bd0f 75px,#0dad26 76px,#15b810 79px,#09a930 80px,#006a97 82px,#0059ae 83px,#004dbd 86px,#03905e 89px,#069059 91px,#0029da 96px,#001be7 100px,#002fd9 107px,#0013ec 113px,#0031d7 118px,#0003f8 121px,#0800c8 123px,#1f008b 125px,#420068 130px,#380072 134px,#0b00c0 139px,#0800ce 148px,#1300a3 156px,#20008a 160px,#340076 164px,#0e00b4 170px,#0e00af 179px,#1a009e 184px,#16009f 190px,#0500d8 195px,#0800cb 204px,#190091 209px,#380072 219px,#240086 225px,#3e006c 231px)"></i><i style="left:225px;width:2px;background:linear-gradient(#fc0e00 0,#fe1600 1px,#ff6000 2px,#ff7a00 3px,#ff5400 4px,#ff7800 5px,#ff8000 6px,#ff7000 7px,#ff4a00 8px,#ff7100 9px,#ffaf00 10px,#fbd400 11px,#f9da00 14px,#ffbb00 17px,#fcc800 19px,#ff9700 20px,#ff8100 23px,#c2db00 24px,#f3b700 25px,#ff8600 26px,#ff8a00 34px,#feb700 36px,#72d400 37px,#63d200 38px,#f7e100 39px,#f4eb00 40px,#cce800 41px,#30c00e 43px,#0aa830 44px,#008a6b 46px,#026a8d 49px,#037b79 52px,#069e44 54px,#0047be 57px,#003ece 58px,#0eb21c 60px,#099b44 61px,#29b32b 62px,#64d200 63px,#69d300 64px,#49ca04 65px,#0daf21 67px,#0fb11f 68px,#3ec900 69px,#6cd400 70px,#72d500 71px,#4dcc00 72px,#1db61a 73px,#028e60 74px,#007587 75px,#008473 76px,#12b11f 78px,#1eb51e 79px,#07964c 81px,#039557 85px,#0cae24 87px,#1cc001 88px,#65d200 90px,#71d500 91px,#69d300 92px,#22c200 94px,#049e48 96px,#008275 98px,#008473 101px,#028f60 105px,#007587 108px,#0050b4 111px,#005ba7 115px,#04846c 120px,#037485 122px,#0127d7 125px,#0700d3 128px,#0216df 136px,#0019e8 142px,#0021e3 146px,#0060a4 151px,#0021e3 156px,#0400e0 160px,#0800d0 163px,#0023e1 168px,#0019e8 172px,#0110e8 176px,#0520c7 181px,#1600b6 185px,#210098 188px,#0c00b8 192px,#0000f8 196px,#0209e4 201px,#0f00b1 205px,#1f008b 209px,#380072 217px,#22008f 220px,#0500da 225px,#0300e8 231px)"></i><i style="left:227px;width:2px;background:linear-gradient(#fc0f00 0,#fe1500 1px,#ff5a00 2px,#ff7700 3px,#ff5200 4px,#ff7500 5px,#ff8200 6px,#ff7200 7px,#ff4900 8px,#ff7200 9px,#ffb400 10px,#fad600 11px,#fdca00 13px,#fccf00 14px,#ffa700 17px,#ff8100 22px,#f6e200 23px,#fad500 24px,#ff7b00 25px,#ff9f00 33px,#fad800 35px,#c3e600 36px,#46b82f 37px,#66d200 38px,#68d300 39px,#bfe600 41px,#cde800 42px,#bae500 43px,#5ace03 44px,#5bd000 45px,#28bd10 46px,#0db01f 47px,#048966 51px,#059159 53px,#002bdc 54px,#0400e1 55px,#0700cc 56px,#0300e6 57px,#004bb8 58px,#007a81 59px,#00679a 60px,#011ddb 61px,#0109e9 62px,#003fcc 63px,#00896b 64px,#00708f 66px,#06a141 68px,#40c900 69px,#68d300 70px,#56cf00 71px,#1ec100 72px,#2aba19 73px,#37c10f 74px,#10b515 77px,#0aab2b 78px,#037f74 80px,#006e91 81px,#006d93 82px,#008571 84px,#00649f 86px,#09a03c 89px,#13ad2a 92px,#059a4d 94px,#006c94 97px,#006d92 99px,#0daf21 104px,#0caf22 106px,#008e64 108px,#0049c2 110px,#0024e1 112px,#0035d4 115px,#089b45 122px,#07a539 124px,#00728b 129px,#007785 131px,#029459 134px,#028d63 136px,#0034d5 140px,#0007f5 143px,#0011ee 147px,#0045c9 150px,#007d7d 153px,#007f7a 155px,#0121dd 160px,#031ad4 164px,#0027de 170px,#0100f5 175px,#0009f0 178px,#0038c7 182px,#0203ec 188px,#0400df 195px,#20008a 200px,#1b0095 210px,#0c00b8 214px,#0400df 217px,#0600d2 219px,#1800a6 222px,#1c00a1 226px,#310079 231px)"></i><i style="left:229px;width:2px;background:linear-gradient(#fd0f00 0,#fe1500 1px,#ff5500 2px,#ff7500 3px,#ff5000 4px,#ff7400 5px,#ff8400 6px,#ff7300 7px,#ff4800 8px,#ff7300 9px,#ffb800 10px,#fad700 11px,#fec200 13px,#fec400 14px,#ff9c00 16px,#ff9800 18px,#f7e400 21px,#fad900 22px,#ff6f00 24px,#ffa300 31px,#fad900 34px,#e4ed00 35px,#1bbb0d 36px,#22a33e 37px,#3ec900 38px,#3ec800 39px,#9fdf00 42px,#ade200 46px,#89da00 48px,#6bd300 49px,#13bc03 50px,#026691 51px,#004fab 52px,#068567 53px,#028174 54px,#089253 57px,#27b81d 60px,#16b41c 61px,#019160 63px,#058f5b 64px,#24b620 66px,#008374 67px,#029b4f 68px,#59cf00 69px,#65d200 70px,#37c700 71px,#41bc24 73px,#4bc610 74px,#43c312 75px,#099e40 77px,#0041cc 80px,#002cdb 81px,#002bdc 82px,#0042c9 83px,#007c7d 85px,#007489 86px,#001de5 88px,#0010ef 89px,#0037d2 97px,#0111e9 103px,#0216de 109px,#010bed 115px,#002cda 121px,#0026df 131px,#0200eb 138px,#0301e5 155px,#1000a6 162px,#0d00b5 169px,#0700d4 175px,#290081 182px,#220088 190px,#0b00bc 195px,#210089 203px,#0c00bf 212px,#1a00a8 218px,#1b0091 221px,#0e00b0 225px,#380072 231px)"></i><i style="left:231px;width:2px;background:linear-gradient(#fd1100 0,#fe1500 1px,#ff5000 2px,#ff7300 3px,#ff5000 4px,#ff8700 6px,#ff7400 7px,#ff4600 8px,#ff7300 9px,#ffbc00 10px,#fad800 11px,#ffbc00 13px,#ffbc00 14px,#ff9200 16px,#ff7900 21px,#febf00 22px,#aae100 23px,#c8d000 24px,#ff7300 25px,#ffa000 29px,#f5e600 33px,#e0ec00 37px,#cae800 38px,#84da00 40px,#46ca00 42px,#40c900 43px,#69d300 44px,#f0ed00 46px,#f7e800 48px,#bae500 50px,#5ec813 51px,#53a251 52px,#7ed800 53px,#61d100 55px,#81d900 58px,#67d200 59px,#39c700 60px,#59cf00 62px,#ace200 64px,#c3e700 65px,#c7e700 66px,#7cd700 67px,#26ba15 68px,#6fd500 69px,#5dd000 70px,#17bb09 72px,#08a637 73px,#049851 75px,#0bac2a 77px,#007e7b 79px,#005fa3 80px,#0041c1 82px,#0055b0 84px,#0a9944 88px,#18a736 90px,#089d42 92px,#006a97 96px,#0032d7 101px,#000df1 103px,#0400e0 106px,#0b00bd 110px,#0500dd 114px,#000cf0 118px,#003ccf 123px,#0023e1 126px,#000cf2 127px,#0400dd 129px,#0f00ae 132px,#14009e 136px,#0c00b7 138px,#0300e8 140px,#0021e2 144px,#0104f0 147px,#0c00b7 153px,#0e00b1 163px,#2a0080 170px,#1a00ab 175px,#2a0080 181px,#1400a4 186px,#1e008c 191px,#0a00c1 195px,#0e00af 197px,#340076 200px,#280082 226px,#1600a1 231px)"></i><i style="left:233px;width:2px;background:linear-gradient(#fd1200 0,#fe1600 1px,#ff7100 3px,#ff4f00 4px,#ff8b00 6px,#ff7500 7px,#ff4500 8px,#ff7200 9px,#ffc000 10px,#f9da00 11px,#ffb700 13px,#ffb600 14px,#ff8d00 16px,#ff7900 22px,#ff8a00 23px,#ff7b00 25px,#fccd00 31px,#fbd000 32px,#cfe400 33px,#a6dc00 34px,#fbd200 35px,#fbce00 36px,#e8d500 37px,#81be1b 38px,#6fc426 39px,#87d900 40px,#95dd00 41px,#7cd800 43px,#61d100 44px,#e2ec00 45px,#f9de00 46px,#95dd00 48px,#f8e000 49px,#f4e800 53px,#cce800 55px,#8adb00 57px,#4bcc00 58px,#3fc900 59px,#5dd000 61px,#e1ec00 64px,#f7e400 65px,#fcce00 67px,#e1d500 68px,#e5d700 70px,#aed600 74px,#c0e400 79px,#9ad500 84px,#c3d400 89px,#9fde00 91px,#66d200 92px,#15a735 94px,#027a7d 96px,#006c93 98px,#098f54 104px,#098661 108px,#005ba6 115px,#006897 117px,#0b8e54 119px,#3eaa3f 121px,#46af3b 123px,#1a9056 125px,#0052ab 127px,#002bd7 128px,#0501dd 131px,#1300ad 135px,#1000ab 137px,#0200ef 140px,#0013ec 141px,#006a96 144px,#00738b 145px,#0056af 147px,#001de4 149px,#0502dd 151px,#1000b6 154px,#0e00af 167px,#0105f0 173px,#0019e8 177px,#0a06c6 182px,#0700d0 188px,#0a00c3 192px,#0800cb 197px,#1400b3 203px,#270083 207px,#1f008b 215px,#0c00b7 231px)"></i><i style="left:235px;width:2px;background:linear-gradient(#fd1300 0,#fe1700 1px,#ff6f00 3px,#ff5000 4px,#ff8f00 6px,#ff7600 7px,#ff4400 8px,#ff7200 9px,#fec300 10px,#f9dd00 11px,#ffb400 13px,#ffb200 14px,#ff8700 16px,#ff7a00 24px,#ff8100 25px,#fdaf00 26px,#95b000 27px,#89b304 28px,#d2cc00 29px,#febe00 30px,#ff9c00 32px,#cbd900 33px,#62d100 34px,#feb700 35px,#ff5000 36px,#fbd100 40px,#f5ef00 42px,#dde500 44px,#f8e100 45px,#fea800 50px,#fdb400 53px,#ede400 57px,#dee600 60px,#f9db00 62px,#ffac00 64px,#ff5100 66px,#ff3500 67px,#fe2a00 70px,#ff3f00 71px,#ffbd00 74px,#f0e800 76px,#dceb00 78px,#f6ed00 80px,#ff7200 86px,#ff6a00 88px,#ff9f00 91px,#efde00 94px,#d6de00 96px,#fbc300 101px,#e9c200 106px,#bae000 110px,#5bd000 113px,#42ca00 115px,#51cd00 116px,#a2e000 118px,#d7ea00 119px,#f7e400 120px,#ffb800 123px,#fad500 125px,#d7dd00 126px,#a1de00 127px,#58ca0b 128px,#099250 130px,#005fa3 132px,#003fc8 134px,#003dc5 136px,#025d97 138px,#097273 139px,#54b13b 142px,#69cd0d 144px,#5acf00 146px,#10a734 149px,#06836a 151px,#067c74 153px,#078565 156px,#00669b 159px,#002ed8 162px,#0026de 165px,#006099 172px,#18954f 175px,#46bf1d 178px,#44c410 180px,#19b027 182px,#06974e 183px,#004cbb 185px,#0013ec 187px,#0106ed 191px,#0026df 195px,#004db2 198px,#004abc 202px,#0028dc 207px,#011ede 212px,#0606d4 214px,#200092 217px,#1b0090 221px,#0e00af 228px,#0a00c2 231px)"></i><i style="left:237px;width:2px;background:linear-gradient(#fd1500 0,#fe1800 1px,#ff6e00 3px,#ff5100 4px,#ff9300 6px,#ff7700 7px,#ff4300 8px,#ff7100 9px,#fdc600 10px,#f8e000 11px,#ffb400 13px,#ffaf00 14px,#ff7e00 16px,#ff6a00 23px,#ff7c00 24px,#84c00f 25px,#3fbe1b 26px,#dcd100 27px,#fdc200 28px,#fdc000 31px,#ff8100 32px,#ff5100 34px,#ff5200 35px,#ff8a00 37px,#fbd100 39px,#dee000 40px,#f6e900 41px,#fad900 43px,#ff9d00 45px,#fe2600 48px,#fc0e00 50px,#ff1f00 51px,#fe1e00 52px,#ff6700 54px,#ffb900 56px,#f9db00 58px,#f9dc00 60px,#ffb100 62px,#ff6c00 64px,#ff5600 66px,#fd1400 68px,#fe1d00 70px,#ff7100 73px,#fdc800 76px,#f7e500 79px,#febf00 82px,#ff7900 85px,#ff7500 87px,#fcc900 91px,#bbdd00 94px,#b5e300 96px,#f3e400 99px,#ff8000 104px,#ff7c00 107px,#efe700 112px,#7fd900 115px,#6dd400 116px,#81d900 118px,#e5eb00 121px,#fbd100 123px,#ffac00 126px,#fbd000 129px,#f7e800 130px,#6dd400 133px,#56ce00 134px,#58cf00 135px,#73d400 136px,#eddc00 139px,#fec100 142px,#f9da00 144px,#e7e600 145px,#88da00 147px,#2dbe0f 149px,#0aaa2c 151px,#0aaa2d 153px,#20c002 156px,#3ec900 159px,#1cb51c 164px,#14ba0a 171px,#4dbd26 177px,#35bb1e 181px,#10b21c 183px,#0061a0 188px,#0055ae 190px,#006c94 192px,#0caf22 195px,#32c600 197px,#3ec900 198px,#37c700 199px,#1dc000 200px,#049752 202px,#005ca7 204px,#0036cc 207px,#0057ab 211px,#00866f 215px,#037b79 218px,#0022e2 223px,#0114e4 225px,#0035c8 231px)"></i><i style="left:239px;width:2px;background:linear-gradient(#fe1600 0,#fe1900 1px,#ff6d00 3px,#ff5200 4px,#ff9800 6px,#ff7800 7px,#ff4400 8px,#ff7100 9px,#fdc900 10px,#f8e300 11px,#ffb600 13px,#ffb000 14px,#ff7600 16px,#ff4c00 22px,#ff6b00 23px,#f4d400 24px,#806e45 25px,#c5b000 26px,#ffa300 27px,#fec200 29px,#fccc00 31px,#ffad00 32px,#feb800 34px,#ece400 36px,#bee600 37px,#0ea930 38px,#14a735 39px,#74d600 40px,#c7e300 41px,#cae700 43px,#bbe500 44px,#e4ed00 45px,#ffaf00 47px,#ff4100 50px,#ff4900 52px,#ff5d00 53px,#f8df00 55px,#e0ec00 56px,#e0ec00 57px,#f7e500 58px,#f8e000 59px,#f0ef00 60px,#c8e700 61px,#fbba00 65px,#fda400 68px,#feaf00 70px,#f9d400 72px,#b9e500 78px,#c6e700 80px,#f3e800 82px,#ffad00 86px,#feba00 88px,#fbd200 89px,#e2e300 90px,#a3e000 91px,#4ccc00 92px,#1caf2b 93px,#06826c 95px,#078566 96px,#0d9946 97px,#54cd01 99px,#d9e500 101px,#f9db00 102px,#ff8e00 105px,#ff7a00 107px,#ff9100 109px,#f4ea00 112px,#5dd000 115px,#2dc303 117px,#48c315 121px,#83d407 126px,#77d205 128px,#2fc00d 132px,#33c406 133px,#75d600 135px,#cae700 137px,#e3d800 140px,#b2e100 143px,#78d500 144px,#1aa539 146px,#006697 148px,#0047b8 150px,#036c88 155px,#1f994b 160px,#088d59 165px,#006b96 169px,#0021e3 173px,#0304e2 176px,#0d00c4 179px,#080ec7 183px,#001fe4 187px,#0045c6 190px,#068a61 194px,#098463 196px,#022ec4 200px,#1000bd 203px,#1b0098 206px,#0e00b1 209px,#0205e6 212px,#0122db 214px,#004aab 217px,#012ecc 220px,#0207e4 222px,#0d00b4 226px,#0a00c5 231px)"></i><i style="left:241px;width:2px;background:linear-gradient(#fe1700 0,#fe1b00 1px,#ff6d00 3px,#ff5300 4px,#ff9c00 6px,#ff7a00 7px,#ff4500 8px,#ff7000 9px,#fccb00 10px,#f7e700 11px,#ffbd00 13px,#ffb800 14px,#ff7800 16px,#ff5000 19px,#ff5a00 20px,#ff3b00 21px,#ff3b00 23px,#ffb500 27px,#fbd200 30px,#f9db00 32px,#b1e200 36px,#4acb03 39px,#38c20e 41px,#43c805 42px,#79d500 44px,#badf00 45px,#fad600 46px,#ff6500 49px,#ff5100 50px,#ffb900 52px,#ff9f00 54px,#fad500 56px,#b4e400 58px,#3fc801 61px,#32c305 64px,#46cb00 67px,#a1e000 68px,#e0e800 69px,#e8e600 70px,#b4e400 72px,#aee200 74px,#78d700 76px,#35c600 78px,#26c200 79px,#48cb00 81px,#c4e100 84px,#e2de00 87px,#dae400 88px,#bfe600 89px,#3dc800 91px,#0cae24 92px,#0062a2 94px,#0042c6 96px,#004ac1 97px,#00649f 98px,#0fae25 100px,#40c608 101px,#abe100 103px,#c5d800 105px,#aad200 108px,#83d406 110px,#359d4e 114px,#088465 118px,#0047c0 123px,#0115e8 126px,#032ac4 133px,#035b94 139px,#0622c3 143px,#1e00ad 146px,#2e007e 149px,#2c0081 152px,#0305e3 159px,#0800cd 170px,#1300a0 177px,#0c00ba 182px,#0600db 190px,#0200eb 195px,#0b00bd 198px,#280082 201px,#390071 205px,#13009e 211px,#0300e2 217px,#0200ee 222px,#0100f4 231px)"></i><i style="left:243px;width:2px;background:linear-gradient(#fe1800 0,#ff1d00 1px,#ff6e00 3px,#ff5500 4px,#ffa000 6px,#ff4700 8px,#ff7000 9px,#fcce00 10px,#f6ea00 11px,#fec200 13px,#fec100 14px,#ff8100 16px,#ff3700 21px,#ff6800 23px,#facd00 25px,#a1d900 27px,#86d700 28px,#6ac61e 31px,#50bb2c 32px,#55b734 35px,#138f55 38px,#077e70 41px,#078761 45px,#3cab3d 47px,#7daf37 49px,#80b723 52px,#7bb342 54px,#388a67 56px,#167c6a 57px,#0b756d 58px,#004ea9 60px,#0057a5 66px,#037680 67px,#209d46 68px,#3eb037 69px,#36b52e 72px,#40bc21 76px,#37b729 77px,#1aa53a 78px,#048170 79px,#00659d 80px,#049555 83px,#14b121 85px,#2eb91e 88px,#098f54 91px,#005f9c 93px,#002fd0 96px,#0036c9 98px,#08895e 103px,#088c5a 105px,#0021e3 112px,#0200e9 118px,#0f00b1 126px,#0c00b8 131px,#0d00b6 134px,#0300e2 138px,#0500d5 141px,#270083 146px,#40006a 151px,#2e007c 160px,#310079 168px,#1100a3 174px,#1000a8 179px,#2b007f 186px,#19009e 194px,#450065 201px,#250085 215px,#1100ab 219px,#1b0091 226px,#180097 231px)"></i><i style="left:245px;width:2px;background:linear-gradient(#fe1800 0,#ff1f00 1px,#ff6f00 3px,#ff5600 4px,#ffa400 6px,#ff4a00 8px,#ff7000 9px,#fbd000 10px,#f6ed00 11px,#fbd000 12px,#fdc700 14px,#ff8000 17px,#ff6600 19px,#ff7500 20px,#cfd400 21px,#96dd00 22px,#dae600 23px,#83d800 24px,#209f44 25px,#005e9d 26px,#0035ce 27px,#0007f3 30px,#010fe7 32px,#0300e8 35px,#19009b 40px,#1200a7 43px,#0c00b8 44px,#0100f0 46px,#001de5 49px,#0202e9 50px,#1600b1 51px,#21009f 52px,#180099 55px,#340076 58px,#1a0090 61px,#22008f 64px,#0d00c0 69px,#0408db 79px,#0615cb 86px,#1400b4 91px,#24008a 97px,#1000bd 106px,#250087 116px,#220088 122px,#250085 129px,#250085 140px,#3c006e 155px,#2f007b 178px,#390071 191px,#370073 218px,#2e007c 231px)"></i><i style="left:247px;width:2px;background:linear-gradient(#fe1700 0,#ff2300 1px,#ff7200 3px,#ff5800 4px,#ffa700 6px,#ff4e00 8px,#ff7000 9px,#fbd200 10px,#f5ee00 11px,#fbd100 12px,#fccb00 14px,#ff9f00 16px,#ff9b00 17px,#feac00 18px,#eacd00 19px,#86d800 20px,#1eb61b 21px,#38c700 23px,#049d49 24px,#0042cb 25px,#0013ed 26px,#0000f9 27px,#0600d4 31px,#16009f 34px,#0500d6 41px,#0700cc 44px,#0400de 46px,#0502dc 49px,#2e007c 51px,#240086 52px,#0900cb 53px,#0019e5 54px,#0033d1 56px,#010deb 60px,#0300e2 61px,#1100a4 62px,#2d007d 63px,#40006a 65px,#250085 68px,#2e007c 79px,#3e006c 101px,#410069 231px)"></i><i style="left:249px;width:2px;background:linear-gradient(#fe1700 0,#ff2800 1px,#ff5a00 2px,#ff7600 3px,#ff5a00 4px,#ffaa00 6px,#ff5200 8px,#ff7100 9px,#fbd300 10px,#f5ef00 11px,#fbd000 12px,#fec500 13px,#fccd00 14px,#fec100 15px,#fcc900 16px,#d7dc00 17px,#7ed700 18px,#29ad34 19px,#047f73 20px,#007a81 21px,#09a930 22px,#1abd07 23px,#049f46 24px,#004ac1 25px,#0014ec 26px,#0100f5 27px,#0700d1 29px,#27008a 32px,#260084 36px,#0f00ae 40px,#0600d6 43px,#0800ce 46px,#290081 50px,#2a0082 52px,#0309df 57px,#0207e7 58px,#0501db 59px,#30007a 61px,#440066 64px,#3b006f 66px,#1d008d 68px,#3d006d 72px,#380072 128px,#2b007f 168px,#430067 182px,#3c006e 231px)"></i><i style="left:251px;width:2px;background:linear-gradient(#fe1600 0,#ff2d00 1px,#ff6200 2px,#ff7b00 3px,#ff5c00 4px,#ffac00 6px,#ff5600 8px,#ff7100 9px,#fbd400 10px,#f5f000 11px,#fbd000 12px,#fec400 13px,#f9de00 14px,#c4e200 15px,#58c711 16px,#098365 17px,#0037c8 18px,#0114e7 19px,#0014ec 20px,#0048c0 21px,#049751 22px,#13b518 23px,#049752 24px,#0046c4 25px,#000fef 26px,#0400dd 28px,#220088 30px,#3f006b 32px,#360074 34px,#1e008c 35px,#0400df 37px,#0100f2 39px,#0600d2 42px,#1000a8 43px,#320078 47px,#440066 53px,#1d0092 58px,#430067 59px,#50005a 61px,#2c007e 64px,#2b007f 67px,#2d007d 85px,#430067 104px,#3b006f 157px,#1f008b 160px,#20008a 171px,#430067 174px,#440066 231px)"></i><i style="left:253px;width:2px;background:linear-gradient(#fd1500 0,#ff3200 1px,#ff6c00 2px,#ff8000 3px,#ff5e00 4px,#ffad00 6px,#ff5a00 8px,#ff7100 9px,#fad500 10px,#f5f000 11px,#fbd100 12px,#f8e000 13px,#70d500 14px,#04905c 15px,#0038d2 16px,#0013ed 17px,#0019e8 19px,#0031d7 20px,#006d92 21px,#0fb319 22px,#34c600 23px,#0bab2a 24px,#0057b1 25px,#0017ea 26px,#0100f2 27px,#0a00c1 29px,#210089 31px,#270083 33px,#1100a3 35px,#1400a6 36px,#220095 37px,#240097 38px,#0a00c2 40px,#0900c8 41px,#12009f 42px,#1d008d 43px,#1000a5 46px,#1000a8 49px,#360074 51px,#3e006c 53px,#210089 55px,#3c006e 60px,#200091 63px,#3b006f 71px,#3b006f 157px,#1e008c 160px,#20008a 171px,#410069 174px,#3e006c 198px,#430067 231px)"></i><i style="left:255px;width:2px;background:linear-gradient(#fd1300 0,#ff3800 1px,#ff7600 2px,#ff8700 3px,#ff6000 4px,#ffad00 6px,#ff5e00 8px,#ff7000 9px,#fad500 10px,#f5ef00 11px,#fbd200 12px,#f6e900 13px,#44ca00 14px,#006c94 15px,#001ee5 16px,#0009f3 17px,#000fef 19px,#0022e2 20px,#0052b6 21px,#04994f 22px,#0db020 23px,#01886c 24px,#0031d7 25px,#0100f3 26px,#140096 29px,#3d006d 31px,#50005a 38px,#270083 41px,#330077 44px,#0e00b0 48px,#0c00b8 50px,#0300e7 52px,#0128d1 56px,#0408dd 59px,#0800ce 60px,#240086 62px,#410069 64px,#3b006f 94px,#3b006f 157px,#1e008c 160px,#20008a 171px,#3b006f 174px,#3a0070 226px,#390071 231px)"></i><i style="left:257px;width:2px;background:linear-gradient(#fd1200 0,#ff3d00 1px,#ff8000 2px,#ff8f00 3px,#ff6200 4px,#ffac00 6px,#ff6200 8px,#ff7000 9px,#fad500 10px,#f5ef00 11px,#fbd300 12px,#f6ec00 13px,#2ec500 14px,#0055b3 15px,#000df1 16px,#0005f6 18px,#0023e1 20px,#0057b0 21px,#07a33d 22px,#1fbb0f 23px,#06a141 24px,#0050b9 25px,#0017ea 26px,#0101f4 27px,#0d00b5 30px,#350075 33px,#50005a 38px,#30007a 40px,#470063 49px,#320078 51px,#1b00b4 53px,#013cb9 56px,#003bc7 58px,#0004f7 60px,#0400df 61px,#210091 63px,#370073 65px,#3a0070 79px,#2e007c 102px,#430067 126px,#3b006f 157px,#1e008c 160px,#20008a 171px,#440066 174px,#380072 217px,#210089 231px)"></i><i style="left:259px;width:2px;background:linear-gradient(#fd1000 0,#ff4200 1px,#ff8b00 2px,#ff9600 3px,#ff6500 4px,#ffab00 6px,#ff6500 8px,#ff6f00 9px,#fbd400 10px,#f5ee00 11px,#fbd400 12px,#f3ef00 13px,#1fc100 14px,#004cc0 15px,#000af3 16px,#000cf1 18px,#0038d2 20px,#007a80 21px,#18be02 22px,#59cf00 23px,#1bbf03 24px,#007d7c 25px,#0039d1 26px,#000bf2 28px,#0200ee 33px,#0a00c6 35px,#1700ab 36px,#410069 37px,#4b005f 38px,#3c006e 39px,#2000a7 40px,#0a00c1 43px,#0d00b6 44px,#40006a 47px,#50005a 51px,#490061 56px,#370073 57px,#0800cf 59px,#0507da 60px,#0705d3 61px,#0300e3 63px,#0600d6 64px,#1b008f 66px,#410069 73px,#3b006f 157px,#1e008c 160px,#20008a 171px,#440066 174px,#3a0070 231px)"></i><i style="left:261px;width:2px;background:linear-gradient(#fc0e00 0,#ff4600 1px,#ff9500 2px,#ff9e00 3px,#ff6700 4px,#ffa800 6px,#ff6700 8px,#ff6d00 9px,#fbd200 10px,#f6ed00 11px,#fad600 12px,#e9ee00 13px,#12bb07 14px,#003ece 15px,#0100f1 16px,#0200ec 18px,#0000f7 19px,#001ce6 20px,#005caa 21px,#0cad25 22px,#33c600 23px,#0caf22 24px,#0060a5 25px,#001fe4 26px,#0103f4 27px,#190096 32px,#1e0091 33px,#0a00c1 35px,#1300ac 36px,#320078 37px,#3a0070 38px,#0d00b6 39px,#0005f6 40px,#0800d1 44px,#1f009b 46px,#390071 47px,#4e005c 50px,#450065 57px,#360074 59px,#420068 61px,#2a0080 62px,#0f00ab 63px,#0e00b1 64px,#280082 66px,#260084 90px,#430067 107px,#3b006f 157px,#1e008c 160px,#20008a 171px,#440066 174px,#350075 216px,#160095 231px)"></i><i style="left:263px;width:2px;background:linear-gradient(#fc0d00 0,#ff4a00 1px,#ff9f00 2px,#ffa600 3px,#ff6900 4px,#ff7b00 5px,#ffa400 6px,#ff9100 7px,#ff6800 8px,#ff6c00 9px,#fbd000 10px,#f6eb00 11px,#fad600 12px,#e4ed00 13px,#12bb08 14px,#0050ba 15px,#0018e9 16px,#001ae7 19px,#002cda 20px,#005ea7 21px,#06a33d 22px,#12b80d 23px,#029558 24px,#003dcf 25px,#0006f5 26px,#0900c4 29px,#260084 32px,#280082 34px,#1c0097 36px,#320078 37px,#2d007d 38px,#0900c7 39px,#0100f1 40px,#0023df 44px,#0215de 45px,#0d00b7 46px,#360074 47px,#4a0060 49px,#420068 50px,#19009a 52px,#350075 57px,#2b007f 59px,#0300e4 63px,#0400e1 65px,#0900c4 66px,#0b00bc 74px,#0b00bc 84px,#250085 103px,#440066 151px,#3b006f 157px,#1e008c 160px,#20008a 171px,#320078 174px,#390071 196px,#360074 221px,#2f007b 231px)"></i><i style="left:265px;width:2px;background:linear-gradient(#fc0c00 0,#ff4e00 1px,#ffa800 2px,#ffad00 3px,#ff6b00 4px,#ff7800 5px,#ffa000 6px,#ff9200 7px,#ff6800 8px,#ff6900 9px,#fccd00 10px,#f7e700 11px,#fbd300 12px,#e5ed00 13px,#15be02 14px,#0061a3 15px,#002adc 16px,#0017ea 19px,#0021e2 20px,#0049c0 21px,#018b67 22px,#07a539 23px,#007d7c 24px,#0030d8 25px,#0002f7 26px,#0e00b2 34px,#0500da 39px,#0a00c2 41px,#1100a5 42px,#2b007f 43px,#50005a 47px,#4c005e 49px,#20008a 51px,#180096 53px,#1e0096 55px,#0900c6 57px,#0202eb 62px,#0600d6 64px,#260084 66px,#430067 74px,#380072 108px,#240086 125px,#440066 144px,#3b006f 157px,#1e008c 160px,#20008a 171px,#40006a 174px,#310079 214px,#1c008e 231px)"></i><i style="left:267px;width:2px;background:linear-gradient(#fc0b00 0,#ff5100 1px,#ffb000 2px,#ffb300 3px,#ff6d00 4px,#ff7400 5px,#ff9b00 6px,#ff9100 7px,#ff6700 8px,#ff6600 9px,#fdca00 10px,#f8e100 11px,#fcce00 12px,#ecee00 13px,#13bb06 14px,#0044c9 15px,#0100f6 16px,#0100f4 19px,#000cf1 20px,#0039d1 21px,#008176 22px,#059d49 23px,#006f8f 24px,#0020e3 25px,#0200ea 26px,#250095 31px,#2e0082 34px,#0a00c3 40px,#1400ac 45px,#22009d 47px,#0f00ab 51px,#1000a8 52px,#470063 54px,#3c006e 57px,#2f0081 59px,#340076 61px,#18009c 63px,#1200a1 64px,#390071 68px,#430067 141px,#3b006f 157px,#1e008c 160px,#20008a 171px,#390071 175px,#440066 231px)"></i><i style="left:269px;width:2px;background:linear-gradient(#fc0a00 0,#ff5300 1px,#ffb700 2px,#ffb800 3px,#ff6e00 4px,#ff7000 5px,#ff9600 6px,#ff9000 7px,#ff6500 8px,#ff6300 9px,#fdc600 10px,#f9da00 11px,#fdc700 12px,#f1ef00 13px,#12bb08 14px,#004dbe 15px,#000fef 16px,#0011ee 19px,#0025df 20px,#0056b2 21px,#049e49 22px,#0eb11d 23px,#008571 24px,#0027de 25px,#0300e5 26px,#1a0090 28px,#450065 30px,#4c005e 35px,#260085 46px,#390071 52px,#50005a 55px,#460064 62px,#1200a0 66px,#2d007d 73px,#440066 97px,#3d006d 140px,#230087 151px,#330077 157px,#1e008c 161px,#20008a 171px,#440066 174px,#40006a 220px,#440066 231px)"></i><i style="left:271px;width:2px;background:linear-gradient(#fc0900 0,#ff5500 1px,#ffbc00 2px,#ffbb00 3px,#ff6f00 4px,#ff6c00 5px,#ff9100 6px,#ff8e00 7px,#ff6100 8px,#ff5e00 9px,#fec100 10px,#fbd200 11px,#ffbf00 12px,#f5ee00 13px,#13bd02 14px,#004ebd 15px,#000bf2 16px,#0100f6 19px,#000df1 20px,#003ccf 21px,#008a6b 22px,#09a831 23px,#008572 24px,#0032d6 25px,#0001f6 26px,#1a0093 32px,#1b0097 34px,#0300e4 37px,#0011ec 40px,#0200e9 43px,#250085 47px,#460064 50px,#410069 54px,#2000a8 58px,#0700d4 62px,#220088 66px,#410069 69px,#3b006f 157px,#1e008c 160px,#20008a 171px,#440066 174px,#3c006e 208px,#220088 221px,#270084 231px)"></i><i style="left:273px;width:2px;background:linear-gradient(#fc0900 0,#ff5500 1px,#ffc000 2px,#ffbd00 3px,#ff6f00 4px,#ff6900 5px,#ff8c00 6px,#ff8b00 7px,#ff5b00 8px,#ff5a00 9px,#ffbb00 10px,#fdca00 11px,#ffb600 12px,#f6eb00 13px,#12bb07 14px,#0046c7 15px,#0006f6 16px,#0005f6 19px,#0019e8 20px,#004cbe 21px,#049b4b 22px,#18b616 23px,#05994d 24px,#0047c0 25px,#000eed 26px,#0300e7 27px,#12009f 29px,#3e006c 31px,#440066 34px,#0f00b6 39px,#1700a0 42px,#3d006d 46px,#330077 50px,#0e00b0 53px,#0700d4 59px,#320078 65px,#4b005f 68px,#3b006f 157px,#1e008c 160px,#20008a 171px,#440066 174px,#3a0070 207px,#280084 219px,#2d007d 231px)"></i><i style="left:275px;width:2px;background:linear-gradient(#fb0900 0,#ff5600 1px,#fec200 2px,#ffbe00 3px,#ff6f00 4px,#ff6600 5px,#ff8800 6px,#ff8700 7px,#ff5400 8px,#ff5400 9px,#ffb400 10px,#fec200 11px,#ffaf00 12px,#f6ea00 13px,#14bd02 14px,#005ca9 15px,#002adc 16px,#0037d3 19px,#004bc0 20px,#008472 21px,#13bc04 22px,#3dc800 23px,#0bac28 24px,#0055b3 25px,#0014ec 26px,#0200ef 27px,#0c00b8 29px,#290084 31px,#320079 33px,#23009e 37px,#270088 38px,#240087 39px,#1700a2 40px,#1f0098 42px,#2e007c 45px,#270083 46px,#1300af 48px,#0a00c0 51px,#2b007f 55px,#480062 63px,#3b006f 157px,#1e008c 160px,#20008a 171px,#360074 174px,#280082 193px,#440066 223px,#440066 231px)"></i><i style="left:277px;width:2px;background:linear-gradient(#fb0900 0,#ff5600 1px,#fec200 2px,#ffbd00 3px,#ff6e00 4px,#ff6400 5px,#ff8400 6px,#ff8200 7px,#ff4c00 8px,#ff4d00 9px,#ffab00 10px,#ffba00 11px,#ffaa00 12px,#f6ed00 13px,#0fb514 14px,#0049c2 15px,#000ff0 16px,#0007f2 19px,#0015eb 20px,#0045c6 21px,#01955a 22px,#0db020 23px,#008e65 24px,#0037d2 25px,#0004f4 26px,#0d00b3 30px,#0200ef 34px,#0103f0 36px,#0b00c1 37px,#1400a8 38px,#0300e4 40px,#0b00be 44px,#1b00a0 45px,#1e00a0 46px,#0f00c0 48px,#0e00b9 52px,#250085 56px,#28008c 59px,#0c00bc 64px,#0d00b4 66px,#380072 70px,#440066 87px,#3b006f 157px,#1e008c 160px,#20008a 171px,#350075 174px,#15009b 190px,#410069 213px,#440066 231px)"></i><i style="left:279px;width:2px;background:linear-gradient(#fb0900 0,#ff5600 1px,#fec200 2px,#ffba00 3px,#ff6d00 4px,#ff6200 5px,#ff8100 6px,#ff7c00 7px,#ff4200 8px,#ff4600 9px,#ffa300 10px,#ffb200 11px,#ffa800 12px,#f2ef00 13px,#0aaa2c 14px,#0036d4 15px,#0100f4 16px,#000bf2 20px,#003ccf 21px,#008d67 22px,#0bab2b 23px,#018a69 24px,#0038d1 25px,#010aed 26px,#0700d2 28px,#1500a3 30px,#0e00b9 35px,#370073 37px,#1f008b 39px,#420068 43px,#440066 47px,#260091 49px,#0f00ab 56px,#0100f0 60px,#0200ed 63px,#14009f 65px,#40006a 70px,#3b006f 157px,#1e008c 160px,#20008a 171px,#420068 174px,#1d008d 193px,#420068 231px)"></i><i style="left:281px;width:2px;background:linear-gradient(#fc0900 0,#ff5500 1px,#fec100 2px,#ffb700 3px,#ff6b00 4px,#ff6100 5px,#ff7f00 6px,#ff7600 7px,#ff3700 8px,#ff3e00 9px,#ff9900 10px,#ffab00 11px,#ffa800 12px,#e7ed00 13px,#07a539 14px,#0039d1 15px,#0007f5 16px,#0007f5 20px,#002fd8 21px,#00708e 22px,#008e66 23px,#005bab 24px,#0011ee 25px,#0900c7 27px,#310079 32px,#450065 36px,#3b006f 37px,#150096 38px,#0b00bd 40px,#0d00b6 45px,#1b0091 46px,#210089 47px,#0f00ac 48px,#0400e3 49px,#000df1 54px,#0201eb 56px,#1900a8 58px,#0d00b6 59px,#0300e7 60px,#0200e9 62px,#210089 67px,#40006a 70px,#3a0070 95px,#3d006d 107px,#3b006f 157px,#1e008c 160px,#20008a 171px,#40006a 174px,#320078 201px,#440066 231px)"></i><i style="left:283px;width:2px;background:linear-gradient(#fc0a00 0,#ff5500 1px,#ffbf00 2px,#ffb200 3px,#ff6800 4px,#ff6100 5px,#ff7e00 6px,#ff6f00 7px,#ff2b00 8px,#ff3500 9px,#ff9000 10px,#ffa500 11px,#ffa700 12px,#dbeb00 13px,#00955b 14px,#001ee5 15px,#0200ef 16px,#0010ee 19px,#0025e0 20px,#0055b3 21px,#039c4d 22px,#0daf21 23px,#008670 24px,#002ed9 25px,#0100f2 26px,#0900c8 29px,#0d00b2 34px,#1d008d 36px,#230088 46px,#1f0096 48px,#260084 49px,#230087 50px,#0400dd 52px,#0200eb 54px,#0600d4 55px,#1f008b 56px,#410069 57px,#40006a 58px,#18009c 59px,#0800c9 60px,#1f0090 65px,#430067 69px,#370073 100px,#440066 156px,#1e008c 160px,#20008a 171px,#440066 174px,#3c006e 231px)"></i><i style="left:285px;width:2px;background:linear-gradient(#fc0a00 0,#ff5600 1px,#ffbc00 2px,#ffac00 3px,#ff6500 4px,#ff6100 5px,#ff7e00 6px,#ff6800 7px,#ff1f00 8px,#ff2b00 9px,#ff8700 10px,#ffa000 11px,#ffa400 12px,#deec00 13px,#039b4e 14px,#0032d6 15px,#000ef0 16px,#001ae7 19px,#0030d8 20px,#006998 21px,#0db021 22px,#2ec400 23px,#0aaa2d 24px,#0058ad 25px,#001ae7 26px,#0300e8 28px,#14009d 31px,#390071 33px,#410069 37px,#290081 41px,#2d007d 44px,#0b00c3 46px,#0601d8 47px,#0900ca 48px,#2e007c 50px,#290087 52px,#1b0094 54px,#450065 56px,#490061 57px,#1b0096 59px,#1200a0 62px,#3e006c 68px,#3c006e 156px,#1e008c 160px,#20008a 171px,#410069 174px,#430067 231px)"></i><i style="left:287px;width:2px;background:linear-gradient(#fc0b00 0,#ff5700 1px,#ffb900 2px,#ffa700 3px,#ff6200 4px,#ff6000 5px,#ff8000 6px,#ff6100 7px,#fe1800 8px,#ff2200 9px,#ff7f00 10px,#ff9b00 11px,#ff9d00 12px,#e5ed00 13px,#01945b 14px,#0012ed 15px,#0600d4 16px,#0400de 19px,#0103ef 20px,#0032d6 21px,#018e62 22px,#11b711 23px,#05a141 24px,#0053b6 25px,#0019e8 26px,#0100f5 27px,#0600d1 29px,#160094 31px,#2d007d 34px,#220088 37px,#50005a 43px,#460064 49px,#420068 53px,#13009e 56px,#0d00b3 57px,#0400df 58px,#0101f5 59px,#0500da 63px,#270083 67px,#430067 73px,#3b006f 157px,#1e008c 160px,#20008a 171px,#3c006e 174px,#420068 231px)"></i><i style="left:289px;width:2px;background:linear-gradient(#fc0c00 0,#ffb500 2px,#ffa000 3px,#ff5e00 4px,#ff6000 5px,#ff8200 6px,#ff5b00 7px,#fd1200 8px,#ff1b00 9px,#ff7700 10px,#ff9600 11px,#ff9500 12px,#f2ef00 13px,#029b4f 14px,#001ce6 15px,#0300e7 16px,#000cf0 20px,#003ecb 21px,#028e61 22px,#0cae24 23px,#018b67 24px,#0035d4 25px,#0001f6 26px,#0d00b5 30px,#17009b 35px,#1100a4 37px,#0800cf 39px,#2e0080 45px,#320078 48px,#20008c 50px,#12009f 56px,#0201eb 61px,#0300e8 64px,#0900c7 66px,#290081 69px,#430067 73px,#3c006e 95px,#270083 104px,#440066 118px,#3b006f 157px,#1e008c 160px,#20008a 171px,#40006a 175px,#440066 231px)"></i><i style="left:291px;width:2px;background:linear-gradient(#fc0e00 0,#ffb200 2px,#ff9a00 3px,#ff5a00 4px,#ff6000 5px,#ff8500 6px,#ff5500 7px,#fc0c00 8px,#fe1700 9px,#ff7000 10px,#ff9300 11px,#ff8d00 12px,#f6eb00 13px,#049e48 14px,#0018e9 15px,#0400e0 16px,#0100f5 19px,#0019e8 20px,#0059ad 21px,#0cae25 22px,#36c600 23px,#0bac27 24px,#0051b8 25px,#000cf1 26px,#0c00b9 29px,#140097 31px,#190093 35px,#260084 36px,#1f0097 37px,#0a00c1 38px,#0a00c1 41px,#0e00af 44px,#0600d7 47px,#0128d5 50px,#0036ca 52px,#010aeb 55px,#0300e4 56px,#0d00b2 58px,#0f00ab 60px,#0700ce 64px,#0d00b5 66px,#320078 69px,#440066 75px,#3b006f 157px,#1e008c 160px,#20008a 171px,#440066 174px,#440066 231px)"></i><i style="left:293px;width:2px;background:linear-gradient(#fd1000 0,#ffae00 2px,#ff9400 3px,#ff5700 4px,#ff6000 5px,#ff8900 6px,#ff5100 7px,#fb0600 8px,#fd1200 9px,#ff6a00 10px,#ff9200 11px,#ff8900 12px,#f7e500 13px,#07a538 14px,#001be7 15px,#0400db 16px,#0300e7 19px,#0006f6 20px,#0043c9 21px,#06a141 22px,#21c101 23px,#08a636 24px,#004cbd 25px,#000bf2 26px,#0900c4 29px,#2b007f 32px,#430067 35px,#250085 37px,#0a00c2 40px,#0607d2 46px,#0b18b6 50px,#2300a9 53px,#350075 56px,#360074 58px,#1a0090 62px,#430067 73px,#3b006f 157px,#1e008c 160px,#20008a 171px,#3e006c 174px,#410069 231px)"></i><i style="left:295px;width:2px;background:linear-gradient(#fd1300 0,#ffac00 2px,#ff8d00 3px,#ff5400 4px,#ff5f00 5px,#ff8d00 6px,#fa0200 8px,#fc0f00 9px,#ff6500 10px,#ff9400 11px,#ff8800 12px,#f8e200 13px,#0db020 14px,#0034d5 15px,#0105ef 16px,#0108f0 19px,#001de5 20px,#005caa 21px,#0caf22 22px,#38c700 23px,#0bad27 24px,#0050bb 25px,#000bf2 26px,#0c00b9 31px,#1800a8 33px,#250091 34px,#27008e 35px,#0c00c0 37px,#1800ac 44px,#1108bb 48px,#1600bb 51px,#1b00ad 52px,#440066 54px,#4d005d 58px,#3a0070 59px,#0d00b4 60px,#0300e3 61px,#0900cb 64px,#250085 68px,#440066 105px,#3b006f 157px,#1e008c 160px,#270083 172px,#40006a 184px,#440066 231px)"></i><i style="left:297px;width:2px;background:linear-gradient(#fe1600 0,#ff6b00 1px,#ffaa00 2px,#ff8800 3px,#ff5100 4px,#ff5e00 5px,#ff9100 6px,#fa0000 8px,#fc0c00 9px,#ff6200 10px,#ff9700 11px,#ff8b00 12px,#f7e400 13px,#0db020 14px,#003ece 15px,#0012ed 16px,#001ae8 19px,#0036d3 20px,#008276 21px,#39c700 22px,#8fdd00 23px,#52cd00 24px,#029657 25px,#0045c5 26px,#0022e2 27px,#0000fa 30px,#0300e8 32px,#28008b 35px,#1400b2 38px,#0100f0 43px,#0600d6 44px,#0400e4 45px,#021dd9 47px,#012bcf 50px,#0216da 52px,#0c00bb 53px,#250085 54px,#4f005b 56px,#4f005b 59px,#1100aa 61px,#1900ac 63px,#320078 67px,#440066 79px,#3b006f 157px,#1e008c 160px,#20008a 171px,#440066 174px,#3d006d 231px)"></i><i style="left:299px;width:2px;background:linear-gradient(#fe1900 0,#ff7100 1px,#ffa800 2px,#ff4e00 4px,#ff5d00 5px,#ff9500 6px,#fa0000 8px,#fc0900 9px,#ff6000 10px,#ff9b00 11px,#ff8f00 12px,#f7e400 13px,#0eb21c 14px,#0038d2 15px,#0106f1 16px,#0200ef 19px,#000ef0 20px,#0054b4 21px,#10b710 22px,#6bd400 23px,#3ac700 24px,#008c67 25px,#003dcf 26px,#0009f3 28px,#0201e9 30px,#1400b2 33px,#250091 37px,#1400ae 38px,#0100f1 42px,#0200eb 47px,#1a0091 50px,#190096 52px,#1200af 53px,#1200b6 54px,#1f009d 55px,#3c006e 56px,#480062 58px,#28008a 59px,#0800cf 60px,#0600da 61px,#17009d 62px,#3b006f 63px,#3e006c 64px,#240086 66px,#410069 74px,#350075 130px,#1f008d 143px,#360074 157px,#1e008c 160px,#20008a 171px,#390071 174px,#290081 184px,#410069 202px,#420068 231px)"></i><i style="left:301px;width:2px;background:linear-gradient(#ff1c00 0,#ff7800 1px,#ffa700 2px,#ff4d00 4px,#ff5b00 5px,#ff9800 6px,#fa0000 8px,#fb0700 9px,#ff5f00 10px,#ffa000 11px,#ff9300 12px,#f8e200 13px,#13bc03 14px,#0051b8 15px,#0022e2 16px,#001be7 19px,#0032d6 20px,#007a81 21px,#32c500 22px,#8fdc00 23px,#57cf00 24px,#029952 25px,#0048c5 26px,#002adc 27px,#0022e1 33px,#0100f3 36px,#0b00bd 39px,#1c008e 41px,#390071 45px,#14009a 48px,#380072 51px,#280082 52px,#0d00b5 53px,#0a00c4 54px,#0d00b6 55px,#40006a 57px,#380072 58px,#1300a3 59px,#0700cd 60px,#0c00ba 61px,#1c008e 62px,#480062 63px,#50005a 65px,#3c006e 70px,#390071 82px,#2e007c 91px,#280082 97px,#1800a0 102px,#20008b 112px,#270083 118px,#18009f 130px,#180092 143px,#1200a0 147px,#2f007b 154px,#1a0090 163px,#260084 176px,#17009f 185px,#2c007e 200px,#340076 212px,#2e007c 220px,#20008f 231px)"></i><i style="left:303px;width:2px;background:linear-gradient(#ff2000 0,#ff8000 1px,#ffa700 2px,#ff4b00 4px,#ff5a00 5px,#ff9b00 6px,#fa0000 8px,#fb0600 9px,#ff6000 10px,#ffa600 11px,#ff9600 12px,#f9dc00 13px,#28c300 14px,#0052b8 15px,#0014ec 16px,#001ee5 19px,#003ccf 20px,#008c67 21px,#55ce00 22px,#b2e300 23px,#80d900 24px,#0bac28 25px,#00649e 26px,#0041c9 27px,#001fe4 37px,#0006f3 40px,#0202e9 44px,#0d00b4 45px,#13009d 46px,#1000a6 47px,#2f007b 50px,#230087 51px,#0c00b9 52px,#0202eb 59px,#050fd2 62px,#180ab3 64px,#1500bc 67px,#1c009a 72px,#0809ca 81px,#0213e0 85px,#040cd9 93px,#0d00b8 98px,#0700cd 102px,#0a00c3 108px,#0209e6 114px,#0129d1 119px,#0300e5 125px,#0112e4 135px,#0500dc 138px,#0b00bf 141px,#0300e2 148px,#0b00c2 154px,#0200ec 162px,#0700d3 166px,#190095 173px,#0b00bf 178px,#0205ec 182px,#0208e8 193px,#0400de 196px,#230087 201px,#260084 205px,#0d00b5 211px,#0101f1 219px,#0118df 224px,#0300e8 227px,#0600d3 231px)"></i><i style="left:305px;width:2px;background:linear-gradient(#ff2600 0,#ff8700 1px,#ffa800 2px,#ff4a00 4px,#ff5800 5px,#ff9e00 6px,#fa0000 8px,#fb0600 9px,#ffab00 11px,#ff9c00 12px,#f9de00 13px,#28c300 14px,#004bbf 15px,#0008f4 16px,#001ae7 19px,#0037d3 20px,#008473 21px,#41c900 22px,#99df00 23px,#5dd000 24px,#039a4f 25px,#004ebc 26px,#0036d3 27px,#0051b9 30px,#0060a4 31px,#005bab 33px,#027683 35px,#016595 37px,#0013ec 40px,#0100f0 41px,#1100b8 43px,#200094 45px,#2d007d 46px,#250085 49px,#170098 50px,#0900c9 51px,#0016ea 52px,#007686 53px,#006c91 56px,#001ee5 62px,#0012ea 65px,#0021e2 69px,#001ae8 74px,#0037ce 76px,#059f45 80px,#09a733 81px,#08a734 82px,#01886b 84px,#0054b4 86px,#0044c8 88px,#006d93 91px,#00718d 92px,#0029dd 96px,#0035d1 98px,#006698 100px,#037184 101px,#046f85 102px,#0043bb 104px,#0025dc 105px,#0311dc 108px,#036e86 116px,#007489 119px,#00609e 123px,#067c73 127px,#09a734 132px,#47bf1d 135px,#5bbf27 137px,#43a547 139px,#056f82 141px,#001de5 143px,#0300e8 145px,#0600d7 148px,#0300e3 155px,#0009f1 158px,#0100f4 165px,#0030d8 169px,#0004f5 172px,#0500dc 176px,#001be6 183px,#0036d4 186px,#069255 189px,#09a13c 190px,#089f40 191px,#006d92 193px,#0045c7 194px,#0014ec 196px,#0214e1 199px,#023cb3 202px,#095c82 204px,#2a8667 207px,#0f8e56 210px,#006597 214px,#006898 216px,#038f5f 218px,#0eb11d 220px,#11b70f 221px,#0aaa2c 223px,#00669d 226px,#0034cc 229px,#002fd1 231px)"></i><i style="left:307px;width:2px;background:linear-gradient(#ff2c00 0,#ff8f00 1px,#ffa900 2px,#ff6e00 3px,#ff4900 4px,#ff5600 5px,#ff9f00 6px,#ff5c00 7px,#fa0000 8px,#fb0600 9px,#ffaf00 11px,#ff9e00 12px,#fad700 13px,#55ce00 14px,#006a97 15px,#0018e9 16px,#0016ea 19px,#0032d6 20px,#008177 21px,#46ca00 22px,#a5e100 23px,#6dd400 24px,#05a141 25px,#0054b4 26px,#003bd0 27px,#0050b8 29px,#00649e 30px,#005fa6 32px,#00689a 33px,#0ba435 35px,#089c45 36px,#01866e 37px,#0054b3 38px,#0024e1 39px,#0100f3 40px,#1500a7 42px,#260092 44px,#0a00c4 49px,#0800c9 51px,#0100f5 52px,#0063a0 53px,#1ab619 54px,#25c200 57px,#14bb08 58px,#008a6a 60px,#0060a5 61px,#003ecd 62px,#001be7 65px,#0003f7 66px,#0204eb 70px,#0300e7 73px,#0115e7 77px,#0013ec 83px,#005ca6 92px,#012bd0 98px,#004fbc 106px,#007a80 108px,#0fae26 110px,#3fc018 112px,#37b62b 116px,#23ab34 120px,#098462 122px,#0132c7 125px,#0200ee 129px,#0019e8 132px,#087773 135px,#1d8565 137px,#117e68 138px,#056a84 139px,#011de1 141px,#0205e9 142px,#0c00b9 145px,#0406dd 152px,#0006f5 157px,#0023e1 167px,#0100f5 178px,#0035d4 180px,#028d62 182px,#0aaa2e 183px,#35bf13 185px,#24ba15 188px,#0aaa2e 190px,#006d92 194px,#006c93 196px,#008177 199px,#027387 202px,#127e69 206px,#087c6e 209px,#0045b8 214px,#005da1 216px,#0aa92e 219px,#0fb319 220px,#0eb319 221px,#029755 223px,#0062a1 225px,#0051b1 227px,#006b95 231px)"></i><i style="left:309px;width:2px;background:linear-gradient(#ff3100 0,#ff9700 1px,#ffaa00 2px,#ff6a00 3px,#ff4900 4px,#ff5400 5px,#ffa000 6px,#ff6100 7px,#fa0000 8px,#fb0700 9px,#ffb300 11px,#ffa700 12px,#f6e900 13px,#1ebe07 14px,#004dbd 15px,#0019e8 16px,#0020e3 19px,#0035d4 20px,#007c7e 21px,#32c600 22px,#8edc00 23px,#55ce00 24px,#029952 25px,#0051b9 26px,#003ecd 27px,#0052b8 29px,#0049bf 30px,#0010ec 32px,#0014ec 33px,#003ad1 34px,#00659e 35px,#005aa8 37px,#0062a1 38px,#0021e2 41px,#0017e9 44px,#002cda 46px,#0019e8 48px,#004eb2 52px,#00728c 53px,#029853 54px,#12af24 56px,#1fb422 58px,#11ae27 59px,#069c48 60px,#004eba 62px,#0027de 63px,#0306e1 65px,#0b00bf 67px,#0202eb 74px,#0300e3 89px,#000cef 105px,#0707d2 111px,#0129d1 115px,#022ec5 119px,#0200e9 125px,#0700d0 133px,#0500d8 139px,#0d00b2 148px,#220088 152px,#19009f 155px,#0700d3 159px,#1400a8 165px,#1500a4 170px,#320078 175px,#180092 179px,#0d00c3 182px,#0037c3 189px,#011ae2 193px,#0300e6 196px,#0500dc 207px,#0300e7 211px,#0700d4 215px,#002fcf 222px,#0208e9 226px,#020ce3 231px)"></i><i style="left:311px;width:2px;background:linear-gradient(#ff3600 0,#ff9e00 1px,#ffac00 2px,#ff6500 3px,#ff4800 4px,#ff5200 5px,#ff9f00 6px,#ff6700 7px,#fa0200 8px,#fb0800 9px,#ff6800 10px,#ffb500 11px,#ffaa00 12px,#f5ee00 13px,#10b612 14px,#0039d1 15px,#0008f3 16px,#0101f4 19px,#0011ee 20px,#0056b2 21px,#13bb07 22px,#80d900 23px,#56ce00 24px,#039d4b 25px,#0053b7 26px,#0039d1 27px,#0032d6 29px,#0113e4 31px,#021ad9 32px,#0134c5 33px,#087871 34px,#31b725 35px,#28bb15 36px,#0aa92f 37px,#0039cf 39px,#020fe3 40px,#0d00c1 41px,#0f00b1 43px,#0600d7 45px,#0200ef 46px,#0008f4 47px,#004ebb 49px,#069c47 52px,#07a539 53px,#00708f 55px,#006b96 56px,#0032d6 58px,#010ceb 60px,#0600d3 63px,#190096 66px,#19009b 69px,#0700cd 73px,#1000af 79px,#0d00b7 86px,#0c00b7 90px,#0300e8 99px,#0f00ac 108px,#180095 114px,#30007a 120px,#160094 130px,#0500d8 135px,#0800cb 140px,#1f008b 151px,#210089 154px,#0500da 159px,#0900c7 162px,#17009a 165px,#1100a2 168px,#0a00c3 171px,#1c008e 176px,#270083 184px,#0d00b4 191px,#0700cf 197px,#0300e6 201px,#0900c8 204px,#1100a3 207px,#1200a9 216px,#13009c 220px,#0700ce 226px,#0900c5 231px)"></i><i style="left:313px;width:2px;background:linear-gradient(#ff3900 0,#ffa400 1px,#ffad00 2px,#ff6100 3px,#ff4800 4px,#ff5000 5px,#ff9f00 6px,#ff6c00 7px,#fb0600 8px,#fb0900 9px,#ff6a00 10px,#ffb700 11px,#ffaa00 12px,#f3ef00 13px,#0cad26 14px,#0023e1 15px,#0200ef 16px,#0105ee 19px,#0017ea 20px,#0061a3 21px,#27be0c 22px,#87da00 23px,#52ce00 24px,#02935b 25px,#0041cb 26px,#0027de 27px,#0032d7 30px,#0046c8 31px,#007785 32px,#0eb11c 33px,#7dd800 34px,#a4e100 35px,#91dd00 36px,#4dcc00 37px,#0aaa2c 38px,#005caa 39px,#0100f2 40px,#180097 41px,#290081 42px,#0508d7 44px,#0015eb 50px,#003ecb 52px,#005caa 53px,#004bbd 54px,#005baa 55px,#068a60 56px,#08984a 57px,#006996 59px,#001ae7 61px,#0101f1 62px,#1100a8 65px,#1500a3 68px,#0a00c1 72px,#240086 80px,#140099 91px,#1000a8 95px,#0500d7 100px,#0900c5 103px,#17009a 108px,#170095 118px,#210089 124px,#0600d4 131px,#0900c6 135px,#1c008e 139px,#20008a 148px,#2a0080 154px,#0f00ab 158px,#0400de 161px,#0400e2 164px,#0d00b4 170px,#1b008f 179px,#0700d0 188px,#0500dc 191px,#1100a3 196px,#0c00b9 202px,#250085 208px,#1100a3 211px,#0500da 214px,#0900c8 217px,#1000a6 220px,#0400de 229px,#0400df 231px)"></i><i style="left:315px;width:2px;background:linear-gradient(#ff3c00 0,#ffaa00 1px,#ffaf00 2px,#ff5d00 3px,#ff4800 4px,#ff4e00 5px,#ff9e00 6px,#ff7000 7px,#fc0900 8px,#fc0a00 9px,#ff6c00 10px,#ffb800 11px,#ffa400 12px,#f9dd00 13px,#41c900 14px,#0059ae 15px,#001fe4 16px,#0027de 19px,#0040ca 20px,#018969 21px,#4bcc00 22px,#a2e000 23px,#5fd100 24px,#02915e 25px,#0036d3 26px,#0010ef 27px,#0300e3 29px,#1600a8 31px,#1900a6 32px,#0707d2 34px,#0224d5 35px,#0038c1 36px,#0130c5 37px,#0900c9 39px,#0a00c5 41px,#0104ef 43px,#002cda 44px,#003ec8 45px,#001fe2 50px,#002fd6 52px,#0041c1 53px,#0035d4 54px,#0038cd 55px,#00609e 56px,#004db5 58px,#0105f2 61px,#0400de 62px,#1e008c 64px,#380072 66px,#220088 69px,#0a00c0 73px,#0600d3 77px,#0400e0 80px,#0a00c3 82px,#160098 84px,#160094 87px,#0a00c0 92px,#12009e 99px,#0600d6 104px,#0900c8 120px,#0209e7 128px,#0900cb 137px,#17009f 142px,#0e00c3 148px,#1700ad 154px,#0900cb 157px,#0102f2 160px,#0008f4 164px,#0200ee 166px,#0d00b6 171px,#1000a9 175px,#1c008e 178px,#15009b 180px,#0100f2 184px,#002bdb 188px,#001be7 191px,#0202ee 193px,#0f00aa 197px,#0900c4 202px,#190093 205px,#3f006b 208px,#330077 212px,#0f00ae 217px,#0b00bd 220px,#290081 225px,#280082 231px)"></i><i style="left:317px;width:2px;background:linear-gradient(#ff3e00 0,#ffae00 1px,#ffb100 2px,#ff5a00 3px,#ff4700 4px,#ff4c00 5px,#ff9d00 6px,#ff7400 7px,#fc0c00 8px,#fc0c00 9px,#ff6e00 10px,#ffba00 11px,#ffa800 12px,#f8e100 13px,#35c600 14px,#0049c3 15px,#000ff0 16px,#0012ed 19px,#002adc 20px,#00728c 21px,#2cc400 22px,#8fdc00 23px,#55ce00 24px,#01925e 25px,#003bd0 26px,#0018e9 27px,#0100f3 29px,#0400dc 30px,#0f00ae 31px,#130099 32px,#0400dc 34px,#0200ea 35px,#0300e3 36px,#1200a2 38px,#0d00b6 39px,#0100f4 40px,#001ce6 41px,#0300e8 45px,#0f00ad 48px,#0e00b2 51px,#0700d2 55px,#0a00c3 56px,#0300e5 58px,#0600d6 60px,#160094 63px,#1a0097 65px,#0901ce 68px,#0415d4 72px,#0900cb 75px,#0a00c0 78px,#0800cc 82px,#0800cf 85px,#000fed 91px,#0120df 97px,#077c71 104px,#118562 107px,#05737d 110px,#0043c4 115px,#0019e8 117px,#0200e9 120px,#001ae7 127px,#0105f0 131px,#0800cd 137px,#0208e7 141px,#0030d7 146px,#0063a0 150px,#005aa8 156px,#027e76 163px,#006997 166px,#0039c3 170px,#004bab 175px,#0209e5 182px,#000bf2 184px,#0034d2 188px,#020ae5 192px,#0600d8 193px,#190097 195px,#270083 197px,#15009d 199px,#0500d9 201px,#0200ee 203px,#0500de 205px,#1300b6 208px,#0211dd 215px,#0205e6 219px,#0b10bc 225px,#0705d1 231px)"></i><i style="left:319px;width:2px;background:linear-gradient(#ff3f00 0,#ffb200 1px,#ffb200 2px,#ff5700 3px,#ff4700 4px,#ff4b00 5px,#ff9b00 6px,#ff7700 7px,#fd0f00 8px,#fc0d00 9px,#ff6f00 10px,#ffbe00 11px,#ffaf00 12px,#f7e500 13px,#30c500 14px,#003ecc 15px,#0105f1 16px,#000ef0 19px,#002fd8 20px,#008473 21px,#53ce00 22px,#b7e400 23px,#82da00 24px,#08a734 25px,#0052b7 26px,#002cdb 27px,#0115e3 31px,#020fe3 36px,#0900c6 37px,#170093 38px,#1a0098 39px,#0b00c2 40px,#0500da 41px,#0d00b3 46px,#0b00bf 49px,#010aea 53px,#010beb 55px,#0700d3 56px,#1100a1 57px,#0f00aa 58px,#0200e9 60px,#002adc 64px,#0060a2 66px,#07a439 68px,#23be0a 69px,#80d800 71px,#8ddb00 72px,#7cd800 73px,#17b90f 75px,#007883 77px,#005aad 78px,#0035d1 81px,#003fc3 84px,#00629b 86px,#10944e 88px,#4fc417 91px,#54c711 96px,#50cd00 99px,#2cc206 101px,#39ab3c 104px,#50a44d 107px,#218665 109px,#066f7f 110px,#002ed8 112px,#0010ef 114px,#0016ea 116px,#0027de 117px,#016991 119px,#0c8e54 120px,#5bc617 122px,#76d400 123px,#89d900 124px,#7ed700 125px,#1fbb10 127px,#029b50 128px,#006899 129px,#003bd0 130px,#0109f0 132px,#0105f3 136px,#0030d8 138px,#006e91 141px,#00708f 143px,#002adb 149px,#003ccc 151px,#02866b 155px,#008177 157px,#0058af 159px,#003ac3 161px,#0143ad 164px,#005fa0 167px,#059c49 172px,#059750 174px,#0038d2 180px,#0100f5 184px,#0c00ba 188px,#12009f 190px,#0b00be 192px,#0700d6 193px,#023bb4 196px,#0042b7 200px,#067779 202px,#1a9c46 203px,#66cb0f 205px,#76d206 206px,#64c816 208px,#30b42b 211px,#58c90d 215px,#4dc21a 216px,#0b9847 218px,#027b7c 219px,#00649e 220px,#005da8 221px,#007785 223px,#12b31c 227px,#40c40d 231px)"></i><i style="left:321px;width:2px;background:linear-gradient(#ff4000 0,#ffb400 1px,#ffb300 2px,#ff5600 3px,#ff4a00 5px,#ff9b00 6px,#ff7900 7px,#fd1100 8px,#fc0d00 9px,#fec100 11px,#ffba00 12px,#f1ef00 13px,#1abb0b 14px,#0036d3 15px,#0107ee 16px,#0012ed 19px,#0032d6 20px,#008671 21px,#52cd00 22px,#b1e300 23px,#77d700 24px,#05a043 25px,#0046c7 26px,#0020e3 27px,#000cf1 30px,#0028de 35px,#0014eb 36px,#0b00be 37px,#280082 38px,#2b007f 39px,#0900c6 41px,#0b00bf 43px,#24008d 45px,#280089 46px,#0700d3 49px,#210094 51px,#260089 52px,#0400e2 54px,#0600d9 55px,#1600a7 56px,#390071 57px,#460064 59px,#27008a 61px,#0b00c3 63px,#002ad7 67px,#02678f 73px,#005fa5 77px,#001ae8 81px,#011bdf 85px,#0033d0 87px,#0a8c57 92px,#56be28 96px,#51bd28 98px,#0b8d55 100px,#0028dd 102px,#020ae8 103px,#1e008f 107px,#15009a 110px,#0200ee 114px,#0010ee 116px,#0030d8 118px,#026590 120px,#157e69 121px,#5da154 123px,#66a84d 124px,#5aa44f 125px,#067777 127px,#0046bf 128px,#0018e9 129px,#0206ea 130px,#0905c8 132px,#030adf 135px,#0100f5 137px,#040cd9 142px,#0229ca 144px,#055495 147px,#006c92 155px,#003ccc 157px,#0018e9 158px,#0200ee 159px,#0a00c6 160px,#1200af 162px,#0b00bd 165px,#0200ec 167px,#0010ec 169px,#0035cc 174px,#003ccf 177px,#005caa 179px,#019954 182px,#049f46 183px,#039d4b 184px,#018d66 185px,#001fe4 188px,#0300e4 190px,#0700d3 192px,#002dd4 200px,#04608e 203px,#055b8f 205px,#0122d9 210px,#002dd8 212px,#017783 216px,#007f79 218px,#003ad0 222px,#0032d4 225px,#038769 231px)"></i><i style="left:323px;width:2px;background:linear-gradient(#ff4100 0,#ffb600 1px,#ffb300 2px,#ff5500 3px,#ff4a00 5px,#ff9a00 6px,#ff7a00 7px,#fd1200 8px,#fc0e00 9px,#fec300 11px,#ffc000 12px,#eeef00 13px,#25c200 14px,#004fbb 15px,#001ae8 16px,#001ae7 19px,#002fd8 20px,#007489 21px,#28c300 22px,#85da00 23px,#47cb00 24px,#00896b 25px,#0034d5 26px,#0011ee 27px,#0202ed 31px,#0500dc 34px,#0900ca 35px,#25008b 36px,#470063 37px,#480062 38px,#250085 40px,#1800a8 43px,#2000a5 44px,#40006a 45px,#50005a 47px,#260084 49px,#2b007f 52px,#0301e5 54px,#0904cb 56px,#370073 60px,#3d006d 65px,#21008d 67px,#0500d9 69px,#0300e7 75px,#23008c 81px,#15009d 84px,#0c00b8 87px,#0a00c3 94px,#0500dc 99px,#0600d6 104px,#20008a 109px,#1c0095 112px,#0103f4 116px,#0022e2 119px,#000df1 124px,#004bc1 129px,#028f61 133px,#05816e 135px,#0147ab 138px,#0806cd 143px,#1100a6 147px,#0100f0 152px,#010bed 157px,#000af3 163px,#003dca 165px,#098f53 168px,#0a9150 170px,#0042c5 173px,#000af3 175px,#0603d7 182px,#0600d5 189px,#0004f5 200px,#0600d5 212px,#1300b7 215px,#050fd2 227px,#051ec8 231px)"></i></div>
<svg width="707" height="759" viewBox="0 0 707 759">
<defs><clipPath id="clipA"><rect x="39" y="29.3" width="285" height="74.5"/></clipPath><clipPath id="clipC"><rect x="377.7" y="29.4" width="318.50000000000006" height="298.8"/></clipPath><clipPath id="clipI"><rect x="423.6" y="57.4" width="86.09999999999997" height="96.5"/></clipPath><clipPath id="clipD"><rect x="39" y="402.7" width="285.5" height="78.10000000000002"/></clipPath><clipPath id="clipF"><rect x="377.8" y="402.5" width="320.49999999999994" height="143.0"/></clipPath><clipPath id="clipG"><rect x="377.7" y="583" width="320.59999999999997" height="139.5"/></clipPath></defs>
<text x="4.8" y="17.8" font-size="19.5" font-weight="bold" text-anchor="middle" fill="#000">a</text>
<text x="181.8" y="8.3" font-size="11.3" text-anchor="middle" font-weight="normal" fill="#1a1a1a">Phase (deg)</text>
<text x="39" y="20.7" font-size="11" text-anchor="middle" font-weight="normal" fill="#1a1a1a">0</text>
<text x="110.2" y="20.7" font-size="11" text-anchor="middle" font-weight="normal" fill="#1a1a1a">45</text>
<text x="181.5" y="20.7" font-size="11" text-anchor="middle" font-weight="normal" fill="#1a1a1a">90</text>
<text x="252.8" y="20.7" font-size="11" text-anchor="middle" font-weight="normal" fill="#1a1a1a">135</text>
<text x="324" y="20.7" font-size="11" text-anchor="middle" font-weight="normal" fill="#1a1a1a">180</text>
<text x="33" y="41.3" font-size="11" text-anchor="end" font-weight="normal" fill="#1a1a1a">1</text>
<text x="33" y="67.9" font-size="11" text-anchor="end" font-weight="normal" fill="#1a1a1a">0</text>
<text x="33" y="94.6" font-size="11" text-anchor="end" font-weight="normal" fill="#1a1a1a">-1</text>
<text transform="translate(10,58) rotate(-90)" font-size="11.3" text-anchor="middle" fill="#1a1a1a">Voltage (V)</text>
<line x1="39" y1="64" x2="324" y2="64" stroke="#555" stroke-width="1.1"/>
<g clip-path="url(#clipA)">
<path d="M39,63.8l.4-2.2 .5,.3 .5,2.8 .4-.1 .5,.2 .4-1.7 .5,.8 .4-.9 .5,3.7 .4-5 .5,2.1 .4-.9 .5,1.3 .4,.4 .5-1.4 .4-.6 .5,1.6 .4,0 .5-1.2 .4,2.6 .5,1 .4-2.8 .9,3.8 .5-1.5 .4-.4 .5,1.4 .4,.8 .5-2.2 .4-.9 .9,3.8 .5-1.2 .4,.1 .5,2 .9-1.6 .4,2.3 .5,1.2 .4-2.6 .5-.7 .4-2.2 .5,5.1 .4-1.6 .5,0 .4,1.8 .5-5.8 .4-1.8 .5,3.1 .4-6.9 .5,1 .9,1.4 .4-1.3 .5,7 .4-8.4 .5-4.8 .4,3 .5-6.6 .4,6.7 .5,1.3 .4,5.9 .9-2 .5,4.1 .4-5.1 .5,2 .4-1.7 .5,3.2 .4-5.8 .5,1.6 .4,3 .9-6.3 .5-1.2 .4,12.7 .5-8.8 .4,1.1 .9,6 .5-8.3 .4,9.2 .5-7.1 .4-2.8 .5,11.7 .4-4.1 .5,3.3 .9-13.2 .4-1.4 .5,16.3 1.3-15 .9,10.7 .5-4.2 .9,2.3 .4,2.1 .5-4.9 .4,0 .9,3.2 .5,4.8 .4-4 .5-7.9 .9,12 .4-12.6 .5,2.1 .4-6.6 .5,9.6 .9,7.9 .4-14 .5-6.1 .4,16.5 .5,.1 .4-5.8 .5,6.5 .4-2.2 .5-.1 .9-7.6 .4,4.8 .5-3.7 .4,6.4 .5-2.3 .4,12.5 .5-3.5 .4-11.8 .5,6 .4-5.7 .5-.7 .4-4.1 .5,2.4 .4-.4 .9,10.1 .5,.4 .4-1 .5,3.1 .9-6 .4-1.9 .5,3.9 .4,8.2 .5-9.7 .9-7.7 .4,3 .5,7.2 .4-.3 .5-14.8 .4,5.3 .5-5.6 .4-.9 .5,16 .4-5.4 .9-1.7 .5,.2 .9,3.1 .4,9 .5-6.6 .4,2.3 .5-4.4 .4,2.4 .5-6.1 .4-1.4 .5,2.8 .4,.4 .5,1.5 .4,3.1 .5-1.2 .4,1.4 .5-4.8 .4,1.4 .5-2.2 .4,9.9 .5-11.3 .4,8.6 .5,.4 .4-3 .5,1.5 .4-4.5 .9,8.3 .5-2.2 .4-12.3 .9,14.4 .5-5.7 .4,7.1 .5-17.6 .4,17.2 .5-10.4 .4-.4 .5,11.2 .4-10 .5-4.9 .4,3 .5,1.2 .4-3.7 .5,4.3 .4-.4 .5,2.4 .4-3.6 .5,8.4 .4-9.2 .5,7.4 .4,3.5 .9-18 .5,4.6 .4,8.9 .5-6.1 .4,6.3 .5-1.5 .4-.3 .5,13.7 .4-13.8 .5,6.2 .4-1.1 .5,4.8 .4,.5 .5-4.6 .4-12.1 .5-5.5 .4,9.9 .5-5.6 .9,19.5 .4-12.8 .5-2.6 .4,5.2 .5-4.5 .4-1.4 .5,9.8 .4,4.3 .5-7.7 .4,1.6 .5,6.6 .4-1 .5-2.9 .4,6.3 .5-14.8 1.3-26.2 .5,15.8 .4,1.6 .5-5.6 .9,19.2 .9-17.5 .4-2.6 .5,.9 .4-5.6 .5,26 .4-7.9 .5,3.8 .4,7.9 .5-13.1 .9,28.5 .4-17.7 .5,.3 .4,7.4 .9-29.4 .5-2.5 .4,10.8 .5,5.8 .4,.5 .5,10.3 .4-5 .5,2.4 .4-6.9 .5-3.2 .4,11.6 .5-3.1 .4-16.8 .9,13.4 .5-4 .4,5.6 .5-4.8 .4,6.3 .5-5.6 .4,12.2 .5-20.7 .9,22.4 .4-10.1 .5-.1 .4-3.2 .5,9.1 .4-13.9 .5-25 .4,31.1 .5-21.5 .4-.8 .5,9.4 .4,26.9 .9,13.4 .5,16.7 .4-3.5 .5,1 .9-45.4 .4,7.7 .5-1.6 .9-9.2 .4-7.4 .5-1.9 .4-.7 .9-16.2 .5,9.3 .4,20.8 .5-4.6 .4,4.9 .5-3.8 .4,2.5 .5-8.1 1.8,11.7 .4-.4 .5-1.9 .9,12.1 .4-2.5 .5,7.1 .9,7.3 .9-4.5 .4,2.7 .5-20.7 .9-10.9 .4-12.4 .5-5 .4-3.9 .5,8.1 .4-8 .5-.9 .4,.7 .9,14.3 .5,16.8 .4,9.2 .5-6.2 .4,5.5 .5,1.3 .4,8.7 .5,3.6 .4,9.2 .5-5.9 .4,2 .9-9.9 .5-2.1 1.3-13.6 .5-.7 .4,2.9 .5-1.7 .4-11.1 .5,3.1 .4-8.4 .5-3.4 .4-1.8 .9-9 .5,.7 .4,3.7 .5,13.3 .4,3.7 .5,2 .4-2.1 .5,17.4 .4-7.2 .5,5.5 .4,0 .5,6.8 .4-.2 .5-2.6 .4,5.1 .5-1.3 .4-2.2 .5,.6 .4-8.2 .9-1.2 .9-11.2 .5-9.1 .4-1.4 .5,0 .4-5.5 1.8,22 .5,2.4 .4-.5 .5-5 .4,3.8 .5,7.4 .4-5.7 .5,6 .4-7.1 .5,7.1 .4,.6 .5-8 .4,1.3 .5,8.3 .4-14.3 .5-7.9 .4,19.5 .5-16.7 .4,13.5 .9,3.1 .5,9.9 .4-15.2 .5,.4 .4,4.2 .5-3 .4,6.4 .9-14.1 .5,14.6 1.3-17.1 .5-1.3 .4,10.8 .5,2.1 .4-6.7 .5,4.3 .4-.6 .5-8.9 .4-3.8 .5,8.8 .4,3.2 .5-3.3 .4,14.1 .5-9.9 .4,3.7 .5-20.4 .4,9 .9,8.5 .5,13.5 .4-20.1 .5-6.5 .4,14.1 .5-8 .4,.2 .5,13.6 .4-15.4 .5-3.6 .4,7.4 .5,2.2 .4-3.8 .5,17 .4-1.9 .5,5.9 .4,17.8 .5-22.4 .4-2.2 .5,5 .4-16 .5-.9 .4-12.7 .5,7.4 .4-9.5 .5,16 .4-2.8 .5,7.1 .4-2 .5-10.3 1.3,16.9 .5-16.5 .4,2.3 .5,7.4 .4-2.6 .5,8.7 .4,.6 .5-2.1 .4-8.5 .5,.3 .4,6.6 .5-10 .4-.9 .5,3.8 .4-5 .5,8.9 .4-.8 .5-4 .4,2.8 .5-4.4 .4,12.6 .5-16.8 .4,14 .5-2.4 .4,7.2 .5-14.1 1.3-16.7 .5,7.8 .4-2.1 .9,18.4 .5-11.3 .4,6.2 .5,1.9 .4-2.8 .5,10.2 .4,.6 .5-1.1 .4-10 .5,.1 .9-4.2 .4,17 .9-9.5 .5,10.1 .4-6.1 .5-11.9 .4-1.6 .5,1.1 .4,8.2 .5,2.7 .4-5 .5,10.8 .4-.6 .5-2.6 .4,7.7 .5-1.1 .9-11 .4-1.2 .5,.2 .4-.8 .5,4.4 .9-3.5 .4,1.6 .5,.7 .4-.4 .5-.8 .4-1.4 .5,.8 .9-5.1 .4,2.1 .5-2.3 .9,2.9 .4-1.4 .5,.6 .4-2.3 .5,2.4 .4-3.1 .5,1.4 .4,4.1 .5-3.5 .4-.7 .5,3.6 .4-1.5 .5,3.9 .4-2 .5,2.6 .4-2.3 .5,3.4 .4,1.4 .5-4.1 .4-2.3 .5,4.1 .4-1.1 .9,2.5 .9-1.5 .5,4.1 .4-1.7 .5,.6 .4,2.2 .5-3.7 .4-.5 .5,3.3 .4-3.3 .5,1.5 .4-.2 .5-2.4 .4,.9 .5-.7 .4-2 .5-.2 .4,.3 .5,2.5 .4-.2 .5-3.3 .4,1.8 .5-1.2 .4,1 .5-1.1 .4,.5 .5-3.3 .4,2.3 .5-1.1 .4-.5 .5-1.6 .4,2.4 .5-1.5 .4-.1 .5-.8" stroke="#0000ff" stroke-width="1.5" fill="none" stroke-linejoin="round" />
</g>
<rect x="39" y="29.3" width="285" height="74.5" fill="none" stroke="#222" stroke-width="1.3"/>
<line x1="39" y1="37.4" x2="43" y2="37.4" stroke="#222" stroke-width="1.1"/>
<line x1="324" y1="37.4" x2="320" y2="37.4" stroke="#222" stroke-width="1.1"/>
<line x1="39" y1="64" x2="43" y2="64" stroke="#222" stroke-width="1.1"/>
<line x1="324" y1="64" x2="320" y2="64" stroke="#222" stroke-width="1.1"/>
<line x1="39" y1="90.7" x2="43" y2="90.7" stroke="#222" stroke-width="1.1"/>
<line x1="324" y1="90.7" x2="320" y2="90.7" stroke="#222" stroke-width="1.1"/>
<line x1="39" y1="50.7" x2="41.5" y2="50.7" stroke="#222" stroke-width="1.1"/>
<line x1="324" y1="50.7" x2="321.5" y2="50.7" stroke="#222" stroke-width="1.1"/>
<line x1="39" y1="77.3" x2="41.5" y2="77.3" stroke="#222" stroke-width="1.1"/>
<line x1="324" y1="77.3" x2="321.5" y2="77.3" stroke="#222" stroke-width="1.1"/>
<line x1="74.6" y1="29.3" x2="74.6" y2="32.3" stroke="#222" stroke-width="1.1"/>
<line x1="110.2" y1="29.3" x2="110.2" y2="32.3" stroke="#222" stroke-width="1.1"/>
<line x1="145.9" y1="29.3" x2="145.9" y2="32.3" stroke="#222" stroke-width="1.1"/>
<line x1="181.5" y1="29.3" x2="181.5" y2="32.3" stroke="#222" stroke-width="1.1"/>
<line x1="217.1" y1="29.3" x2="217.1" y2="32.3" stroke="#222" stroke-width="1.1"/>
<line x1="252.8" y1="29.3" x2="252.8" y2="32.3" stroke="#222" stroke-width="1.1"/>
<line x1="288.4" y1="29.3" x2="288.4" y2="32.3" stroke="#222" stroke-width="1.1"/>
<line x1="64" y1="103.8" x2="64" y2="100.8" stroke="#222" stroke-width="1.1"/>
<line x1="88.6" y1="103.8" x2="88.6" y2="100.8" stroke="#222" stroke-width="1.1"/>
<line x1="113.2" y1="103.8" x2="113.2" y2="100.8" stroke="#222" stroke-width="1.1"/>
<line x1="137.8" y1="103.8" x2="137.8" y2="100.8" stroke="#222" stroke-width="1.1"/>
<line x1="162.4" y1="103.8" x2="162.4" y2="100.8" stroke="#222" stroke-width="1.1"/>
<line x1="187" y1="103.8" x2="187" y2="100.8" stroke="#222" stroke-width="1.1"/>
<line x1="211.6" y1="103.8" x2="211.6" y2="100.8" stroke="#222" stroke-width="1.1"/>
<line x1="236.2" y1="103.8" x2="236.2" y2="100.8" stroke="#222" stroke-width="1.1"/>
<line x1="260.8" y1="103.8" x2="260.8" y2="100.8" stroke="#222" stroke-width="1.1"/>
<line x1="285.4" y1="103.8" x2="285.4" y2="100.8" stroke="#222" stroke-width="1.1"/>
<line x1="310" y1="103.8" x2="310" y2="100.8" stroke="#222" stroke-width="1.1"/>
<path d="M65.6,84.3 72.8,92.5 69.4,92.5 69.4,106.4 61.8,106.4 61.8,92.5 58.4,92.5Z" fill="#ff0000"/>
<rect x="64.85" y="89.1" width="1.5" height="14.2" fill="#fff"/>
<path d="M283.5,84.3 290.7,92.5 287.3,92.5 287.3,106.4 279.7,106.4 279.7,92.5 276.3,92.5Z" fill="#ff0000"/>
<rect x="282.75" y="89.1" width="1.5" height="14.2" fill="#fff"/>
<path d="M175.6,87.8 179.4,87.8 179.4,100.4 181.8,100.4 177.5,108.4 173.2,100.4 175.6,100.4Z" fill="#ff0000"/>
<path d="M200.5,87.8 204.3,87.8 204.3,100.4 206.7,100.4 202.4,108.4 198.1,100.4 200.5,100.4Z" fill="#ff0000"/>
<text x="169.3" y="101.2" font-size="14" text-anchor="middle" font-weight="normal" fill="#000">a</text>
<text x="196.2" y="101.3" font-size="14" text-anchor="middle" font-weight="normal" fill="#000">b</text>

<rect x="39" y="108.8" width="285" height="218.6" fill="none" stroke="#111" stroke-width="1.3"/>
<line x1="64" y1="108.8" x2="64" y2="111.3" stroke="#111" stroke-width="1.1"/>
<line x1="64" y1="327.4" x2="64" y2="324.9" stroke="#111" stroke-width="1.1"/>
<line x1="88.6" y1="108.8" x2="88.6" y2="112.8" stroke="#111" stroke-width="1.1"/>
<line x1="88.6" y1="327.4" x2="88.6" y2="323.4" stroke="#111" stroke-width="1.1"/>
<line x1="113.2" y1="108.8" x2="113.2" y2="111.3" stroke="#111" stroke-width="1.1"/>
<line x1="113.2" y1="327.4" x2="113.2" y2="324.9" stroke="#111" stroke-width="1.1"/>
<line x1="137.8" y1="108.8" x2="137.8" y2="112.8" stroke="#111" stroke-width="1.1"/>
<line x1="137.8" y1="327.4" x2="137.8" y2="323.4" stroke="#111" stroke-width="1.1"/>
<line x1="162.4" y1="108.8" x2="162.4" y2="111.3" stroke="#111" stroke-width="1.1"/>
<line x1="162.4" y1="327.4" x2="162.4" y2="324.9" stroke="#111" stroke-width="1.1"/>
<line x1="187" y1="108.8" x2="187" y2="112.8" stroke="#111" stroke-width="1.1"/>
<line x1="187" y1="327.4" x2="187" y2="323.4" stroke="#111" stroke-width="1.1"/>
<line x1="211.6" y1="108.8" x2="211.6" y2="111.3" stroke="#111" stroke-width="1.1"/>
<line x1="211.6" y1="327.4" x2="211.6" y2="324.9" stroke="#111" stroke-width="1.1"/>
<line x1="236.2" y1="108.8" x2="236.2" y2="112.8" stroke="#111" stroke-width="1.1"/>
<line x1="236.2" y1="327.4" x2="236.2" y2="323.4" stroke="#111" stroke-width="1.1"/>
<line x1="260.8" y1="108.8" x2="260.8" y2="111.3" stroke="#111" stroke-width="1.1"/>
<line x1="260.8" y1="327.4" x2="260.8" y2="324.9" stroke="#111" stroke-width="1.1"/>
<line x1="285.4" y1="108.8" x2="285.4" y2="112.8" stroke="#111" stroke-width="1.1"/>
<line x1="285.4" y1="327.4" x2="285.4" y2="323.4" stroke="#111" stroke-width="1.1"/>
<line x1="310" y1="108.8" x2="310" y2="111.3" stroke="#111" stroke-width="1.1"/>
<line x1="310" y1="327.4" x2="310" y2="324.9" stroke="#111" stroke-width="1.1"/>
<line x1="39" y1="130.7" x2="41.5" y2="130.7" stroke="#111" stroke-width="1.1"/>
<line x1="324" y1="130.7" x2="321.5" y2="130.7" stroke="#111" stroke-width="1.1"/>
<line x1="39" y1="152.5" x2="43" y2="152.5" stroke="#111" stroke-width="1.1"/>
<line x1="324" y1="152.5" x2="320" y2="152.5" stroke="#111" stroke-width="1.1"/>
<line x1="39" y1="174.4" x2="41.5" y2="174.4" stroke="#111" stroke-width="1.1"/>
<line x1="324" y1="174.4" x2="321.5" y2="174.4" stroke="#111" stroke-width="1.1"/>
<line x1="39" y1="196.2" x2="43" y2="196.2" stroke="#111" stroke-width="1.1"/>
<line x1="324" y1="196.2" x2="320" y2="196.2" stroke="#111" stroke-width="1.1"/>
<line x1="39" y1="218.1" x2="41.5" y2="218.1" stroke="#111" stroke-width="1.1"/>
<line x1="324" y1="218.1" x2="321.5" y2="218.1" stroke="#111" stroke-width="1.1"/>
<line x1="39" y1="240" x2="43" y2="240" stroke="#111" stroke-width="1.1"/>
<line x1="324" y1="240" x2="320" y2="240" stroke="#111" stroke-width="1.1"/>
<line x1="39" y1="261.8" x2="41.5" y2="261.8" stroke="#111" stroke-width="1.1"/>
<line x1="324" y1="261.8" x2="321.5" y2="261.8" stroke="#111" stroke-width="1.1"/>
<line x1="39" y1="283.7" x2="43" y2="283.7" stroke="#111" stroke-width="1.1"/>
<line x1="324" y1="283.7" x2="320" y2="283.7" stroke="#111" stroke-width="1.1"/>
<line x1="39" y1="305.5" x2="41.5" y2="305.5" stroke="#111" stroke-width="1.1"/>
<line x1="324" y1="305.5" x2="321.5" y2="305.5" stroke="#111" stroke-width="1.1"/>
<text x="33" y="112.7" font-size="11" text-anchor="end" font-weight="normal" fill="#1a1a1a">0</text>
<text x="33" y="156.5" font-size="11" text-anchor="end" font-weight="normal" fill="#1a1a1a">2k</text>
<text x="33" y="200.2" font-size="11" text-anchor="end" font-weight="normal" fill="#1a1a1a">4k</text>
<text x="33" y="243.9" font-size="11" text-anchor="end" font-weight="normal" fill="#1a1a1a">6k</text>
<text x="33" y="287.6" font-size="11" text-anchor="end" font-weight="normal" fill="#1a1a1a">8k</text>
<text x="33" y="331.3" font-size="11" text-anchor="end" font-weight="normal" fill="#1a1a1a">10k</text>
<text x="41.9" y="343.1" font-size="11" text-anchor="middle" font-weight="normal" fill="#1a1a1a">0</text>
<text x="91.3" y="343.1" font-size="11" text-anchor="middle" font-weight="normal" fill="#1a1a1a">50</text>
<text x="140.7" y="343.1" font-size="11" text-anchor="middle" font-weight="normal" fill="#1a1a1a">100</text>
<text x="190.1" y="343.1" font-size="11" text-anchor="middle" font-weight="normal" fill="#1a1a1a">150</text>
<text x="239.5" y="343.1" font-size="11" text-anchor="middle" font-weight="normal" fill="#1a1a1a">200</text>
<text x="288.9" y="343.1" font-size="11" text-anchor="middle" font-weight="normal" fill="#1a1a1a">250</text>
<text x="181.5" y="355.2" font-size="11.3" text-anchor="middle" font-weight="normal" fill="#1a1a1a">Time (ms)</text>
<text transform="translate(10.8,210.5) rotate(-90)" font-size="11.3" text-anchor="middle" fill="#1a1a1a">Frequency (Hz)</text>
<text x="5.4" y="152.4" font-size="19.5" font-weight="bold" text-anchor="middle" fill="#000">b</text>
<text x="350" y="21.6" font-size="19.5" font-weight="bold" text-anchor="middle" fill="#000">c</text>
<text x="371.5" y="52.2" font-size="11" text-anchor="end" font-weight="normal" fill="#1a1a1a">1.0</text>
<text x="371.5" y="148.7" font-size="11" text-anchor="end" font-weight="normal" fill="#1a1a1a">0.5</text>
<text x="371.5" y="245.2" font-size="11" text-anchor="end" font-weight="normal" fill="#1a1a1a">0.0</text>
<text x="377.6" y="343.4" font-size="11" text-anchor="middle" font-weight="normal" fill="#1a1a1a">0</text>
<text x="433" y="343.4" font-size="11" text-anchor="middle" font-weight="normal" fill="#1a1a1a">50</text>
<text x="488.4" y="343.4" font-size="11" text-anchor="middle" font-weight="normal" fill="#1a1a1a">100</text>
<text x="543.8" y="343.4" font-size="11" text-anchor="middle" font-weight="normal" fill="#1a1a1a">150</text>
<text x="599.2" y="343.4" font-size="11" text-anchor="middle" font-weight="normal" fill="#1a1a1a">200</text>
<text x="654.6" y="343.4" font-size="11" text-anchor="middle" font-weight="normal" fill="#1a1a1a">250</text>
<text x="537" y="355.5" font-size="11.3" text-anchor="middle" font-weight="normal" fill="#1a1a1a">Time (ms)</text>
<text transform="translate(348.3,173.3) rotate(-90)" font-size="11.3" text-anchor="middle" fill="#1a1a1a">Modal power (a.u.)</text>
<g clip-path="url(#clipC)">
<path d="M377.7,241.3l4.5-.2 3-.6 2.5-1.1 5-3.4 1.5-.6 1-.1 1,.1 1.5,.6 4.5,3 2,1.1 2,.6 2,.3 3.5-.1 6-.9 2.5-.2 2.5,.2 6,.9 4,.1 3.5-.4 6-1.1 3-.2 2.5,.2 6.5,1.2 3.5,.3 4-.1 5.5-.9 2.5-.2 2.5,.1 6,1 3.5,.3 9,.1 3.5-.5 1.5-.7 1.5-1.6 1-1.8 1-2.5 1.5-5.5 4-18.5 1-3 .5-.9 .5-.5 .5,.1 .5,.5 .5,1 1,3.1 3.5,16.5 2,7.4 1.5,3.4 1.5,1.8 1,.5 1.5-.1 1.5-.9 1-1.2 2-3.7 3.5-8.9 1-2.1 1-1.4 1-.5 1,.5 1,1.3 3.5,8.2 1.5,2.9 1,1 .5,.2 .5,0 .5-.3 1-1.6 .5-1.2 1.5-6.2 1.5-10.6 1.5-15.9 2.5-39.4 4-81.3 1.5-25.4 1.5-16.3 .5-3 .5-1.6 .5-.1 .5,1.2 1,6.4 1.5,18.4 5.5,103.6 1.5,21.6 1.5,14.7 1,5.8 .5,1.9 1,2.2 .5,.4 .5,.1 2-.8 1,0 1,1.1 .5,.9 1.5,4.2 3.5,13 1,2.8 1,2.1 1,1.4 1,.6 1,.1 1.5-.2 3-1.2 1.5-1 3-2.8 1-.5 1-.1 1,.3 1,.9 3.5,4.6 1.5,1.6 1.5,.7 1,0 1.5-1 1-1.2 1.5-2.9 3.5-8.3 1-1.5 1-.6 1,.5 1,1.4 1,2.2 3.5,9.2 1.5,2.8 1.5,1.9 1.5,1 2.5,.7 3.5,.3 4-.2 2-.3 2-.7 1.5-.8 1.5-1.1 3-3.4 4.5-6.7 2-2.6 1-1 1-.6 1.5-.3 1.5,.5 1.5,1.3 1.5,1.8 5,7.1 1.5,1.6 1.5,1 1,.3 1.5,.1 4.5-.9 2,.1 2,.7 4.5,2.6 2.5,1 3,.6 4.5,.2" stroke="#000000" stroke-width="2.2" fill="none" stroke-linejoin="round" />
<path d="M377.7,251l4.5-.1 3-.3 2.5-.5 5-1.3 2.5-.3 2.5,.3 6,1.6 3.5,.5 19.5,.1 5.5-.2 2-.5 2-1.1 2-1.8 4-4.8 1.5-1 1-.2 1,.3 1,.8 4,4.8 1.5,1.4 1.5,1 1.5,.6 2.5,.1 2.5-.4 2.5-.9 5.5-2.6 1.5-.4 1.5-.1 1.5,.2 1.5,.5 5.5,2.6 3.5,1.1 4.5,.5 5-.2 1.5-.3 1.5-.8 1-1 1-1.3 2-4.1 3.5-9.8 1-2.3 1-1.6 1-.5 1,.5 1,1.6 1,2.3 3.5,9.8 1.5,3.3 1,1.5 1.5,1.6 1.5,.8 2,.4 2-.1 1.5-.5 1-.8 1-1.4 1-2.3 1.5-5.5 3-14.7 1-3.3 .5-.9 .5-.3 .5,.3 .5,.9 1,3.3 2.5,12.3 1.5,6.1 1,2.6 .5,.8 .5,.4 .5,.2 .5-.2 .5-.5 1-1.9 1-2.9 2-7.6 1-3.1 .5-1.1 .5-.5 .5-.1 .5,.5 1,2.3 2.5,9.3 1.5,4.6 1,2 1,1.1 1,.7 1,.3 1.5,0 1.5-.1 1.5-.5 1-.5 2-1.8 4-5 1-.7 1-.2 1,.4 1,.9 3.5,4.4 1.5,1.5 1.5,1 1.5,.5 3,.2 4-.1 2-.3 4.5-1.2 2-.3 2,.2 4.5,1.1 2.5,.1 1.5-.5 1.5-1.1 1.5-1.6 3.5-4.7 1-.8 1-.2 1,.4 1,.8 3.5,4.7 1.5,1.6 2,1.3 2.5,.6 5,.1 63,0" stroke="#ff0000" stroke-width="2.0" fill="none" stroke-linejoin="round" />
<path d="M377.7,261.2l2-.6 3,.4 1-.5 3.5,.4 1.5-.2 1,.5 1.5-.8 .5-.1 1.5,.8 .5,.1 3.5-.8 2,.3 6.5-.4 2.5,.7 1.5-.3 1.5,.2 1.5-.6 2.5,.4 1.5-.2 1,.4 3-.5 1,.4 2,0 2-.5 2,0 1.5-.6 2-1.5 3.5-4.2 1-1.6 1-.7 .5,0 .5,.4 1,.9 1.5,2 1.5,1.1 1,.4 .5-.1 2-.8 1-.7 .5,.1 1.5,.5 1,.5 1.5,2 1.5,1.1 1.5,.4 2.5,.1 2.5-1 2,.5 1.5-.1 1.5,.5 1.5-.2 2.5,1.1 1-.1 2.5,.4 1.5-.4 2.5,.5 2.5-.2 1,.3 1.5,0 .5-.1 1.5-.8 1,.7 2-.2 1.5,.3 1.5-.3 2.5,.2 1.5-.2 1.5,.2 3-.4 1.5,.2 4.5-3.6 1-.6 1.5-.4 1,.3 2,2.1 1,.8 1.5,1 1.5,.4 1.5,.1 1.5-.4 1.5,.2 4.5-2.4 2-1.4 1,.1 3.5,2.1 1,.1 1-.7 1-1.7 1-3.1 .5-2.4 1.5-9.8 3-24.3 1-4.4 .5-.7 .5,.3 .5,1.1 1,4.3 3.5,23.4 1,5 1,3.6 2.5,6.5 1,1.6 1,1.1 3.5,2 1-.3 1.5,.1 .5,.1 1,.8 .5,.1 1-.6 .5-.1 2.5,.3 2-.5 3,.2 3.5-.3 1,.3 1.5-.2 1,.2 3.5,.1 1.5-.1 1.5-.4 1.5-.1 1.5,.5 5-.1 2.5,.3 2-.4 1.5,0 2.5,.4 1.5-.4 2-.1 1,.3 2.5-.3 2,.1 1.5,.3 3-.4 1.5,.5 3.5-.5 2,.3 2-.4 1,.3 1.5-.4 2.5,.9 3-.7 2,.3 1-.5 1.5-.2 1.5-.5 2-2.8 1.5-3.3 3.5-10 1-1.9 .5-.4 1,.3 1.5,1.5 2.5,5 2,2.4 1,.8 4,1.9 3.5,2.2 2,.8 3,2.3 .5,.2 1.5-.1 3,1.3 2,.4 1.5-.1 2.5,.5 2.5-.1 1.5,.3 3-.2 1.5,.2 2.5-.3 2.5,.6 1.5-.6 2,0 2,.5 2-.7 1.5-.1" stroke="#0000ff" stroke-width="2.0" fill="none" stroke-linejoin="round" />
<path d="M377.7,270.5l3.5-.5 2,.1 2,.5 2.5-.4 1.5,.4 1.5-.5 1.5,.7 .5,0 2-.5 2,.2 3-.2 1.5,.4 2.5-.5 1.5,.2 1-.1 1,.3 1-.2 1,.2 3-.6 1,.4 2.5-.9 1,0 1-.3 1,0 1-.3 1.5-.2 2,.8 1.5,0 1.5,.4 1-.2 2.5,.7 3-.1 1.5,.5 2-.4 2,.4 .5,0 2.5-.6 1.5,.3 1-.2 1.5,.2 2-.4 1.5,0 2-.9 1.5,.2 1.5-.6 2,.2 1.5,.5 3,0 1.5,.6 2.5-.1 3.5,.4 1.5-.2 3.5,.5 2.5-.2 1.5-.4 1.5,.2 1.5-.2 2.5,.3 1.5,.7 1.5-.6 1.5-.2 1,.2 1.5-.3 2.5,.2 1.5-.3 1,.4 1-.2 1.5,.4 3-.1 1-.3 2,.1 2.5-.1 3-.8 1-.7 2.5-2.8 .5-.4 1-.1 1.5,.4 .5,.4 2,2.3 3,1.5 2,.2 3,0 1.5-.8 1-.2 1-.6 1-1.7 1-3.8 1.5-10.9 3-34.9 1-7.5 .5-1.5 .5,.1 .5,1.9 .5,3.4 3,34.5 1,9.1 1,5.8 .5,1.9 .5,1.2 .5,.3 .5-.4 2-3.6 .5-.4 .5,.2 .5,.7 2,5.3 .5,.7 1,.7 2,.4 1.5-.5 1,0 2-1 9,1.9 3.5-.4 1.5,.4 2.5-.5 3.5,.5 1.5-.2 1.5,.3 2-.2 1.5-.6 1.5,.2 1-.1 1.5,.6 .5,0 2-.3 1.5-.6 2,0 2-.9 2,.6 1.5-.5 1.5,.1 1,.3 1,0 1.5,.6 3.5,.5 3-.2 2,.3 4-.4 2,.6 2.5-.4 1.5,.4 2.5-.4 1.5,.1 1-.4 1.5,.4 2,.2 3.5-.4 2.5,.5 3-.3 3,.4 1-.2 1.5,.1 1.5-.4 1,.1 1.5-.1 1.5,.2 2-.1 1-.2 2.5,.5 1-.3 1,0 1.5-.3 2.5,.6 1.5-.5 3,.5 1-.2 1,0 1-.4 2.5,.3 1.5-.6 1.5,.7 1,.2 1.5-.7 .5,0 4,.7 2-.6 1,0 1.5,.6 2-.7 1.5,.7 1.5-.2 1.5,.3 1-.2" stroke="#ff00ff" stroke-width="2.0" fill="none" stroke-linejoin="round" />
<path d="M377.7,280.5l1.5-.5 1.5,.7 1-.6 .5,0 5,.7 1.5-.6 1,.4 1,.1 1-.2 1,0 1-.4 2,.3 1-.4 2,0 1-.5 1.5,.2 1,1.2 .5,.3 .5-.5 1-1.7 2-2.8 .5,.4 2.5,3.6 .5,.2 1-.3 .5,.1 1,.7 2-.9 3,.9 .5-.1 1.5-1.4 .5-.1 1.5,.8 .5,.1 1.5-.7 1.5,.9 .5,0 1.5-.9 .5,.1 1,.6 .5,.1 1,0 1.5-.4 1,.3 .5,0 1-1.1 .5-.2 1.5,.3 1-.5 1.5-.3 2.5,1.4 1,.2 2,.8 1-.5 .5,0 2,.8 1.5-1 1.5-.2 1-.7 .5,.1 1,.7 3.5,.5 1.5-.3 1.5-1.2 1-1.1 1.5-.6 .5,.2 1.5,1.9 .5,.3 .5,.1 1.5-.4 2,.2 1.5,1 .5,0 1.5-1.2 .5-.2 1,.7 .5-.1 .5-1 2-6.9 .5-1 .5-.2 .5,.8 1.5,5.9 .5,1 .5,.2 .5-.1 .5-.4 1-2.7 .5-.8 .5,.4 1,2.3 .5,.7 1.5,1.3 .5,.2 1-.1 .5-.1 .5-.9 .5-2 1.5-9 .5-1.4 .5,.1 .5,2.1 1,6.2 .5,1.9 .5,.7 1-1 .5-.3 .5,.1 .5,.4 1.5,3.1 2,.8 1-.3 3.5,.9 .5-.2 .5-.9 .5-1.9 .5-3.6 1.5-20.4 .5-2.9 .5,2.5 1.5,21.2 .5,3.2 .5,.5 1.5-6.5 .5-.5 .5,.9 1.5,5.7 .5,.9 2,1.7 .5,0 1-1.1 1.5-3.6 .5-.4 .5,.5 1.5,4 .5,.3 1-.3 1,0 .5,0 1,.5 .5,.1 1-.6 1.5,1 .5,0 .5-.3 .5-.7 1.5-3 .5-.7 .5,0 .5,.5 1.5,3.5 .5,.1 .5-1 1-3.1 .5-1.1 .5-.4 .5,.5 2,4.4 2,1.2 .5,0 1.5-.7 .5,0 1,.6 1,0 1,.3 .5-.2 1-1.3 .5,0 1.5,.5 3,.4 1-.4 1,.4 1.5-.2 1,.5 .5,0 1.5-1.3 .5-.1 1,.6 .5-.1 1-1.4 1-.5 2.5,.9 1,1.2 .5,.3 1-.6 .5,.1 .5,.3 1,.1 1,.9 .5,0 1-1 .5,0 1,0 1,.6 2-.6 .5,0 1,.6 1,.1 .5-.1 1-.7 .5,.1 1,.8 .5,0 1-.8 .5,0 1.5,.8 2.5-.8 1.5,0 1.5-.6 2,.6 1-.4 2,.7 2-.9 .5,0 2,1.1 .5,0 1-.6 .5,.1 1.5,1 .5,0 2-.9 1-.1 1.5,1.3 1-.7 1-.1 1.5-.7 2,.4 1-.7 .5-.5 .5-.9 2-5.9 .5,0 2.5,5.7 1,1.8 .5,.2 1.5-.3 1.5,.4 .5-.4 .5-.8 1-2 1.5-5.8 .5-1.2 .5,.3 .5,1.2 1.5,5.7 .5,.9 .5,.3 .5-.4 1.5-3.9 .5-.7 .5,.3 1.5,4 1,1.7 1,1.1 1,.4 2-.5 1.5-.8 1,.8 .5,.1 2-1.1 .5,0 1,1.2 .5,.3 3-1 4,.2 2-1 1.5,.9 1.5,.1 1,.6 1-.6 1,.3 .5,0 1-1 .5-.1 1,1.1 .5,0 1-.7 1.5,.6 .5-.1 1-.8 .5-.1 1.5,.7 1.5,.2 1.5-.3 3,.5 1.5,1.1 .5,0 .5-.5 1-2.1 .5-.1 1,1.3 .5,.2 2.5-.6 .5,.2 1.5,1.1 1.5,0" stroke="#808000" stroke-width="2.0" fill="none" stroke-linejoin="round" />
<path d="M377.7,290.3l1,.3 1-.5 2,.5 1.5-1 1,0 2.5-1 1,.4 1,.7 1-.1 1,.5 1.5-.4 1.5,.3 1-.1 1,.1 1-.6 1,.6 1-.3 1.5,.1 2.5-.8 .5,0 1,.5 .5-.2 1.5-2.5 .5-.4 .5,.2 1.5,2.4 .5,.4 1,.4 1.5,0 1.5,.8 1.5,.1 1.5-.5 1.5-.8 1,0 1-.3 1.5,1.5 1.5-1.4 1.5-.5 .5,.1 2,2 .5-.1 1-.8 .5-.2 3.5,.2 1-.8 .5,0 2,1 1,0 2,.6 2-1 1.5-1.1 1.5-1.4 1-1.3 .5,0 1,.8 1-.3 .5,.2 3,3.1 .5,.1 2-.2 1,.2 1,.5 .5,.1 .5-.1 1,.3 1.5-1.5 2.5,.9 1,0 1.5,.7 2-1.3 1.5,.9 2-1 2.5,.5 1.5-.5 1,1.1 .5,.2 2-2 1.5-2.4 .5-.4 .5,.7 1,2.2 .5,.5 .5,.2 2-.1 1.5,1.3 .5-.1 2-1.4 .5-.9 1.5-5.4 .5-1.4 .5-.3 1,1.1 1.5,.6 .5,.7 2,6.1 .5,.8 .5,0 1-.4 1,.5 1,.1 1.5-.9 1.5,.1 1-.8 .5,0 1,.6 .5,0 .5-.4 .5-1.6 1.5-10.3 .5-1.9 .5,.7 1.5,10.4 .5,2.2 .5,1.2 .5,.3 1,0 1,.4 1-.6 1.5,.4 2-.3 1,.3 .5,0 3.5-1.7 1,.2 1.5,1.1 1.5-.6 2.5,.4 .5-.1 1.5-1.4 1-2 .5-.4 .5,.1 1.5,2.3 1.5,1.6 1.5-.2 1.5,.2 2-.8 .5,.1 1.5,1.3 .5,.2 1.5-1 2,.3 1.5-.4 2,0 1.5,.7 1-.5 1,.1 1.5-.6 1.5,.2 1-.3 1,.7 1,.4 1-.4 .5,.2 1,1 .5-.1 1-1.1 .5-.2 1.5-.3 1,0 .5-.2 .5-.3 1-1.3 .5-.3 .5,.3 1.5,1.5 2.5,1.4 2-.4 .5-.2 .5,0 1,.5 1.5-.1 .5-.2 1-1 1.5-1 .5,.1 1,.7 2,.8 2.5,.3 1,.4 .5,.1 1-.6 1-.2 2,.5 .5,0 1.5-.8 1.5,.4 2-.5 1,.6 .5,0 1-1 .5,0 1,.4 1,0 1,.3 1.5-.2 1.5,.4 1,0 1,.6 1.5-1.3 1,.6 .5-.2 .5-.6 1.5-2.4 1.5-4.4 .5-.1 .5,1.2 1,3.9 .5,1.3 .5,.7 1-.2 1,.3 .5-.2 1,.7 1.5-.4 2,.8 .5-.1 .5-.5 2-2.7 .5-.2 1.5,2.6 .5,.4 .5,.2 1-.2 2,.7 1-.3 1,.3 .5-.5 1.5-3.7 .5-.7 .5-.2 .5,.2 .5,.8 1,2.4 .5,.6 1,0 .5-.1 .5-.6 2-4.6 .5,0 .5,.9 2,5 .5,.5 2.5-1.1 2,.9 1-.6 .5-.2 1,.3 1.5-.3 1.5-1.1 2.5,.7 1,.7 1,0 1,.6 1,0 1-.4 1,.2 1,.5 .5,0 1-.8 1,.1 1-.5 1,.4 1,.1 1.5-.7 2.5,1.3 2.5-.7 3,.3 1-.4 2-.2 .5,.2 1,.8 .5,0 1.5-1 1,0 1.5,.7 1,0" stroke="#000080" stroke-width="2.0" fill="none" stroke-linejoin="round" />
<path d="M377.7,300.1l2.5-.6 1-.1 1-.6 .5-.1 1.5,1.2 .5-.1 2-.7 3,.7 3-.4 1,.6 .5-.2 1-1 3,.8 1.5-.6 1,.2 1-.5 .5,.2 1,.9 .5,.2 1-.2 1,.2 2-.5 1.5,.1 1.5-.8 .5,.1 1,.6 1.5,.3 1.5-.7 1,.7 1-.3 2,.2 1-.2 1.5,.4 .5-.2 1-.7 .5,0 1,.6 1.5-.5 .5,0 1.5,1 .5,0 1-.9 .5-.1 1,.7 .5,0 1.5-.6 .5,0 2,.9 2.5-.4 1,.5 .5,.1 .5-.2 1-1 .5-.3 .5,.1 1,.7 .5,0 1-.7 1,.6 2.5-.1 1-.2 .5,0 1,.5 1.5-.1 1,.4 2-.7 1,0 1.5,.7 2-.5 1,0 1.5-1.1 1.5-1.8 .5-.1 2.5,2.9 1.5,.1 1,1.3 .5,.2 3-2.1 1.5-.1 1-.6 .5-.5 1-1.7 .5-.2 .5,.3 .5,.6 1,1.6 1,0 1,1.8 .5,.5 1.5-1.2 2,.4 1-.4 1,.2 .5-.8 2-5.6 .5-.7 .5,.5 1.5,5 1,1.2 .5,0 .5-.7 1.5-3.1 .5-.2 .5,.5 1,1.9 2,2.4 .5,0 2,0 1-.2 1.5,.3 1-.8 .5-.2 1,.5 1-.6 .5,0 .5,.3 2,.4 2-.7 .5,0 1.5,.2 2,.7 .5-.1 1-.7 .5-.1 1,.7 .5,.1 2.5-1.1 1,.4 .5-.1 1.5,.6 1,.1 1.5-.4 1-.1 1.5-1 .5-.8 2-5.8 .5-1 .5-.2 .5,.8 2.5,6.4 2,2.1 .5,.3 1-.5 1,.1 1.5,.3 1.5,.9 .5-.2 1.5-1.5 .5-.1 1,.3 .5,0 .5-.1 2,0 2.5-.5 1.5,.8 1.5-.6 3,0 1,.4 1-.5 .5,0 1.5,.5 2-.2 1.5-.5 1-.8 .5-.2 1,.7 2,0 .5,.5 1,1.7 .5,0 .5-.3 1,.1 1.5-1 .5-.1 1,.5 1,0 1.5-.6 1.5,.1 1-.2 1.5,1.2 1-.1 .5-.1 1.5-1.4 1-.3 2,1.4 2-.1 1.5-.7 1.5,.8 1,.1 2-.9 2,.4 2.5,.2 1.5,.5 1.5-.3 1.5,.4 1.5-.6 2-.1 1-.3 1.5,.4 1.5,0 1.5,.8 .5,.1 1-.8 .5-.2 1,.2 .5-.2 1-1.1 1-.7 .5,0 .5,.2 1.5,1 1,.9 .5-.1 1-.6 1-.1 .5-.5 3-4.5 .5-.5 .5-.2 .5,.4 2,3.9 .5,.6 .5,.2 .5-.1 .5-.7 .5-1.6 1.5-6.1 .5-1.4 .5-.2 1.5,4.4 .5,.9 .5,.6 1,.5 .5,.5 2,3.3 2,1.3 2,0 1.5-.9 .5,0 1.5,1.5 2-.5 1.5-.8 1,.3 1-.3 1,.9 1-.2 1,.1 1.5-.6 1,.3 1-.2 1,.3 1-.1 1,.4 1.5,.2 2-.7 1.5,.2 1-.7 .5-.1 1,.6 1.5,.1 1,.3 .5,0 1-.4 1,.9 1.5-.6 1,0 1.5-.3 1,.4 .5,0 1-.4 .5,.1 3-.6 2.5,.8 2-.7" stroke="#800080" stroke-width="2.0" fill="none" stroke-linejoin="round" />
<path d="M377.7,308.9l.5,0 1,.4 1-.1 1,.2 .5,0 1,.3 .5-.1 1-1.1 .5,0 .5,.4 1.5,.5 1.5-.3 3,.3 1.5-.6 2,.4 1,.6 1-.7 1.5,.3 1-.2 .5,.1 1,.9 1-.5 1-.1 1-1.1 .5-.1 1.5,.2 1,1.1 .5,0 1-.8 .5,0 2,1 .5-.1 1-.9 1-.2 1.5,.5 1-.4 .5,0 2.5,.7 1.5-.2 1.5-.5 .5,0 1,.5 1.5-.5 .5,.2 1,0 1,.5 .5,0 1-.6 2-.3 .5,.1 1,.7 1.5-.3 1.5,.6 1.5-.5 1,0 1.5-.5 1,.1 1.5-.3 1.5,.7 1,.1 2.5-.4 1,.3 1.5-.1 1,.4 1-.3 1.5,0 .5-.2 1.5-2 .5-.1 1.5,.7 1.5,1.8 1.5,0 1,.4 2-.2 1,.3 1.5-1.3 .5,.1 1,.9 .5,.1 .5,.1 1.5-.6 1.5,.1 1-.7 .5,.1 1,.8 .5,.1 2-.6 3-1.5 2,.7 1,.8 .5,.1 1-.2 1.5,.7 2-.3 1-.5 1-.1 2-1.3 1-.1 .5,.2 1.5,1.7 .5,.2 1.5-.5 2.5,.4 1-.5 2,.7 .5,.1 1-.4 1.5,1.1 1.5-.9 1.5,0 1.5-.9 .5,0 1,.4 1.5-.5 .5,.1 1.5,1.6 2.5-1.2 .5,0 2,.4 1-.3 1,.3 1.5-.7 1.5,.7 3.5-.5 2.5,.9 1-.5 1.5-.3 2.5-.2 1.5,.3 1-.3 .5,.1 1,.7 2,.3 1.5-.7 1,.5 1.5-.1 1,.5 .5-.1 1.5-.8 3,.2 2.5-.1 1,.2 1.5-.4 1,.5 1-.3 1.5,.3 .5-.1 1-.7 .5,0 1,.7 .5,0 1.5-1.1 1,.3 1.5-1 .5,0 .5,0 3,1.8 .5,.1 2-.2 1.5-.9 .5,0 2,1 1.5-.1 1.5,.3 2-.2 1.5-.7 .5,.2 1.5,1.1 .5,.1 1-.8 1.5-.3 1,.2 1-.4 1.5,.6 1.5-.3 4,.3 2-.7 1,.7 .5,0 .5-.3 .5,0 2,.8 4-1.3 1.5,.6 1-.1 1.5,.4 1.5-.1 1.5,.3 1.5-.9 1,.4 1,.8 .5,0 1.5-.6 1.5,.9 1.5-1.3 .5-.2 1,.7 1.5,.3 2.5-.4 1.5,.3 1.5-.9 1.5-.3 .5-.4 1.5-2 .5-.3 .5,.1 1,.5 .5-.7 2-6.9 .5,0 .5,1.4 1.5,6.5 .5,1.4 .5,.6 1,0 1.5,.9 1-.3 1,0 2-1.2 .5,0 1,.3 1.5,1.2 .5,.2 2.5-.9 2,.6 1.5-.1 1-.4 3.5,.6 1.5-.6 2,.3 2-.7 1.5,.9 1.5-.1 2,.4 1.5-1 .5-.1 1.5,.5 1.5-.2 1,.3 2,.1 1-.5 1.5-.3 .5,.2 1,1.2 1-.3 1.5-.1 2-.6 1.5,.7 1-.6 1.5,.3 1-.4" stroke="#800000" stroke-width="2.0" fill="none" stroke-linejoin="round" />
<path d="M377.7,320.1l1.5-1 1.5-.4 1.5,.8 1-.3 .5,0 1,.5 1.5-1.5 .5,0 .5,.2 1.5,1.2 .5,0 1-.5 1.5,0 1-.4 .5,0 1,.5 1.5-.3 1-.4 .5,0 1,.5 1.5-.3 1,.1 1,.3 1-.6 .5,0 1,.6 .5,0 2-.5 .5,.1 1.5,1.1 .5,0 .5-.2 1.5-1.1 .5-.1 2,.4 1-.3 1,.9 .5,.1 1.5-.9 .5-.1 1.5-.1 1.5,.7 1-.1 1.5-.6 2.5,.8 1-.4 1,.1 1.5-.2 1,.3 1.5-.3 1,.1 1-.2 .5,.1 1,.8 .5,0 1-.5 3,.2 1.5-.7 1,.2 .5-.1 1.5-1.1 .5,0 2,.2 2.5,1.3 1.5,.2 1-.2 1.5,.1 1.5-.4 1.5,.4 2,.1 1.5-.2 1,.6 .5,.1 1-.6 1.5-.3 1,.4 1.5-.8 .5-.1 3,.7 2-.5 1,.9 .5,.2 1-.5 1,.4 1-.1 1,.4 2.5-.5 1-.4 1,.1 1.5-.5 1,.4 1,0 1,.2 1-.1 1,.1 1-.4 2,.8 .5,0 1-.6 .5,0 1.5,1.2 1-.5 1-.1 1-.5 .5-.1 1,.3 1.5-.6 1-.2 1.5,.8 .5-.1 1.5-.8 .5,.1 2,1.1 .5-.1 1-.7 1-1.2 1-.6 .5,0 2.5,2.1 4-.2 1-.3 2,.2 1-.2 1.5,.8 .5,.1 2-.2 1.5-.8 1.5,.6 .5,0 1.5-.7 1,.1 1-.1 3,1.1 .5,0 1-.5 2.5-.1 1,.4 1-.5 1,.1 1-.4 1.5,.2 1,.4 3,.3 1.5-.3 1-.7 2.5,.8 2-.3 3,.3 .5,0 1.5-.8 1.5,.4 1-.1 1.5,.3 1-.3 .5,0 1,.6 1-.5 2,.7 2-.5 1.5,.4 2-.2 1,.3 1,0 2-.7 2,.1 1,.3 1.5-.2 1,.6 1.5-1.2 .5,0 1,.4 2.5-.3 .5,.1 1,.9 .5,.2 2.5-.9 1,.1 2-.4 1,.1 1,.7 1.5-.3 .5,.1 .5-.1 1.5-.8 1,.3 1.5,1.1 .5-.1 1.5-.9 2,.8 .5,.1 1.5-.2 2-.9 2,0 2,.9 1.5-.6 1.5,.3 1.5-.5 .5-.1 2,1 .5,.1 1-.5 1,.5 .5-.3 1-1.1 1-.6 2.5-1.8 .5,.1 2.5,1.8 .5,0 .5-.4 1.5-2 1-.5 .5,.2 2.5,3.7 .5,.5 .5,0 1-.4 1,.4 3.5-.2 1,.3 .5,0 1.5-.8 2,.9 1.5-.6 .5,0 1.5,.5 2-.8 2.5,1.5 .5-.1 1-.5 1.5-.1 3.5,.2 2.5-1.2 1,.4 1.5,0 1,.3 2.5-.4 2,.7 1.5-.9 1.5,.3 1.5,.8 1-.5 .5,0 1.5,.3 1-.2 1,0 1.5-.1 2.5,.5 2-.2" stroke="#008000" stroke-width="2.0" fill="none" stroke-linejoin="round" />
</g>
<rect x="423.6" y="57.4" width="86.1" height="96.5" fill="#fff"/>
<g clip-path="url(#clipI)">
<path d="M423.6,84l9.6-.8 9.5-6.6 9.6,2 9.6,22.8 9.5,7.9 9.6-2.4 9.6,18.6 9.5,7.5" stroke="#000" stroke-width="0.9" fill="none" stroke-linejoin="round" />
<path d="M423.6,58.8l9.6,33.1 9.5,10.5 9.6,6.5 9.6,4 9.5,2.3 9.6,20.4 9.6,1.8 9.5,10.5" stroke="#ff0000" stroke-width="0.9" fill="none" stroke-linejoin="round" />
<circle cx="423.6" cy="84" r="4.1" fill="#000"/>
<circle cx="433.2" cy="83.2" r="4.1" fill="#000"/>
<circle cx="442.7" cy="76.6" r="4.1" fill="#000"/>
<circle cx="452.3" cy="78.6" r="4.1" fill="#000"/>
<circle cx="461.9" cy="101.4" r="4.1" fill="#000"/>
<circle cx="471.4" cy="109.3" r="4.1" fill="#000"/>
<circle cx="481.0" cy="106.9" r="4.1" fill="#000"/>
<circle cx="490.6" cy="125.5" r="4.1" fill="#000"/>
<circle cx="500.1" cy="133" r="4.1" fill="#000"/>
<circle cx="423.6" cy="58.8" r="4.1" fill="#ff0000"/>
<circle cx="433.2" cy="91.9" r="4.1" fill="#ff0000"/>
<circle cx="442.7" cy="102.4" r="4.1" fill="#ff0000"/>
<circle cx="452.3" cy="108.9" r="4.1" fill="#ff0000"/>
<circle cx="461.9" cy="112.9" r="4.1" fill="#ff0000"/>
<circle cx="471.4" cy="115.2" r="4.1" fill="#ff0000"/>
<circle cx="481.0" cy="135.6" r="4.1" fill="#ff0000"/>
<circle cx="490.6" cy="137.4" r="4.1" fill="#ff0000"/>
<circle cx="500.1" cy="147.9" r="4.1" fill="#ff0000"/>
</g>
<rect x="423.6" y="57.4" width="86.1" height="96.5" fill="none" stroke="#222" stroke-width="1.2"/>
<line x1="423.6" y1="146.5" x2="427.1" y2="146.5" stroke="#222" stroke-width="1"/>
<line x1="509.7" y1="146.5" x2="506.2" y2="146.5" stroke="#222" stroke-width="1"/>
<line x1="423.6" y1="138.7" x2="425.6" y2="138.7" stroke="#222" stroke-width="0.8"/>
<line x1="509.7" y1="138.7" x2="507.7" y2="138.7" stroke="#222" stroke-width="0.8"/>
<line x1="423.6" y1="134.1" x2="425.6" y2="134.1" stroke="#222" stroke-width="0.8"/>
<line x1="509.7" y1="134.1" x2="507.7" y2="134.1" stroke="#222" stroke-width="0.8"/>
<line x1="423.6" y1="130.9" x2="425.6" y2="130.9" stroke="#222" stroke-width="0.8"/>
<line x1="509.7" y1="130.9" x2="507.7" y2="130.9" stroke="#222" stroke-width="0.8"/>
<line x1="423.6" y1="128.4" x2="425.6" y2="128.4" stroke="#222" stroke-width="0.8"/>
<line x1="509.7" y1="128.4" x2="507.7" y2="128.4" stroke="#222" stroke-width="0.8"/>
<line x1="423.6" y1="126.3" x2="425.6" y2="126.3" stroke="#222" stroke-width="0.8"/>
<line x1="509.7" y1="126.3" x2="507.7" y2="126.3" stroke="#222" stroke-width="0.8"/>
<line x1="423.6" y1="124.6" x2="425.6" y2="124.6" stroke="#222" stroke-width="0.8"/>
<line x1="509.7" y1="124.6" x2="507.7" y2="124.6" stroke="#222" stroke-width="0.8"/>
<line x1="423.6" y1="123.1" x2="425.6" y2="123.1" stroke="#222" stroke-width="0.8"/>
<line x1="509.7" y1="123.1" x2="507.7" y2="123.1" stroke="#222" stroke-width="0.8"/>
<line x1="423.6" y1="121.8" x2="425.6" y2="121.8" stroke="#222" stroke-width="0.8"/>
<line x1="509.7" y1="121.8" x2="507.7" y2="121.8" stroke="#222" stroke-width="0.8"/>
<line x1="423.6" y1="120.6" x2="427.1" y2="120.6" stroke="#222" stroke-width="1"/>
<line x1="509.7" y1="120.6" x2="506.2" y2="120.6" stroke="#222" stroke-width="1"/>
<line x1="423.6" y1="112.8" x2="425.6" y2="112.8" stroke="#222" stroke-width="0.8"/>
<line x1="509.7" y1="112.8" x2="507.7" y2="112.8" stroke="#222" stroke-width="0.8"/>
<line x1="423.6" y1="108.2" x2="425.6" y2="108.2" stroke="#222" stroke-width="0.8"/>
<line x1="509.7" y1="108.2" x2="507.7" y2="108.2" stroke="#222" stroke-width="0.8"/>
<line x1="423.6" y1="105" x2="425.6" y2="105" stroke="#222" stroke-width="0.8"/>
<line x1="509.7" y1="105" x2="507.7" y2="105" stroke="#222" stroke-width="0.8"/>
<line x1="423.6" y1="102.4" x2="425.6" y2="102.4" stroke="#222" stroke-width="0.8"/>
<line x1="509.7" y1="102.4" x2="507.7" y2="102.4" stroke="#222" stroke-width="0.8"/>
<line x1="423.6" y1="100.4" x2="425.6" y2="100.4" stroke="#222" stroke-width="0.8"/>
<line x1="509.7" y1="100.4" x2="507.7" y2="100.4" stroke="#222" stroke-width="0.8"/>
<line x1="423.6" y1="98.7" x2="425.6" y2="98.7" stroke="#222" stroke-width="0.8"/>
<line x1="509.7" y1="98.7" x2="507.7" y2="98.7" stroke="#222" stroke-width="0.8"/>
<line x1="423.6" y1="97.1" x2="425.6" y2="97.1" stroke="#222" stroke-width="0.8"/>
<line x1="509.7" y1="97.1" x2="507.7" y2="97.1" stroke="#222" stroke-width="0.8"/>
<line x1="423.6" y1="95.8" x2="425.6" y2="95.8" stroke="#222" stroke-width="0.8"/>
<line x1="509.7" y1="95.8" x2="507.7" y2="95.8" stroke="#222" stroke-width="0.8"/>
<line x1="423.6" y1="94.6" x2="427.1" y2="94.6" stroke="#222" stroke-width="1"/>
<line x1="509.7" y1="94.6" x2="506.2" y2="94.6" stroke="#222" stroke-width="1"/>
<line x1="423.6" y1="86.8" x2="425.6" y2="86.8" stroke="#222" stroke-width="0.8"/>
<line x1="509.7" y1="86.8" x2="507.7" y2="86.8" stroke="#222" stroke-width="0.8"/>
<line x1="423.6" y1="82.3" x2="425.6" y2="82.3" stroke="#222" stroke-width="0.8"/>
<line x1="509.7" y1="82.3" x2="507.7" y2="82.3" stroke="#222" stroke-width="0.8"/>
<line x1="423.6" y1="79" x2="425.6" y2="79" stroke="#222" stroke-width="0.8"/>
<line x1="509.7" y1="79" x2="507.7" y2="79" stroke="#222" stroke-width="0.8"/>
<line x1="423.6" y1="76.5" x2="425.6" y2="76.5" stroke="#222" stroke-width="0.8"/>
<line x1="509.7" y1="76.5" x2="507.7" y2="76.5" stroke="#222" stroke-width="0.8"/>
<line x1="423.6" y1="74.5" x2="425.6" y2="74.5" stroke="#222" stroke-width="0.8"/>
<line x1="509.7" y1="74.5" x2="507.7" y2="74.5" stroke="#222" stroke-width="0.8"/>
<line x1="423.6" y1="72.7" x2="425.6" y2="72.7" stroke="#222" stroke-width="0.8"/>
<line x1="509.7" y1="72.7" x2="507.7" y2="72.7" stroke="#222" stroke-width="0.8"/>
<line x1="423.6" y1="71.2" x2="425.6" y2="71.2" stroke="#222" stroke-width="0.8"/>
<line x1="509.7" y1="71.2" x2="507.7" y2="71.2" stroke="#222" stroke-width="0.8"/>
<line x1="423.6" y1="69.9" x2="425.6" y2="69.9" stroke="#222" stroke-width="0.8"/>
<line x1="509.7" y1="69.9" x2="507.7" y2="69.9" stroke="#222" stroke-width="0.8"/>
<line x1="423.6" y1="68.7" x2="427.1" y2="68.7" stroke="#222" stroke-width="1"/>
<line x1="509.7" y1="68.7" x2="506.2" y2="68.7" stroke="#222" stroke-width="1"/>
<line x1="423.6" y1="60.9" x2="425.6" y2="60.9" stroke="#222" stroke-width="0.8"/>
<line x1="509.7" y1="60.9" x2="507.7" y2="60.9" stroke="#222" stroke-width="0.8"/>
<line x1="423.6" y1="152.3" x2="425.6" y2="152.3" stroke="#222" stroke-width="0.8"/>
<line x1="509.7" y1="152.3" x2="507.7" y2="152.3" stroke="#222" stroke-width="0.8"/>
<line x1="423.6" y1="150.5" x2="425.6" y2="150.5" stroke="#222" stroke-width="0.8"/>
<line x1="509.7" y1="150.5" x2="507.7" y2="150.5" stroke="#222" stroke-width="0.8"/>
<line x1="423.6" y1="149" x2="425.6" y2="149" stroke="#222" stroke-width="0.8"/>
<line x1="509.7" y1="149" x2="507.7" y2="149" stroke="#222" stroke-width="0.8"/>
<line x1="423.6" y1="147.7" x2="425.6" y2="147.7" stroke="#222" stroke-width="0.8"/>
<line x1="509.7" y1="147.7" x2="507.7" y2="147.7" stroke="#222" stroke-width="0.8"/>
<line x1="433.2" y1="153.9" x2="433.2" y2="150.9" stroke="#222" stroke-width="1"/>
<line x1="433.2" y1="57.4" x2="433.2" y2="60.4" stroke="#222" stroke-width="1"/>
<line x1="452.3" y1="153.9" x2="452.3" y2="150.9" stroke="#222" stroke-width="1"/>
<line x1="452.3" y1="57.4" x2="452.3" y2="60.4" stroke="#222" stroke-width="1"/>
<line x1="471.4" y1="153.9" x2="471.4" y2="150.9" stroke="#222" stroke-width="1"/>
<line x1="471.4" y1="57.4" x2="471.4" y2="60.4" stroke="#222" stroke-width="1"/>
<line x1="490.6" y1="153.9" x2="490.6" y2="150.9" stroke="#222" stroke-width="1"/>
<line x1="490.6" y1="57.4" x2="490.6" y2="60.4" stroke="#222" stroke-width="1"/>
<line x1="509.7" y1="153.9" x2="509.7" y2="150.9" stroke="#222" stroke-width="1"/>
<line x1="509.7" y1="57.4" x2="509.7" y2="60.4" stroke="#222" stroke-width="1"/>
<line x1="442.7" y1="153.9" x2="442.7" y2="151.9" stroke="#222" stroke-width="0.8"/>
<line x1="442.7" y1="57.4" x2="442.7" y2="59.4" stroke="#222" stroke-width="0.8"/>
<line x1="461.9" y1="153.9" x2="461.9" y2="151.9" stroke="#222" stroke-width="0.8"/>
<line x1="461.9" y1="57.4" x2="461.9" y2="59.4" stroke="#222" stroke-width="0.8"/>
<line x1="481" y1="153.9" x2="481" y2="151.9" stroke="#222" stroke-width="0.8"/>
<line x1="481" y1="57.4" x2="481" y2="59.4" stroke="#222" stroke-width="0.8"/>
<line x1="500.1" y1="153.9" x2="500.1" y2="151.9" stroke="#222" stroke-width="0.8"/>
<line x1="500.1" y1="57.4" x2="500.1" y2="59.4" stroke="#222" stroke-width="0.8"/>
<text x="419.1" y="72.7" font-size="11" text-anchor="end" fill="#1a1a1a">10<tspan font-size="7.5" dy="-4.5">2</tspan></text>
<text x="419.1" y="98.6" font-size="11" text-anchor="end" fill="#1a1a1a">10<tspan font-size="7.5" dy="-4.5">1</tspan></text>
<text x="419.1" y="124.6" font-size="11" text-anchor="end" fill="#1a1a1a">10<tspan font-size="7.5" dy="-4.5">0</tspan></text>
<text x="419.1" y="150.5" font-size="11" text-anchor="end" fill="#1a1a1a">10<tspan font-size="7.5" dy="-4.5">-1</tspan></text>
<text x="433.2" y="168.9" font-size="11" text-anchor="middle" font-weight="normal" fill="#1a1a1a">2</text>
<text x="452.3" y="168.9" font-size="11" text-anchor="middle" font-weight="normal" fill="#1a1a1a">4</text>
<text x="471.4" y="168.9" font-size="11" text-anchor="middle" font-weight="normal" fill="#1a1a1a">6</text>
<text x="490.6" y="168.9" font-size="11" text-anchor="middle" font-weight="normal" fill="#1a1a1a">8</text>
<text x="509.7" y="168.9" font-size="11" text-anchor="middle" font-weight="normal" fill="#1a1a1a">10</text>
<text x="467" y="180.4" font-size="11" text-anchor="middle" font-weight="normal" fill="#1a1a1a">Modes</text>
<text transform="translate(396.5,105) rotate(-90)" font-size="11.3" text-anchor="middle" fill="#1a1a1a">Energy (a.u)</text>
<path d="M531.9,176.6 537.1,176.6 537.1,188.5 539.2,188.5 534.5,199.0 529.8,188.5 531.9,188.5Z" fill="#ff0000"/>
<path d="M555.3,176.6 560.5,176.6 560.5,188.5 562.6,188.5 557.9,199.0 553.1,188.5 555.3,188.5Z" fill="#ff0000"/>
<text x="534.2" y="172.3" font-size="14" text-anchor="middle" font-weight="normal" fill="#000">a</text>
<text x="557.9" y="172.5" font-size="14" text-anchor="middle" font-weight="normal" fill="#000">b</text>
<path d="M405.6,304.5 413.5,312.7 409.9,312.7 409.9,328.5 401.4,328.5 401.4,312.7 397.7,312.7Z" fill="#ff0000"/>
<rect x="404.95" y="309.0" width="1.3" height="16.3" fill="#fff"/>
<path d="M647.6,304.5 655.5,312.7 651.9,312.7 651.9,328.5 643.4,328.5 643.4,312.7 639.7,312.7Z" fill="#ff0000"/>
<rect x="646.95" y="309.0" width="1.3" height="16.3" fill="#fff"/>
<text x="669.5" y="203.9" font-size="12.6" text-anchor="middle" font-weight="normal" fill="#000">modes</text>
<rect x="674" y="304" width="12" height="16" fill="#fff"/>
<text x="679" y="225.2" font-size="14" text-anchor="middle" font-weight="normal" fill="#000">1</text>
<text x="680" y="317.3" font-size="14" text-anchor="middle" font-weight="normal" fill="#000">9</text>
<line x1="680.6" y1="239.5" x2="680.6" y2="292" stroke="#000" stroke-width="2.7"/>
<path d="M676.3,291 L684.9,291 L680.6,300 Z" fill="#000"/>
<rect x="377.7" y="29.4" width="318.5" height="298.8" fill="none" stroke="#222" stroke-width="1.3"/>
<line x1="377.7" y1="48.3" x2="381.7" y2="48.3" stroke="#222" stroke-width="1.1"/>
<line x1="696.2" y1="48.3" x2="692.2" y2="48.3" stroke="#222" stroke-width="1.1"/>
<line x1="377.7" y1="144.8" x2="381.7" y2="144.8" stroke="#222" stroke-width="1.1"/>
<line x1="696.2" y1="144.8" x2="692.2" y2="144.8" stroke="#222" stroke-width="1.1"/>
<line x1="377.7" y1="241.3" x2="381.7" y2="241.3" stroke="#222" stroke-width="1.1"/>
<line x1="696.2" y1="241.3" x2="692.2" y2="241.3" stroke="#222" stroke-width="1.1"/>
<line x1="377.7" y1="96.6" x2="380.2" y2="96.6" stroke="#222" stroke-width="1.1"/>
<line x1="696.2" y1="96.6" x2="693.7" y2="96.6" stroke="#222" stroke-width="1.1"/>
<line x1="377.7" y1="193.1" x2="380.2" y2="193.1" stroke="#222" stroke-width="1.1"/>
<line x1="696.2" y1="193.1" x2="693.7" y2="193.1" stroke="#222" stroke-width="1.1"/>
<line x1="433" y1="328.2" x2="433" y2="324.2" stroke="#222" stroke-width="1.1"/>
<line x1="433" y1="29.4" x2="433" y2="33.4" stroke="#222" stroke-width="1.1"/>
<line x1="488.4" y1="328.2" x2="488.4" y2="324.2" stroke="#222" stroke-width="1.1"/>
<line x1="488.4" y1="29.4" x2="488.4" y2="33.4" stroke="#222" stroke-width="1.1"/>
<line x1="543.8" y1="328.2" x2="543.8" y2="324.2" stroke="#222" stroke-width="1.1"/>
<line x1="543.8" y1="29.4" x2="543.8" y2="33.4" stroke="#222" stroke-width="1.1"/>
<line x1="599.2" y1="328.2" x2="599.2" y2="324.2" stroke="#222" stroke-width="1.1"/>
<line x1="599.2" y1="29.4" x2="599.2" y2="33.4" stroke="#222" stroke-width="1.1"/>
<line x1="654.6" y1="328.2" x2="654.6" y2="324.2" stroke="#222" stroke-width="1.1"/>
<line x1="654.6" y1="29.4" x2="654.6" y2="33.4" stroke="#222" stroke-width="1.1"/>
<line x1="405.3" y1="328.2" x2="405.3" y2="325.7" stroke="#222" stroke-width="1.1"/>
<line x1="405.3" y1="29.4" x2="405.3" y2="31.9" stroke="#222" stroke-width="1.1"/>
<line x1="460.7" y1="328.2" x2="460.7" y2="325.7" stroke="#222" stroke-width="1.1"/>
<line x1="460.7" y1="29.4" x2="460.7" y2="31.9" stroke="#222" stroke-width="1.1"/>
<line x1="516.1" y1="328.2" x2="516.1" y2="325.7" stroke="#222" stroke-width="1.1"/>
<line x1="516.1" y1="29.4" x2="516.1" y2="31.9" stroke="#222" stroke-width="1.1"/>
<line x1="571.5" y1="328.2" x2="571.5" y2="325.7" stroke="#222" stroke-width="1.1"/>
<line x1="571.5" y1="29.4" x2="571.5" y2="31.9" stroke="#222" stroke-width="1.1"/>
<line x1="626.9" y1="328.2" x2="626.9" y2="325.7" stroke="#222" stroke-width="1.1"/>
<line x1="626.9" y1="29.4" x2="626.9" y2="31.9" stroke="#222" stroke-width="1.1"/>
<line x1="682.3" y1="328.2" x2="682.3" y2="325.7" stroke="#222" stroke-width="1.1"/>
<line x1="682.3" y1="29.4" x2="682.3" y2="31.9" stroke="#222" stroke-width="1.1"/>
<text x="6.4" y="383.5" font-size="19.5" font-weight="bold" text-anchor="middle" fill="#000">d</text>
<text x="182" y="382" font-size="11.3" text-anchor="middle" font-weight="normal" fill="#1a1a1a">Phase (deg)</text>
<text x="36.7" y="398.3" font-size="11" text-anchor="middle" font-weight="normal" fill="#1a1a1a">0</text>
<text x="108.2" y="398.3" font-size="11" text-anchor="middle" font-weight="normal" fill="#1a1a1a">45</text>
<text x="179.7" y="398.3" font-size="11" text-anchor="middle" font-weight="normal" fill="#1a1a1a">90</text>
<text x="251.2" y="398.3" font-size="11" text-anchor="middle" font-weight="normal" fill="#1a1a1a">135</text>
<text x="322.7" y="398.3" font-size="11" text-anchor="middle" font-weight="normal" fill="#1a1a1a">180</text>
<text x="33" y="434.6" font-size="11" text-anchor="end" font-weight="normal" fill="#1a1a1a">0.0</text>
<text x="33" y="473.6" font-size="11" text-anchor="end" font-weight="normal" fill="#1a1a1a">-0.5</text>
<text transform="translate(11,449.5) rotate(-90)" font-size="11.3" text-anchor="middle" fill="#1a1a1a">Voltage (V)</text>
<g clip-path="url(#clipD)">
<path d="M39,429.2l1.1,.6 .5,1.1 .6-.6 .5,1 .6-1 2.7-.2 .6-1.7 .5-3 .6,.3 1.6,10.2 1.7,17.7 .5,.5 1.1-12.7 1.1-7.2 .6-1.3 1.1,3.4 .5-.1 .6-.5 1.1-6.4 .5-1.9 .6,.4 1.6,10.4 .6,0 1.1-6 .5,.1 .6-.3 .5,.4 .6-.5 .5,.6 .6,1.3 1.1-.6 .5,1.2 1.1-.4 .6,.9 1.1,0 .5-.9 .6,.4 .5-.6 .6,.4 .5,0 .6,.3 .5-.4 1.1,.7 .6-1.1 .5-.1 .6-.5 .5,1.3 1.1,1.2 .6,1.3 1.1-2.1 .5,1.1 .6,2.1 .5,.9 .6,2.7 .5-.2 1.1-4 .6-.9 .5,.9 .6-.8 .5-.3 .6-1.3 .5,.4 .6-1.9 .5-.2 .6-.9 .5,.9 .6-.7 .5,.3 .6,1 .5-.5 1.1,.1 .6-.4 .5-.1 1.1-1.8 1.1,.8 .6-1.1 2.2,3.9 .5,.3 .6,1.3 .5,.3 .6,1.3 .5,.3 .6-.9 .5-1.5 .6,.4 .5-1.3 .6,.3 .5-.4 .6,.3 .5-.7 .6-1.2 .5,.1 .6,1.3 .5-.2 .6-2.1 .5,1.5 .6-1.9 .5,1.8 1.1-4.9 1.1,1.7 .6,.1 .5-.8 1.1-7 1.7,12.4 1.1-3.5 .5,1 .6,3.6 1.1-10.7 .5,10.4 1.1-7.6 .6,5.9 .5,.5 .6-1.8 .5-1.1 .6,2.8 .5-3.6 .6,8.7 .5-8.2 .6,.1 .5,1.6 .6-2 .5,.5 .6-4.3 .5,6.3 .6-.4 .5,5.3 .6-.7 .5-3 .6,5.1 .5-2.2 .6,1.5 1.6-10.2 .6,11.4 1.1-13.3 .5-3 .6,.5 .5,12.5 1.1-9 .6-1.9 .5,3.1 1.1,1.1 .6,4.7 1.1-7.7 .5,1.4 .6-10.5 .5,21.7 1.1-17.1 .6,3 .5-2.2 1.1,14.2 .6-4 .5-9.8 .6,16.9 .5-2.8 .6,3.5 .5-6.1 .6-1.4 .5-4.8 .6,6.5 .5-13.1 1.1,12.8 .6,3.8 .5,2.4 1.1-20.7 .6,11.8 .5,5.5 .6-5 1.1,5.4 .5,5.2 1.1-22.7 .6-3.7 .5-2.1 .6,7.5 .5,3.4 .6-1 .5,6.2 .6-1.2 .5,3.1 .6-8 .5,11 .6-8.9 .5-1.9 .6,.1 .5,1.4 .6,7.4 .5,1.3 .6-.9 .5,.3 .6,4.5 .5-3.6 1.1,2.8 .6-7.5 .5,6 .6-6.8 1.1-21.9 1.1,9.7 .5,21.1 .6-5.8 .5,.6 .6-3 .5,3.8 .6-1.1 .5-5.7 .6,3.4 .5,1.2 .6-5.2 .5,14.7 .6,8.6 .5-3.1 .6,1.3 .5-9 .6,2.1 .5-4.8 .6,10.7 .5-24.2 1.1,16.1 1.1-16.5 .6,2.6 .5,5.7 1.1-16.1 1.1,56.2 .6,12.8 1.1-55.7 .5,1.5 .6-12.6 .5-4.4 .6-1.1 1.1,31 .5,4.8 .6-13.6 .5-2.6 .6,13.5 .5-1.8 .6-16.7 .5,4.3 .6,8.7 .5-13.1 .6-6.2 1.1,9.9 .5-8 .6,13.1 .5,3.1 .6,.9 .5-21.9 .6-2.8 .5,12.3 .6-9.8 .5-.2 .6,2.9 .5,5 1.1,23.3 .6-2.8 .5-5.2 .6,.4 .5-20.4 1.1,24.9 .6,2.5 .5-2.6 1.1-14.7 .6,11.4 .5,23.5 .6-9.3 .5-33.4 .6-2.8 1.1,11.9 .5-4.7 .6,2.2 .5-13.9 .6,18.1 .5,1.6 .6-14.8 .5,10 .6,4.5 .5-6.6 .6,16 .5-17.1 .6,1.2 .5-.6 .6,6.5 .5-13 .6,6.5 .5,3.3 .6-1.2 .5,8.5 .6-2.5 .5,10.6 .6-1.3 .5-8.6 .6,1.2 .5-3.4 .6,9.1 .5-3.7 .6,3.7 .5-3.5 .6,.3 .5-4.4 .6-8.2 .5,2.1 .6-1.9 1.1,27 .5-7.9 .6-1.1 .5-9.6 .6,.6 .5,20.2 .6-.4 .5-12.5 .6-4.7 .5,2 .6,15.7 .5-7.6 1.1-25.4 .6,16.7 .5-15.6 .6,9.8 .5,3.4 .6-8 .5,3.5 1.1-2.7 .6-.6 1.6,1.1 .6-.6 .5,1.5 .6-.5 .5-1.6 .6,0 .5-.4 .6,.5 .5,1 .6-.6 .5,1.4 .6-1.1 .5,0 .6,1.5 .5-.8 1.1,1.2 .6,1.1 1.1-1.6 .5,1.2 .6-.7 .5-.2 .6,.2 .5-1.5 .6,.5 1.1,.3 .5,1.4 .6-1.1 .5,2.8 .6,1.4 .5-.2 1.1,1.7 .6,0 .5-1.2 .6-.3 1.1-2 .5-.4 .6-1.9 .5-.3 .6-.8 .5,.6 .6-.7 .5,.5 .6-.3 .5,2 .6,.1 .5,1.2 .6,.4 .5,1.3 .6,.7 .5,1.8 .6-.2 .5-1.1 .6,.1 .5-.5 .6-.2 .5-1.3 .6-.4 1.1-2.6 .5-.7 .6,.2 1.1-1.1 1.1-.3 .5,.1 .6-1 .5,.4 .6-.5 .5-1.5 .6-.6 .5-.1 1.1,1.8 .6,0 .5,.4 1.7,5 .5,1 .6-.6 .5,2 .6,.1 .5-.2 .6-.5 .5,.1 .6-1.6 .5-.9 1.7-1.4 .5,.4 .6-1.2 1.1,1 .5-.4 .6-.2 .5,0 1.1-.7 .6,.4 .5-.6 .6-.2 .5,.5 .6-1 .5,.7 1.1,.4 .6,.8 .5-.6 .6-.2 .5,.2 .6,1 .5-2.2 1.1,.7 .6,.3 1.6,1.9 .6,1.7 .5,.4 .6,1 1.1,.7 .5-.2" stroke="#0000ff" stroke-width="1.15" fill="none" stroke-linejoin="round" />
</g>
<rect x="39" y="402.7" width="285.5" height="78.1" fill="none" stroke="#222" stroke-width="1.3"/>
<line x1="39" y1="430.7" x2="43" y2="430.7" stroke="#222" stroke-width="1.1"/>
<line x1="324.5" y1="430.7" x2="320.5" y2="430.7" stroke="#222" stroke-width="1.1"/>
<line x1="39" y1="469.7" x2="43" y2="469.7" stroke="#222" stroke-width="1.1"/>
<line x1="324.5" y1="469.7" x2="320.5" y2="469.7" stroke="#222" stroke-width="1.1"/>
<line x1="39" y1="411.2" x2="41.5" y2="411.2" stroke="#222" stroke-width="1.1"/>
<line x1="324.5" y1="411.2" x2="322" y2="411.2" stroke="#222" stroke-width="1.1"/>
<line x1="39" y1="450.2" x2="41.5" y2="450.2" stroke="#222" stroke-width="1.1"/>
<line x1="324.5" y1="450.2" x2="322" y2="450.2" stroke="#222" stroke-width="1.1"/>
<line x1="110.4" y1="402.7" x2="110.4" y2="406.7" stroke="#222" stroke-width="1.1"/>
<line x1="181.8" y1="402.7" x2="181.8" y2="406.7" stroke="#222" stroke-width="1.1"/>
<line x1="253.1" y1="402.7" x2="253.1" y2="406.7" stroke="#222" stroke-width="1.1"/>
<line x1="74.7" y1="402.7" x2="74.7" y2="405.2" stroke="#222" stroke-width="1.1"/>
<line x1="146.1" y1="402.7" x2="146.1" y2="405.2" stroke="#222" stroke-width="1.1"/>
<line x1="217.4" y1="402.7" x2="217.4" y2="405.2" stroke="#222" stroke-width="1.1"/>
<line x1="288.8" y1="402.7" x2="288.8" y2="405.2" stroke="#222" stroke-width="1.1"/>
<line x1="57.7" y1="480.8" x2="57.7" y2="477.3" stroke="#222" stroke-width="1.1"/>
<line x1="76.8" y1="480.8" x2="76.8" y2="477.3" stroke="#222" stroke-width="1.1"/>
<line x1="95.9" y1="480.8" x2="95.9" y2="477.3" stroke="#222" stroke-width="1.1"/>
<line x1="115" y1="480.8" x2="115" y2="477.3" stroke="#222" stroke-width="1.1"/>
<line x1="134.1" y1="480.8" x2="134.1" y2="477.3" stroke="#222" stroke-width="1.1"/>
<line x1="153.2" y1="480.8" x2="153.2" y2="477.3" stroke="#222" stroke-width="1.1"/>
<line x1="172.3" y1="480.8" x2="172.3" y2="477.3" stroke="#222" stroke-width="1.1"/>
<line x1="191.4" y1="480.8" x2="191.4" y2="477.3" stroke="#222" stroke-width="1.1"/>
<line x1="210.5" y1="480.8" x2="210.5" y2="477.3" stroke="#222" stroke-width="1.1"/>
<line x1="229.6" y1="480.8" x2="229.6" y2="477.3" stroke="#222" stroke-width="1.1"/>
<line x1="248.7" y1="480.8" x2="248.7" y2="477.3" stroke="#222" stroke-width="1.1"/>
<line x1="267.8" y1="480.8" x2="267.8" y2="477.3" stroke="#222" stroke-width="1.1"/>
<line x1="286.9" y1="480.8" x2="286.9" y2="477.3" stroke="#222" stroke-width="1.1"/>
<line x1="306" y1="480.8" x2="306" y2="477.3" stroke="#222" stroke-width="1.1"/>
<path d="M107.0,459.8 113.7,466.9 110.5,466.9 110.5,481.0 103.5,481.0 103.5,466.9 100.3,466.9Z" fill="#ff0000"/>
<rect x="106.25" y="464.0" width="1.5" height="13.7" fill="#fff"/>
<path d="M245.6,459.8 252.3,466.9 249.2,466.9 249.2,481.0 242.0,481.0 242.0,466.9 238.9,466.9Z" fill="#ff0000"/>
<rect x="244.85" y="464.0" width="1.5" height="13.7" fill="#fff"/>
<path d="M173.0,456.0 177.4,456.0 177.4,470.2 179.3,470.2 175.2,479.1 171.0,470.2 173.0,470.2Z" fill="#ff0000"/>
<path d="M210.3,456.0 214.7,456.0 214.7,470.2 216.7,470.2 212.5,479.1 208.3,470.2 210.3,470.2Z" fill="#ff0000"/>
<path d="M233.1,456.0 237.5,456.0 237.5,470.2 239.5,470.2 235.3,479.1 231.2,470.2 233.1,470.2Z" fill="#ff0000"/>
<text x="165" y="461.3" font-size="14" text-anchor="middle" font-weight="normal" fill="#000">a</text>
<text x="203.1" y="461.4" font-size="14" text-anchor="middle" font-weight="normal" fill="#000">b</text>
<text x="227" y="461.3" font-size="14" text-anchor="middle" font-weight="normal" fill="#000">c</text>

<rect x="39" y="491.2" width="285.5" height="230.4" fill="none" stroke="#111" stroke-width="1.3"/>
<line x1="57.7" y1="491.2" x2="57.7" y2="493.7" stroke="#111" stroke-width="1.1"/>
<line x1="76.8" y1="491.2" x2="76.8" y2="495.2" stroke="#111" stroke-width="1.1"/>
<line x1="95.9" y1="491.2" x2="95.9" y2="493.7" stroke="#111" stroke-width="1.1"/>
<line x1="115" y1="491.2" x2="115" y2="495.2" stroke="#111" stroke-width="1.1"/>
<line x1="134.1" y1="491.2" x2="134.1" y2="493.7" stroke="#111" stroke-width="1.1"/>
<line x1="153.2" y1="491.2" x2="153.2" y2="495.2" stroke="#111" stroke-width="1.1"/>
<line x1="172.3" y1="491.2" x2="172.3" y2="493.7" stroke="#111" stroke-width="1.1"/>
<line x1="191.4" y1="491.2" x2="191.4" y2="495.2" stroke="#111" stroke-width="1.1"/>
<line x1="210.5" y1="491.2" x2="210.5" y2="493.7" stroke="#111" stroke-width="1.1"/>
<line x1="229.6" y1="491.2" x2="229.6" y2="495.2" stroke="#111" stroke-width="1.1"/>
<line x1="248.7" y1="491.2" x2="248.7" y2="493.7" stroke="#111" stroke-width="1.1"/>
<line x1="267.8" y1="491.2" x2="267.8" y2="495.2" stroke="#111" stroke-width="1.1"/>
<line x1="286.9" y1="491.2" x2="286.9" y2="493.7" stroke="#111" stroke-width="1.1"/>
<line x1="306" y1="491.2" x2="306" y2="495.2" stroke="#111" stroke-width="1.1"/>
<line x1="36.5" y1="513.9" x2="41.5" y2="513.9" stroke="#111" stroke-width="1.1"/>
<line x1="324.5" y1="513.9" x2="322" y2="513.9" stroke="#111" stroke-width="1.1"/>
<line x1="34" y1="536.8" x2="44" y2="536.8" stroke="#111" stroke-width="1.1"/>
<line x1="324.5" y1="536.8" x2="320.5" y2="536.8" stroke="#111" stroke-width="1.1"/>
<line x1="36.5" y1="559.8" x2="41.5" y2="559.8" stroke="#111" stroke-width="1.1"/>
<line x1="324.5" y1="559.8" x2="322" y2="559.8" stroke="#111" stroke-width="1.1"/>
<line x1="34" y1="582.7" x2="44" y2="582.7" stroke="#111" stroke-width="1.1"/>
<line x1="324.5" y1="582.7" x2="320.5" y2="582.7" stroke="#111" stroke-width="1.1"/>
<line x1="36.5" y1="605.7" x2="41.5" y2="605.7" stroke="#111" stroke-width="1.1"/>
<line x1="324.5" y1="605.7" x2="322" y2="605.7" stroke="#111" stroke-width="1.1"/>
<line x1="34" y1="628.7" x2="44" y2="628.7" stroke="#111" stroke-width="1.1"/>
<line x1="324.5" y1="628.7" x2="320.5" y2="628.7" stroke="#111" stroke-width="1.1"/>
<line x1="36.5" y1="651.6" x2="41.5" y2="651.6" stroke="#111" stroke-width="1.1"/>
<line x1="324.5" y1="651.6" x2="322" y2="651.6" stroke="#111" stroke-width="1.1"/>
<line x1="34" y1="674.6" x2="44" y2="674.6" stroke="#111" stroke-width="1.1"/>
<line x1="324.5" y1="674.6" x2="320.5" y2="674.6" stroke="#111" stroke-width="1.1"/>
<line x1="36.5" y1="697.5" x2="41.5" y2="697.5" stroke="#111" stroke-width="1.1"/>
<line x1="324.5" y1="697.5" x2="322" y2="697.5" stroke="#111" stroke-width="1.1"/>
<line x1="34" y1="720.5" x2="44" y2="720.5" stroke="#111" stroke-width="1.1"/>
<line x1="324.5" y1="720.5" x2="320.5" y2="720.5" stroke="#111" stroke-width="1.1"/>
<text x="30.6" y="540.7" font-size="11" text-anchor="end" font-weight="normal" fill="#1a1a1a">2k</text>
<text x="30.6" y="586.7" font-size="11" text-anchor="end" font-weight="normal" fill="#1a1a1a">4k</text>
<text x="30.6" y="632.6" font-size="11" text-anchor="end" font-weight="normal" fill="#1a1a1a">6k</text>
<text x="30.6" y="678.5" font-size="11" text-anchor="end" font-weight="normal" fill="#1a1a1a">8k</text>
<text x="30.6" y="724.4" font-size="11" text-anchor="end" font-weight="normal" fill="#1a1a1a">10k</text>
<text x="38.6" y="738.9" font-size="11" text-anchor="middle" font-weight="normal" fill="#1a1a1a">0</text>
<text x="76.8" y="738.9" font-size="11" text-anchor="middle" font-weight="normal" fill="#1a1a1a">20</text>
<text x="115" y="738.9" font-size="11" text-anchor="middle" font-weight="normal" fill="#1a1a1a">40</text>
<text x="153.2" y="738.9" font-size="11" text-anchor="middle" font-weight="normal" fill="#1a1a1a">60</text>
<text x="191.4" y="738.9" font-size="11" text-anchor="middle" font-weight="normal" fill="#1a1a1a">80</text>
<text x="229.6" y="738.9" font-size="11" text-anchor="middle" font-weight="normal" fill="#1a1a1a">100</text>
<text x="267.8" y="738.9" font-size="11" text-anchor="middle" font-weight="normal" fill="#1a1a1a">120</text>
<text x="306" y="738.9" font-size="11" text-anchor="middle" font-weight="normal" fill="#1a1a1a">140</text>
<line x1="38.6" y1="721.6" x2="38.6" y2="725.6" stroke="#222" stroke-width="1.1"/>
<line x1="57.7" y1="721.6" x2="57.7" y2="724.1" stroke="#222" stroke-width="1.1"/>
<line x1="76.8" y1="721.6" x2="76.8" y2="725.6" stroke="#222" stroke-width="1.1"/>
<line x1="95.9" y1="721.6" x2="95.9" y2="724.1" stroke="#222" stroke-width="1.1"/>
<line x1="115" y1="721.6" x2="115" y2="725.6" stroke="#222" stroke-width="1.1"/>
<line x1="134.1" y1="721.6" x2="134.1" y2="724.1" stroke="#222" stroke-width="1.1"/>
<line x1="153.2" y1="721.6" x2="153.2" y2="725.6" stroke="#222" stroke-width="1.1"/>
<line x1="172.3" y1="721.6" x2="172.3" y2="724.1" stroke="#222" stroke-width="1.1"/>
<line x1="191.4" y1="721.6" x2="191.4" y2="725.6" stroke="#222" stroke-width="1.1"/>
<line x1="210.5" y1="721.6" x2="210.5" y2="724.1" stroke="#222" stroke-width="1.1"/>
<line x1="229.6" y1="721.6" x2="229.6" y2="725.6" stroke="#222" stroke-width="1.1"/>
<line x1="248.7" y1="721.6" x2="248.7" y2="724.1" stroke="#222" stroke-width="1.1"/>
<line x1="267.8" y1="721.6" x2="267.8" y2="725.6" stroke="#222" stroke-width="1.1"/>
<line x1="286.9" y1="721.6" x2="286.9" y2="724.1" stroke="#222" stroke-width="1.1"/>
<line x1="306" y1="721.6" x2="306" y2="725.6" stroke="#222" stroke-width="1.1"/>
<text x="179" y="751.5" font-size="11.3" text-anchor="middle" font-weight="normal" fill="#1a1a1a">Time (ms)</text>
<text transform="translate(9.5,601.7) rotate(-90)" font-size="11.3" text-anchor="middle" fill="#1a1a1a">Frequency (KHz)</text>
<text x="5.7" y="509.7" font-size="19.5" font-weight="bold" text-anchor="middle" fill="#000">e</text>
<text x="348" y="383.8" font-size="19.5" font-weight="bold" text-anchor="middle" fill="#000">f</text>
<text x="550" y="381.3" font-size="11.3" text-anchor="middle" font-weight="normal" fill="#1a1a1a">Phase (deg)</text>
<text x="379" y="398.5" font-size="11" text-anchor="middle" font-weight="normal" fill="#1a1a1a">70</text>
<text x="464.6" y="398.5" font-size="11" text-anchor="middle" font-weight="normal" fill="#1a1a1a">90</text>
<text x="550.2" y="398.5" font-size="11" text-anchor="middle" font-weight="normal" fill="#1a1a1a">110</text>
<text x="635.8" y="398.5" font-size="11" text-anchor="middle" font-weight="normal" fill="#1a1a1a">130</text>
<text x="371.5" y="547.5" font-size="11" text-anchor="end" font-weight="normal" fill="#1a1a1a">0.0</text>
<text x="371.5" y="496" font-size="11" text-anchor="end" font-weight="normal" fill="#1a1a1a">0.2</text>
<text x="371.5" y="444.5" font-size="11" text-anchor="end" font-weight="normal" fill="#1a1a1a">0.4</text>
<text x="377.8" y="561.6" font-size="11" text-anchor="middle" font-weight="normal" fill="#1a1a1a">60</text>
<text x="484.6" y="561.6" font-size="11" text-anchor="middle" font-weight="normal" fill="#1a1a1a">80</text>
<text x="591.5" y="561.6" font-size="11" text-anchor="middle" font-weight="normal" fill="#1a1a1a">100</text>
<text x="698.3" y="561.6" font-size="11" text-anchor="middle" font-weight="normal" fill="#1a1a1a">120</text>
<text x="538" y="569.6" font-size="11.3" text-anchor="middle" font-weight="normal" fill="#1a1a1a">Time (ms)</text>
<text transform="translate(343.5,478.9) rotate(-90)" font-size="11.3" text-anchor="middle" fill="#1a1a1a">Modal power (a.u.)</text>
<g clip-path="url(#clipF)">
<path d="M377.8,497.2l69.5,0 7-.4 5-.8 2.5-.8 2.5-1.2 2-1.3 2-1.7 4-4.4 7.5-10.5 2.5-3 1.5-1.5 1.5-1 1.5-.7 1.5-.2 1.5,.3 1.5,.7 1.5,1.1 1.5,1.5 3,3.9 7.5,11 3.5,4.1 2,1.8 1.5,.9 1.5,.7 2,.4 2.5,0 2.5-.4 3.5-1.2 3-1.3 2.5-1.4 3-2 9-7.4 3.5-2.5 3.5-1.7 2-.5 1.5-.2 1.5,.1 2,.5 3.5,1.5 3,2 8.5,6.5 4.5,2.7 4.5,1.8 5,1.1 7,.3 13.5-.3 8-.4 6-.9 5-1.2 4.5-1.6 4.5-2 9-4.5 4.5-1.9 4.5-1.2 4.5-.4 4,.5 4.5,1.4 4.5,2 11,6 5.5,2.6 6.5,2.3 7,1.5" stroke="#000000" stroke-width="1.5" fill="none" stroke-linejoin="round" />
<path d="M377.8,500.5l5.5,.2 7.5,.8 4-.2 8.5-1.4 2.5-.7 6-2.3 3-.4 2,.3 2.5,.8 8,4.4 1.5,.4 1.5-.4 1-.7 1-1.2 1.5-2.7 2-5.7 4-14.1 1-2.3 .5-.7 .5-.5 .5-.1 .5,.2 .5,.6 1,1.9 4.5,14.8 2,4.7 1,1.6 1,1 1.5,.9 1.5,.4 2,.1 2.5-.3 2-.6 2-1 1.5-1.1 2-1.8 5-5.9 1.5-1.4 2-1.3 1.5-.3 1.5,.4 2,1.3 6,6.8 3,2.7 3,1.6 3,.7 1.5,0 1.5-.2 1.5-.6 1-.7 2-2.3 4.5-6.9 1-.9 1-.4 1,.3 1.5,1.4 4.5,7.1 2,2.5 1.5,1.4 1,.6 2,.6 1.5-.2 3.5-.9 2.5-.2 30.5,0 5.5-.3 2-.3 2-.6 2-.9 5.5-3.1 1.5-.5 1.5-.1 1.5,.2 1.5,.6 5.5,3.1 2.5,1.1 2.5,.7 3.5,.4 6,.2 3.5-.1 2.5-.6 4.5-1.6 1.5-.2 2,.3 4.5,2.1 2.5,.7 3.5,.5 9.5,.5 9.5,.4 9,.1 41-.6" stroke="#ff0000" stroke-width="1.5" fill="none" stroke-linejoin="round" />
<path d="M377.8,507l1-.1 2.5,.8 1-.2 1.5-.5 5,.4 1.5-.2 5.5,.1 4-.2 2-.3 1.5,.2 1.5-.2 2.5,.3 7-.1 2.5,.3 1.5-.4 3,0 3-.4 4.5-1.4 2-.8 2-.4 2-.1 3,.5 4.5,1.4 2,.8 2,0 2,.6 3-.2 5,.5 8-.4 4,.3 3.5-.2 1.5,.2 1.5-.1 1.5,.2 2.5,0 4,.7 3,.3 2-.5 1.5,0 2-.5 4.5-.4 3,.3 2-.2 1.5,.2 3,0 2-.5 2.5,.6 6.5-.3 1,.1 .5-.1 3.5-1.4 2.5-1.9 1.5-.8 2.5-2.6 2-1.7 1-.6 2-.7 1,.2 2.5,1.6 5.5,5 2,1.4 1.5,.7 4,.9 2-.3 2.5,.5 2.5-.3 2.5,.2 2-.2 8,.4 2.5-.6 8,.3 1.5-.2 2,.3 1.5-.2 9.5,.2 5-.2 2.5,.4 2-.5 1.5,.2 1-.3 2.5-1.4 2-.9 2-1.3 3-3.8 2-3 2.5-3.3 3-2.1 1-.3 2,.6 1,.7 3,3.6 4.5,6.2 3,2.7 2.5,1.5 1.5,.2 2,.7 2.5-.4 2,.2 2.5-.1 1.5,.2 2-.3 1.5,.3 4-.6 3.5,.6 3-.2 1.5,.3 2-.2 2.5,.3 2.5-.2 2.5,.3 2-.1 2,.3 1.5-.3 2,.4 3-.5 3,.1 1.5,.3 2.5-.4 4,.1" stroke="#0000ff" stroke-width="1.5" fill="none" stroke-linejoin="round" />
<path d="M377.8,509.3l2,.2 2-.2 2.5,.7 1.5,.1 1.5,.5 2-.3 1-.6 1-1.1 5.5-8 1-.9 .5-.1 .5,.1 1,.9 4.5,5 1,.7 1,.1 1-.5 1-.8 3.5-4.4 1-.8 .5-.2 1,.3 1.5,1.2 4.5,6.2 1.5,1.5 5,3.1 1.5,.4 1.5-.2 1.5-1 1-.9 1.5-2.1 1-2 2-4.9 4-14 1-2.2 .5-.6 .5-.1 .5,.4 .5,.8 1,2.4 3.5,12.4 1.5,4.4 1.5,3.1 1.5,1.6 1,.6 1.5,.4 4.5-1.1 2.5,.4 2-.4 7,.5 .5-.1 1-.5 1.5-1.2 1-1.9 .5-1.8 1-5.4 1.5-11.8 3-28.5 1-7.1 1-5.4 1-3.6 .5-1.1 1.5-2 .5-.4 1-.1 2.5,0 2.5,.6 1,.9 1,2.2 1,3.9 1.5,8.8 3,25.8 1.5,9.7 .5,2 .5,1.2 .5,.7 .5,.4 2,.9 1,1.1 4,9.3 2,2.5 1,.6 3,.6 1-.3 1-.9 1-1.3 1-2.4 2.5-9.4 1-3 1-1.7 .5-.2 .5,.5 1,2.3 3.5,11.7 1.5,2.4 1,.7 .5-.1 .5-.6 .5-1.1 1-4.2 1.5-12.5 1.5-20.6 3-51.6 1-8.8 .5-1 .5,1.3 1,9 3,51 1.5,20.4 1,8.3 .5,2.6 .5,1.8 .5,.9 .5,.1 .5-.5 1-2.6 1-4.5 3-16.6 1-2.9 .5-.5 .5,.4 1,2.9 3,17.1 1.5,6.7 1,2.8 1,1.8 1,.9 1.5,.7 4.5,.5 11-.3 2-.5 1-.7 1-1 2.5-3.1 1-.8 1-.5 .5,0 1,.8 3.5,5.7 1,1 1,.6 2-.2 2.5-.6 6,.2 2-.5 1.5-.1 2-.9 1.5-1.6 2.5-3.8 3-5.6 1.5-1 1-.2 1,.6 2,2.3 2.5,5.4 1,1.7 1.5,1.9 1.5,1.4 3,1.4 3,.4 2-.1 1.5,.3 1,0 1.5,.5 1.5-.3 5,0 3,.5 1.5-.2 2,.3 2-.2 2.5,.1 3.5,.4 4-.2 2.5,.4 1.5-.4 2-.2 2,.3 5,.2 2.5-.2 2,.1 5.5-.2 2.5-.3" stroke="#ff00ff" stroke-width="1.5" fill="none" stroke-linejoin="round" />
<path d="M377.8,517.4l4,.7 2-.1 2-.3 1-.5 1.5,.5 3-1 1.5,0 3-1.9 1.5,.3 1.5-.8 1.5-.1 1.5-1 2,.2 1.5-.7 1-.2 1.5,.3 1.5,.9 1.5,.4 1,.5 1,.1 2,1.7 2-.4 1,.4 1,.8 .5,.1 2-.4 1.5,.8 1.5-.7 .5,0 4,.5 1.5,.5 3-1.3 1-1.1 1.5-3.5 1.5-5.5 2-9.7 1.5-6.3 1-2.9 .5-.7 .5-.1 .5,.3 .5,1 1,3 3.5,15.9 2,6.6 .5,1.1 1.5,2.1 .5,.6 1,.4 1.5-.1 1.5,.3 1.5-.6 2.5,.6 2.5-.5 2.5,.6 2-1.1 1,.3 .5-.1 2.5-2 3.5-6.5 1-1.3 .5-.3 .5-.2 1,.2 1,.5 1,.9 .5,.2 .5-.1 2-1 4.5-4.1 2-.6 1-.9 .5-.1 4,2.6 2.5,2.6 4,1.7 2,1.3 1.5,.5 2,1.3 2,2 2.5,.7 2,1.2 1.5,.2 1,.6 2.5,.9 3.5,.7 1.5-.3 1.5-.1 1-.6 2-.7 3.5-3.5 2-2.7 1-.6 .5,.1 .5,.5 2.5,4.1 1,.9 1,.2 2-1.4 3-4.1 1-1.1 .5-.2 .5,.1 1,.9 2,2.6 1,.7 .5,0 1-.6 3.5-3.9 1-.6 .5,.1 .5,.3 .5,.7 2.5,5.5 1,1.6 1.5,1.3 1,.4 1.5-.6 1-.2 2,.6 1.5,.1 2-.5 3.5,.2 1-.4 1.5-1.2 3-.6 2-.1 2-.5 1.5,.6 1.5,.1 2,.5 1,.6 1.5,0 2.5,1.1 1.5,.2 2-.3 3.5,.2 1.5-.4 1-.7 .5-.5 .5-1.1 .5-1.7 1.5-9.9 3-27.9 .5-2.2 .5-.4 .5,1.3 .5,2.8 2.5,23.4 1.5,10.9 1,3.9 .5,.9 1,.8 .5,.1 1-.7 1.5-2.6 1.5-4.7 2.5-9.7 1-2.4 .5-.6 .5-.1 .5,.4 1,2.4 1,3.4 2,8.4 1,3 1.5,2.7 2.5,1.3 2.5-.2 1.5,.4 1.5,.1 1.5,.4 2-.6 3.5,.7 .5,0 1-.5 3-.6 1,.1 2,.8 1,.2 3-.7 6,.1 1.5-.2 2,.3 2-.8 2,.9 1.5,.4 2-.7 1-.1 2,.6 2.5-.2 3.5-.6 1.5,.2 1.5,0 2,.4 1.5-.3 1.5,.1 2-.2" stroke="#808000" stroke-width="1.5" fill="none" stroke-linejoin="round" />
<path d="M377.8,523.5l2.5-.8 2,.4 4-.3 2,.3 1-.2 1.5-.7 1.5,.1 2-.1 1-.4 2-1.2 1.5-.3 2-.8 3,.1 1.5,.9 1.5,.3 1.5,1 2,.7 2-.2 1.5,.5 1.5-.2 2.5,.3 2-.4 1.5,.9 1.5-.3 2,.6 2.5-.8 1.5,0 1.5-.4 1-.1 .5-.2 1-.9 1.5-2.6 2-6.7 2-8.2 .5-1.4 .5-.7 .5-.2 .5,.2 .5,.7 .5,1.1 3.5,13.1 1,3.1 .5,.9 2.5,2.4 .5,.2 2-.4 1.5,.1 1.5-.2 2.5,.6 4-1.1 1.5,.5 3,0 1,.4 1,.1 1-.1 1.5-.5 1.5-.3 1,.1 2,.6 1.5-.5 1.5,.2 1-.6 .5-.9 2-5.7 1-4.8 3-19.5 1-4.1 .5-.8 .5,.1 1,2.9 3.5,19.3 1,4 .5,1.1 .5,.5 2.5,1.4 2.5,1.9 3.5,4.5 1.5,.7 6-.3 2,.9 .5,0 2-.4 2.5,.3 1-.6 1-.1 .5-.3 1-1.3 3-6.8 1-1.2 .5-.4 .5-.1 .5,.4 .5,.9 2,4.7 2.5,3.7 .5,.4 1,.2 3-.1 2,.8 .5-.1 1-1.2 1-2.2 1-4.6 2.5-15.5 .5-1.9 .5-.9 .5,.4 .5,1.6 3,17.6 .5,1.7 .5,1 .5,.6 .5,0 .5-.6 .5-1.5 1-4.7 3-24.9 .5-2.7 .5-1.4 .5,.1 .5,1.6 .5,2.9 2.5,20.7 1,6.1 .5,2.3 1,3 1,1.5 .5,.3 2.5,.3 1.5-.2 2.5,.1 2,.4 4.5-.5 2,.3 2.5,0 2-.8 2,.9 3-.7 2.5,.6 2-.3 2,.2 .5-.2 1.5-1.8 .5-.3 2.5-1.1 2,.5 2,1.3 1.5-.2 .5-.6 1-3.6 3-18.3 .5-1.3 .5,0 .5,1.3 .5,2.5 2,13.7 .5,2.3 .5,1.4 .5,.4 .5-.3 1-2 2-9 .5-1.6 .5-.7 .5,0 .5,.8 3,12 .5,1.3 .5,.8 .5,.3 1-.1 2.5-1.6 2.5-.2 2,1 1,1 1,1.4 1,.6 2,.4 1.5-.3 1.5,.2 1.5-.1 2,.6 2.5-.7 1.5,.4 2.5,0 2,.5 1.5-.3 1.5,.2 1.5-.9 3,.6 2-.6 1,.4 1.5-.2 1.5,.8 .5,.1 2-.9 .5,0 1,.1 3.5-.1 3,.4 1.5-.4 1,.1 1.5-.1 1.5,.8 .5,0 1.5-.1 1.5-.8 2,.5 4-.1 2,.3 1.5-.3 1,.2 1.5-.4" stroke="#000080" stroke-width="1.5" fill="none" stroke-linejoin="round" />
<path d="M377.8,527.7l1,.1 2,.6 2-.4 1.5,.5 1.5,.3 1-.1 1-.5 1,0 2.5,.3 1.5,.5 4-.8 2,.4 2.5,.1 4.5-.4 3,.6 1.5-.2 2-1.2 .5,0 1.5,.8 2-.1 2,.4 6-.6 1.5-.4 2.5,.4 1-.4 1.5-.1 1.5-.9 1-1.2 2.5-4.3 1-.9 .5,.1 .5,.4 2,3.6 2,2.7 .5,.5 1.5,.1 1.5,.8 .5,.1 1-.3 1.5,0 1.5-.2 .5,0 2,.8 1.5-.6 1.5,0 1-.3 2.5,.2 1.5-.5 1.5,.4 1.5,0 2,.3 4-.4 1.5,.6 2-.7 1.5,.3 2-.1 1-.3 2-1.3 2-2.1 1.5-1.4 .5-.2 1,.3 2.5,2.4 1,.1 .5-.2 1-1.4 2.5-7.8 .5-1 .5-.5 .5,.1 .5,.8 2,7 1,2.7 1,1.7 .5,.5 .5,.1 1.5-.2 2,1 1,.2 2-.2 3.5,.1 2.5-.6 2.5,.7 1.5-.7 2.5,.3 2-.6 2,.4 2,.8 1.5-.4 1,.1 1.5-.9 .5,0 2,.1 2.5,.7 3.5-.4 3,.3 1-.4 2-1.5 2.5-4.6 1-1.3 .5-.2 .5,.1 .5,.5 3,4.6 .5,.2 .5-.2 .5-.9 1-3 1-4.1 2-10.2 .5-1.6 .5-.6 .5,.6 .5,1.6 3,15.3 .5,1.6 1,2.2 1,1.4 .5,.3 3.5,.5 2.5-.8 3,.5 1.5-.4 2.5,1.1 2-.7 2,0 1-.5 .5,0 1.5,.6 5-.7 1.5,.8 .5,.1 1-.4 .5,0 1,.5 .5,0 2-.7 1.5,.3 1.5-.1 1.5,.4 2.5-.2 4.5-1.2 1-.8 2-3.3 1-.8 1-.2 2.5,2.2 .5-.1 .5-.7 1-3 2-8.5 .5-1.5 .5-.6 .5,.1 1,2.5 3,12.7 1,1.8 1.5,.8 3,.1 3.5,.8 2.5-.5 1.5,.4 2-.9 1-.1 2.5,1.2 .5,0 5-.8 2,.7 .5-.1 2-.9 .5-.1 4,1 1.5-.6 1.5,.5 4-.6 2,1 .5,0 2-.3 1-.6 .5-.1 1.5,1.1 .5,.1 2-1 3,.3 2-.6 1.5,.2 1.5,.6 .5,0 2-.6 1,.2 1.5-.1 2,.7 1.5-.4 1.5,.2 1.5-.3 1,.3 2.5-.3 1,.2" stroke="#800080" stroke-width="1.5" fill="none" stroke-linejoin="round" />
<path d="M377.8,533.5l2-.3 1,.1 1.5-.2 2,.7 1-.1 1,.1 .5-.1 3.5-2.4 1.5-.1 1.5,.7 1-.2 1-.7 1.5-1.5 .5-.2 2,.4 2.5,2.4 2,1 1,.7 .5,.1 1-.2 2,.1 2-.7 4,.6 2-.3 3.5,0 2-.5 1.5,.3 1.5-.6 .5,0 1.5,.7 2,.2 2.5-.5 2.5,1.5 .5-.1 2-1.5 1-.2 1,0 2,.8 1-.1 1.5-.5 5.5,.8 1.5-.4 2.5-.1 2-.4 3.5,.7 1.5-.2 2.5,.1 1,.2 2,0 1.5,.3 3-.7 1.5,.4 2,0 4-.4 .5-.4 1-1.6 2.5-7.5 1-2.1 .5-.4 .5,.1 .5,.7 2.5,7.6 .5,.7 .5,.1 .5-.5 1-2.8 2.5-11 .5-1.2 .5-.4 .5,.4 .5,1.3 2,9.9 1,3.9 1,2.1 1,1.3 .5,.3 .5,.1 3-1.3 .5,0 1.5,.6 2,.3 2.5,0 1.5-.3 2.5,.5 2,0 1.5-.3 1.5,.1 2-.8 1-.6 1-1.3 .5-1.2 1-4.6 1.5-9 .5-2 .5-1.2 .5-.3 .5,.8 .5,1.8 2.5,13 1,3.1 .5,.8 .5,.2 .5-.3 .5-.5 2-3.6 .5-.7 .5-.2 .5,.4 2,3.6 1,1.3 1.5,1 1.5,.1 1.5,.4 2-.4 1.5,.3 .5-.1 1-.7 1-1.5 1.5-4.4 2.5-11.4 .5-1.7 .5-.7 .5,.4 .5,1.4 2.5,11.3 1.5,4.9 .5,.8 .5,.3 3,.9 2-.2 2,1.1 2-.2 2-.6 2.5,.2 3-.3 .5,.1 1.5,.8 .5,.1 2.5-.6 1.5,.3 2-.3 6,.3 3-.5 3.5,.2 2.5-.5 1.5,.4 3.5,.3 2-.9 1,.2 .5-.2 .5-.5 1.5-3.1 .5-.6 .5-.3 .5,0 .5,.4 1.5,1.6 .5,.1 .5-.2 .5-.8 1-2.8 2.5-9.1 .5-.8 .5-.1 .5,.7 .5,1.4 2,8.6 1,3.3 1,2 1,.7 .5,.1 1.5-.4 2.5,.8 2-.3 1,.3 1.5-.3 1.5,.2 1-.2 1.5,.2 2-.4 2,.3 1.5,0 2.5-.1 3.5-.5 2,.8 3-.2 2.5,0 3,.8 .5-.1 1.5-1 .5-.1 1,.2 2.5-.1 2,.6 1,.1 2-.7 2-.3 2,.6 3.5-.4 2,.2 2-.3 5.5,.7 2-.4 1.5,.5 .5,0 1-.9 .5-.2 2,.5 1.5,.6" stroke="#800000" stroke-width="1.5" fill="none" stroke-linejoin="round" />
<path d="M377.8,538.6l1-.3 3.5,.2 2.5-.4 1.5,.4 1.5,.1 2-.7 1.5,.4 1.5-.3 3,.5 2-.1 2-.4 3.5,.3 1.5,0 1.5-.5 2.5,.7 1.5-.2 2,.2 1.5-.4 2,0 6,.4 3-.3 2.5,0 5.5,.5 1.5-.3 2,.1 2-.3 3.5,.6 2.5-.5 1.5,.2 1.5-.1 2,.4 2-.4 1.5,.1 1.5-.2 2,.3 2-.4 8,.7 2-.6 2,.3 1-.2 2.5,0 5-2.2 1.5-.8 1-.2 1.5,.5 1.5,1.5 2.5,1.1 1,.2 3.5-.4 2,.4 2-.2 2.5,.2 1.5-.2 3,.4 2-.3 2,.2 1.5-.5 1,.1 2,.5 2.5-.5 1.5,.2 1.5-.2 1.5,.1 2-.7 1.5-.1 2-1.4 1-.3 2,.4 3.5,2.1 1,0 2-.4 6.5,.4 1-.3 2,.1 1.5-.7 1.5-.4 1-.8 3.5-3.6 1-.5 2.5-.7 2,.6 1.5,.8 2.5,2.4 4,2.4 2.5,.7 3,.2 2-.6 2,1 .5,.1 2-.3 1.5-.5 2,.1 1.5,.3 4-.2 1.5-.3 2,0 1.5,.5 2,0 3.5-.7 1.5,.6 2-.4 2.5,.6 2-.9 2-.1 1.5-.5 1.5-.9 2-.8 2-2.4 1.5-1.3 3.5-1.5 2-.3 1,.1 1,.4 2.5,1.7 2,2 4,2.4 1,.3 1,.1 3,1.4 2.5,.2 1.5,.5 .5,.1 2-1 1.5,0 1.5,.5 2-.2 1.5,.1 1.5-.6 3,0 2,.5 1.5-.5 .5,0 2,.6 2-.4 5,.5 3-.4 3,.6 2-.9 2,.4 2-.4 1,0 1.5,.7 1,.1 1-.1 1.5-.7 4-.2 3,.7 2-.2 2-.6 3,.8 1.5-.3" stroke="#008000" stroke-width="1.5" fill="none" stroke-linejoin="round" />
<path d="M377.8,543.3l2-.3 1.5,.4 2,.2 1.5-.3 2,.8 2.5,0 1-.2 2,.5 1.5-.9 .5-.1 4.5,.4 1.5-.2 1,.3 2-.4 2,.4 .5-.1 1.5-.8 1.5,.5 2.5,.3 4-.1 1.5-.3 2.5,.1 1-.3 2,.6 1.5-.6 3,.6 1.5-.5 .5,0 1.5,.6 .5-.1 1-.5 1.5-.3 1.5-1 1.5-1.4 .5-.2 .5,.1 .5,.4 2,2.1 2,.8 .5,0 1.5-.5 .5-.1 5,.6 2-.5 2.5,0 1.5,.3 2.5-.5 1.5-.1 3.5,.7 1.5-.1 1.5,.3 1,0 1.5-.4 1.5,.3 2.5,0 1.5-.4 3.5,0 .5-.3 1-1.4 2-5.4 .5-.3 .5,.6 1.5,4 1,1.7 .5,.4 2.5,.9 .5-.1 .5-.6 .5-.9 1-3.3 1-4.3 .5-1.4 .5-.4 .5,.7 1.5,6.2 1,3.1 .5,.6 .5,.3 1.5,.3 2-.4 4,.4 2.5-.5 2,.6 3.5,.2 1.5-.6 2-.2 2.5,.8 2-.2 1-.3 2.5,.1 2.5-1.1 .5-.4 1.5-2.2 .5-.5 .5,0 1.5,1.5 .5,.3 .5-.1 2-1.5 .5,.2 2,2.5 1,.7 1,.3 2.5,.3 1.5-.3 2,.6 .5,0 1.5-.8 1.5,.7 2,0 1-.3 2-1.7 1.5-2.1 1-.8 .5,0 .5,.4 3,3.8 1,.3 1.5-.2 2,.6 2.5-.1 1.5-.4 3.5,.3 1.5,.5 3-.8 2,.4 2.5-.4 2.5,.3 2-.5 1.5,.2 2,.8 2-.5 1.5,.1 1.5,0 1.5-.8 5,.9 4-.7 1,.2 3.5,0 2,.4 3.5-.4 1.5,.3 1-.2 1-.8 1.5-1.8 1.5-2.6 .5-.5 .5,.1 .5,.5 2.5,3.6 2.5,1.7 2,.2 2.5-.4 5,.5 1-.3 1.5,.1 4.5-.8 2.5,1 2.5-.4 2,.4 2.5-.6 3.5,.2 1.5,.4 3.5-.8 1.5,.4 1.5-.2 2,.4 2-.5 4.5,.4 1.5-.8 .5-.1 1.5,.7 2,0 1.5,.6 3-.9 1.5,.3 1.5,.1 2.5-.4 2,.7 1.5-.1 1.5,.2 3-.4 3,0" stroke="#008080" stroke-width="1.5" fill="none" stroke-linejoin="round" />
</g>
<path d="M439.7,446.5 444.7,446.5 444.7,459.0 446.9,459.0 442.2,469.0 437.4,459.0 439.7,459.0Z" fill="#ff0000"/>
<text x="434.5" y="443.3" font-size="14" text-anchor="middle" font-weight="normal" fill="#000">a</text>
<path d="M541.1,446.5 546.1,446.5 546.1,459.0 548.4,459.0 543.6,469.0 538.9,459.0 541.1,459.0Z" fill="#ff0000"/>
<text x="533.6" y="446.1" font-size="14" text-anchor="middle" font-weight="normal" fill="#000">b</text>
<path d="M609.7,446.5 614.7,446.5 614.7,459.0 617.0,459.0 612.2,469.0 607.5,459.0 609.7,459.0Z" fill="#ff0000"/>
<text x="604.5" y="445" font-size="14" text-anchor="middle" font-weight="normal" fill="#000">c</text>
<text x="678" y="466.3" font-size="12.6" text-anchor="middle" font-weight="normal" fill="#000">modes</text>
<text x="684" y="486.8" font-size="14" text-anchor="middle" font-weight="normal" fill="#000">1</text>
<rect x="681" y="531" width="16" height="14" fill="#fff"/>
<text x="688.7" y="543.3" font-size="14" text-anchor="middle" font-weight="normal" fill="#000">10</text>
<line x1="685" y1="493.8" x2="685" y2="518" stroke="#000" stroke-width="2.8"/>
<path d="M680.8,517 L689.2,517 L685,526 Z" fill="#000"/>
<rect x="377.8" y="402.5" width="320.5" height="143" fill="none" stroke="#222" stroke-width="1.3"/>
<line x1="377.8" y1="543.6" x2="381.8" y2="543.6" stroke="#222" stroke-width="1.1"/>
<line x1="698.3" y1="543.6" x2="694.3" y2="543.6" stroke="#222" stroke-width="1.1"/>
<line x1="377.8" y1="492.1" x2="381.8" y2="492.1" stroke="#222" stroke-width="1.1"/>
<line x1="698.3" y1="492.1" x2="694.3" y2="492.1" stroke="#222" stroke-width="1.1"/>
<line x1="377.8" y1="440.6" x2="381.8" y2="440.6" stroke="#222" stroke-width="1.1"/>
<line x1="698.3" y1="440.6" x2="694.3" y2="440.6" stroke="#222" stroke-width="1.1"/>
<line x1="377.8" y1="517.9" x2="380.3" y2="517.9" stroke="#222" stroke-width="1.1"/>
<line x1="698.3" y1="517.9" x2="695.8" y2="517.9" stroke="#222" stroke-width="1.1"/>
<line x1="377.8" y1="466.4" x2="380.3" y2="466.4" stroke="#222" stroke-width="1.1"/>
<line x1="698.3" y1="466.4" x2="695.8" y2="466.4" stroke="#222" stroke-width="1.1"/>
<line x1="377.8" y1="414.9" x2="380.3" y2="414.9" stroke="#222" stroke-width="1.1"/>
<line x1="698.3" y1="414.9" x2="695.8" y2="414.9" stroke="#222" stroke-width="1.1"/>
<line x1="484.6" y1="545.5" x2="484.6" y2="541.5" stroke="#222" stroke-width="1.1"/>
<line x1="591.5" y1="545.5" x2="591.5" y2="541.5" stroke="#222" stroke-width="1.1"/>
<line x1="431.2" y1="545.5" x2="431.2" y2="543" stroke="#222" stroke-width="1.1"/>
<line x1="538.1" y1="545.5" x2="538.1" y2="543" stroke="#222" stroke-width="1.1"/>
<line x1="644.9" y1="545.5" x2="644.9" y2="543" stroke="#222" stroke-width="1.1"/>
<line x1="464.6" y1="402.5" x2="464.6" y2="406.5" stroke="#222" stroke-width="1.1"/>
<line x1="550.2" y1="402.5" x2="550.2" y2="406.5" stroke="#222" stroke-width="1.1"/>
<line x1="635.8" y1="402.5" x2="635.8" y2="406.5" stroke="#222" stroke-width="1.1"/>
<line x1="421.8" y1="402.5" x2="421.8" y2="405" stroke="#222" stroke-width="1.1"/>
<line x1="507.4" y1="402.5" x2="507.4" y2="405" stroke="#222" stroke-width="1.1"/>
<line x1="593" y1="402.5" x2="593" y2="405" stroke="#222" stroke-width="1.1"/>
<line x1="678.6" y1="402.5" x2="678.6" y2="405" stroke="#222" stroke-width="1.1"/>
<text x="345" y="572.5" font-size="19.5" font-weight="bold" text-anchor="middle" fill="#000">g</text>
<text x="371.5" y="725.2" font-size="11" text-anchor="end" font-weight="normal" fill="#1a1a1a">0.0</text>
<text x="371.5" y="682" font-size="11" text-anchor="end" font-weight="normal" fill="#1a1a1a">0.5</text>
<text x="371.5" y="638.8" font-size="11" text-anchor="end" font-weight="normal" fill="#1a1a1a">1.0</text>
<text x="371.5" y="595.6" font-size="11" text-anchor="end" font-weight="normal" fill="#1a1a1a">1.5</text>
<text x="418.9" y="736.9" font-size="11" text-anchor="middle" font-weight="normal" fill="#1a1a1a">100</text>
<text x="558.8" y="736.9" font-size="11" text-anchor="middle" font-weight="normal" fill="#1a1a1a">1k</text>
<text x="698.7" y="736.9" font-size="11" text-anchor="middle" font-weight="normal" fill="#1a1a1a">10k</text>
<text x="538" y="756.5" font-size="11.3" text-anchor="middle" font-weight="normal" fill="#1a1a1a">Frequency (Hz)</text>
<text transform="translate(343.5,652) rotate(-90)" font-size="11.3" text-anchor="middle" fill="#1a1a1a">Modal energy (a.u.)</text>
<circle cx="432.5" cy="624.7" r="31" fill="#9bb8ea" stroke="#111" stroke-width="1.2"/>
<path d="M432.5,624.7 L432.5,593.7 A31,31 0 0 1 462.53,616.99 Z" fill="#f8f5a2" stroke="#111" stroke-width="1.2"/>
<text x="446.5" y="614.8" font-size="11.5" text-anchor="middle" font-weight="normal" fill="#1a1a1a">21%</text>
<text x="424" y="642.9" font-size="11.5" text-anchor="middle" font-weight="normal" fill="#1a1a1a">79%</text>
<g clip-path="url(#clipG)">
<path d="M405.5,714.3l12.5-12.7 9-8.6 8.5-7.4 7.5-5.8 7.5-4.7 3.5-1.8 3.5-1.6 3.5-1.2 3-.8 3-.5 3-.2 3.5,.4 3.5,1.1 3.5,2 3,2.5 3,3.1 3.5,4.2 12.5,17.4 5,6.3 3,3.1 2.5,2.2 2.5,1.6 2.5,1.1 1.5,.3 1.5,0 3-.7 3-1.6 3.5-2.8 3-3 3.5-4.2 14.5-19 3.5-3.9 3.5-3.2 3-2.1 3-1.4 3-.8 3.5-.3 3.5,.5 4,1.3 4,2.2 4,2.8 3.5,3 4,3.9 13,13.9 5.5,5.5 5.5,4.8 5.5,4 5,2.7 2.5,1 2.5,.7 5.5,.8 7.5,.3" stroke="#000000" stroke-width="1.3" fill="none" stroke-linejoin="round" />
<path d="M405.5,680.7l6,6.9 6,6.3 6,5.6 6.5,5.5 6,4.5 6,3.8 6,3.3 6.5,3 6.5,2.3 6.5,1.6 6.5,1.1 7,.4 6.5-.3 5.5-.9 5-1.5 5-2.3 6-3.9 15-10.8 2-2 1.5-2 1.5-2.5 1.5-3 1.5-3.8 1.5-4.6 3-11.7 3-13.9 7-34.6 2-9 2-7.8 2-6.4 2-4.7 1-1.6 1-1 1-.4 .5,.1 .5,.2 1,.9 1,1.6 1,2.1 1.5,4.1 2,7.2 2,8.6 2,9.8 8,43.2 3.5,16.9 2,8 1.5,5 2,4.9 1.5,2.2 1,.8 1.5,.3 1.5-.7 1.5-1.5 1.5-2.2 1.5-2.7 6.5-13.8 2.5-4.5 1.5-2 1-1 1-.6 1.5-.3 1,.2 1.5,.8 1.5,1.3 1.5,1.8 3.5,5.4 7,13.1 3,4.9 3,3.6 1.5,1.3 2,1.2 2,.8 2.5,.6 7,.6 7.5,1.2 3,.1 2.5-.3 3-1 3-1.5 4.5-2.7" stroke="#ff0000" stroke-width="1.3" fill="none" stroke-linejoin="round" />
<path d="M405.5,700.6l17.5,7.3 6.5,2.5 6,1.9 6,1.7 5.5,1.3 5.5,.9 5,.4 5.5,.1 5-.3 5-.8 4.5-1.1 3.5-1.1 4-1.6 14-6.6 5-2.1 5.5-1.8 5-.9 4.5,.1 4.5,.9 4,1.4 9.5,3.9 4.5,1.5 4,.6 3.5-.2 2.5-.6 2.5-1.1 2.5-1.7 2-1.8 2.5-2.8 2.5-3.2 11-16.6 4.5-5.9 2.5-2.6 2.5-1.9 2.5-1 2-.2 2,.5 2.5,1.2 2,1.4 2.5,2.3 4.5,5.2 10,13.3 5.5,6.7 5,5.1 2.5,2 2.5,1.6 2,1 2,.7 2,.4 2,.1 4-.2 10-1.5 3.5-.1 3,.2 3,.7 3,1.2 3.5,1.7 5,3" stroke="#0000ff" stroke-width="1.3" fill="none" stroke-linejoin="round" />
<path d="M405.5,708.3 L411.9,719.8 L399.1,719.8 Z" fill="#fff" stroke="#000000" stroke-width="2.4" stroke-linejoin="round"/>
<path d="M481.3,667.1 L487.7,678.6 L474.9,678.6 Z" fill="#fff" stroke="#000000" stroke-width="2.4" stroke-linejoin="round"/>
<path d="M520.0,708.3 L526.4,719.8 L513.6,719.8 Z" fill="#fff" stroke="#000000" stroke-width="2.4" stroke-linejoin="round"/>
<path d="M558.1,670.2 L564.5,681.7 L551.7,681.7 Z" fill="#fff" stroke="#000000" stroke-width="2.4" stroke-linejoin="round"/>
<path d="M586.5,672.1 L592.9,683.6 L580.1,683.6 Z" fill="#fff" stroke="#000000" stroke-width="2.4" stroke-linejoin="round"/>
<path d="M607.4,693.3 L613.8,704.8 L601.0,704.8 Z" fill="#fff" stroke="#000000" stroke-width="2.4" stroke-linejoin="round"/>
<path d="M630.2,710.6 L636.6,722.1 L623.8,722.1 Z" fill="#fff" stroke="#000000" stroke-width="2.4" stroke-linejoin="round"/>
<path d="M646.6,712.7 L653.0,724.2 L640.2,724.2 Z" fill="#fff" stroke="#000000" stroke-width="2.4" stroke-linejoin="round"/>
<path d="M405.5,674.7 L411.9,686.2 L399.1,686.2 Z" fill="#fff" stroke="#ff0000" stroke-width="2.4" stroke-linejoin="round"/>
<path d="M481.3,719.0 L487.7,730.5 L474.9,730.5 Z" fill="#fff" stroke="#ff0000" stroke-width="2.4" stroke-linejoin="round"/>
<path d="M520.0,702.2 L526.4,713.7 L513.6,713.7 Z" fill="#fff" stroke="#ff0000" stroke-width="2.4" stroke-linejoin="round"/>
<path d="M558.1,590.4 L564.5,601.9 L551.7,601.9 Z" fill="#fff" stroke="#ff0000" stroke-width="2.4" stroke-linejoin="round"/>
<path d="M586.5,703.8 L592.9,715.3 L580.1,715.3 Z" fill="#fff" stroke="#ff0000" stroke-width="2.4" stroke-linejoin="round"/>
<path d="M607.4,677.9 L613.8,689.4 L601.0,689.4 Z" fill="#fff" stroke="#ff0000" stroke-width="2.4" stroke-linejoin="round"/>
<path d="M630.2,706.0 L636.6,717.5 L623.8,717.5 Z" fill="#fff" stroke="#ff0000" stroke-width="2.4" stroke-linejoin="round"/>
<path d="M646.6,712.5 L653.0,724.0 L640.2,724.0 Z" fill="#fff" stroke="#ff0000" stroke-width="2.4" stroke-linejoin="round"/>
<path d="M658.9,713.7 L665.3,725.2 L652.5,725.2 Z" fill="#fff" stroke="#ff0000" stroke-width="2.4" stroke-linejoin="round"/>
<path d="M670.5,708.3 L676.9,719.8 L664.1,719.8 Z" fill="#fff" stroke="#ff0000" stroke-width="2.4" stroke-linejoin="round"/>
<path d="M405.5,694.6 L411.9,706.1 L399.1,706.1 Z" fill="#fff" stroke="#0000ff" stroke-width="2.4" stroke-linejoin="round"/>
<path d="M481.3,707.3 L487.7,718.8 L474.9,718.8 Z" fill="#fff" stroke="#0000ff" stroke-width="2.4" stroke-linejoin="round"/>
<path d="M520.0,694.6 L526.4,706.1 L513.6,706.1 Z" fill="#fff" stroke="#0000ff" stroke-width="2.4" stroke-linejoin="round"/>
<path d="M558.1,697.8 L564.5,709.3 L551.7,709.3 Z" fill="#fff" stroke="#0000ff" stroke-width="2.4" stroke-linejoin="round"/>
<path d="M586.5,663.4 L592.9,674.9 L580.1,674.9 Z" fill="#fff" stroke="#0000ff" stroke-width="2.4" stroke-linejoin="round"/>
<path d="M607.4,681.0 L613.8,692.5 L601.0,692.5 Z" fill="#fff" stroke="#0000ff" stroke-width="2.4" stroke-linejoin="round"/>
<path d="M630.2,703.8 L636.6,715.3 L623.8,715.3 Z" fill="#fff" stroke="#0000ff" stroke-width="2.4" stroke-linejoin="round"/>
<path d="M646.6,703.3 L653.0,714.8 L640.2,714.8 Z" fill="#fff" stroke="#0000ff" stroke-width="2.4" stroke-linejoin="round"/>
<path d="M658.9,703.8 L665.3,715.3 L652.5,715.3 Z" fill="#fff" stroke="#0000ff" stroke-width="2.4" stroke-linejoin="round"/>
<path d="M670.5,709.7 L676.9,721.2 L664.1,721.2 Z" fill="#fff" stroke="#0000ff" stroke-width="2.4" stroke-linejoin="round"/>
</g>
<rect x="637.3" y="592.4" width="36.8" height="42.8" fill="#fff" stroke="#222" stroke-width="1"/>
<line x1="638" y1="600.4" x2="663.4" y2="600.4" stroke="#000000" stroke-width="1.3"/>
<path d="M651.0,592.9 L656.9,603.5 L645.1,603.5 Z" fill="#fff" stroke="#000000" stroke-width="2.4" stroke-linejoin="round"/>
<text x="666.5" y="603.3" font-size="11" text-anchor="start" font-weight="normal" fill="#1a1a1a">a</text>
<line x1="638" y1="614.3" x2="663.4" y2="614.3" stroke="#ff0000" stroke-width="1.3"/>
<path d="M651.0,606.8 L656.9,617.4 L645.1,617.4 Z" fill="#fff" stroke="#ff0000" stroke-width="2.4" stroke-linejoin="round"/>
<text x="666.5" y="618.2" font-size="11" text-anchor="start" font-weight="normal" fill="#1a1a1a">b</text>
<line x1="638" y1="627.8" x2="663.4" y2="627.8" stroke="#0000ff" stroke-width="1.3"/>
<path d="M651.0,620.3 L656.9,630.9 L645.1,630.9 Z" fill="#fff" stroke="#0000ff" stroke-width="2.4" stroke-linejoin="round"/>
<text x="666.5" y="630.7" font-size="11" text-anchor="start" font-weight="normal" fill="#1a1a1a">c</text>
<rect x="377.7" y="583" width="320.6" height="138.5" fill="none" stroke="#222" stroke-width="1.3"/>
<line x1="377.7" y1="721.3" x2="381.7" y2="721.3" stroke="#222" stroke-width="1.1"/>
<line x1="698.3" y1="721.3" x2="694.3" y2="721.3" stroke="#222" stroke-width="1.1"/>
<line x1="377.7" y1="678.1" x2="381.7" y2="678.1" stroke="#222" stroke-width="1.1"/>
<line x1="698.3" y1="678.1" x2="694.3" y2="678.1" stroke="#222" stroke-width="1.1"/>
<line x1="377.7" y1="634.9" x2="381.7" y2="634.9" stroke="#222" stroke-width="1.1"/>
<line x1="698.3" y1="634.9" x2="694.3" y2="634.9" stroke="#222" stroke-width="1.1"/>
<line x1="377.7" y1="591.7" x2="381.7" y2="591.7" stroke="#222" stroke-width="1.1"/>
<line x1="698.3" y1="591.7" x2="694.3" y2="591.7" stroke="#222" stroke-width="1.1"/>
<line x1="377.7" y1="699.7" x2="380.2" y2="699.7" stroke="#222" stroke-width="1.1"/>
<line x1="698.3" y1="699.7" x2="695.8" y2="699.7" stroke="#222" stroke-width="1.1"/>
<line x1="377.7" y1="656.5" x2="380.2" y2="656.5" stroke="#222" stroke-width="1.1"/>
<line x1="698.3" y1="656.5" x2="695.8" y2="656.5" stroke="#222" stroke-width="1.1"/>
<line x1="377.7" y1="613.3" x2="380.2" y2="613.3" stroke="#222" stroke-width="1.1"/>
<line x1="698.3" y1="613.3" x2="695.8" y2="613.3" stroke="#222" stroke-width="1.1"/>
<line x1="418.9" y1="721.5" x2="418.9" y2="717.5" stroke="#222" stroke-width="1.1"/>
<line x1="418.9" y1="583" x2="418.9" y2="587" stroke="#222" stroke-width="1.1"/>
<line x1="558.8" y1="721.5" x2="558.8" y2="717.5" stroke="#222" stroke-width="1.1"/>
<line x1="558.8" y1="583" x2="558.8" y2="587" stroke="#222" stroke-width="1.1"/>
<line x1="387.9" y1="721.5" x2="387.9" y2="719" stroke="#222" stroke-width="1.1"/>
<line x1="387.9" y1="583" x2="387.9" y2="585.5" stroke="#222" stroke-width="1.1"/>
<line x1="397.2" y1="721.5" x2="397.2" y2="719" stroke="#222" stroke-width="1.1"/>
<line x1="397.2" y1="583" x2="397.2" y2="585.5" stroke="#222" stroke-width="1.1"/>
<line x1="405.3" y1="721.5" x2="405.3" y2="719" stroke="#222" stroke-width="1.1"/>
<line x1="405.3" y1="583" x2="405.3" y2="585.5" stroke="#222" stroke-width="1.1"/>
<line x1="412.5" y1="721.5" x2="412.5" y2="719" stroke="#222" stroke-width="1.1"/>
<line x1="412.5" y1="583" x2="412.5" y2="585.5" stroke="#222" stroke-width="1.1"/>
<line x1="461" y1="721.5" x2="461" y2="719" stroke="#222" stroke-width="1.1"/>
<line x1="461" y1="583" x2="461" y2="585.5" stroke="#222" stroke-width="1.1"/>
<line x1="485.6" y1="721.5" x2="485.6" y2="719" stroke="#222" stroke-width="1.1"/>
<line x1="485.6" y1="583" x2="485.6" y2="585.5" stroke="#222" stroke-width="1.1"/>
<line x1="503.1" y1="721.5" x2="503.1" y2="719" stroke="#222" stroke-width="1.1"/>
<line x1="503.1" y1="583" x2="503.1" y2="585.5" stroke="#222" stroke-width="1.1"/>
<line x1="516.7" y1="721.5" x2="516.7" y2="719" stroke="#222" stroke-width="1.1"/>
<line x1="516.7" y1="583" x2="516.7" y2="585.5" stroke="#222" stroke-width="1.1"/>
<line x1="527.8" y1="721.5" x2="527.8" y2="719" stroke="#222" stroke-width="1.1"/>
<line x1="527.8" y1="583" x2="527.8" y2="585.5" stroke="#222" stroke-width="1.1"/>
<line x1="537.1" y1="721.5" x2="537.1" y2="719" stroke="#222" stroke-width="1.1"/>
<line x1="537.1" y1="583" x2="537.1" y2="585.5" stroke="#222" stroke-width="1.1"/>
<line x1="545.2" y1="721.5" x2="545.2" y2="719" stroke="#222" stroke-width="1.1"/>
<line x1="545.2" y1="583" x2="545.2" y2="585.5" stroke="#222" stroke-width="1.1"/>
<line x1="552.4" y1="721.5" x2="552.4" y2="719" stroke="#222" stroke-width="1.1"/>
<line x1="552.4" y1="583" x2="552.4" y2="585.5" stroke="#222" stroke-width="1.1"/>
<line x1="600.9" y1="721.5" x2="600.9" y2="719" stroke="#222" stroke-width="1.1"/>
<line x1="600.9" y1="583" x2="600.9" y2="585.5" stroke="#222" stroke-width="1.1"/>
<line x1="625.5" y1="721.5" x2="625.5" y2="719" stroke="#222" stroke-width="1.1"/>
<line x1="625.5" y1="583" x2="625.5" y2="585.5" stroke="#222" stroke-width="1.1"/>
<line x1="643" y1="721.5" x2="643" y2="719" stroke="#222" stroke-width="1.1"/>
<line x1="643" y1="583" x2="643" y2="585.5" stroke="#222" stroke-width="1.1"/>
<line x1="656.6" y1="721.5" x2="656.6" y2="719" stroke="#222" stroke-width="1.1"/>
<line x1="656.6" y1="583" x2="656.6" y2="585.5" stroke="#222" stroke-width="1.1"/>
<line x1="667.7" y1="721.5" x2="667.7" y2="719" stroke="#222" stroke-width="1.1"/>
<line x1="667.7" y1="583" x2="667.7" y2="585.5" stroke="#222" stroke-width="1.1"/>
<line x1="677" y1="721.5" x2="677" y2="719" stroke="#222" stroke-width="1.1"/>
<line x1="677" y1="583" x2="677" y2="585.5" stroke="#222" stroke-width="1.1"/>
<line x1="685.1" y1="721.5" x2="685.1" y2="719" stroke="#222" stroke-width="1.1"/>
<line x1="685.1" y1="583" x2="685.1" y2="585.5" stroke="#222" stroke-width="1.1"/>
<line x1="692.3" y1="721.5" x2="692.3" y2="719" stroke="#222" stroke-width="1.1"/>
<line x1="692.3" y1="583" x2="692.3" y2="585.5" stroke="#222" stroke-width="1.1"/>
</svg></body></html>
